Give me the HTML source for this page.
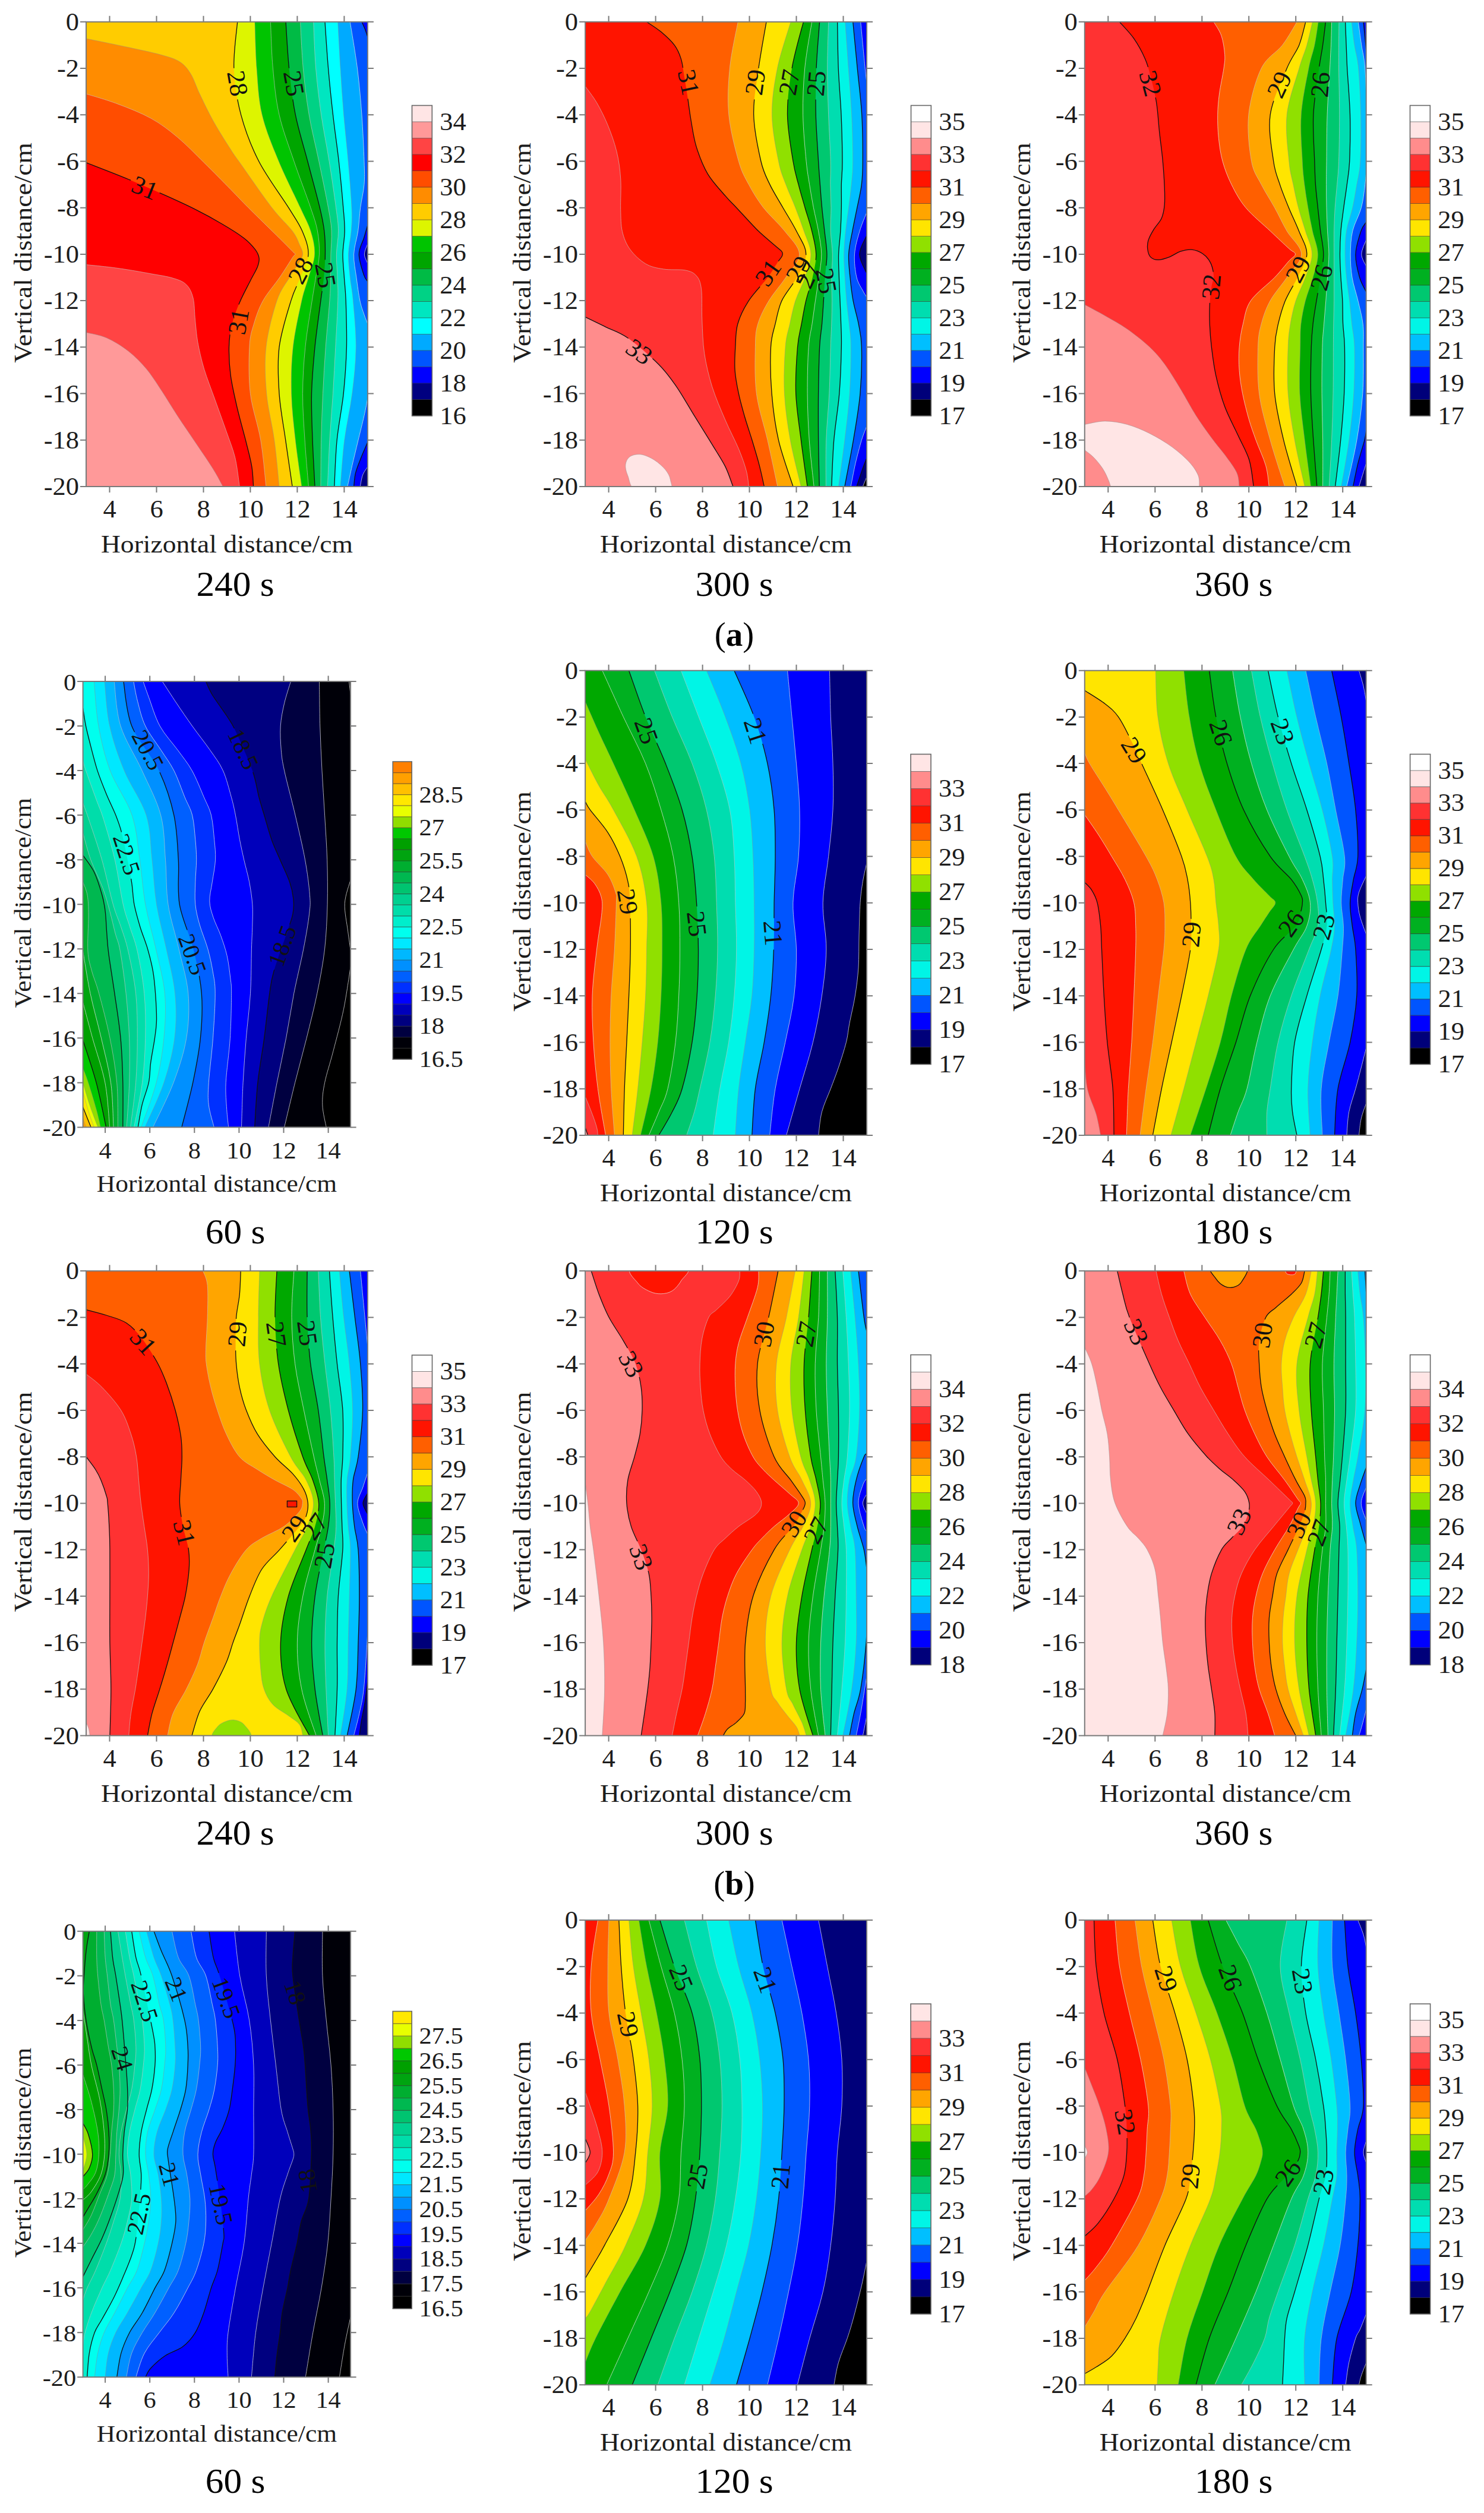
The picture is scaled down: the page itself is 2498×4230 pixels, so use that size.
<!DOCTYPE html>
<html><head><meta charset="utf-8"><title>Figure</title>
<style>html,body{margin:0;padding:0;background:#fff}svg{display:block}text{font-family:"Liberation Serif",serif}</style>
</head><body>
<svg width="2498" height="4230" viewBox="0 0 2498 4230">
<rect width="2498" height="4230" fill="#fff"/>
<clipPath id="c1"><rect x="145.0" y="36.8" width="473.9" height="782.2"/></clipPath>
<g clip-path="url(#c1)">
<rect x="144.0" y="35.8" width="475.9" height="784.2" fill="#00AAFF"/>
<path d="M568.7 36.8C569.5 49.8 571.4 88.9 573.1 115.0C574.7 141.1 576.4 167.2 578.6 193.2C580.8 219.3 583.9 245.4 586.1 271.5C588.4 297.5 591.2 330.1 592.0 349.7C592.9 369.2 592.2 375.8 591.3 388.8C590.3 401.8 586.8 414.9 586.5 427.9C586.2 440.9 588.0 454.0 589.3 467.0C590.6 480.0 592.8 486.6 594.4 506.1C596.1 525.7 599.4 558.3 599.2 584.3C598.9 610.4 596.1 636.5 592.8 662.6C589.6 688.6 583.1 714.7 579.8 740.8C576.5 766.9 574.2 806.0 573.1 819.0L573.1 824.0 L140.0 824.0L140.0 31.8 L568.7 31.8Z" fill="#00FFFF"/>
<path d="M547.0 36.8C547.9 49.8 550.3 88.9 552.6 115.0C554.8 141.1 557.5 167.2 560.5 193.2C563.4 219.3 567.4 245.4 570.3 271.5C573.2 297.5 576.2 330.1 577.8 349.7C579.5 369.2 580.3 375.8 580.2 388.8C580.1 401.8 577.2 414.9 577.0 427.9C576.9 440.9 578.6 454.0 579.4 467.0C580.3 480.0 581.5 486.6 582.2 506.1C582.8 525.7 584.0 558.3 583.4 584.3C582.7 610.4 580.9 636.5 578.2 662.6C575.5 688.6 569.7 714.7 567.2 740.8C564.6 766.9 563.5 806.0 562.8 819.0L562.8 824.0 L140.0 824.0L140.0 31.8 L547.0 31.8Z" fill="#00E6C0"/>
<path d="M527.7 36.8C528.3 49.8 529.5 88.9 531.6 115.0C533.8 141.1 537.0 167.2 540.7 193.2C544.5 219.3 550.0 245.4 554.1 271.5C558.3 297.5 563.0 330.1 565.6 349.7C568.2 369.2 569.4 375.8 569.5 388.8C569.7 401.8 566.6 414.9 566.4 427.9C566.1 440.9 567.6 454.0 568.0 467.0C568.4 480.0 569.3 486.6 568.7 506.1C568.2 525.7 566.2 558.3 564.8 584.3C563.4 610.4 562.1 636.5 560.5 662.6C558.8 688.6 556.4 714.7 554.9 740.8C553.4 766.9 552.0 806.0 551.4 819.0L551.4 824.0 L140.0 824.0L140.0 31.8 L527.7 31.8Z" fill="#00D285"/>
<path d="M505.6 36.8C506.3 49.8 507.9 88.9 510.3 115.0C512.7 141.1 515.8 167.2 520.2 193.2C524.6 219.3 531.4 245.4 536.8 271.5C542.2 297.5 549.0 330.1 552.6 349.7C556.1 369.2 557.4 375.8 558.1 388.8C558.8 401.8 557.2 414.9 556.9 427.9C556.6 440.9 556.8 454.0 556.5 467.0C556.2 480.0 556.3 486.6 554.9 506.1C553.5 525.7 550.1 558.3 548.2 584.3C546.3 610.4 544.7 636.5 543.5 662.6C542.2 688.6 541.3 714.7 540.7 740.8C540.1 766.9 540.0 806.0 539.9 819.0L539.9 824.0 L140.0 824.0L140.0 31.8 L505.6 31.8Z" fill="#00BB45"/>
<path d="M481.1 36.8C482.0 49.8 483.9 88.9 486.6 115.0C489.3 141.1 492.1 167.2 497.3 193.2C502.5 219.3 511.0 245.4 517.8 271.5C524.6 297.5 533.7 330.1 538.3 349.7C543.0 369.2 544.3 375.8 545.8 388.8C547.4 401.8 547.6 414.9 547.4 427.9C547.3 440.9 546.3 454.0 545.1 467.0C543.8 480.0 542.4 486.6 539.9 506.1C537.4 525.7 532.6 558.3 530.0 584.3C527.5 610.4 525.2 636.5 524.5 662.6C523.9 688.6 525.2 714.7 526.1 740.8C527.0 766.9 529.4 806.0 530.0 819.0L530.0 824.0 L140.0 824.0L140.0 31.8 L481.1 31.8Z" fill="#00A500"/>
<path d="M455.4 36.8C456.1 49.8 456.9 88.9 459.4 115.0C461.8 141.1 464.1 167.2 470.0 193.2C475.9 219.3 486.1 245.4 494.9 271.5C503.7 297.5 516.4 330.1 522.9 349.7C529.5 369.2 532.0 375.8 534.4 388.8C536.8 401.8 538.0 414.9 537.5 427.9C537.1 440.9 533.7 454.0 531.6 467.0C529.6 480.0 528.3 486.6 525.3 506.1C522.3 525.7 516.5 558.3 513.9 584.3C511.2 610.4 509.6 636.5 509.5 662.6C509.4 688.6 511.4 714.7 513.1 740.8C514.7 766.9 518.3 806.0 519.4 819.0L519.4 824.0 L140.0 824.0L140.0 31.8 L455.4 31.8Z" fill="#00C400"/>
<path d="M428.9 36.8C429.5 49.8 430.1 88.9 432.1 115.0C434.1 141.1 435.0 167.2 441.2 193.2C447.4 219.3 458.5 245.4 469.2 271.5C480.0 297.5 496.6 330.1 505.6 349.7C514.5 369.2 518.9 375.8 522.9 388.8C527.0 401.8 530.2 414.9 529.6 427.9C529.1 440.9 523.0 454.0 519.4 467.0C515.8 480.0 512.3 486.6 507.9 506.1C503.6 525.7 496.2 558.3 493.3 584.3C490.4 610.4 489.9 636.5 490.6 662.6C491.2 688.6 494.4 714.7 497.3 740.8C500.2 766.9 506.2 806.0 507.9 819.0L507.9 824.0 L140.0 824.0L140.0 31.8 L428.9 31.8Z" fill="#DDF500"/>
<path d="M399.7 36.8C398.7 49.8 392.8 88.9 393.8 115.0C394.8 141.1 398.7 167.2 405.6 193.2C412.6 219.3 422.3 245.4 435.7 271.5C449.0 297.5 473.6 330.1 485.8 349.7C498.0 369.2 503.2 375.8 508.7 388.8C514.2 401.8 519.5 414.9 519.0 427.9C518.5 440.9 510.4 454.0 505.6 467.0C500.7 480.0 495.7 486.6 489.8 506.1C483.8 525.7 473.3 558.3 470.0 584.3C466.7 610.4 468.2 636.5 470.0 662.6C471.8 688.6 477.0 714.7 480.7 740.8C484.4 766.9 490.2 806.0 492.1 819.0L492.1 824.0 L140.0 824.0L140.0 31.8 L399.7 31.8Z" fill="#FFCC00"/>
<path d="M145.0 65.0C156.9 67.4 195.2 75.2 216.5 79.8C237.7 84.4 258.2 88.7 272.6 92.7C286.9 96.8 294.5 98.8 302.6 104.1C310.7 109.3 315.5 115.4 321.1 124.4C326.7 133.4 329.9 144.9 336.1 158.0C342.4 171.1 350.0 187.4 358.6 203.0C367.3 218.6 380.4 239.3 388.3 251.5C396.1 263.8 394.1 260.2 405.6 276.5C417.2 292.9 443.4 331.0 457.8 349.7C472.2 368.4 484.4 378.4 492.1 388.8C499.9 399.2 501.5 405.7 504.4 412.3C507.3 418.8 509.8 422.7 509.5 427.9C509.2 433.1 506.1 437.0 502.4 443.5C498.7 450.1 493.4 456.6 487.4 467.0C481.3 477.4 472.6 486.6 466.1 506.1C459.5 525.7 450.8 558.3 447.9 584.3C445.0 610.4 446.4 636.5 448.7 662.6C451.0 688.6 458.2 714.7 461.7 740.8C465.3 766.9 468.6 806.0 470.0 819.0L470.0 824.0 L140.0 824.0L140.0 65.0Z" fill="#FF8C00"/>
<path d="M145.0 158.0C153.8 160.8 179.8 168.0 197.9 174.9C216.1 181.7 237.2 189.8 254.0 199.1C270.8 208.4 283.7 218.3 298.6 230.8C313.6 243.2 328.7 259.1 343.6 273.8C358.6 288.5 375.8 306.1 388.3 318.8C400.7 331.4 404.6 336.0 418.3 349.7C432.0 363.4 458.0 388.7 470.4 400.9C482.8 413.2 488.1 418.7 492.5 423.2C496.9 427.7 496.9 426.2 496.9 427.9C496.9 429.6 496.9 426.9 492.5 433.4C488.2 439.9 479.1 454.9 470.8 467.0C462.5 479.1 450.0 493.1 442.8 506.1C435.5 519.2 431.2 532.2 427.4 545.2C423.5 558.3 420.8 564.8 419.9 584.3C418.9 603.9 418.3 636.5 421.4 662.6C424.6 688.6 434.4 714.7 438.8 740.8C443.2 766.9 446.4 806.0 447.9 819.0L447.9 824.0 L140.0 824.0L140.0 158.0Z" fill="#FF4D00"/>
<path d="M145.0 273.8C156.9 278.5 194.0 292.6 216.5 302.0C239.0 311.3 261.4 321.3 280.1 329.7C298.8 338.1 313.1 344.6 328.6 352.4C344.2 360.2 359.6 368.6 373.3 376.7C387.0 384.7 401.4 393.7 410.8 400.9C420.1 408.1 425.1 414.1 429.3 419.7C433.6 425.3 435.4 429.6 436.1 434.5C436.7 439.5 435.7 443.2 433.3 449.4C430.9 455.6 426.8 461.7 421.8 471.7C416.8 481.7 408.5 496.8 403.3 509.2C398.0 521.7 393.2 534.0 390.2 546.4C387.3 558.9 385.8 569.6 385.5 583.9C385.2 598.3 385.9 615.0 388.3 632.4C390.6 649.8 395.4 669.7 399.7 688.4C404.1 707.0 410.3 728.1 414.3 744.3C418.3 760.5 421.8 772.9 423.8 785.4C425.9 797.8 426.1 813.4 426.6 819.0L426.6 824.0 L140.0 824.0L140.0 273.8Z" fill="#FF0000"/>
<path d="M145.0 445.5C153.8 446.5 179.8 448.8 197.9 451.4C216.1 453.9 238.5 457.9 254.0 460.8C269.5 463.6 281.2 465.1 291.1 468.2C301.1 471.2 308.0 473.5 313.6 479.1C319.3 484.7 322.6 491.8 325.1 501.8C327.6 511.8 327.3 526.5 328.6 539.0C330.0 551.4 330.5 562.8 333.0 576.5C335.5 590.2 338.8 604.9 343.6 621.1C348.5 637.3 356.0 656.1 362.2 673.5C368.4 690.9 375.2 709.4 380.8 725.5C386.4 741.7 392.0 754.9 395.8 770.5C399.5 786.1 402.0 810.9 403.3 819.0L403.3 824.0 L140.0 824.0L140.0 445.5Z" fill="#FF4444"/>
<path d="M145.0 559.7C150.7 561.2 167.4 563.4 179.4 568.7C191.3 574.0 205.3 582.6 216.5 591.4C227.7 600.1 237.1 609.9 246.5 621.1C255.8 632.3 263.9 645.5 272.6 658.6C281.2 671.8 289.3 685.4 298.6 699.7C308.0 714.0 318.6 729.4 328.6 744.3C338.6 759.2 350.9 776.8 358.6 789.3C366.4 801.7 372.5 814.0 375.2 819.0L375.2 824.0 L140.0 824.0L140.0 559.7Z" fill="#FF9999"/>
<path d="M589.3 36.8C591.3 49.8 598.2 88.9 601.5 115.0C604.8 141.1 607.1 167.2 609.0 193.2C610.9 219.3 612.3 251.9 613.0 271.5C613.6 291.0 614.0 297.5 613.0 310.6C611.9 323.6 608.4 336.6 606.7 349.7C604.9 362.7 604.6 375.8 602.7 388.8C600.9 401.8 596.1 414.9 595.6 427.9C595.1 440.9 598.2 454.0 599.9 467.0C601.7 480.0 603.7 495.7 605.9 506.1C608.0 516.5 610.8 523.1 613.0 529.6C615.1 536.1 617.9 542.6 618.9 545.2L623.9 545.2L623.9 31.8 L589.3 31.8Z" fill="#0055FF"/>
<path d="M618.9 670.4C617.9 675.3 615.7 687.8 613.0 699.7C610.3 711.6 606.1 728.0 602.7 742.0C599.4 755.9 595.8 770.6 592.8 783.4C589.9 796.3 586.3 813.1 584.9 819.0L584.9 824.0 L623.9 824.0L623.9 670.4Z" fill="#0055FF"/>
<path d="M609.0 36.8C610.0 39.1 613.3 46.3 615.0 50.5C616.6 54.7 618.2 60.3 618.9 62.2L623.9 62.2L623.9 31.8 L609.0 31.8Z" fill="#0000FF"/>
<path d="M618.9 379.0C617.8 382.6 615.0 392.4 612.6 400.5C610.1 408.7 604.3 417.5 604.3 427.9C604.3 438.3 610.1 455.5 612.6 463.1C615.0 470.7 617.8 471.9 618.9 473.7L623.9 473.7L623.9 379.0Z" fill="#0000FF"/>
<path d="M618.9 744.3C616.9 748.9 610.5 763.3 607.1 772.1C603.6 780.8 600.3 788.9 598.4 796.7C596.5 804.5 596.1 815.3 595.6 819.0L595.6 824.0 L623.9 824.0L623.9 744.3Z" fill="#0000FF"/>
<path d="M618.9 410.3C618.0 413.2 613.4 422.4 613.4 427.9C613.4 433.4 618.0 440.9 618.9 443.5L623.9 443.5L623.9 410.3Z" fill="#000080"/>
<path d="M618.9 785.8C617.5 788.0 612.7 793.9 610.6 799.4C608.5 805.0 607.0 815.7 606.3 819.0L606.3 824.0 L623.9 824.0L623.9 785.8Z" fill="#000080"/>
<path d="M568.7 36.8C569.5 49.8 571.4 88.9 573.1 115.0C574.7 141.1 576.4 167.2 578.6 193.2C580.8 219.3 583.9 245.4 586.1 271.5C588.4 297.5 591.2 330.1 592.0 349.7C592.9 369.2 592.2 375.8 591.3 388.8C590.3 401.8 586.8 414.9 586.5 427.9C586.2 440.9 588.0 454.0 589.3 467.0C590.6 480.0 592.8 486.6 594.4 506.1C596.1 525.7 599.4 558.3 599.2 584.3C598.9 610.4 596.1 636.5 592.8 662.6C589.6 688.6 583.1 714.7 579.8 740.8C576.5 766.9 574.2 806.0 573.1 819.0" fill="none" stroke="#8c8c8c" stroke-opacity="0.55" stroke-width="0.9"/>
<path d="M547.0 36.8C547.9 49.8 550.3 88.9 552.6 115.0C554.8 141.1 557.5 167.2 560.5 193.2C563.4 219.3 567.4 245.4 570.3 271.5C573.2 297.5 576.2 330.1 577.8 349.7C579.5 369.2 580.3 375.8 580.2 388.8C580.1 401.8 577.2 414.9 577.0 427.9C576.9 440.9 578.6 454.0 579.4 467.0C580.3 480.0 581.5 486.6 582.2 506.1C582.8 525.7 584.0 558.3 583.4 584.3C582.7 610.4 580.9 636.5 578.2 662.6C575.5 688.6 569.7 714.7 567.2 740.8C564.6 766.9 563.5 806.0 562.8 819.0" fill="none" stroke="#111" stroke-width="1.3"/>
<path d="M527.7 36.8C528.3 49.8 529.5 88.9 531.6 115.0C533.8 141.1 537.0 167.2 540.7 193.2C544.5 219.3 550.0 245.4 554.1 271.5C558.3 297.5 563.0 330.1 565.6 349.7C568.2 369.2 569.4 375.8 569.5 388.8C569.7 401.8 566.6 414.9 566.4 427.9C566.1 440.9 567.6 454.0 568.0 467.0C568.4 480.0 569.3 486.6 568.7 506.1C568.2 525.7 566.2 558.3 564.8 584.3C563.4 610.4 562.1 636.5 560.5 662.6C558.8 688.6 556.4 714.7 554.9 740.8C553.4 766.9 552.0 806.0 551.4 819.0" fill="none" stroke="#c8c8c8" stroke-opacity="0.70" stroke-width="0.9"/>
<path d="M505.6 36.8C506.3 49.8 507.9 88.9 510.3 115.0C512.7 141.1 515.8 167.2 520.2 193.2C524.6 219.3 531.4 245.4 536.8 271.5C542.2 297.5 549.0 330.1 552.6 349.7C556.1 369.2 557.4 375.8 558.1 388.8C558.8 401.8 557.2 414.9 556.9 427.9C556.6 440.9 556.8 454.0 556.5 467.0C556.2 480.0 556.3 486.6 554.9 506.1C553.5 525.7 550.1 558.3 548.2 584.3C546.3 610.4 544.7 636.5 543.5 662.6C542.2 688.6 541.3 714.7 540.7 740.8C540.1 766.9 540.0 806.0 539.9 819.0" fill="none" stroke="#c8c8c8" stroke-opacity="0.70" stroke-width="0.9"/>
<path d="M481.1 36.8C482.0 49.8 483.9 88.9 486.6 115.0C489.3 141.1 492.1 167.2 497.3 193.2C502.5 219.3 511.0 245.4 517.8 271.5C524.6 297.5 533.7 330.1 538.3 349.7C543.0 369.2 544.3 375.8 545.8 388.8C547.4 401.8 547.6 414.9 547.4 427.9C547.3 440.9 546.3 454.0 545.1 467.0C543.8 480.0 542.4 486.6 539.9 506.1C537.4 525.7 532.6 558.3 530.0 584.3C527.5 610.4 525.2 636.5 524.5 662.6C523.9 688.6 525.2 714.7 526.1 740.8C527.0 766.9 529.4 806.0 530.0 819.0" fill="none" stroke="#111" stroke-width="1.3" stroke-dasharray="78.1 53.0 276.5 53.0 99999.0"/>
<path d="M455.4 36.8C456.1 49.8 456.9 88.9 459.4 115.0C461.8 141.1 464.1 167.2 470.0 193.2C475.9 219.3 486.1 245.4 494.9 271.5C503.7 297.5 516.4 330.1 522.9 349.7C529.5 369.2 532.0 375.8 534.4 388.8C536.8 401.8 538.0 414.9 537.5 427.9C537.1 440.9 533.7 454.0 531.6 467.0C529.6 480.0 528.3 486.6 525.3 506.1C522.3 525.7 516.5 558.3 513.9 584.3C511.2 610.4 509.6 636.5 509.5 662.6C509.4 688.6 511.4 714.7 513.1 740.8C514.7 766.9 518.3 806.0 519.4 819.0" fill="none" stroke="#c8c8c8" stroke-opacity="0.70" stroke-width="0.9"/>
<path d="M428.9 36.8C429.5 49.8 430.1 88.9 432.1 115.0C434.1 141.1 435.0 167.2 441.2 193.2C447.4 219.3 458.5 245.4 469.2 271.5C480.0 297.5 496.6 330.1 505.6 349.7C514.5 369.2 518.9 375.8 522.9 388.8C527.0 401.8 530.2 414.9 529.6 427.9C529.1 440.9 523.0 454.0 519.4 467.0C515.8 480.0 512.3 486.6 507.9 506.1C503.6 525.7 496.2 558.3 493.3 584.3C490.4 610.4 489.9 636.5 490.6 662.6C491.2 688.6 494.4 714.7 497.3 740.8C500.2 766.9 506.2 806.0 507.9 819.0" fill="none" stroke="#8c8c8c" stroke-opacity="0.55" stroke-width="0.9"/>
<path d="M399.7 36.8C398.7 49.8 392.8 88.9 393.8 115.0C394.8 141.1 398.7 167.2 405.6 193.2C412.6 219.3 422.3 245.4 435.7 271.5C449.0 297.5 473.6 330.1 485.8 349.7C498.0 369.2 503.2 375.8 508.7 388.8C514.2 401.8 519.5 414.9 519.0 427.9C518.5 440.9 510.4 454.0 505.6 467.0C500.7 480.0 495.7 486.6 489.8 506.1C483.8 525.7 473.3 558.3 470.0 584.3C466.7 610.4 468.2 636.5 470.0 662.6C471.8 688.6 477.0 714.7 480.7 740.8C484.4 766.9 490.2 806.0 492.1 819.0" fill="none" stroke="#111" stroke-width="1.3" stroke-dasharray="78.2 53.0 294.2 53.0 99999.0"/>
<path d="M145.0 65.0C156.9 67.4 195.2 75.2 216.5 79.8C237.7 84.4 258.2 88.7 272.6 92.7C286.9 96.8 294.5 98.8 302.6 104.1C310.7 109.3 315.5 115.4 321.1 124.4C326.7 133.4 329.9 144.9 336.1 158.0C342.4 171.1 350.0 187.4 358.6 203.0C367.3 218.6 380.4 239.3 388.3 251.5C396.1 263.8 394.1 260.2 405.6 276.5C417.2 292.9 443.4 331.0 457.8 349.7C472.2 368.4 484.4 378.4 492.1 388.8C499.9 399.2 501.5 405.7 504.4 412.3C507.3 418.8 509.8 422.7 509.5 427.9C509.2 433.1 506.1 437.0 502.4 443.5C498.7 450.1 493.4 456.6 487.4 467.0C481.3 477.4 472.6 486.6 466.1 506.1C459.5 525.7 450.8 558.3 447.9 584.3C445.0 610.4 446.4 636.5 448.7 662.6C451.0 688.6 458.2 714.7 461.7 740.8C465.3 766.9 468.6 806.0 470.0 819.0" fill="none" stroke="#8c8c8c" stroke-opacity="0.55" stroke-width="0.9"/>
<path d="M145.0 158.0C153.8 160.8 179.8 168.0 197.9 174.9C216.1 181.7 237.2 189.8 254.0 199.1C270.8 208.4 283.7 218.3 298.6 230.8C313.6 243.2 328.7 259.1 343.6 273.8C358.6 288.5 375.8 306.1 388.3 318.8C400.7 331.4 404.6 336.0 418.3 349.7C432.0 363.4 458.0 388.7 470.4 400.9C482.8 413.2 488.1 418.7 492.5 423.2C496.9 427.7 496.9 426.2 496.9 427.9C496.9 429.6 496.9 426.9 492.5 433.4C488.2 439.9 479.1 454.9 470.8 467.0C462.5 479.1 450.0 493.1 442.8 506.1C435.5 519.2 431.2 532.2 427.4 545.2C423.5 558.3 420.8 564.8 419.9 584.3C418.9 603.9 418.3 636.5 421.4 662.6C424.6 688.6 434.4 714.7 438.8 740.8C443.2 766.9 446.4 806.0 447.9 819.0" fill="none" stroke="#c8c8c8" stroke-opacity="0.70" stroke-width="0.9"/>
<path d="M145.0 273.8C156.9 278.5 194.0 292.6 216.5 302.0C239.0 311.3 261.4 321.3 280.1 329.7C298.8 338.1 313.1 344.6 328.6 352.4C344.2 360.2 359.6 368.6 373.3 376.7C387.0 384.7 401.4 393.7 410.8 400.9C420.1 408.1 425.1 414.1 429.3 419.7C433.6 425.3 435.4 429.6 436.1 434.5C436.7 439.5 435.7 443.2 433.3 449.4C430.9 455.6 426.8 461.7 421.8 471.7C416.8 481.7 408.5 496.8 403.3 509.2C398.0 521.7 393.2 534.0 390.2 546.4C387.3 558.9 385.8 569.6 385.5 583.9C385.2 598.3 385.9 615.0 388.3 632.4C390.6 649.8 395.4 669.7 399.7 688.4C404.1 707.0 410.3 728.1 414.3 744.3C418.3 760.5 421.8 772.9 423.8 785.4C425.9 797.8 426.1 813.4 426.6 819.0" fill="none" stroke="#111" stroke-width="1.3" stroke-dasharray="80.6 53.0 290.3 53.0 99999.0"/>
<path d="M145.0 445.5C153.8 446.5 179.8 448.8 197.9 451.4C216.1 453.9 238.5 457.9 254.0 460.8C269.5 463.6 281.2 465.1 291.1 468.2C301.1 471.2 308.0 473.5 313.6 479.1C319.3 484.7 322.6 491.8 325.1 501.8C327.6 511.8 327.3 526.5 328.6 539.0C330.0 551.4 330.5 562.8 333.0 576.5C335.5 590.2 338.8 604.9 343.6 621.1C348.5 637.3 356.0 656.1 362.2 673.5C368.4 690.9 375.2 709.4 380.8 725.5C386.4 741.7 392.0 754.9 395.8 770.5C399.5 786.1 402.0 810.9 403.3 819.0" fill="none" stroke="#c8c8c8" stroke-opacity="0.70" stroke-width="0.9"/>
<path d="M145.0 559.7C150.7 561.2 167.4 563.4 179.4 568.7C191.3 574.0 205.3 582.6 216.5 591.4C227.7 600.1 237.1 609.9 246.5 621.1C255.8 632.3 263.9 645.5 272.6 658.6C281.2 671.8 289.3 685.4 298.6 699.7C308.0 714.0 318.6 729.4 328.6 744.3C338.6 759.2 350.9 776.8 358.6 789.3C366.4 801.7 372.5 814.0 375.2 819.0" fill="none" stroke="#8c8c8c" stroke-opacity="0.55" stroke-width="0.9"/>
<path d="M589.3 36.8C591.3 49.8 598.2 88.9 601.5 115.0C604.8 141.1 607.1 167.2 609.0 193.2C610.9 219.3 612.3 251.9 613.0 271.5C613.6 291.0 614.0 297.5 613.0 310.6C611.9 323.6 608.4 336.6 606.7 349.7C604.9 362.7 604.6 375.8 602.7 388.8C600.9 401.8 596.1 414.9 595.6 427.9C595.1 440.9 598.2 454.0 599.9 467.0C601.7 480.0 603.7 495.7 605.9 506.1C608.0 516.5 610.8 523.1 613.0 529.6C615.1 536.1 617.9 542.6 618.9 545.2" fill="none" stroke="#e8e8e8" stroke-opacity="0.80" stroke-width="0.9"/>
<path d="M618.9 670.4C617.9 675.3 615.7 687.8 613.0 699.7C610.3 711.6 606.1 728.0 602.7 742.0C599.4 755.9 595.8 770.6 592.8 783.4C589.9 796.3 586.3 813.1 584.9 819.0" fill="none" stroke="#e8e8e8" stroke-opacity="0.80" stroke-width="0.9"/>
<path d="M609.0 36.8C610.0 39.1 613.3 46.3 615.0 50.5C616.6 54.7 618.2 60.3 618.9 62.2" fill="none" stroke="#111" stroke-width="1.3"/>
<path d="M618.9 379.0C617.8 382.6 615.0 392.4 612.6 400.5C610.1 408.7 604.3 417.5 604.3 427.9C604.3 438.3 610.1 455.5 612.6 463.1C615.0 470.7 617.8 471.9 618.9 473.7" fill="none" stroke="#111" stroke-width="1.3"/>
<path d="M618.9 744.3C616.9 748.9 610.5 763.3 607.1 772.1C603.6 780.8 600.3 788.9 598.4 796.7C596.5 804.5 596.1 815.3 595.6 819.0" fill="none" stroke="#111" stroke-width="1.3"/>
<path d="M618.9 410.3C618.0 413.2 613.4 422.4 613.4 427.9C613.4 433.4 618.0 440.9 618.9 443.5" fill="none" stroke="#e8e8e8" stroke-opacity="0.80" stroke-width="0.9"/>
<path d="M618.9 785.8C617.5 788.0 612.7 793.9 610.6 799.4C608.5 805.0 607.0 815.7 606.3 819.0" fill="none" stroke="#e8e8e8" stroke-opacity="0.80" stroke-width="0.9"/>
<text transform="translate(399.7 140.4) rotate(80.0)" font-size="43" text-anchor="middle" y="14.2" fill="#111">28</text>
<text transform="translate(494.5 140.4) rotate(80.0)" font-size="43" text-anchor="middle" y="14.2" fill="#111">25</text>
<text transform="translate(243.7 316.4) rotate(22.0)" font-size="43" text-anchor="middle" y="14.2" fill="#111">31</text>
<text transform="translate(401.7 541.3) rotate(-80.0)" font-size="43" text-anchor="middle" y="14.2" fill="#111">31</text>
<text transform="translate(506.3 455.3) rotate(-62.0)" font-size="43" text-anchor="middle" y="14.2" fill="#111">28</text>
<text transform="translate(547.8 463.1) rotate(80.0)" font-size="43" text-anchor="middle" y="14.2" fill="#111">25</text>
</g>
<rect x="145.0" y="36.8" width="473.9" height="782.2" fill="none" stroke="#7a7a7a" stroke-width="2"/>
<path d="M184.5 36.8v-10.0M184.5 819.0v10.0M263.5 36.8v-10.0M263.5 819.0v10.0M342.5 36.8v-10.0M342.5 819.0v10.0M421.4 36.8v-10.0M421.4 819.0v10.0M500.4 36.8v-10.0M500.4 819.0v10.0M579.4 36.8v-10.0M579.4 819.0v10.0M145.0 36.8h-10.0M618.9 36.8h10.0M145.0 115.0h-10.0M618.9 115.0h10.0M145.0 193.2h-10.0M618.9 193.2h10.0M145.0 271.5h-10.0M618.9 271.5h10.0M145.0 349.7h-10.0M618.9 349.7h10.0M145.0 427.9h-10.0M618.9 427.9h10.0M145.0 506.1h-10.0M618.9 506.1h10.0M145.0 584.3h-10.0M618.9 584.3h10.0M145.0 662.6h-10.0M618.9 662.6h10.0M145.0 740.8h-10.0M618.9 740.8h10.0M145.0 819.0h-10.0M618.9 819.0h10.0" stroke="#7a7a7a" stroke-width="2" fill="none"/>
<text fill="#1c1c1c" transform="translate(184.5 871.0) scale(1.060 1)" font-size="42" text-anchor="middle">4</text>
<text fill="#1c1c1c" transform="translate(263.5 871.0) scale(1.060 1)" font-size="42" text-anchor="middle">6</text>
<text fill="#1c1c1c" transform="translate(342.5 871.0) scale(1.060 1)" font-size="42" text-anchor="middle">8</text>
<text fill="#1c1c1c" transform="translate(421.4 871.0) scale(1.060 1)" font-size="42" text-anchor="middle">10</text>
<text fill="#1c1c1c" transform="translate(500.4 871.0) scale(1.060 1)" font-size="42" text-anchor="middle">12</text>
<text fill="#1c1c1c" transform="translate(579.4 871.0) scale(1.060 1)" font-size="42" text-anchor="middle">14</text>
<text fill="#1c1c1c" transform="translate(133.0 50.8) scale(1.060 1)" font-size="42" text-anchor="end">0</text>
<text fill="#1c1c1c" transform="translate(133.0 129.0) scale(1.060 1)" font-size="42" text-anchor="end">-2</text>
<text fill="#1c1c1c" transform="translate(133.0 207.2) scale(1.060 1)" font-size="42" text-anchor="end">-4</text>
<text fill="#1c1c1c" transform="translate(133.0 285.5) scale(1.060 1)" font-size="42" text-anchor="end">-6</text>
<text fill="#1c1c1c" transform="translate(133.0 363.7) scale(1.060 1)" font-size="42" text-anchor="end">-8</text>
<text fill="#1c1c1c" transform="translate(133.0 441.9) scale(1.060 1)" font-size="42" text-anchor="end">-10</text>
<text fill="#1c1c1c" transform="translate(133.0 520.1) scale(1.060 1)" font-size="42" text-anchor="end">-12</text>
<text fill="#1c1c1c" transform="translate(133.0 598.3) scale(1.060 1)" font-size="42" text-anchor="end">-14</text>
<text fill="#1c1c1c" transform="translate(133.0 676.6) scale(1.060 1)" font-size="42" text-anchor="end">-16</text>
<text fill="#1c1c1c" transform="translate(133.0 754.8) scale(1.060 1)" font-size="42" text-anchor="end">-18</text>
<text fill="#1c1c1c" transform="translate(133.0 833.0) scale(1.060 1)" font-size="42" text-anchor="end">-20</text>
<text fill="#1c1c1c" transform="translate(381.9 930.0) scale(1.060 1)" font-size="43" text-anchor="middle">Horizontal distance/cm</text>
<text fill="#1c1c1c" transform="translate(53.0 425.4) rotate(-90) scale(1.060 1)" font-size="43" text-anchor="middle">Vertical distance/cm</text>
<text transform="translate(396.0 1002.5) scale(1.04 1)" font-size="59" text-anchor="middle" fill="#000">240 s</text>
<rect x="693.5" y="672.50" width="33.8" height="27.80" fill="#000000"/>
<rect x="693.5" y="645.00" width="33.8" height="27.80" fill="#000080"/>
<rect x="693.5" y="617.50" width="33.8" height="27.80" fill="#0000FF"/>
<rect x="693.5" y="590.00" width="33.8" height="27.80" fill="#0055FF"/>
<rect x="693.5" y="562.50" width="33.8" height="27.80" fill="#00AAFF"/>
<rect x="693.5" y="535.00" width="33.8" height="27.80" fill="#00FFFF"/>
<rect x="693.5" y="507.50" width="33.8" height="27.80" fill="#00E6C0"/>
<rect x="693.5" y="480.00" width="33.8" height="27.80" fill="#00D285"/>
<rect x="693.5" y="452.50" width="33.8" height="27.80" fill="#00BB45"/>
<rect x="693.5" y="425.00" width="33.8" height="27.80" fill="#00A500"/>
<rect x="693.5" y="397.50" width="33.8" height="27.80" fill="#00C400"/>
<rect x="693.5" y="370.00" width="33.8" height="27.80" fill="#DDF500"/>
<rect x="693.5" y="342.50" width="33.8" height="27.80" fill="#FFCC00"/>
<rect x="693.5" y="315.00" width="33.8" height="27.80" fill="#FF8C00"/>
<rect x="693.5" y="287.50" width="33.8" height="27.80" fill="#FF4D00"/>
<rect x="693.5" y="260.00" width="33.8" height="27.80" fill="#FF0000"/>
<rect x="693.5" y="232.50" width="33.8" height="27.80" fill="#FF4444"/>
<rect x="693.5" y="205.00" width="33.8" height="27.80" fill="#FF9999"/>
<rect x="693.5" y="177.50" width="33.8" height="27.80" fill="#FFE5E5"/>
<path d="M693.5 672.5h33.8M693.5 645.0h33.8M693.5 617.5h33.8M693.5 590.0h33.8M693.5 562.5h33.8M693.5 535.0h33.8M693.5 507.5h33.8M693.5 480.0h33.8M693.5 452.5h33.8M693.5 425.0h33.8M693.5 397.5h33.8M693.5 370.0h33.8M693.5 342.5h33.8M693.5 315.0h33.8M693.5 287.5h33.8M693.5 260.0h33.8M693.5 232.5h33.8M693.5 205.0h33.8" stroke="#333" stroke-opacity="0.6" stroke-width="1.2" fill="none"/>
<rect x="693.5" y="177.5" width="33.8" height="522.5" fill="none" stroke="#666" stroke-width="1.6"/>
<text fill="#1c1c1c" transform="translate(740.3 713.5) scale(1.060 1)" font-size="42">16</text>
<text fill="#1c1c1c" transform="translate(740.3 658.5) scale(1.060 1)" font-size="42">18</text>
<text fill="#1c1c1c" transform="translate(740.3 603.5) scale(1.060 1)" font-size="42">20</text>
<text fill="#1c1c1c" transform="translate(740.3 548.5) scale(1.060 1)" font-size="42">22</text>
<text fill="#1c1c1c" transform="translate(740.3 493.5) scale(1.060 1)" font-size="42">24</text>
<text fill="#1c1c1c" transform="translate(740.3 438.5) scale(1.060 1)" font-size="42">26</text>
<text fill="#1c1c1c" transform="translate(740.3 383.5) scale(1.060 1)" font-size="42">28</text>
<text fill="#1c1c1c" transform="translate(740.3 328.5) scale(1.060 1)" font-size="42">30</text>
<text fill="#1c1c1c" transform="translate(740.3 273.5) scale(1.060 1)" font-size="42">32</text>
<text fill="#1c1c1c" transform="translate(740.3 218.5) scale(1.060 1)" font-size="42">34</text>
<clipPath id="c2"><rect x="985.1" y="36.8" width="473.9" height="782.2"/></clipPath>
<g clip-path="url(#c2)">
<rect x="984.1" y="35.8" width="475.9" height="784.2" fill="#0055FF"/>
<path d="M1435.7 36.8C1437.0 49.8 1440.7 88.9 1443.2 115.0C1445.7 141.1 1449.2 167.2 1450.7 193.2C1452.2 219.3 1452.4 251.9 1452.3 271.5C1452.2 291.0 1451.9 297.5 1450.3 310.6C1448.7 323.6 1445.4 336.6 1442.8 349.7C1440.2 362.7 1437.3 375.8 1434.9 388.8C1432.5 401.8 1429.2 414.9 1428.6 427.9C1427.9 440.9 1429.7 454.0 1431.0 467.0C1432.2 480.0 1433.7 493.1 1436.1 506.1C1438.5 519.2 1442.8 532.2 1445.2 545.2C1447.5 558.3 1449.9 564.8 1450.3 584.3C1450.8 603.9 1450.2 636.5 1447.9 662.6C1445.6 688.6 1440.8 714.7 1436.5 740.8C1432.1 766.9 1424.3 806.0 1421.9 819.0L1421.9 824.0 L980.1 824.0L980.1 31.8 L1435.7 31.8Z" fill="#00BFFF"/>
<path d="M1422.7 36.8C1423.6 49.8 1426.4 88.9 1428.2 115.0C1430.0 141.1 1432.5 167.2 1433.7 193.2C1435.0 219.3 1435.8 251.9 1435.7 271.5C1435.6 291.0 1434.5 297.5 1433.3 310.6C1432.1 323.6 1430.2 336.6 1428.6 349.7C1426.9 362.7 1424.8 375.8 1423.5 388.8C1422.1 401.8 1420.9 414.9 1420.7 427.9C1420.5 440.9 1421.5 454.0 1422.3 467.0C1423.0 480.0 1423.9 493.1 1425.0 506.1C1426.2 519.2 1428.1 532.2 1429.4 545.2C1430.6 558.3 1432.4 564.8 1432.5 584.3C1432.7 603.9 1431.9 636.5 1430.2 662.6C1428.4 688.6 1425.0 714.7 1421.9 740.8C1418.8 766.9 1413.3 806.0 1411.6 819.0L1411.6 824.0 L980.1 824.0L980.1 31.8 L1422.7 31.8Z" fill="#00F5E6"/>
<path d="M1409.6 36.8C1409.9 49.8 1410.2 88.9 1411.2 115.0C1412.3 141.1 1414.8 167.2 1416.0 193.2C1417.1 219.3 1417.9 251.9 1417.9 271.5C1418.0 291.0 1416.6 297.5 1416.3 310.6C1416.1 323.6 1416.6 336.6 1416.3 349.7C1416.1 362.7 1415.6 375.8 1414.8 388.8C1414.0 401.8 1412.0 414.9 1411.6 427.9C1411.2 440.9 1412.0 454.0 1412.4 467.0C1412.8 480.0 1413.5 493.1 1414.0 506.1C1414.5 519.2 1415.2 532.2 1415.6 545.2C1416.0 558.3 1416.8 564.8 1416.3 584.3C1415.9 603.9 1414.9 636.5 1412.8 662.6C1410.7 688.6 1405.9 714.7 1403.7 740.8C1401.5 766.9 1400.4 806.0 1399.8 819.0L1399.8 824.0 L980.1 824.0L980.1 31.8 L1409.6 31.8Z" fill="#00DDB0"/>
<path d="M1394.6 36.8C1394.3 49.8 1392.7 88.9 1392.7 115.0C1392.7 141.1 1393.7 167.2 1394.6 193.2C1395.6 219.3 1397.7 251.9 1398.2 271.5C1398.7 291.0 1397.7 297.5 1397.8 310.6C1397.9 323.6 1398.9 336.6 1399.0 349.7C1399.0 362.7 1397.8 375.8 1398.2 388.8C1398.6 401.8 1401.1 414.9 1401.3 427.9C1401.6 440.9 1399.9 454.0 1399.8 467.0C1399.6 480.0 1400.6 493.1 1400.6 506.1C1400.6 519.2 1400.2 532.2 1399.8 545.2C1399.4 558.3 1398.8 564.8 1398.2 584.3C1397.5 603.9 1397.1 636.5 1395.8 662.6C1394.6 688.6 1391.6 714.7 1390.7 740.8C1389.8 766.9 1390.4 806.0 1390.3 819.0L1390.3 824.0 L980.1 824.0L980.1 31.8 L1394.6 31.8Z" fill="#00C870"/>
<path d="M1379.6 36.8C1378.7 49.8 1375.1 88.9 1374.1 115.0C1373.0 141.1 1372.7 167.2 1373.3 193.2C1373.9 219.3 1376.5 251.9 1377.6 271.5C1378.8 291.0 1379.4 297.5 1380.4 310.6C1381.4 323.6 1382.3 336.6 1383.6 349.7C1384.8 362.7 1386.5 375.8 1387.9 388.8C1389.3 401.8 1391.7 414.9 1391.9 427.9C1392.0 440.9 1389.6 454.0 1388.7 467.0C1387.8 480.0 1387.2 493.1 1386.3 506.1C1385.5 519.2 1384.7 532.2 1383.6 545.2C1382.5 558.3 1380.6 564.8 1379.6 584.3C1378.6 603.9 1378.0 636.5 1377.6 662.6C1377.3 688.6 1377.4 714.7 1377.6 740.8C1377.9 766.9 1379.0 806.0 1379.2 819.0L1379.2 824.0 L980.1 824.0L980.1 31.8 L1379.6 31.8Z" fill="#00B020"/>
<path d="M1366.6 36.8C1364.6 49.8 1357.2 88.9 1354.7 115.0C1352.2 141.1 1351.2 167.2 1351.6 193.2C1352.0 219.3 1355.3 251.9 1357.1 271.5C1359.0 291.0 1360.6 297.5 1362.6 310.6C1364.7 323.6 1366.9 336.6 1369.4 349.7C1371.9 362.7 1375.4 375.8 1377.6 388.8C1379.9 401.8 1382.6 414.9 1382.8 427.9C1382.9 440.9 1380.1 454.0 1378.4 467.0C1376.7 480.0 1374.4 493.1 1372.5 506.1C1370.6 519.2 1368.9 532.2 1367.0 545.2C1365.1 558.3 1362.4 564.8 1361.1 584.3C1359.7 603.9 1358.9 636.5 1359.1 662.6C1359.3 688.6 1360.4 714.7 1362.2 740.8C1364.1 766.9 1368.8 806.0 1370.1 819.0L1370.1 824.0 L980.1 824.0L980.1 31.8 L1366.6 31.8Z" fill="#00A800"/>
<path d="M1352.4 36.8C1349.1 49.8 1337.5 88.9 1333.0 115.0C1328.5 141.1 1325.2 167.2 1325.5 193.2C1325.8 219.3 1331.9 251.9 1335.0 271.5C1338.1 291.0 1340.7 297.5 1344.1 310.6C1347.4 323.6 1351.4 336.6 1355.1 349.7C1358.9 362.7 1363.5 375.8 1366.6 388.8C1369.7 401.8 1373.5 414.9 1373.7 427.9C1373.9 440.9 1370.6 454.0 1367.8 467.0C1364.9 480.0 1359.8 493.1 1356.7 506.1C1353.6 519.2 1351.6 532.2 1349.2 545.2C1346.8 558.3 1344.1 564.8 1342.5 584.3C1340.9 603.9 1338.7 636.5 1339.7 662.6C1340.7 688.6 1345.2 714.7 1348.4 740.8C1351.6 766.9 1357.3 806.0 1359.1 819.0L1359.1 824.0 L980.1 824.0L980.1 31.8 L1352.4 31.8Z" fill="#90E000"/>
<path d="M1331.0 36.8C1327.3 49.8 1313.8 88.9 1308.5 115.0C1303.3 141.1 1299.1 167.2 1299.5 193.2C1299.8 219.3 1306.6 251.9 1310.5 271.5C1314.4 291.0 1318.0 297.5 1322.8 310.6C1327.5 323.6 1333.9 336.6 1338.9 349.7C1344.0 362.7 1348.8 375.8 1353.2 388.8C1357.5 401.8 1364.7 414.9 1365.0 427.9C1365.3 440.9 1359.5 454.0 1355.1 467.0C1350.8 480.0 1343.2 493.1 1338.9 506.1C1334.7 519.2 1332.3 532.2 1329.5 545.2C1326.6 558.3 1323.5 564.8 1322.0 584.3C1320.5 603.9 1319.0 636.5 1320.4 662.6C1321.8 688.6 1325.6 714.7 1330.3 740.8C1334.9 766.9 1345.4 806.0 1348.4 819.0L1348.4 824.0 L980.1 824.0L980.1 31.8 L1331.0 31.8Z" fill="#FFE500"/>
<path d="M1290.0 36.8C1287.8 49.8 1280.5 88.9 1276.9 115.0C1273.4 141.1 1268.0 167.2 1268.7 193.2C1269.3 219.3 1276.4 251.9 1280.9 271.5C1285.4 291.0 1289.7 297.5 1295.9 310.6C1302.1 323.6 1310.6 336.6 1318.0 349.7C1325.5 362.7 1334.1 375.8 1340.5 388.8C1347.0 401.8 1356.6 414.9 1356.7 427.9C1356.8 440.9 1348.1 454.0 1341.3 467.0C1334.5 480.0 1322.1 493.1 1316.0 506.1C1310.0 519.2 1308.1 532.2 1305.0 545.2C1301.9 558.3 1298.5 564.8 1297.5 584.3C1296.5 603.9 1296.9 636.5 1299.1 662.6C1301.2 688.6 1304.5 714.7 1310.5 740.8C1316.5 766.9 1330.9 806.0 1335.0 819.0L1335.0 824.0 L980.1 824.0L980.1 31.8 L1290.0 31.8Z" fill="#FFA500"/>
<path d="M1242.2 36.8C1239.9 49.8 1230.9 88.9 1228.4 115.0C1225.8 141.1 1224.3 167.2 1226.8 193.2C1229.3 219.3 1237.8 251.9 1243.4 271.5C1249.0 291.0 1253.4 297.5 1260.4 310.6C1267.3 323.6 1275.2 336.6 1285.2 349.7C1295.3 362.7 1310.7 375.8 1320.8 388.8C1330.8 401.8 1345.3 414.9 1345.7 427.9C1346.0 440.9 1331.3 454.0 1322.8 467.0C1314.2 480.0 1302.2 493.1 1294.3 506.1C1286.5 519.2 1279.6 532.2 1275.8 545.2C1271.9 558.3 1271.8 564.8 1271.4 584.3C1271.0 603.9 1270.0 636.5 1273.4 662.6C1276.8 688.6 1286.0 714.7 1292.0 740.8C1297.9 766.9 1306.1 806.0 1308.9 819.0L1308.9 824.0 L980.1 824.0L980.1 31.8 L1242.2 31.8Z" fill="#FF5F00"/>
<path d="M1088.6 36.8C1092.6 39.6 1104.9 47.1 1112.7 53.6C1120.4 60.1 1129.6 68.4 1135.2 75.9C1140.8 83.4 1143.5 89.9 1146.2 98.6C1149.0 107.3 1149.8 117.2 1151.8 128.3C1153.7 139.5 1155.8 153.0 1157.7 165.5C1159.6 177.9 1160.8 189.3 1163.2 203.0C1165.6 216.7 1167.6 232.7 1172.3 247.6C1177.0 262.5 1183.2 278.9 1191.2 292.6C1199.3 306.3 1212.8 320.2 1220.9 329.7C1229.0 339.3 1230.5 339.8 1239.8 349.7C1249.1 359.5 1265.0 377.6 1276.5 388.8C1288.1 400.0 1302.3 411.1 1308.9 416.9C1315.6 422.8 1315.2 421.6 1316.4 424.0C1317.7 426.3 1317.7 428.1 1316.4 431.0C1315.2 434.0 1312.9 435.6 1308.9 441.6C1304.9 447.6 1300.4 456.3 1292.3 467.0C1284.2 477.8 1268.8 493.1 1260.4 506.1C1251.9 519.2 1245.5 532.2 1241.8 545.2C1238.0 558.3 1238.6 571.3 1237.8 584.3C1237.1 597.4 1236.1 610.4 1237.1 623.5C1238.0 636.5 1240.6 649.5 1243.4 662.6C1246.1 675.6 1249.9 688.6 1253.6 701.7C1257.4 714.7 1261.9 727.7 1265.9 740.8C1269.8 753.8 1273.9 766.9 1277.3 779.9C1280.8 792.9 1284.9 812.5 1286.4 819.0L1286.4 824.0 L980.1 824.0L980.1 31.8 L1088.6 31.8Z" fill="#FF1400"/>
<path d="M985.1 145.1C988.3 149.8 998.1 162.0 1004.5 172.9C1010.8 183.8 1017.4 196.8 1023.0 210.4C1028.6 224.1 1034.4 240.1 1038.0 255.0C1041.6 270.0 1043.6 283.8 1044.7 300.0C1045.9 316.2 1044.3 337.5 1044.7 352.4C1045.2 367.3 1044.9 378.4 1047.5 389.6C1050.1 400.8 1054.0 410.6 1060.5 419.7C1067.0 428.7 1077.2 438.4 1086.6 443.9C1095.9 449.5 1105.4 451.1 1116.6 452.9C1127.8 454.8 1144.4 453.0 1153.7 454.9C1163.0 456.8 1167.8 459.0 1172.3 464.3C1176.8 469.6 1179.0 474.1 1180.6 486.6C1182.2 499.0 1180.9 520.9 1181.8 539.0C1182.6 557.0 1182.9 576.3 1185.7 594.9C1188.5 613.5 1192.9 632.1 1198.7 650.8C1204.6 669.5 1213.4 689.7 1220.9 707.1C1228.3 724.6 1237.5 741.4 1243.4 755.6C1249.3 769.9 1253.6 782.2 1256.4 792.8C1259.2 803.4 1259.7 814.6 1260.4 819.0L1260.4 824.0 L980.1 824.0L980.1 145.1Z" fill="#FF3232"/>
<path d="M985.1 533.5C990.8 536.3 1007.5 544.4 1019.5 550.3C1031.4 556.2 1041.6 558.1 1056.6 568.7C1071.5 579.3 1095.4 600.0 1109.1 613.7C1122.8 627.4 1128.8 636.5 1138.7 650.8C1148.7 665.2 1158.7 683.5 1168.7 699.7C1178.7 715.9 1190.1 733.9 1198.7 748.2C1207.4 762.5 1215.0 773.6 1220.9 785.4C1226.7 797.2 1231.7 813.4 1233.9 819.0L1233.9 824.0 L980.1 824.0L980.1 533.5Z" fill="#FF8C8C"/>
<path d="M1053.0 781.8C1053.7 776.6 1056.2 771.4 1060.5 768.5C1064.9 765.7 1072.2 764.1 1079.1 765.0C1085.9 766.0 1094.8 770.1 1101.6 774.4C1108.4 778.7 1115.7 785.3 1120.2 790.8C1124.6 796.4 1127.5 801.7 1128.5 807.7C1129.4 813.7 1135.2 823.6 1125.7 826.8C1116.2 830.0 1083.1 831.3 1071.6 826.8C1060.1 822.4 1059.7 807.7 1056.6 800.2C1053.5 792.7 1052.4 787.1 1053.0 781.8Z" fill="#FFE5E5"/>
<path d="M1448.7 36.8C1450.0 49.8 1454.5 98.1 1456.2 115.0C1457.9 132.0 1458.5 134.6 1459.0 138.5L1464.0 138.5L1464.0 31.8 L1448.7 31.8Z" fill="#0000FF"/>
<path d="M1459.0 357.5C1457.0 362.7 1450.6 377.1 1447.2 388.8C1443.7 400.5 1439.3 414.9 1438.5 427.9C1437.6 440.9 1439.6 456.6 1442.0 467.0C1444.5 477.4 1450.2 484.9 1453.1 490.5C1455.9 496.0 1458.0 498.6 1459.0 500.3L1464.0 500.3L1464.0 357.5Z" fill="#0000FF"/>
<path d="M1459.0 396.2C1457.0 401.5 1446.8 417.2 1446.8 427.9C1446.8 438.6 1457.0 455.0 1459.0 460.4L1464.0 460.4L1464.0 396.2Z" fill="#00007A"/>
<path d="M1459.0 717.3C1457.6 721.2 1453.5 730.4 1450.3 740.8C1447.2 751.2 1443.1 766.9 1440.0 779.9C1437.0 792.9 1433.5 812.5 1432.1 819.0L1432.1 824.0 L1464.0 824.0L1464.0 717.3Z" fill="#0000FF"/>
<path d="M1459.0 770.9C1457.7 774.3 1453.9 783.6 1451.1 791.6C1448.3 799.6 1443.5 814.4 1442.0 819.0L1442.0 824.0 L1464.0 824.0L1464.0 770.9Z" fill="#00007A"/>
<path d="M1459.0 802.6C1457.9 805.3 1453.4 816.3 1452.3 819.0L1452.3 824.0 L1464.0 824.0L1464.0 802.6Z" fill="#000000"/>
<path d="M1435.7 36.8C1437.0 49.8 1440.7 88.9 1443.2 115.0C1445.7 141.1 1449.2 167.2 1450.7 193.2C1452.2 219.3 1452.4 251.9 1452.3 271.5C1452.2 291.0 1451.9 297.5 1450.3 310.6C1448.7 323.6 1445.4 336.6 1442.8 349.7C1440.2 362.7 1437.3 375.8 1434.9 388.8C1432.5 401.8 1429.2 414.9 1428.6 427.9C1427.9 440.9 1429.7 454.0 1431.0 467.0C1432.2 480.0 1433.7 493.1 1436.1 506.1C1438.5 519.2 1442.8 532.2 1445.2 545.2C1447.5 558.3 1449.9 564.8 1450.3 584.3C1450.8 603.9 1450.2 636.5 1447.9 662.6C1445.6 688.6 1440.8 714.7 1436.5 740.8C1432.1 766.9 1424.3 806.0 1421.9 819.0" fill="none" stroke="#111" stroke-width="1.3"/>
<path d="M1422.7 36.8C1423.6 49.8 1426.4 88.9 1428.2 115.0C1430.0 141.1 1432.5 167.2 1433.7 193.2C1435.0 219.3 1435.8 251.9 1435.7 271.5C1435.6 291.0 1434.5 297.5 1433.3 310.6C1432.1 323.6 1430.2 336.6 1428.6 349.7C1426.9 362.7 1424.8 375.8 1423.5 388.8C1422.1 401.8 1420.9 414.9 1420.7 427.9C1420.5 440.9 1421.5 454.0 1422.3 467.0C1423.0 480.0 1423.9 493.1 1425.0 506.1C1426.2 519.2 1428.1 532.2 1429.4 545.2C1430.6 558.3 1432.4 564.8 1432.5 584.3C1432.7 603.9 1431.9 636.5 1430.2 662.6C1428.4 688.6 1425.0 714.7 1421.9 740.8C1418.8 766.9 1413.3 806.0 1411.6 819.0" fill="none" stroke="#8c8c8c" stroke-opacity="0.55" stroke-width="0.9"/>
<path d="M1409.6 36.8C1409.9 49.8 1410.2 88.9 1411.2 115.0C1412.3 141.1 1414.8 167.2 1416.0 193.2C1417.1 219.3 1417.9 251.9 1417.9 271.5C1418.0 291.0 1416.6 297.5 1416.3 310.6C1416.1 323.6 1416.6 336.6 1416.3 349.7C1416.1 362.7 1415.6 375.8 1414.8 388.8C1414.0 401.8 1412.0 414.9 1411.6 427.9C1411.2 440.9 1412.0 454.0 1412.4 467.0C1412.8 480.0 1413.5 493.1 1414.0 506.1C1414.5 519.2 1415.2 532.2 1415.6 545.2C1416.0 558.3 1416.8 564.8 1416.3 584.3C1415.9 603.9 1414.9 636.5 1412.8 662.6C1410.7 688.6 1405.9 714.7 1403.7 740.8C1401.5 766.9 1400.4 806.0 1399.8 819.0" fill="none" stroke="#111" stroke-width="1.3"/>
<path d="M1394.6 36.8C1394.3 49.8 1392.7 88.9 1392.7 115.0C1392.7 141.1 1393.7 167.2 1394.6 193.2C1395.6 219.3 1397.7 251.9 1398.2 271.5C1398.7 291.0 1397.7 297.5 1397.8 310.6C1397.9 323.6 1398.9 336.6 1399.0 349.7C1399.0 362.7 1397.8 375.8 1398.2 388.8C1398.6 401.8 1401.1 414.9 1401.3 427.9C1401.6 440.9 1399.9 454.0 1399.8 467.0C1399.6 480.0 1400.6 493.1 1400.6 506.1C1400.6 519.2 1400.2 532.2 1399.8 545.2C1399.4 558.3 1398.8 564.8 1398.2 584.3C1397.5 603.9 1397.1 636.5 1395.8 662.6C1394.6 688.6 1391.6 714.7 1390.7 740.8C1389.8 766.9 1390.4 806.0 1390.3 819.0" fill="none" stroke="#c8c8c8" stroke-opacity="0.70" stroke-width="0.9"/>
<path d="M1379.6 36.8C1378.7 49.8 1375.1 88.9 1374.1 115.0C1373.0 141.1 1372.7 167.2 1373.3 193.2C1373.9 219.3 1376.5 251.9 1377.6 271.5C1378.8 291.0 1379.4 297.5 1380.4 310.6C1381.4 323.6 1382.3 336.6 1383.6 349.7C1384.8 362.7 1386.5 375.8 1387.9 388.8C1389.3 401.8 1391.7 414.9 1391.9 427.9C1392.0 440.9 1389.6 454.0 1388.7 467.0C1387.8 480.0 1387.2 493.1 1386.3 506.1C1385.5 519.2 1384.7 532.2 1383.6 545.2C1382.5 558.3 1380.6 564.8 1379.6 584.3C1378.6 603.9 1378.0 636.5 1377.6 662.6C1377.3 688.6 1377.4 714.7 1377.6 740.8C1377.9 766.9 1379.0 806.0 1379.2 819.0" fill="none" stroke="#111" stroke-width="1.3" stroke-dasharray="78.0 53.0 280.4 53.0 99999.0"/>
<path d="M1366.6 36.8C1364.6 49.8 1357.2 88.9 1354.7 115.0C1352.2 141.1 1351.2 167.2 1351.6 193.2C1352.0 219.3 1355.3 251.9 1357.1 271.5C1359.0 291.0 1360.6 297.5 1362.6 310.6C1364.7 323.6 1366.9 336.6 1369.4 349.7C1371.9 362.7 1375.4 375.8 1377.6 388.8C1379.9 401.8 1382.6 414.9 1382.8 427.9C1382.9 440.9 1380.1 454.0 1378.4 467.0C1376.7 480.0 1374.4 493.1 1372.5 506.1C1370.6 519.2 1368.9 532.2 1367.0 545.2C1365.1 558.3 1362.4 564.8 1361.1 584.3C1359.7 603.9 1358.9 636.5 1359.1 662.6C1359.3 688.6 1360.4 714.7 1362.2 740.8C1364.1 766.9 1368.8 806.0 1370.1 819.0" fill="none" stroke="#e8e8e8" stroke-opacity="0.80" stroke-width="0.9"/>
<path d="M1352.4 36.8C1349.1 49.8 1337.5 88.9 1333.0 115.0C1328.5 141.1 1325.2 167.2 1325.5 193.2C1325.8 219.3 1331.9 251.9 1335.0 271.5C1338.1 291.0 1340.7 297.5 1344.1 310.6C1347.4 323.6 1351.4 336.6 1355.1 349.7C1358.9 362.7 1363.5 375.8 1366.6 388.8C1369.7 401.8 1373.5 414.9 1373.7 427.9C1373.9 440.9 1370.6 454.0 1367.8 467.0C1364.9 480.0 1359.8 493.1 1356.7 506.1C1353.6 519.2 1351.6 532.2 1349.2 545.2C1346.8 558.3 1344.1 564.8 1342.5 584.3C1340.9 603.9 1338.7 636.5 1339.7 662.6C1340.7 688.6 1345.2 714.7 1348.4 740.8C1351.6 766.9 1357.3 806.0 1359.1 819.0" fill="none" stroke="#111" stroke-width="1.3" stroke-dasharray="80.5 53.0 275.9 53.0 99999.0"/>
<path d="M1331.0 36.8C1327.3 49.8 1313.8 88.9 1308.5 115.0C1303.3 141.1 1299.1 167.2 1299.5 193.2C1299.8 219.3 1306.6 251.9 1310.5 271.5C1314.4 291.0 1318.0 297.5 1322.8 310.6C1327.5 323.6 1333.9 336.6 1338.9 349.7C1344.0 362.7 1348.8 375.8 1353.2 388.8C1357.5 401.8 1364.7 414.9 1365.0 427.9C1365.3 440.9 1359.5 454.0 1355.1 467.0C1350.8 480.0 1343.2 493.1 1338.9 506.1C1334.7 519.2 1332.3 532.2 1329.5 545.2C1326.6 558.3 1323.5 564.8 1322.0 584.3C1320.5 603.9 1319.0 636.5 1320.4 662.6C1321.8 688.6 1325.6 714.7 1330.3 740.8C1334.9 766.9 1345.4 806.0 1348.4 819.0" fill="none" stroke="#8c8c8c" stroke-opacity="0.55" stroke-width="0.9"/>
<path d="M1290.0 36.8C1287.8 49.8 1280.5 88.9 1276.9 115.0C1273.4 141.1 1268.0 167.2 1268.7 193.2C1269.3 219.3 1276.4 251.9 1280.9 271.5C1285.4 291.0 1289.7 297.5 1295.9 310.6C1302.1 323.6 1310.6 336.6 1318.0 349.7C1325.5 362.7 1334.1 375.8 1340.5 388.8C1347.0 401.8 1356.6 414.9 1356.7 427.9C1356.8 440.9 1348.1 454.0 1341.3 467.0C1334.5 480.0 1322.1 493.1 1316.0 506.1C1310.0 519.2 1308.1 532.2 1305.0 545.2C1301.9 558.3 1298.5 564.8 1297.5 584.3C1296.5 603.9 1296.9 636.5 1299.1 662.6C1301.2 688.6 1304.5 714.7 1310.5 740.8C1316.5 766.9 1330.9 806.0 1335.0 819.0" fill="none" stroke="#111" stroke-width="1.3" stroke-dasharray="79.2 53.0 281.2 53.0 99999.0"/>
<path d="M1242.2 36.8C1239.9 49.8 1230.9 88.9 1228.4 115.0C1225.8 141.1 1224.3 167.2 1226.8 193.2C1229.3 219.3 1237.8 251.9 1243.4 271.5C1249.0 291.0 1253.4 297.5 1260.4 310.6C1267.3 323.6 1275.2 336.6 1285.2 349.7C1295.3 362.7 1310.7 375.8 1320.8 388.8C1330.8 401.8 1345.3 414.9 1345.7 427.9C1346.0 440.9 1331.3 454.0 1322.8 467.0C1314.2 480.0 1302.2 493.1 1294.3 506.1C1286.5 519.2 1279.6 532.2 1275.8 545.2C1271.9 558.3 1271.8 564.8 1271.4 584.3C1271.0 603.9 1270.0 636.5 1273.4 662.6C1276.8 688.6 1286.0 714.7 1292.0 740.8C1297.9 766.9 1306.1 806.0 1308.9 819.0" fill="none" stroke="#c8c8c8" stroke-opacity="0.70" stroke-width="0.9"/>
<path d="M1088.6 36.8C1092.6 39.6 1104.9 47.1 1112.7 53.6C1120.4 60.1 1129.6 68.4 1135.2 75.9C1140.8 83.4 1143.5 89.9 1146.2 98.6C1149.0 107.3 1149.8 117.2 1151.8 128.3C1153.7 139.5 1155.8 153.0 1157.7 165.5C1159.6 177.9 1160.8 189.3 1163.2 203.0C1165.6 216.7 1167.6 232.7 1172.3 247.6C1177.0 262.5 1183.2 278.9 1191.2 292.6C1199.3 306.3 1212.8 320.2 1220.9 329.7C1229.0 339.3 1230.5 339.8 1239.8 349.7C1249.1 359.5 1265.0 377.6 1276.5 388.8C1288.1 400.0 1302.3 411.1 1308.9 416.9C1315.6 422.8 1315.2 421.6 1316.4 424.0C1317.7 426.3 1317.7 428.1 1316.4 431.0C1315.2 434.0 1312.9 435.6 1308.9 441.6C1304.9 447.6 1300.4 456.3 1292.3 467.0C1284.2 477.8 1268.8 493.1 1260.4 506.1C1251.9 519.2 1245.5 532.2 1241.8 545.2C1238.0 558.3 1238.6 571.3 1237.8 584.3C1237.1 597.4 1236.1 610.4 1237.1 623.5C1238.0 636.5 1240.6 649.5 1243.4 662.6C1246.1 675.6 1249.9 688.6 1253.6 701.7C1257.4 714.7 1261.9 727.7 1265.9 740.8C1269.8 753.8 1273.9 766.9 1277.3 779.9C1280.8 792.9 1284.9 812.5 1286.4 819.0" fill="none" stroke="#111" stroke-width="1.3" stroke-dasharray="102.3 53.0 331.4 53.0 99999.0"/>
<path d="M985.1 145.1C988.3 149.8 998.1 162.0 1004.5 172.9C1010.8 183.8 1017.4 196.8 1023.0 210.4C1028.6 224.1 1034.4 240.1 1038.0 255.0C1041.6 270.0 1043.6 283.8 1044.7 300.0C1045.9 316.2 1044.3 337.5 1044.7 352.4C1045.2 367.3 1044.9 378.4 1047.5 389.6C1050.1 400.8 1054.0 410.6 1060.5 419.7C1067.0 428.7 1077.2 438.4 1086.6 443.9C1095.9 449.5 1105.4 451.1 1116.6 452.9C1127.8 454.8 1144.4 453.0 1153.7 454.9C1163.0 456.8 1167.8 459.0 1172.3 464.3C1176.8 469.6 1179.0 474.1 1180.6 486.6C1182.2 499.0 1180.9 520.9 1181.8 539.0C1182.6 557.0 1182.9 576.3 1185.7 594.9C1188.5 613.5 1192.9 632.1 1198.7 650.8C1204.6 669.5 1213.4 689.7 1220.9 707.1C1228.3 724.6 1237.5 741.4 1243.4 755.6C1249.3 769.9 1253.6 782.2 1256.4 792.8C1259.2 803.4 1259.7 814.6 1260.4 819.0" fill="none" stroke="#c8c8c8" stroke-opacity="0.70" stroke-width="0.9"/>
<path d="M985.1 533.5C990.8 536.3 1007.5 544.4 1019.5 550.3C1031.4 556.2 1041.6 558.1 1056.6 568.7C1071.5 579.3 1095.4 600.0 1109.1 613.7C1122.8 627.4 1128.8 636.5 1138.7 650.8C1148.7 665.2 1158.7 683.5 1168.7 699.7C1178.7 715.9 1190.1 733.9 1198.7 748.2C1207.4 762.5 1215.0 773.6 1220.9 785.4C1226.7 797.2 1231.7 813.4 1233.9 819.0" fill="none" stroke="#111" stroke-width="1.3" stroke-dasharray="81.2 53.0 99999.0"/>
<path d="M1053.0 781.8C1053.7 776.6 1056.2 771.4 1060.5 768.5C1064.9 765.7 1072.2 764.1 1079.1 765.0C1085.9 766.0 1094.8 770.1 1101.6 774.4C1108.4 778.7 1115.7 785.3 1120.2 790.8C1124.6 796.4 1127.5 801.7 1128.5 807.7C1129.4 813.7 1135.2 823.6 1125.7 826.8C1116.2 830.0 1083.1 831.3 1071.6 826.8C1060.1 822.4 1059.7 807.7 1056.6 800.2C1053.5 792.7 1052.4 787.1 1053.0 781.8Z" fill="none" stroke="#8c8c8c" stroke-opacity="0.55" stroke-width="0.9"/>
<path d="M1448.7 36.8C1450.0 49.8 1454.5 98.1 1456.2 115.0C1457.9 132.0 1458.5 134.6 1459.0 138.5" fill="none" stroke="#e8e8e8" stroke-opacity="0.80" stroke-width="0.9"/>
<path d="M1459.0 357.5C1457.0 362.7 1450.6 377.1 1447.2 388.8C1443.7 400.5 1439.3 414.9 1438.5 427.9C1437.6 440.9 1439.6 456.6 1442.0 467.0C1444.5 477.4 1450.2 484.9 1453.1 490.5C1455.9 496.0 1458.0 498.6 1459.0 500.3" fill="none" stroke="#e8e8e8" stroke-opacity="0.80" stroke-width="0.9"/>
<path d="M1459.0 396.2C1457.0 401.5 1446.8 417.2 1446.8 427.9C1446.8 438.6 1457.0 455.0 1459.0 460.4" fill="none" stroke="#111" stroke-width="1.3"/>
<path d="M1459.0 717.3C1457.6 721.2 1453.5 730.4 1450.3 740.8C1447.2 751.2 1443.1 766.9 1440.0 779.9C1437.0 792.9 1433.5 812.5 1432.1 819.0" fill="none" stroke="#e8e8e8" stroke-opacity="0.80" stroke-width="0.9"/>
<path d="M1459.0 770.9C1457.7 774.3 1453.9 783.6 1451.1 791.6C1448.3 799.6 1443.5 814.4 1442.0 819.0" fill="none" stroke="#111" stroke-width="1.3"/>
<path d="M1459.0 802.6C1457.9 805.3 1453.4 816.3 1452.3 819.0" fill="none" stroke="#e8e8e8" stroke-opacity="0.80" stroke-width="0.9"/>
<text transform="translate(1158.9 138.5) rotate(78.0)" font-size="43" text-anchor="middle" y="14.2" fill="#111">31</text>
<text transform="translate(1271.4 138.5) rotate(-82.0)" font-size="43" text-anchor="middle" y="14.2" fill="#111">29</text>
<text transform="translate(1328.7 138.5) rotate(-80.0)" font-size="43" text-anchor="middle" y="14.2" fill="#111">27</text>
<text transform="translate(1374.1 140.4) rotate(-85.0)" font-size="43" text-anchor="middle" y="14.2" fill="#111">25</text>
<text transform="translate(1293.1 459.2) rotate(-55.0)" font-size="43" text-anchor="middle" y="14.2" fill="#111">31</text>
<text transform="translate(1344.5 453.3) rotate(-60.0)" font-size="43" text-anchor="middle" y="14.2" fill="#111">29</text>
<text transform="translate(1360.3 463.1) rotate(-65.0)" font-size="43" text-anchor="middle" y="14.2" fill="#111">27</text>
<text transform="translate(1390.7 472.9) rotate(80.0)" font-size="43" text-anchor="middle" y="14.2" fill="#111">25</text>
<text transform="translate(1075.9 592.2) rotate(35.0)" font-size="43" text-anchor="middle" y="14.2" fill="#111">33</text>
</g>
<rect x="985.1" y="36.8" width="473.9" height="782.2" fill="none" stroke="#7a7a7a" stroke-width="2"/>
<path d="M1024.6 36.8v-10.0M1024.6 819.0v10.0M1103.6 36.8v-10.0M1103.6 819.0v10.0M1182.6 36.8v-10.0M1182.6 819.0v10.0M1261.5 36.8v-10.0M1261.5 819.0v10.0M1340.5 36.8v-10.0M1340.5 819.0v10.0M1419.5 36.8v-10.0M1419.5 819.0v10.0M985.1 36.8h-10.0M1459.0 36.8h10.0M985.1 115.0h-10.0M1459.0 115.0h10.0M985.1 193.2h-10.0M1459.0 193.2h10.0M985.1 271.5h-10.0M1459.0 271.5h10.0M985.1 349.7h-10.0M1459.0 349.7h10.0M985.1 427.9h-10.0M1459.0 427.9h10.0M985.1 506.1h-10.0M1459.0 506.1h10.0M985.1 584.3h-10.0M1459.0 584.3h10.0M985.1 662.6h-10.0M1459.0 662.6h10.0M985.1 740.8h-10.0M1459.0 740.8h10.0M985.1 819.0h-10.0M1459.0 819.0h10.0" stroke="#7a7a7a" stroke-width="2" fill="none"/>
<text fill="#1c1c1c" transform="translate(1024.6 871.0) scale(1.060 1)" font-size="42" text-anchor="middle">4</text>
<text fill="#1c1c1c" transform="translate(1103.6 871.0) scale(1.060 1)" font-size="42" text-anchor="middle">6</text>
<text fill="#1c1c1c" transform="translate(1182.6 871.0) scale(1.060 1)" font-size="42" text-anchor="middle">8</text>
<text fill="#1c1c1c" transform="translate(1261.5 871.0) scale(1.060 1)" font-size="42" text-anchor="middle">10</text>
<text fill="#1c1c1c" transform="translate(1340.5 871.0) scale(1.060 1)" font-size="42" text-anchor="middle">12</text>
<text fill="#1c1c1c" transform="translate(1419.5 871.0) scale(1.060 1)" font-size="42" text-anchor="middle">14</text>
<text fill="#1c1c1c" transform="translate(973.1 50.8) scale(1.060 1)" font-size="42" text-anchor="end">0</text>
<text fill="#1c1c1c" transform="translate(973.1 129.0) scale(1.060 1)" font-size="42" text-anchor="end">-2</text>
<text fill="#1c1c1c" transform="translate(973.1 207.2) scale(1.060 1)" font-size="42" text-anchor="end">-4</text>
<text fill="#1c1c1c" transform="translate(973.1 285.5) scale(1.060 1)" font-size="42" text-anchor="end">-6</text>
<text fill="#1c1c1c" transform="translate(973.1 363.7) scale(1.060 1)" font-size="42" text-anchor="end">-8</text>
<text fill="#1c1c1c" transform="translate(973.1 441.9) scale(1.060 1)" font-size="42" text-anchor="end">-10</text>
<text fill="#1c1c1c" transform="translate(973.1 520.1) scale(1.060 1)" font-size="42" text-anchor="end">-12</text>
<text fill="#1c1c1c" transform="translate(973.1 598.3) scale(1.060 1)" font-size="42" text-anchor="end">-14</text>
<text fill="#1c1c1c" transform="translate(973.1 676.6) scale(1.060 1)" font-size="42" text-anchor="end">-16</text>
<text fill="#1c1c1c" transform="translate(973.1 754.8) scale(1.060 1)" font-size="42" text-anchor="end">-18</text>
<text fill="#1c1c1c" transform="translate(973.1 833.0) scale(1.060 1)" font-size="42" text-anchor="end">-20</text>
<text fill="#1c1c1c" transform="translate(1222.0 930.0) scale(1.060 1)" font-size="43" text-anchor="middle">Horizontal distance/cm</text>
<text fill="#1c1c1c" transform="translate(893.1 425.4) rotate(-90) scale(1.060 1)" font-size="43" text-anchor="middle">Vertical distance/cm</text>
<text transform="translate(1236.0 1002.5) scale(1.04 1)" font-size="59" text-anchor="middle" fill="#000">300 s</text>
<rect x="1533.5" y="672.50" width="33.8" height="27.80" fill="#000000"/>
<rect x="1533.5" y="645.00" width="33.8" height="27.80" fill="#00007A"/>
<rect x="1533.5" y="617.50" width="33.8" height="27.80" fill="#0000FF"/>
<rect x="1533.5" y="590.00" width="33.8" height="27.80" fill="#0055FF"/>
<rect x="1533.5" y="562.50" width="33.8" height="27.80" fill="#00BFFF"/>
<rect x="1533.5" y="535.00" width="33.8" height="27.80" fill="#00F5E6"/>
<rect x="1533.5" y="507.50" width="33.8" height="27.80" fill="#00DDB0"/>
<rect x="1533.5" y="480.00" width="33.8" height="27.80" fill="#00C870"/>
<rect x="1533.5" y="452.50" width="33.8" height="27.80" fill="#00B020"/>
<rect x="1533.5" y="425.00" width="33.8" height="27.80" fill="#00A800"/>
<rect x="1533.5" y="397.50" width="33.8" height="27.80" fill="#90E000"/>
<rect x="1533.5" y="370.00" width="33.8" height="27.80" fill="#FFE500"/>
<rect x="1533.5" y="342.50" width="33.8" height="27.80" fill="#FFA500"/>
<rect x="1533.5" y="315.00" width="33.8" height="27.80" fill="#FF5F00"/>
<rect x="1533.5" y="287.50" width="33.8" height="27.80" fill="#FF1400"/>
<rect x="1533.5" y="260.00" width="33.8" height="27.80" fill="#FF3232"/>
<rect x="1533.5" y="232.50" width="33.8" height="27.80" fill="#FF8C8C"/>
<rect x="1533.5" y="205.00" width="33.8" height="27.80" fill="#FFE5E5"/>
<rect x="1533.5" y="177.50" width="33.8" height="27.80" fill="#FFFFFF"/>
<path d="M1533.5 672.5h33.8M1533.5 645.0h33.8M1533.5 617.5h33.8M1533.5 590.0h33.8M1533.5 562.5h33.8M1533.5 535.0h33.8M1533.5 507.5h33.8M1533.5 480.0h33.8M1533.5 452.5h33.8M1533.5 425.0h33.8M1533.5 397.5h33.8M1533.5 370.0h33.8M1533.5 342.5h33.8M1533.5 315.0h33.8M1533.5 287.5h33.8M1533.5 260.0h33.8M1533.5 232.5h33.8M1533.5 205.0h33.8" stroke="#333" stroke-opacity="0.6" stroke-width="1.2" fill="none"/>
<rect x="1533.5" y="177.5" width="33.8" height="522.5" fill="none" stroke="#666" stroke-width="1.6"/>
<text fill="#1c1c1c" transform="translate(1580.3 713.5) scale(1.060 1)" font-size="42">17</text>
<text fill="#1c1c1c" transform="translate(1580.3 658.5) scale(1.060 1)" font-size="42">19</text>
<text fill="#1c1c1c" transform="translate(1580.3 603.5) scale(1.060 1)" font-size="42">21</text>
<text fill="#1c1c1c" transform="translate(1580.3 548.5) scale(1.060 1)" font-size="42">23</text>
<text fill="#1c1c1c" transform="translate(1580.3 493.5) scale(1.060 1)" font-size="42">25</text>
<text fill="#1c1c1c" transform="translate(1580.3 438.5) scale(1.060 1)" font-size="42">27</text>
<text fill="#1c1c1c" transform="translate(1580.3 383.5) scale(1.060 1)" font-size="42">29</text>
<text fill="#1c1c1c" transform="translate(1580.3 328.5) scale(1.060 1)" font-size="42">31</text>
<text fill="#1c1c1c" transform="translate(1580.3 273.5) scale(1.060 1)" font-size="42">33</text>
<text fill="#1c1c1c" transform="translate(1580.3 218.5) scale(1.060 1)" font-size="42">35</text>
<text x="1236" y="1086.5" font-size="57" text-anchor="middle" fill="#000">(<tspan font-weight="bold">a</tspan>)</text>
<clipPath id="c3"><rect x="1825.8" y="36.8" width="473.9" height="782.2"/></clipPath>
<g clip-path="url(#c3)">
<rect x="1824.8" y="35.8" width="475.9" height="784.2" fill="#00BFFF"/>
<path d="M2275.2 36.8C2276.0 43.3 2278.0 62.9 2280.0 75.9C2281.9 88.9 2284.9 95.5 2286.7 115.0C2288.4 134.6 2290.1 167.2 2290.6 193.2C2291.1 219.3 2290.9 251.9 2289.8 271.5C2288.7 291.0 2286.1 297.5 2283.9 310.6C2281.7 323.6 2279.7 336.6 2276.8 349.7C2273.9 362.7 2268.6 375.8 2266.5 388.8C2264.4 401.8 2264.2 414.9 2264.2 427.9C2264.2 440.9 2265.3 454.0 2266.5 467.0C2267.8 480.0 2270.1 493.1 2271.7 506.1C2273.2 519.2 2274.2 532.2 2275.6 545.2C2277.0 558.3 2279.4 564.8 2280.0 584.3C2280.5 603.9 2280.3 636.5 2278.8 662.6C2277.3 688.6 2274.4 714.7 2270.9 740.8C2267.4 766.9 2260.0 806.0 2257.8 819.0L2257.8 824.0 L1820.8 824.0L1820.8 31.8 L2275.2 31.8Z" fill="#00F5E6"/>
<path d="M2264.6 36.8C2264.8 43.3 2265.6 62.9 2266.1 75.9C2266.7 88.9 2266.7 95.5 2267.7 115.0C2268.8 134.6 2271.8 167.2 2272.5 193.2C2273.1 219.3 2272.5 251.9 2271.7 271.5C2270.8 291.0 2269.0 297.5 2267.3 310.6C2265.7 323.6 2263.5 336.6 2261.8 349.7C2260.1 362.7 2258.1 375.8 2257.0 388.8C2256.0 401.8 2255.5 414.9 2255.5 427.9C2255.5 440.9 2256.3 454.0 2257.0 467.0C2257.8 480.0 2259.2 493.1 2259.8 506.1C2260.4 519.2 2260.0 532.2 2260.6 545.2C2261.2 558.3 2263.0 564.8 2263.4 584.3C2263.7 603.9 2263.7 636.5 2262.6 662.6C2261.5 688.6 2259.2 714.7 2256.7 740.8C2254.2 766.9 2249.1 806.0 2247.6 819.0L2247.6 824.0 L1820.8 824.0L1820.8 31.8 L2264.6 31.8Z" fill="#00DDB0"/>
<path d="M2253.9 36.8C2253.8 43.3 2253.6 62.9 2253.5 75.9C2253.4 88.9 2253.3 95.5 2253.5 115.0C2253.7 134.6 2254.7 167.2 2254.7 193.2C2254.7 219.3 2254.2 251.9 2253.5 271.5C2252.8 291.0 2251.8 297.5 2250.7 310.6C2249.7 323.6 2248.0 336.6 2247.2 349.7C2246.3 362.7 2245.9 375.8 2245.6 388.8C2245.3 401.8 2245.6 414.9 2245.6 427.9C2245.6 440.9 2245.6 454.0 2245.6 467.0C2245.6 480.0 2245.7 493.1 2245.6 506.1C2245.5 519.2 2245.0 532.2 2244.8 545.2C2244.6 558.3 2244.5 564.8 2244.4 584.3C2244.3 603.9 2244.5 636.5 2244.0 662.6C2243.6 688.6 2242.8 714.7 2241.6 740.8C2240.5 766.9 2238.0 806.0 2237.3 819.0L2237.3 824.0 L1820.8 824.0L1820.8 31.8 L2253.9 31.8Z" fill="#00C870"/>
<path d="M2241.6 36.8C2241.4 43.3 2241.0 62.9 2240.5 75.9C2239.9 88.9 2239.5 95.5 2238.5 115.0C2237.4 134.6 2235.1 167.2 2234.1 193.2C2233.2 219.3 2233.2 251.9 2233.0 271.5C2232.7 291.0 2232.6 297.5 2232.6 310.6C2232.6 323.6 2232.6 336.6 2233.0 349.7C2233.3 362.7 2233.9 375.8 2234.5 388.8C2235.2 401.8 2236.9 414.9 2236.9 427.9C2236.9 440.9 2235.4 454.0 2234.5 467.0C2233.7 480.0 2232.8 493.1 2231.8 506.1C2230.8 519.2 2229.6 532.2 2228.6 545.2C2227.6 558.3 2226.4 564.8 2225.9 584.3C2225.3 603.9 2224.9 636.5 2225.1 662.6C2225.2 688.6 2226.4 714.7 2226.6 740.8C2226.9 766.9 2226.6 806.0 2226.6 819.0L2226.6 824.0 L1820.8 824.0L1820.8 31.8 L2241.6 31.8Z" fill="#00B020"/>
<path d="M2231.4 36.8C2230.6 43.3 2228.5 62.9 2226.6 75.9C2224.8 88.9 2223.0 95.5 2220.3 115.0C2217.7 134.6 2212.1 167.2 2210.8 193.2C2209.6 219.3 2212.2 251.9 2212.8 271.5C2213.4 291.0 2213.5 297.5 2214.4 310.6C2215.3 323.6 2217.0 336.6 2218.3 349.7C2219.7 362.7 2221.1 375.8 2222.7 388.8C2224.3 401.8 2227.8 414.9 2227.8 427.9C2227.8 440.9 2224.7 454.0 2222.7 467.0C2220.7 480.0 2218.1 493.1 2216.0 506.1C2213.9 519.2 2211.5 532.2 2210.1 545.2C2208.6 558.3 2207.9 564.8 2207.3 584.3C2206.7 603.9 2205.9 636.5 2206.5 662.6C2207.1 688.6 2209.1 714.7 2210.8 740.8C2212.6 766.9 2215.8 806.0 2216.8 819.0L2216.8 824.0 L1820.8 824.0L1820.8 31.8 L2231.4 31.8Z" fill="#00A800"/>
<path d="M2219.1 36.8C2218.1 43.3 2215.5 62.9 2212.8 75.9C2210.1 88.9 2206.7 95.5 2202.9 115.0C2199.2 134.6 2192.1 167.2 2190.3 193.2C2188.5 219.3 2191.4 251.9 2192.3 271.5C2193.2 291.0 2194.3 297.5 2195.8 310.6C2197.4 323.6 2199.5 336.6 2201.8 349.7C2204.0 362.7 2206.5 375.8 2209.3 388.8C2212.0 401.8 2218.2 414.9 2218.3 427.9C2218.5 440.9 2213.5 454.0 2210.1 467.0C2206.6 480.0 2200.8 493.1 2197.4 506.1C2194.1 519.2 2191.4 532.2 2189.9 545.2C2188.5 558.3 2189.1 564.8 2188.7 584.3C2188.4 603.9 2186.7 636.5 2187.9 662.6C2189.2 688.6 2193.1 714.7 2196.2 740.8C2199.3 766.9 2204.8 806.0 2206.5 819.0L2206.5 824.0 L1820.8 824.0L1820.8 31.8 L2219.1 31.8Z" fill="#90E000"/>
<path d="M2209.3 36.8C2207.7 43.3 2203.5 62.9 2199.8 75.9C2196.0 88.9 2192.3 95.5 2186.8 115.0C2181.2 134.6 2169.0 167.2 2166.2 193.2C2163.4 219.3 2168.0 251.9 2169.8 271.5C2171.5 291.0 2174.2 297.5 2176.9 310.6C2179.5 323.6 2182.1 336.6 2185.6 349.7C2189.0 362.7 2193.6 375.8 2197.4 388.8C2201.2 401.8 2208.5 414.9 2208.5 427.9C2208.5 440.9 2202.0 454.0 2197.4 467.0C2192.9 480.0 2185.4 493.1 2181.2 506.1C2177.0 519.2 2174.3 532.2 2172.1 545.2C2170.0 558.3 2168.9 564.8 2168.2 584.3C2167.5 603.9 2166.3 636.5 2168.2 662.6C2170.0 688.6 2174.6 714.7 2179.3 740.8C2183.9 766.9 2193.4 806.0 2196.2 819.0L2196.2 824.0 L1820.8 824.0L1820.8 31.8 L2209.3 31.8Z" fill="#FFE500"/>
<path d="M2197.8 36.8C2196.0 43.3 2192.0 62.9 2186.8 75.9C2181.5 88.9 2174.3 95.5 2166.2 115.0C2158.1 134.6 2141.9 167.2 2138.2 193.2C2134.4 219.3 2141.0 251.9 2143.7 271.5C2146.4 291.0 2150.1 297.5 2154.4 310.6C2158.6 323.6 2164.0 336.6 2169.4 349.7C2174.7 362.7 2181.3 375.8 2186.4 388.8C2191.4 401.8 2200.2 414.9 2199.8 427.9C2199.4 440.9 2190.0 454.0 2184.0 467.0C2177.9 480.0 2168.9 493.1 2163.5 506.1C2158.1 519.2 2154.6 532.2 2151.6 545.2C2148.6 558.3 2146.7 564.8 2145.7 584.3C2144.7 603.9 2143.2 636.5 2145.7 662.6C2148.2 688.6 2154.4 714.7 2160.7 740.8C2166.9 766.9 2179.4 806.0 2183.2 819.0L2183.2 824.0 L1820.8 824.0L1820.8 31.8 L2197.8 31.8Z" fill="#FFA500"/>
<path d="M2183.2 36.8C2179.1 43.3 2168.7 62.9 2158.7 75.9C2148.7 88.9 2132.7 95.5 2123.2 115.0C2113.7 134.6 2104.6 167.2 2101.8 193.2C2099.1 219.3 2103.0 251.9 2106.6 271.5C2110.1 291.0 2116.7 297.5 2123.2 310.6C2129.7 323.6 2138.5 336.6 2145.7 349.7C2152.9 362.7 2158.7 375.8 2166.2 388.8C2173.7 401.8 2190.7 414.9 2190.7 427.9C2190.7 440.9 2175.0 454.0 2166.2 467.0C2157.5 480.0 2145.4 493.1 2138.2 506.1C2131.0 519.2 2126.6 532.2 2123.2 545.2C2119.7 558.3 2118.2 564.8 2117.6 584.3C2117.1 603.9 2116.2 636.5 2119.6 662.6C2123.0 688.6 2131.0 714.7 2138.2 740.8C2145.4 766.9 2158.6 806.0 2162.7 819.0L2162.7 824.0 L1820.8 824.0L1820.8 31.8 L2183.2 31.8Z" fill="#FF5F00"/>
<path d="M2043.0 36.8C2045.2 40.7 2052.9 51.1 2056.0 60.3C2059.1 69.4 2060.9 82.4 2061.6 91.6C2062.2 100.7 2061.5 103.9 2060.0 115.0C2058.5 126.1 2054.2 145.0 2052.5 158.0C2050.8 171.1 2049.9 180.9 2049.7 193.2C2049.5 205.6 2049.9 219.3 2051.3 232.4C2052.7 245.4 2054.4 258.4 2058.0 271.5C2061.6 284.5 2066.5 297.5 2073.0 310.6C2079.5 323.6 2086.2 336.6 2097.1 349.7C2108.0 362.7 2126.1 377.4 2138.2 388.8C2150.2 400.2 2162.3 411.6 2169.4 418.1C2176.4 424.6 2180.4 424.3 2180.4 427.9C2180.4 431.5 2175.2 433.1 2169.4 439.6C2163.6 446.2 2156.3 455.9 2145.7 467.0C2135.0 478.1 2114.3 493.1 2105.4 506.1C2096.5 519.2 2095.6 532.2 2092.4 545.2C2089.1 558.3 2087.1 571.3 2086.1 584.3C2085.0 597.4 2085.1 610.4 2086.1 623.5C2087.0 636.5 2088.9 648.9 2091.6 662.6C2094.3 676.2 2098.5 692.5 2102.2 705.6C2106.0 718.6 2109.4 727.7 2114.1 740.8C2118.8 753.8 2127.0 770.8 2130.7 783.8C2134.4 796.8 2135.3 813.1 2136.2 819.0L2136.2 824.0 L1820.8 824.0L1820.8 31.8 L2043.0 31.8Z" fill="#FF1400"/>
<path d="M1884.4 36.8C1888.4 41.5 1901.5 54.5 1908.7 64.8C1915.8 75.1 1922.7 87.8 1927.3 98.4C1932.0 109.0 1933.4 115.8 1936.7 128.3C1939.9 140.7 1944.3 157.5 1946.7 173.1C1949.2 188.6 1949.8 205.4 1951.6 221.6C1953.3 237.8 1955.8 254.6 1957.2 270.2C1958.6 285.7 1959.7 302.5 1960.2 315.0C1960.7 327.4 1961.0 336.1 1960.2 344.8C1959.4 353.5 1958.3 360.4 1955.3 367.2C1952.3 374.1 1946.0 379.7 1942.3 385.9C1938.5 392.1 1934.7 399.0 1932.9 404.6C1931.2 410.2 1931.2 414.8 1931.8 419.5C1932.4 424.2 1933.7 429.6 1936.7 432.6C1939.6 435.6 1944.4 437.4 1949.7 437.4C1955.0 437.4 1962.2 434.9 1968.4 432.6C1974.6 430.2 1980.8 425.3 1987.1 423.2C1993.3 421.2 1999.5 419.6 2005.7 420.2C2011.9 420.9 2019.1 423.4 2024.4 427.0C2029.7 430.6 2034.3 435.7 2037.4 441.9C2040.6 448.1 2042.7 457.5 2043.0 464.3C2043.4 471.1 2040.4 474.9 2039.3 483.0C2038.2 491.1 2036.8 502.3 2036.3 512.8C2035.8 523.4 2035.8 534.6 2036.3 546.4C2036.8 558.3 2037.6 569.5 2039.3 583.8C2041.1 598.1 2043.0 615.5 2046.8 632.3C2050.5 649.1 2055.5 667.8 2061.7 684.6C2067.9 701.4 2077.3 718.2 2084.1 733.1C2090.9 748.1 2098.4 759.9 2102.8 774.2C2107.1 788.5 2109.0 811.5 2110.2 819.0L2110.2 824.0 L1820.8 824.0L1820.8 31.8 L1884.4 31.8Z" fill="#FF3232"/>
<path d="M1825.8 512.8C1831.5 516.0 1848.2 524.7 1860.1 531.5C1872.1 538.4 1885.0 545.2 1897.5 553.9C1909.9 562.6 1924.2 573.8 1934.8 583.8C1945.4 593.7 1952.2 601.8 1960.9 613.6C1969.6 625.5 1978.3 640.4 1987.1 654.7C1995.8 669.0 2004.5 685.8 2013.2 699.5C2021.9 713.2 2030.6 725.0 2039.3 736.9C2048.0 748.7 2058.3 760.5 2065.4 770.5C2072.6 780.4 2078.8 788.5 2082.2 796.6C2085.7 804.7 2085.3 815.3 2086.0 819.0L2086.0 824.0 L1820.8 824.0L1820.8 512.8Z" fill="#FF8C8C"/>
<path d="M1825.8 714.5C1831.5 713.5 1848.2 708.9 1860.1 708.9C1872.1 708.9 1885.0 711.0 1897.5 714.5C1909.9 717.9 1922.4 723.2 1934.8 729.4C1947.2 735.6 1960.9 743.7 1972.1 751.8C1983.3 759.9 1994.5 769.8 2002.0 777.9C2009.4 786.0 2014.1 793.5 2016.9 800.3C2019.7 807.2 2018.5 815.9 2018.8 819.0L2018.8 824.0 L1820.8 824.0L1820.8 714.5Z" fill="#FFE5E5"/>
<path d="M1825.8 757.4C1828.4 759.6 1836.4 765.2 1841.5 770.5C1846.6 775.8 1852.4 782.9 1856.4 789.1C1860.5 795.4 1863.6 802.8 1865.7 807.8C1867.9 812.8 1868.9 817.1 1869.5 819.0L1869.5 824.0 L1820.8 824.0L1820.8 757.4Z" fill="#FF8C8C"/>
<path d="M2286.3 36.8C2287.2 43.3 2289.9 62.9 2291.8 75.9C2293.7 88.9 2296.3 95.5 2297.7 115.0C2299.2 134.6 2300.0 167.2 2300.5 193.2C2301.0 219.3 2301.0 251.9 2300.5 271.5C2300.0 291.0 2299.2 297.5 2297.7 310.6C2296.2 323.6 2294.9 336.6 2291.4 349.7C2287.9 362.7 2279.8 375.8 2276.8 388.8C2273.8 401.8 2273.4 414.9 2273.2 427.9C2273.1 440.9 2273.9 454.0 2276.0 467.0C2278.1 480.0 2282.9 493.1 2285.9 506.1C2288.9 519.2 2292.7 532.2 2294.2 545.2C2295.7 558.3 2295.0 564.8 2295.0 584.3C2294.9 603.9 2295.6 636.5 2293.8 662.6C2291.9 688.6 2288.4 714.7 2283.9 740.8C2279.4 766.9 2269.8 806.0 2266.9 819.0L2266.9 824.0 L2304.7 824.0L2304.7 31.8 L2286.3 31.8Z" fill="#0055FF"/>
<path d="M2295.0 36.8C2295.8 44.6 2298.9 75.9 2299.7 83.7L2304.7 83.7L2304.7 31.8 L2295.0 31.8Z" fill="#0000FF"/>
<path d="M2299.7 373.9C2298.3 376.4 2294.0 379.8 2291.0 388.8C2288.0 397.8 2282.3 414.9 2281.9 427.9C2281.5 440.9 2285.7 456.5 2288.6 467.0C2291.6 477.6 2297.9 487.2 2299.7 491.3L2304.7 491.3L2304.7 373.9Z" fill="#0000FF"/>
<path d="M2299.7 403.7C2298.4 407.7 2291.8 420.5 2291.8 427.9C2291.8 435.3 2298.4 444.8 2299.7 448.2L2304.7 448.2L2304.7 403.7Z" fill="#00007A"/>
<path d="M2299.7 725.1C2299.2 727.7 2299.2 731.7 2296.9 740.8C2294.6 749.9 2289.1 766.9 2285.9 779.9C2282.7 792.9 2279.0 812.5 2277.6 819.0L2277.6 824.0 L2304.7 824.0L2304.7 725.1Z" fill="#0000FF"/>
<path d="M2299.7 779.9C2297.7 786.4 2289.5 812.5 2287.5 819.0L2287.5 824.0 L2304.7 824.0L2304.7 779.9Z" fill="#00007A"/>
<path d="M2275.2 36.8C2276.0 43.3 2278.0 62.9 2280.0 75.9C2281.9 88.9 2284.9 95.5 2286.7 115.0C2288.4 134.6 2290.1 167.2 2290.6 193.2C2291.1 219.3 2290.9 251.9 2289.8 271.5C2288.7 291.0 2286.1 297.5 2283.9 310.6C2281.7 323.6 2279.7 336.6 2276.8 349.7C2273.9 362.7 2268.6 375.8 2266.5 388.8C2264.4 401.8 2264.2 414.9 2264.2 427.9C2264.2 440.9 2265.3 454.0 2266.5 467.0C2267.8 480.0 2270.1 493.1 2271.7 506.1C2273.2 519.2 2274.2 532.2 2275.6 545.2C2277.0 558.3 2279.4 564.8 2280.0 584.3C2280.5 603.9 2280.3 636.5 2278.8 662.6C2277.3 688.6 2274.4 714.7 2270.9 740.8C2267.4 766.9 2260.0 806.0 2257.8 819.0" fill="none" stroke="#8c8c8c" stroke-opacity="0.55" stroke-width="0.9"/>
<path d="M2264.6 36.8C2264.8 43.3 2265.6 62.9 2266.1 75.9C2266.7 88.9 2266.7 95.5 2267.7 115.0C2268.8 134.6 2271.8 167.2 2272.5 193.2C2273.1 219.3 2272.5 251.9 2271.7 271.5C2270.8 291.0 2269.0 297.5 2267.3 310.6C2265.7 323.6 2263.5 336.6 2261.8 349.7C2260.1 362.7 2258.1 375.8 2257.0 388.8C2256.0 401.8 2255.5 414.9 2255.5 427.9C2255.5 440.9 2256.3 454.0 2257.0 467.0C2257.8 480.0 2259.2 493.1 2259.8 506.1C2260.4 519.2 2260.0 532.2 2260.6 545.2C2261.2 558.3 2263.0 564.8 2263.4 584.3C2263.7 603.9 2263.7 636.5 2262.6 662.6C2261.5 688.6 2259.2 714.7 2256.7 740.8C2254.2 766.9 2249.1 806.0 2247.6 819.0" fill="none" stroke="#111" stroke-width="1.3"/>
<path d="M2253.9 36.8C2253.8 43.3 2253.6 62.9 2253.5 75.9C2253.4 88.9 2253.3 95.5 2253.5 115.0C2253.7 134.6 2254.7 167.2 2254.7 193.2C2254.7 219.3 2254.2 251.9 2253.5 271.5C2252.8 291.0 2251.8 297.5 2250.7 310.6C2249.7 323.6 2248.0 336.6 2247.2 349.7C2246.3 362.7 2245.9 375.8 2245.6 388.8C2245.3 401.8 2245.6 414.9 2245.6 427.9C2245.6 440.9 2245.6 454.0 2245.6 467.0C2245.6 480.0 2245.7 493.1 2245.6 506.1C2245.5 519.2 2245.0 532.2 2244.8 545.2C2244.6 558.3 2244.5 564.8 2244.4 584.3C2244.3 603.9 2244.5 636.5 2244.0 662.6C2243.6 688.6 2242.8 714.7 2241.6 740.8C2240.5 766.9 2238.0 806.0 2237.3 819.0" fill="none" stroke="#c8c8c8" stroke-opacity="0.70" stroke-width="0.9"/>
<path d="M2241.6 36.8C2241.4 43.3 2241.0 62.9 2240.5 75.9C2239.9 88.9 2239.5 95.5 2238.5 115.0C2237.4 134.6 2235.1 167.2 2234.1 193.2C2233.2 219.3 2233.2 251.9 2233.0 271.5C2232.7 291.0 2232.6 297.5 2232.6 310.6C2232.6 323.6 2232.6 336.6 2233.0 349.7C2233.3 362.7 2233.9 375.8 2234.5 388.8C2235.2 401.8 2236.9 414.9 2236.9 427.9C2236.9 440.9 2235.4 454.0 2234.5 467.0C2233.7 480.0 2232.8 493.1 2231.8 506.1C2230.8 519.2 2229.6 532.2 2228.6 545.2C2227.6 558.3 2226.4 564.8 2225.9 584.3C2225.3 603.9 2224.9 636.5 2225.1 662.6C2225.2 688.6 2226.4 714.7 2226.6 740.8C2226.9 766.9 2226.6 806.0 2226.6 819.0" fill="none" stroke="#e8e8e8" stroke-opacity="0.80" stroke-width="0.9"/>
<path d="M2231.4 36.8C2230.6 43.3 2228.5 62.9 2226.6 75.9C2224.8 88.9 2223.0 95.5 2220.3 115.0C2217.7 134.6 2212.1 167.2 2210.8 193.2C2209.6 219.3 2212.2 251.9 2212.8 271.5C2213.4 291.0 2213.5 297.5 2214.4 310.6C2215.3 323.6 2217.0 336.6 2218.3 349.7C2219.7 362.7 2221.1 375.8 2222.7 388.8C2224.3 401.8 2227.8 414.9 2227.8 427.9C2227.8 440.9 2224.7 454.0 2222.7 467.0C2220.7 480.0 2218.1 493.1 2216.0 506.1C2213.9 519.2 2211.5 532.2 2210.1 545.2C2208.6 558.3 2207.9 564.8 2207.3 584.3C2206.7 603.9 2205.9 636.5 2206.5 662.6C2207.1 688.6 2209.1 714.7 2210.8 740.8C2212.6 766.9 2215.8 806.0 2216.8 819.0" fill="none" stroke="#111" stroke-width="1.3" stroke-dasharray="75.9 53.0 277.5 53.0 99999.0"/>
<path d="M2219.1 36.8C2218.1 43.3 2215.5 62.9 2212.8 75.9C2210.1 88.9 2206.7 95.5 2202.9 115.0C2199.2 134.6 2192.1 167.2 2190.3 193.2C2188.5 219.3 2191.4 251.9 2192.3 271.5C2193.2 291.0 2194.3 297.5 2195.8 310.6C2197.4 323.6 2199.5 336.6 2201.8 349.7C2204.0 362.7 2206.5 375.8 2209.3 388.8C2212.0 401.8 2218.2 414.9 2218.3 427.9C2218.5 440.9 2213.5 454.0 2210.1 467.0C2206.6 480.0 2200.8 493.1 2197.4 506.1C2194.1 519.2 2191.4 532.2 2189.9 545.2C2188.5 558.3 2189.1 564.8 2188.7 584.3C2188.4 603.9 2186.7 636.5 2187.9 662.6C2189.2 688.6 2193.1 714.7 2196.2 740.8C2199.3 766.9 2204.8 806.0 2206.5 819.0" fill="none" stroke="#8c8c8c" stroke-opacity="0.55" stroke-width="0.9"/>
<path d="M2209.3 36.8C2207.7 43.3 2203.5 62.9 2199.8 75.9C2196.0 88.9 2192.3 95.5 2186.8 115.0C2181.2 134.6 2169.0 167.2 2166.2 193.2C2163.4 219.3 2168.0 251.9 2169.8 271.5C2171.5 291.0 2174.2 297.5 2176.9 310.6C2179.5 323.6 2182.1 336.6 2185.6 349.7C2189.0 362.7 2193.6 375.8 2197.4 388.8C2201.2 401.8 2208.5 414.9 2208.5 427.9C2208.5 440.9 2202.0 454.0 2197.4 467.0C2192.9 480.0 2185.4 493.1 2181.2 506.1C2177.0 519.2 2174.3 532.2 2172.1 545.2C2170.0 558.3 2168.9 564.8 2168.2 584.3C2167.5 603.9 2166.3 636.5 2168.2 662.6C2170.0 688.6 2174.6 714.7 2179.3 740.8C2183.9 766.9 2193.4 806.0 2196.2 819.0" fill="none" stroke="#8c8c8c" stroke-opacity="0.55" stroke-width="0.9"/>
<path d="M2197.8 36.8C2196.0 43.3 2192.0 62.9 2186.8 75.9C2181.5 88.9 2174.3 95.5 2166.2 115.0C2158.1 134.6 2141.9 167.2 2138.2 193.2C2134.4 219.3 2141.0 251.9 2143.7 271.5C2146.4 291.0 2150.1 297.5 2154.4 310.6C2158.6 323.6 2164.0 336.6 2169.4 349.7C2174.7 362.7 2181.3 375.8 2186.4 388.8C2191.4 401.8 2200.2 414.9 2199.8 427.9C2199.4 440.9 2190.0 454.0 2184.0 467.0C2177.9 480.0 2168.9 493.1 2163.5 506.1C2158.1 519.2 2154.6 532.2 2151.6 545.2C2148.6 558.3 2146.7 564.8 2145.7 584.3C2144.7 603.9 2143.2 636.5 2145.7 662.6C2148.2 688.6 2154.4 714.7 2160.7 740.8C2166.9 766.9 2179.4 806.0 2183.2 819.0" fill="none" stroke="#111" stroke-width="1.3" stroke-dasharray="90.9 53.0 275.0 53.0 99999.0"/>
<path d="M2183.2 36.8C2179.1 43.3 2168.7 62.9 2158.7 75.9C2148.7 88.9 2132.7 95.5 2123.2 115.0C2113.7 134.6 2104.6 167.2 2101.8 193.2C2099.1 219.3 2103.0 251.9 2106.6 271.5C2110.1 291.0 2116.7 297.5 2123.2 310.6C2129.7 323.6 2138.5 336.6 2145.7 349.7C2152.9 362.7 2158.7 375.8 2166.2 388.8C2173.7 401.8 2190.7 414.9 2190.7 427.9C2190.7 440.9 2175.0 454.0 2166.2 467.0C2157.5 480.0 2145.4 493.1 2138.2 506.1C2131.0 519.2 2126.6 532.2 2123.2 545.2C2119.7 558.3 2118.2 564.8 2117.6 584.3C2117.1 603.9 2116.2 636.5 2119.6 662.6C2123.0 688.6 2131.0 714.7 2138.2 740.8C2145.4 766.9 2158.6 806.0 2162.7 819.0" fill="none" stroke="#c8c8c8" stroke-opacity="0.70" stroke-width="0.9"/>
<path d="M2043.0 36.8C2045.2 40.7 2052.9 51.1 2056.0 60.3C2059.1 69.4 2060.9 82.4 2061.6 91.6C2062.2 100.7 2061.5 103.9 2060.0 115.0C2058.5 126.1 2054.2 145.0 2052.5 158.0C2050.8 171.1 2049.9 180.9 2049.7 193.2C2049.5 205.6 2049.9 219.3 2051.3 232.4C2052.7 245.4 2054.4 258.4 2058.0 271.5C2061.6 284.5 2066.5 297.5 2073.0 310.6C2079.5 323.6 2086.2 336.6 2097.1 349.7C2108.0 362.7 2126.1 377.4 2138.2 388.8C2150.2 400.2 2162.3 411.6 2169.4 418.1C2176.4 424.6 2180.4 424.3 2180.4 427.9C2180.4 431.5 2175.2 433.1 2169.4 439.6C2163.6 446.2 2156.3 455.9 2145.7 467.0C2135.0 478.1 2114.3 493.1 2105.4 506.1C2096.5 519.2 2095.6 532.2 2092.4 545.2C2089.1 558.3 2087.1 571.3 2086.1 584.3C2085.0 597.4 2085.1 610.4 2086.1 623.5C2087.0 636.5 2088.9 648.9 2091.6 662.6C2094.3 676.2 2098.5 692.5 2102.2 705.6C2106.0 718.6 2109.4 727.7 2114.1 740.8C2118.8 753.8 2127.0 770.8 2130.7 783.8C2134.4 796.8 2135.3 813.1 2136.2 819.0" fill="none" stroke="#e8e8e8" stroke-opacity="0.80" stroke-width="0.9"/>
<path d="M1884.4 36.8C1888.4 41.5 1901.5 54.5 1908.7 64.8C1915.8 75.1 1922.7 87.8 1927.3 98.4C1932.0 109.0 1933.4 115.8 1936.7 128.3C1939.9 140.7 1944.3 157.5 1946.7 173.1C1949.2 188.6 1949.8 205.4 1951.6 221.6C1953.3 237.8 1955.8 254.6 1957.2 270.2C1958.6 285.7 1959.7 302.5 1960.2 315.0C1960.7 327.4 1961.0 336.1 1960.2 344.8C1959.4 353.5 1958.3 360.4 1955.3 367.2C1952.3 374.1 1946.0 379.7 1942.3 385.9C1938.5 392.1 1934.7 399.0 1932.9 404.6C1931.2 410.2 1931.2 414.8 1931.8 419.5C1932.4 424.2 1933.7 429.6 1936.7 432.6C1939.6 435.6 1944.4 437.4 1949.7 437.4C1955.0 437.4 1962.2 434.9 1968.4 432.6C1974.6 430.2 1980.8 425.3 1987.1 423.2C1993.3 421.2 1999.5 419.6 2005.7 420.2C2011.9 420.9 2019.1 423.4 2024.4 427.0C2029.7 430.6 2034.3 435.7 2037.4 441.9C2040.6 448.1 2042.7 457.5 2043.0 464.3C2043.4 471.1 2040.4 474.9 2039.3 483.0C2038.2 491.1 2036.8 502.3 2036.3 512.8C2035.8 523.4 2035.8 534.6 2036.3 546.4C2036.8 558.3 2037.6 569.5 2039.3 583.8C2041.1 598.1 2043.0 615.5 2046.8 632.3C2050.5 649.1 2055.5 667.8 2061.7 684.6C2067.9 701.4 2077.3 718.2 2084.1 733.1C2090.9 748.1 2098.4 759.9 2102.8 774.2C2107.1 788.5 2109.0 811.5 2110.2 819.0" fill="none" stroke="#111" stroke-width="1.3" stroke-dasharray="90.8 53.0 407.1 53.0 99999.0"/>
<path d="M1825.8 512.8C1831.5 516.0 1848.2 524.7 1860.1 531.5C1872.1 538.4 1885.0 545.2 1897.5 553.9C1909.9 562.6 1924.2 573.8 1934.8 583.8C1945.4 593.7 1952.2 601.8 1960.9 613.6C1969.6 625.5 1978.3 640.4 1987.1 654.7C1995.8 669.0 2004.5 685.8 2013.2 699.5C2021.9 713.2 2030.6 725.0 2039.3 736.9C2048.0 748.7 2058.3 760.5 2065.4 770.5C2072.6 780.4 2078.8 788.5 2082.2 796.6C2085.7 804.7 2085.3 815.3 2086.0 819.0" fill="none" stroke="#8c8c8c" stroke-opacity="0.55" stroke-width="0.9"/>
<path d="M1825.8 714.5C1831.5 713.5 1848.2 708.9 1860.1 708.9C1872.1 708.9 1885.0 711.0 1897.5 714.5C1909.9 717.9 1922.4 723.2 1934.8 729.4C1947.2 735.6 1960.9 743.7 1972.1 751.8C1983.3 759.9 1994.5 769.8 2002.0 777.9C2009.4 786.0 2014.1 793.5 2016.9 800.3C2019.7 807.2 2018.5 815.9 2018.8 819.0" fill="none" stroke="#8c8c8c" stroke-opacity="0.55" stroke-width="0.9"/>
<path d="M1825.8 757.4C1828.4 759.6 1836.4 765.2 1841.5 770.5C1846.6 775.8 1852.4 782.9 1856.4 789.1C1860.5 795.4 1863.6 802.8 1865.7 807.8C1867.9 812.8 1868.9 817.1 1869.5 819.0" fill="none" stroke="#8c8c8c" stroke-opacity="0.55" stroke-width="0.9"/>
<path d="M2286.3 36.8C2287.2 43.3 2289.9 62.9 2291.8 75.9C2293.7 88.9 2296.3 95.5 2297.7 115.0C2299.2 134.6 2300.0 167.2 2300.5 193.2C2301.0 219.3 2301.0 251.9 2300.5 271.5C2300.0 291.0 2299.2 297.5 2297.7 310.6C2296.2 323.6 2294.9 336.6 2291.4 349.7C2287.9 362.7 2279.8 375.8 2276.8 388.8C2273.8 401.8 2273.4 414.9 2273.2 427.9C2273.1 440.9 2273.9 454.0 2276.0 467.0C2278.1 480.0 2282.9 493.1 2285.9 506.1C2288.9 519.2 2292.7 532.2 2294.2 545.2C2295.7 558.3 2295.0 564.8 2295.0 584.3C2294.9 603.9 2295.6 636.5 2293.8 662.6C2291.9 688.6 2288.4 714.7 2283.9 740.8C2279.4 766.9 2269.8 806.0 2266.9 819.0" fill="none" stroke="#e8e8e8" stroke-opacity="0.80" stroke-width="0.9"/>
<path d="M2295.0 36.8C2295.8 44.6 2298.9 75.9 2299.7 83.7" fill="none" stroke="#111" stroke-width="1.3"/>
<path d="M2299.7 373.9C2298.3 376.4 2294.0 379.8 2291.0 388.8C2288.0 397.8 2282.3 414.9 2281.9 427.9C2281.5 440.9 2285.7 456.5 2288.6 467.0C2291.6 477.6 2297.9 487.2 2299.7 491.3" fill="none" stroke="#111" stroke-width="1.3"/>
<path d="M2299.7 403.7C2298.4 407.7 2291.8 420.5 2291.8 427.9C2291.8 435.3 2298.4 444.8 2299.7 448.2" fill="none" stroke="#e8e8e8" stroke-opacity="0.80" stroke-width="0.9"/>
<path d="M2299.7 725.1C2299.2 727.7 2299.2 731.7 2296.9 740.8C2294.6 749.9 2289.1 766.9 2285.9 779.9C2282.7 792.9 2279.0 812.5 2277.6 819.0" fill="none" stroke="#111" stroke-width="1.3"/>
<path d="M2299.7 779.9C2297.7 786.4 2289.5 812.5 2287.5 819.0" fill="none" stroke="#e8e8e8" stroke-opacity="0.80" stroke-width="0.9"/>
<text transform="translate(1936.4 140.4) rotate(75.0)" font-size="43" text-anchor="middle" y="14.2" fill="#111">32</text>
<text transform="translate(2153.6 142.4) rotate(-65.0)" font-size="43" text-anchor="middle" y="14.2" fill="#111">29</text>
<text transform="translate(2222.7 142.4) rotate(-85.0)" font-size="43" text-anchor="middle" y="14.2" fill="#111">26</text>
<text transform="translate(2039.1 482.7) rotate(-85.0)" font-size="43" text-anchor="middle" y="14.2" fill="#111">32</text>
<text transform="translate(2185.2 453.3) rotate(-62.0)" font-size="43" text-anchor="middle" y="14.2" fill="#111">29</text>
<text transform="translate(2224.7 467.0) rotate(-75.0)" font-size="43" text-anchor="middle" y="14.2" fill="#111">26</text>
</g>
<rect x="1825.8" y="36.8" width="473.9" height="782.2" fill="none" stroke="#7a7a7a" stroke-width="2"/>
<path d="M1865.3 36.8v-10.0M1865.3 819.0v10.0M1944.3 36.8v-10.0M1944.3 819.0v10.0M2023.3 36.8v-10.0M2023.3 819.0v10.0M2102.2 36.8v-10.0M2102.2 819.0v10.0M2181.2 36.8v-10.0M2181.2 819.0v10.0M2260.2 36.8v-10.0M2260.2 819.0v10.0M1825.8 36.8h-10.0M2299.7 36.8h10.0M1825.8 115.0h-10.0M2299.7 115.0h10.0M1825.8 193.2h-10.0M2299.7 193.2h10.0M1825.8 271.5h-10.0M2299.7 271.5h10.0M1825.8 349.7h-10.0M2299.7 349.7h10.0M1825.8 427.9h-10.0M2299.7 427.9h10.0M1825.8 506.1h-10.0M2299.7 506.1h10.0M1825.8 584.3h-10.0M2299.7 584.3h10.0M1825.8 662.6h-10.0M2299.7 662.6h10.0M1825.8 740.8h-10.0M2299.7 740.8h10.0M1825.8 819.0h-10.0M2299.7 819.0h10.0" stroke="#7a7a7a" stroke-width="2" fill="none"/>
<text fill="#1c1c1c" transform="translate(1865.3 871.0) scale(1.060 1)" font-size="42" text-anchor="middle">4</text>
<text fill="#1c1c1c" transform="translate(1944.3 871.0) scale(1.060 1)" font-size="42" text-anchor="middle">6</text>
<text fill="#1c1c1c" transform="translate(2023.3 871.0) scale(1.060 1)" font-size="42" text-anchor="middle">8</text>
<text fill="#1c1c1c" transform="translate(2102.2 871.0) scale(1.060 1)" font-size="42" text-anchor="middle">10</text>
<text fill="#1c1c1c" transform="translate(2181.2 871.0) scale(1.060 1)" font-size="42" text-anchor="middle">12</text>
<text fill="#1c1c1c" transform="translate(2260.2 871.0) scale(1.060 1)" font-size="42" text-anchor="middle">14</text>
<text fill="#1c1c1c" transform="translate(1813.8 50.8) scale(1.060 1)" font-size="42" text-anchor="end">0</text>
<text fill="#1c1c1c" transform="translate(1813.8 129.0) scale(1.060 1)" font-size="42" text-anchor="end">-2</text>
<text fill="#1c1c1c" transform="translate(1813.8 207.2) scale(1.060 1)" font-size="42" text-anchor="end">-4</text>
<text fill="#1c1c1c" transform="translate(1813.8 285.5) scale(1.060 1)" font-size="42" text-anchor="end">-6</text>
<text fill="#1c1c1c" transform="translate(1813.8 363.7) scale(1.060 1)" font-size="42" text-anchor="end">-8</text>
<text fill="#1c1c1c" transform="translate(1813.8 441.9) scale(1.060 1)" font-size="42" text-anchor="end">-10</text>
<text fill="#1c1c1c" transform="translate(1813.8 520.1) scale(1.060 1)" font-size="42" text-anchor="end">-12</text>
<text fill="#1c1c1c" transform="translate(1813.8 598.3) scale(1.060 1)" font-size="42" text-anchor="end">-14</text>
<text fill="#1c1c1c" transform="translate(1813.8 676.6) scale(1.060 1)" font-size="42" text-anchor="end">-16</text>
<text fill="#1c1c1c" transform="translate(1813.8 754.8) scale(1.060 1)" font-size="42" text-anchor="end">-18</text>
<text fill="#1c1c1c" transform="translate(1813.8 833.0) scale(1.060 1)" font-size="42" text-anchor="end">-20</text>
<text fill="#1c1c1c" transform="translate(2062.8 930.0) scale(1.060 1)" font-size="43" text-anchor="middle">Horizontal distance/cm</text>
<text fill="#1c1c1c" transform="translate(1733.8 425.4) rotate(-90) scale(1.060 1)" font-size="43" text-anchor="middle">Vertical distance/cm</text>
<text transform="translate(2076.7 1002.5) scale(1.04 1)" font-size="59" text-anchor="middle" fill="#000">360 s</text>
<rect x="2373.5" y="672.50" width="33.8" height="27.80" fill="#000000"/>
<rect x="2373.5" y="645.00" width="33.8" height="27.80" fill="#00007A"/>
<rect x="2373.5" y="617.50" width="33.8" height="27.80" fill="#0000FF"/>
<rect x="2373.5" y="590.00" width="33.8" height="27.80" fill="#0055FF"/>
<rect x="2373.5" y="562.50" width="33.8" height="27.80" fill="#00BFFF"/>
<rect x="2373.5" y="535.00" width="33.8" height="27.80" fill="#00F5E6"/>
<rect x="2373.5" y="507.50" width="33.8" height="27.80" fill="#00DDB0"/>
<rect x="2373.5" y="480.00" width="33.8" height="27.80" fill="#00C870"/>
<rect x="2373.5" y="452.50" width="33.8" height="27.80" fill="#00B020"/>
<rect x="2373.5" y="425.00" width="33.8" height="27.80" fill="#00A800"/>
<rect x="2373.5" y="397.50" width="33.8" height="27.80" fill="#90E000"/>
<rect x="2373.5" y="370.00" width="33.8" height="27.80" fill="#FFE500"/>
<rect x="2373.5" y="342.50" width="33.8" height="27.80" fill="#FFA500"/>
<rect x="2373.5" y="315.00" width="33.8" height="27.80" fill="#FF5F00"/>
<rect x="2373.5" y="287.50" width="33.8" height="27.80" fill="#FF1400"/>
<rect x="2373.5" y="260.00" width="33.8" height="27.80" fill="#FF3232"/>
<rect x="2373.5" y="232.50" width="33.8" height="27.80" fill="#FF8C8C"/>
<rect x="2373.5" y="205.00" width="33.8" height="27.80" fill="#FFE5E5"/>
<rect x="2373.5" y="177.50" width="33.8" height="27.80" fill="#FFFFFF"/>
<path d="M2373.5 672.5h33.8M2373.5 645.0h33.8M2373.5 617.5h33.8M2373.5 590.0h33.8M2373.5 562.5h33.8M2373.5 535.0h33.8M2373.5 507.5h33.8M2373.5 480.0h33.8M2373.5 452.5h33.8M2373.5 425.0h33.8M2373.5 397.5h33.8M2373.5 370.0h33.8M2373.5 342.5h33.8M2373.5 315.0h33.8M2373.5 287.5h33.8M2373.5 260.0h33.8M2373.5 232.5h33.8M2373.5 205.0h33.8" stroke="#333" stroke-opacity="0.6" stroke-width="1.2" fill="none"/>
<rect x="2373.5" y="177.5" width="33.8" height="522.5" fill="none" stroke="#666" stroke-width="1.6"/>
<text fill="#1c1c1c" transform="translate(2420.3 713.5) scale(1.060 1)" font-size="42">17</text>
<text fill="#1c1c1c" transform="translate(2420.3 658.5) scale(1.060 1)" font-size="42">19</text>
<text fill="#1c1c1c" transform="translate(2420.3 603.5) scale(1.060 1)" font-size="42">21</text>
<text fill="#1c1c1c" transform="translate(2420.3 548.5) scale(1.060 1)" font-size="42">23</text>
<text fill="#1c1c1c" transform="translate(2420.3 493.5) scale(1.060 1)" font-size="42">25</text>
<text fill="#1c1c1c" transform="translate(2420.3 438.5) scale(1.060 1)" font-size="42">27</text>
<text fill="#1c1c1c" transform="translate(2420.3 383.5) scale(1.060 1)" font-size="42">29</text>
<text fill="#1c1c1c" transform="translate(2420.3 328.5) scale(1.060 1)" font-size="42">31</text>
<text fill="#1c1c1c" transform="translate(2420.3 273.5) scale(1.060 1)" font-size="42">33</text>
<text fill="#1c1c1c" transform="translate(2420.3 218.5) scale(1.060 1)" font-size="42">35</text>
<clipPath id="c4"><rect x="139.6" y="1147.0" width="450.5" height="750.4"/></clipPath>
<g clip-path="url(#c4)">
<rect x="138.6" y="1146.0" width="452.5" height="752.4" fill="#000008"/>
<path d="M537.5 1147.0C537.7 1159.5 537.9 1197.0 538.7 1222.0C539.4 1247.1 540.7 1272.1 542.0 1297.1C543.4 1322.1 545.1 1347.1 546.6 1372.1C548.0 1397.1 549.9 1422.1 550.7 1447.2C551.4 1472.2 551.7 1497.2 551.1 1522.2C550.4 1547.2 549.4 1572.2 546.6 1597.2C543.7 1622.3 538.9 1647.3 533.8 1672.3C528.7 1697.3 522.3 1722.3 516.1 1747.3C509.9 1772.3 502.9 1797.3 496.6 1822.4C490.4 1847.4 481.6 1884.9 478.6 1897.4L478.6 1902.4 L134.6 1902.4L134.6 1142.0 L537.5 1142.0Z" fill="#000040"/>
<path d="M489.5 1147.0C487.7 1153.1 481.5 1171.3 478.6 1183.8C475.7 1196.3 473.1 1208.9 472.2 1222.0C471.3 1235.2 472.3 1250.1 473.3 1262.6C474.4 1275.1 474.7 1278.8 478.6 1297.1C482.5 1315.3 491.2 1347.1 497.0 1372.1C502.8 1397.1 509.4 1424.8 513.5 1447.2C517.6 1469.5 520.2 1491.2 521.4 1506.4C522.6 1521.6 522.4 1523.2 520.6 1538.3C518.9 1553.5 515.2 1574.9 510.9 1597.2C506.6 1619.6 499.6 1647.3 494.7 1672.3C489.9 1697.3 486.4 1722.3 481.6 1747.3C476.8 1772.3 471.2 1797.3 466.2 1822.4C461.3 1847.4 454.3 1884.9 451.9 1897.4L451.9 1902.4 L134.6 1902.4L134.6 1142.0 L489.5 1142.0Z" fill="#000080"/>
<path d="M346.5 1147.0C348.3 1150.8 351.4 1159.8 357.3 1169.5C363.3 1179.3 375.6 1195.4 382.1 1205.5C388.6 1215.7 389.3 1215.0 396.4 1230.3C403.5 1245.6 418.3 1278.6 424.9 1297.1C431.5 1315.6 432.5 1328.8 435.8 1341.4C439.1 1353.9 441.2 1360.1 444.8 1372.1C448.4 1384.1 452.8 1400.9 457.2 1413.4C461.6 1425.9 466.4 1435.3 471.5 1447.2C476.5 1459.0 483.9 1473.6 487.6 1484.7C491.4 1495.7 493.1 1504.6 494.0 1513.6C494.9 1522.5 494.6 1529.4 492.9 1538.3C491.2 1547.3 489.2 1551.2 483.9 1567.2C478.5 1583.3 466.0 1617.3 461.0 1634.8C456.0 1652.3 456.5 1653.5 453.8 1672.3C451.1 1691.0 448.1 1722.3 444.8 1747.3C441.5 1772.3 436.6 1797.3 433.9 1822.4C431.2 1847.4 429.5 1884.9 428.7 1897.4L428.7 1902.4 L134.6 1902.4L134.6 1142.0 L346.5 1142.0Z" fill="#0000BB"/>
<path d="M273.2 1147.0C277.3 1153.1 288.9 1171.3 297.3 1183.8C305.7 1196.3 314.2 1208.9 323.6 1222.0C332.9 1235.2 345.0 1250.1 353.6 1262.6C362.2 1275.1 369.4 1283.9 375.4 1297.1C381.3 1310.2 385.7 1328.8 389.3 1341.4C392.8 1353.9 394.0 1360.1 396.4 1372.1C398.8 1384.1 401.1 1400.9 403.5 1413.4C405.9 1425.9 408.0 1435.3 410.7 1447.2C413.3 1459.0 417.3 1472.2 419.7 1484.7C422.0 1497.2 424.0 1510.3 424.9 1522.2C425.8 1534.1 425.2 1543.5 424.9 1556.0C424.7 1568.5 424.0 1577.9 423.4 1597.2C422.9 1616.6 423.0 1647.3 421.5 1672.3C420.0 1697.3 416.5 1722.3 414.4 1747.3C412.3 1772.3 410.5 1797.3 409.1 1822.4C407.8 1847.4 407.0 1884.9 406.5 1897.4L406.5 1902.4 L134.6 1902.4L134.6 1142.0 L273.2 1142.0Z" fill="#0000FF"/>
<path d="M241.0 1147.0C242.5 1151.4 245.7 1160.8 250.3 1173.3C255.0 1185.8 261.0 1207.2 269.1 1222.0C277.3 1236.9 290.1 1250.1 299.2 1262.6C308.2 1275.1 315.9 1283.9 323.2 1297.1C330.5 1310.2 337.7 1328.8 343.1 1341.4C348.5 1353.9 352.5 1360.1 355.5 1372.1C358.4 1384.1 359.5 1400.9 360.7 1413.4C361.9 1425.9 363.2 1435.3 362.6 1447.2C362.0 1459.0 359.0 1473.0 357.3 1484.7C355.7 1496.3 352.5 1506.9 352.8 1516.9C353.1 1527.0 356.1 1535.1 359.2 1544.7C362.3 1554.3 367.8 1564.1 371.6 1574.7C375.4 1585.4 379.4 1596.6 382.1 1608.5C384.8 1620.4 386.5 1635.4 387.8 1646.0C389.0 1656.6 389.7 1655.4 389.6 1672.3C389.6 1689.2 388.9 1722.3 387.4 1747.3C385.8 1772.3 381.2 1802.3 380.2 1822.4C379.3 1842.4 381.0 1854.9 381.7 1867.4C382.5 1879.9 384.2 1892.4 384.7 1897.4L384.7 1902.4 L134.6 1902.4L134.6 1142.0 L241.0 1142.0Z" fill="#0030FF"/>
<path d="M224.8 1147.0C225.9 1152.6 228.3 1167.9 231.6 1180.4C234.9 1192.9 238.1 1208.3 244.7 1222.0C251.3 1235.7 263.0 1250.1 271.0 1262.6C279.0 1275.1 286.1 1283.9 292.8 1297.1C299.4 1310.2 305.7 1328.8 310.8 1341.4C315.9 1353.9 320.6 1360.1 323.6 1372.1C326.6 1384.1 327.6 1400.9 328.8 1413.4C330.0 1425.9 330.7 1435.3 330.7 1447.2C330.7 1459.0 329.1 1472.2 328.8 1484.7C328.5 1497.2 327.6 1510.3 328.8 1522.2C330.0 1534.1 332.4 1543.5 335.9 1556.0C339.4 1568.5 346.1 1584.1 349.8 1597.2C353.5 1610.4 356.0 1622.3 358.1 1634.8C360.2 1647.3 362.2 1653.5 362.2 1672.3C362.3 1691.0 360.3 1722.3 358.5 1747.3C356.7 1772.3 352.5 1803.6 351.3 1822.4C350.1 1841.1 349.8 1847.4 351.3 1859.9C352.8 1872.4 358.8 1891.1 360.3 1897.4L360.3 1902.4 L134.6 1902.4L134.6 1142.0 L224.8 1142.0Z" fill="#0060FF"/>
<path d="M207.9 1147.0C210.2 1159.5 211.9 1197.0 221.8 1222.0C231.8 1247.1 255.8 1272.1 267.6 1297.1C279.4 1322.1 287.3 1347.1 292.8 1372.1C298.2 1397.1 298.7 1422.1 300.3 1447.2C301.8 1472.2 298.0 1497.2 302.2 1522.2C306.3 1547.2 319.2 1572.2 325.4 1597.2C331.6 1622.3 337.3 1647.3 339.3 1672.3C341.3 1697.3 339.9 1722.3 337.4 1747.3C335.0 1772.3 329.9 1797.3 324.7 1822.4C319.4 1847.4 309.0 1884.9 305.9 1897.4L305.9 1902.4 L134.6 1902.4L134.6 1142.0 L207.9 1142.0Z" fill="#0090FF"/>
<path d="M192.2 1147.0C194.0 1159.5 195.2 1197.0 203.0 1222.0C210.9 1247.1 227.8 1272.1 239.1 1297.1C250.3 1322.1 264.1 1347.1 270.6 1372.1C277.2 1397.1 276.4 1422.1 278.5 1447.2C280.6 1472.2 279.3 1497.2 283.0 1522.2C286.8 1547.2 295.4 1572.2 301.0 1597.2C306.7 1622.3 314.7 1647.3 316.8 1672.3C318.9 1697.3 317.9 1722.3 313.8 1747.3C309.7 1772.3 301.4 1797.3 292.0 1822.4C282.6 1847.4 263.2 1884.9 257.5 1897.4L257.5 1902.4 L134.6 1902.4L134.6 1142.0 L192.2 1142.0Z" fill="#00B8FF"/>
<path d="M176.0 1147.0C177.5 1159.5 179.1 1197.0 184.7 1222.0C190.2 1247.1 198.8 1272.1 209.1 1297.1C219.3 1322.1 238.4 1347.1 246.2 1372.1C254.0 1397.1 253.1 1422.1 256.0 1447.2C258.9 1472.2 259.5 1497.2 263.5 1522.2C267.5 1547.2 274.8 1572.2 280.0 1597.2C285.2 1622.3 292.3 1647.3 294.6 1672.3C297.0 1697.3 297.0 1722.3 293.9 1747.3C290.8 1772.3 284.2 1797.3 275.9 1822.4C267.6 1847.4 249.3 1884.9 244.0 1897.4L244.0 1902.4 L134.6 1902.4L134.6 1142.0 L176.0 1142.0Z" fill="#00E8FF"/>
<path d="M158.4 1147.0C159.6 1159.5 161.4 1197.0 165.9 1222.0C170.4 1247.1 176.0 1272.1 185.4 1297.1C194.8 1322.1 213.9 1347.1 222.2 1372.1C230.5 1397.1 231.6 1422.1 235.3 1447.2C239.1 1472.2 240.2 1497.2 244.7 1522.2C249.2 1547.2 256.9 1572.2 262.4 1597.2C267.8 1622.3 275.1 1647.3 277.4 1672.3C279.6 1697.3 278.3 1722.3 275.9 1747.3C273.5 1772.3 269.5 1797.3 263.1 1822.4C256.7 1847.4 241.8 1884.9 237.6 1897.4L237.6 1902.4 L134.6 1902.4L134.6 1142.0 L158.4 1142.0Z" fill="#00FFEE"/>
<path d="M139.6 1192.0C140.4 1197.0 142.3 1211.4 144.5 1222.0C146.7 1232.7 149.5 1243.3 152.7 1255.8C156.0 1268.3 159.6 1283.6 164.0 1297.1C168.4 1310.5 173.9 1324.0 179.0 1336.5C184.1 1349.0 190.5 1361.2 194.8 1372.1C199.1 1383.1 201.6 1389.6 204.9 1402.1C208.2 1414.6 211.9 1433.1 214.7 1447.2C217.5 1461.2 219.9 1474.0 221.8 1486.6C223.7 1499.1 223.6 1510.0 225.9 1522.2C228.3 1534.4 232.0 1547.2 235.7 1559.7C239.5 1572.2 244.8 1584.7 248.5 1597.2C252.1 1609.7 255.3 1622.3 257.5 1634.8C259.7 1647.3 260.6 1658.5 261.6 1672.3C262.6 1686.0 263.7 1704.8 263.5 1717.3C263.3 1729.8 262.1 1735.4 260.5 1747.3C258.9 1759.2 255.4 1776.1 253.7 1788.6C252.0 1801.1 252.8 1810.5 250.3 1822.4C247.9 1834.2 242.1 1847.4 239.1 1859.9C236.1 1872.4 233.5 1891.1 232.3 1897.4L232.3 1902.4 L134.6 1902.4L134.6 1192.0Z" fill="#00EECC"/>
<path d="M139.6 1280.2C140.4 1283.0 140.7 1286.1 144.5 1297.1C148.2 1308.0 157.1 1332.1 162.1 1345.9C167.1 1359.6 169.3 1362.7 174.5 1379.6C179.7 1396.5 187.8 1423.4 193.3 1447.2C198.7 1470.9 203.0 1503.4 207.2 1522.2C211.4 1541.0 214.4 1546.6 218.4 1559.7C222.4 1572.9 227.1 1582.2 231.2 1601.0C235.3 1619.8 240.6 1647.9 242.8 1672.3C245.1 1696.7 245.3 1722.3 244.7 1747.3C244.2 1772.3 242.7 1797.3 239.5 1822.4C236.3 1847.4 227.9 1884.9 225.6 1897.4L225.6 1902.4 L134.6 1902.4L134.6 1280.2Z" fill="#00DDAA"/>
<path d="M139.6 1351.5C141.5 1356.8 145.5 1367.4 150.9 1383.4C156.2 1399.3 164.9 1424.0 171.5 1447.2C178.1 1470.3 185.0 1503.4 190.3 1522.2C195.6 1541.0 199.2 1546.6 203.4 1559.7C207.7 1572.9 211.6 1582.2 215.8 1601.0C220.0 1619.8 226.0 1647.9 228.6 1672.3C231.1 1696.7 231.2 1722.3 231.2 1747.3C231.2 1772.3 230.5 1797.3 228.6 1822.4C226.6 1847.4 221.1 1884.9 219.6 1897.4L219.6 1902.4 L134.6 1902.4L134.6 1351.5Z" fill="#00D090"/>
<path d="M139.6 1402.1C141.8 1409.6 147.1 1431.5 152.7 1447.2C158.4 1462.8 168.1 1481.6 173.4 1495.9C178.7 1510.3 181.2 1520.9 184.7 1533.5C188.1 1546.0 191.1 1559.7 194.0 1571.0C197.0 1582.2 199.3 1584.1 202.3 1601.0C205.3 1617.9 209.5 1647.9 212.1 1672.3C214.6 1696.7 216.7 1722.3 217.7 1747.3C218.6 1772.3 218.4 1797.3 217.7 1822.4C216.9 1847.4 213.9 1884.9 213.2 1897.4L213.2 1902.4 L134.6 1902.4L134.6 1402.1Z" fill="#00C470"/>
<path d="M139.6 1439.7C142.7 1444.3 153.1 1456.9 158.4 1467.8C163.7 1478.7 168.4 1494.4 171.5 1505.3C174.6 1516.3 175.8 1522.5 177.1 1533.5C178.5 1544.4 178.8 1559.1 179.8 1571.0C180.7 1582.9 180.6 1587.9 182.8 1604.7C185.0 1621.6 189.5 1648.5 192.9 1672.3C196.3 1696.0 200.7 1722.3 203.0 1747.3C205.4 1772.3 206.2 1797.3 206.8 1822.4C207.4 1847.4 206.8 1884.9 206.8 1897.4L206.8 1902.4 L134.6 1902.4L134.6 1439.7Z" fill="#00B850"/>
<path d="M139.6 1484.7C140.9 1488.4 145.5 1497.8 147.1 1507.2C148.7 1516.6 148.9 1525.3 149.0 1541.0C149.1 1556.6 146.9 1585.4 147.9 1601.0C148.8 1616.6 151.5 1622.9 154.6 1634.8C157.7 1646.6 161.6 1653.5 166.6 1672.3C171.7 1691.0 180.0 1722.3 185.0 1747.3C190.0 1772.3 194.4 1797.3 196.7 1822.4C198.9 1847.4 198.2 1884.9 198.5 1897.4L198.5 1902.4 L134.6 1902.4L134.6 1484.7Z" fill="#00AE30"/>
<path d="M139.6 1601.0C141.7 1612.9 146.9 1647.9 152.0 1672.3C157.1 1696.7 164.6 1722.3 170.4 1747.3C176.1 1772.3 183.1 1797.3 186.5 1822.4C190.0 1847.4 190.3 1884.9 191.0 1897.4L191.0 1902.4 L134.6 1902.4L134.6 1601.0Z" fill="#00A410"/>
<path d="M139.6 1687.3C142.3 1697.3 149.5 1724.8 155.7 1747.3C161.9 1769.8 171.9 1797.3 176.8 1822.4C181.6 1847.4 183.3 1884.9 184.7 1897.4L184.7 1902.4 L134.6 1902.4L134.6 1687.3Z" fill="#00A000"/>
<path d="M139.6 1751.1C143.4 1763.0 155.6 1798.0 162.1 1822.4C168.6 1846.7 175.9 1884.9 178.6 1897.4L178.6 1902.4 L134.6 1902.4L134.6 1751.1Z" fill="#00C800"/>
<path d="M139.6 1798.0C141.1 1802.0 144.9 1810.8 148.6 1822.4C152.4 1833.9 158.7 1854.9 162.1 1867.4C165.6 1879.9 168.1 1892.4 169.3 1897.4L169.3 1902.4 L134.6 1902.4L134.6 1798.0Z" fill="#90DD00"/>
<path d="M139.6 1822.4C141.5 1828.6 146.7 1847.4 150.9 1859.9C155.1 1872.4 162.4 1891.1 164.8 1897.4L164.8 1902.4 L134.6 1902.4L134.6 1822.4Z" fill="#E8FF00"/>
<path d="M139.6 1837.4C141.2 1843.0 145.9 1861.1 149.0 1871.1C152.1 1881.1 156.8 1893.0 158.4 1897.4L158.4 1902.4 L134.6 1902.4L134.6 1837.4Z" fill="#FFE800"/>
<path d="M139.6 1863.6C140.9 1866.8 144.9 1876.8 147.1 1882.4C149.4 1888.0 152.1 1894.9 153.1 1897.4L153.1 1902.4 L134.6 1902.4L134.6 1863.6Z" fill="#FFC000"/>
<path d="M139.6 1882.4C140.5 1884.9 144.3 1894.9 145.2 1897.4L145.2 1902.4 L134.6 1902.4L134.6 1882.4Z" fill="#FFA000"/>
<path d="M587.5 1147.0C587.9 1150.8 589.7 1165.8 590.1 1169.5L595.1 1169.5L595.1 1142.0 L587.5 1142.0Z" fill="#000000"/>
<path d="M590.1 1480.9C588.5 1487.6 581.1 1506.3 580.3 1520.7C579.6 1535.1 584.0 1554.1 585.6 1567.2C587.2 1580.4 589.3 1594.1 590.1 1599.5L595.1 1599.5L595.1 1480.9Z" fill="#000000"/>
<path d="M590.1 1627.3C588.2 1639.1 583.3 1674.8 578.5 1698.5C573.6 1722.3 566.1 1749.2 560.8 1769.8C555.5 1790.5 549.6 1807.4 546.6 1822.4C543.5 1837.4 542.4 1847.4 542.8 1859.9C543.2 1872.4 548.1 1891.1 549.2 1897.4L549.2 1902.4 L595.1 1902.4L595.1 1627.3Z" fill="#000000"/>
<path d="M537.5 1147.0C537.7 1159.5 537.9 1197.0 538.7 1222.0C539.4 1247.1 540.7 1272.1 542.0 1297.1C543.4 1322.1 545.1 1347.1 546.6 1372.1C548.0 1397.1 549.9 1422.1 550.7 1447.2C551.4 1472.2 551.7 1497.2 551.1 1522.2C550.4 1547.2 549.4 1572.2 546.6 1597.2C543.7 1622.3 538.9 1647.3 533.8 1672.3C528.7 1697.3 522.3 1722.3 516.1 1747.3C509.9 1772.3 502.9 1797.3 496.6 1822.4C490.4 1847.4 481.6 1884.9 478.6 1897.4" fill="none" stroke="#e8e8e8" stroke-opacity="0.80" stroke-width="0.9"/>
<path d="M489.5 1147.0C487.7 1153.1 481.5 1171.3 478.6 1183.8C475.7 1196.3 473.1 1208.9 472.2 1222.0C471.3 1235.2 472.3 1250.1 473.3 1262.6C474.4 1275.1 474.7 1278.8 478.6 1297.1C482.5 1315.3 491.2 1347.1 497.0 1372.1C502.8 1397.1 509.4 1424.8 513.5 1447.2C517.6 1469.5 520.2 1491.2 521.4 1506.4C522.6 1521.6 522.4 1523.2 520.6 1538.3C518.9 1553.5 515.2 1574.9 510.9 1597.2C506.6 1619.6 499.6 1647.3 494.7 1672.3C489.9 1697.3 486.4 1722.3 481.6 1747.3C476.8 1772.3 471.2 1797.3 466.2 1822.4C461.3 1847.4 454.3 1884.9 451.9 1897.4" fill="none" stroke="#e8e8e8" stroke-opacity="0.80" stroke-width="0.9"/>
<path d="M346.5 1147.0C348.3 1150.8 351.4 1159.8 357.3 1169.5C363.3 1179.3 375.6 1195.4 382.1 1205.5C388.6 1215.7 389.3 1215.0 396.4 1230.3C403.5 1245.6 418.3 1278.6 424.9 1297.1C431.5 1315.6 432.5 1328.8 435.8 1341.4C439.1 1353.9 441.2 1360.1 444.8 1372.1C448.4 1384.1 452.8 1400.9 457.2 1413.4C461.6 1425.9 466.4 1435.3 471.5 1447.2C476.5 1459.0 483.9 1473.6 487.6 1484.7C491.4 1495.7 493.1 1504.6 494.0 1513.6C494.9 1522.5 494.6 1529.4 492.9 1538.3C491.2 1547.3 489.2 1551.2 483.9 1567.2C478.5 1583.3 466.0 1617.3 461.0 1634.8C456.0 1652.3 456.5 1653.5 453.8 1672.3C451.1 1691.0 448.1 1722.3 444.8 1747.3C441.5 1772.3 436.6 1797.3 433.9 1822.4C431.2 1847.4 429.5 1884.9 428.7 1897.4" fill="none" stroke="#111" stroke-width="1.3" stroke-dasharray="92.7 80.0 269.0 80.0 99999.0"/>
<path d="M273.2 1147.0C277.3 1153.1 288.9 1171.3 297.3 1183.8C305.7 1196.3 314.2 1208.9 323.6 1222.0C332.9 1235.2 345.0 1250.1 353.6 1262.6C362.2 1275.1 369.4 1283.9 375.4 1297.1C381.3 1310.2 385.7 1328.8 389.3 1341.4C392.8 1353.9 394.0 1360.1 396.4 1372.1C398.8 1384.1 401.1 1400.9 403.5 1413.4C405.9 1425.9 408.0 1435.3 410.7 1447.2C413.3 1459.0 417.3 1472.2 419.7 1484.7C422.0 1497.2 424.0 1510.3 424.9 1522.2C425.8 1534.1 425.2 1543.5 424.9 1556.0C424.7 1568.5 424.0 1577.9 423.4 1597.2C422.9 1616.6 423.0 1647.3 421.5 1672.3C420.0 1697.3 416.5 1722.3 414.4 1747.3C412.3 1772.3 410.5 1797.3 409.1 1822.4C407.8 1847.4 407.0 1884.9 406.5 1897.4" fill="none" stroke="#e8e8e8" stroke-opacity="0.80" stroke-width="0.9"/>
<path d="M241.0 1147.0C242.5 1151.4 245.7 1160.8 250.3 1173.3C255.0 1185.8 261.0 1207.2 269.1 1222.0C277.3 1236.9 290.1 1250.1 299.2 1262.6C308.2 1275.1 315.9 1283.9 323.2 1297.1C330.5 1310.2 337.7 1328.8 343.1 1341.4C348.5 1353.9 352.5 1360.1 355.5 1372.1C358.4 1384.1 359.5 1400.9 360.7 1413.4C361.9 1425.9 363.2 1435.3 362.6 1447.2C362.0 1459.0 359.0 1473.0 357.3 1484.7C355.7 1496.3 352.5 1506.9 352.8 1516.9C353.1 1527.0 356.1 1535.1 359.2 1544.7C362.3 1554.3 367.8 1564.1 371.6 1574.7C375.4 1585.4 379.4 1596.6 382.1 1608.5C384.8 1620.4 386.5 1635.4 387.8 1646.0C389.0 1656.6 389.7 1655.4 389.6 1672.3C389.6 1689.2 388.9 1722.3 387.4 1747.3C385.8 1772.3 381.2 1802.3 380.2 1822.4C379.3 1842.4 381.0 1854.9 381.7 1867.4C382.5 1879.9 384.2 1892.4 384.7 1897.4" fill="none" stroke="#e8e8e8" stroke-opacity="0.80" stroke-width="0.9"/>
<path d="M224.8 1147.0C225.9 1152.6 228.3 1167.9 231.6 1180.4C234.9 1192.9 238.1 1208.3 244.7 1222.0C251.3 1235.7 263.0 1250.1 271.0 1262.6C279.0 1275.1 286.1 1283.9 292.8 1297.1C299.4 1310.2 305.7 1328.8 310.8 1341.4C315.9 1353.9 320.6 1360.1 323.6 1372.1C326.6 1384.1 327.6 1400.9 328.8 1413.4C330.0 1425.9 330.7 1435.3 330.7 1447.2C330.7 1459.0 329.1 1472.2 328.8 1484.7C328.5 1497.2 327.6 1510.3 328.8 1522.2C330.0 1534.1 332.4 1543.5 335.9 1556.0C339.4 1568.5 346.1 1584.1 349.8 1597.2C353.5 1610.4 356.0 1622.3 358.1 1634.8C360.2 1647.3 362.2 1653.5 362.2 1672.3C362.3 1691.0 360.3 1722.3 358.5 1747.3C356.7 1772.3 352.5 1803.6 351.3 1822.4C350.1 1841.1 349.8 1847.4 351.3 1859.9C352.8 1872.4 358.8 1891.1 360.3 1897.4" fill="none" stroke="#e8e8e8" stroke-opacity="0.80" stroke-width="0.9"/>
<path d="M207.9 1147.0C210.2 1159.5 211.9 1197.0 221.8 1222.0C231.8 1247.1 255.8 1272.1 267.6 1297.1C279.4 1322.1 287.3 1347.1 292.8 1372.1C298.2 1397.1 298.7 1422.1 300.3 1447.2C301.8 1472.2 298.0 1497.2 302.2 1522.2C306.3 1547.2 319.2 1572.2 325.4 1597.2C331.6 1622.3 337.3 1647.3 339.3 1672.3C341.3 1697.3 339.9 1722.3 337.4 1747.3C335.0 1772.3 329.9 1797.3 324.7 1822.4C319.4 1847.4 309.0 1884.9 305.9 1897.4" fill="none" stroke="#111" stroke-width="1.3" stroke-dasharray="87.8 80.0 271.8 80.0 99999.0"/>
<path d="M192.2 1147.0C194.0 1159.5 195.2 1197.0 203.0 1222.0C210.9 1247.1 227.8 1272.1 239.1 1297.1C250.3 1322.1 264.1 1347.1 270.6 1372.1C277.2 1397.1 276.4 1422.1 278.5 1447.2C280.6 1472.2 279.3 1497.2 283.0 1522.2C286.8 1547.2 295.4 1572.2 301.0 1597.2C306.7 1622.3 314.7 1647.3 316.8 1672.3C318.9 1697.3 317.9 1722.3 313.8 1747.3C309.7 1772.3 301.4 1797.3 292.0 1822.4C282.6 1847.4 263.2 1884.9 257.5 1897.4" fill="none" stroke="#c8c8c8" stroke-opacity="0.70" stroke-width="0.9"/>
<path d="M176.0 1147.0C177.5 1159.5 179.1 1197.0 184.7 1222.0C190.2 1247.1 198.8 1272.1 209.1 1297.1C219.3 1322.1 238.4 1347.1 246.2 1372.1C254.0 1397.1 253.1 1422.1 256.0 1447.2C258.9 1472.2 259.5 1497.2 263.5 1522.2C267.5 1547.2 274.8 1572.2 280.0 1597.2C285.2 1622.3 292.3 1647.3 294.6 1672.3C297.0 1697.3 297.0 1722.3 293.9 1747.3C290.8 1772.3 284.2 1797.3 275.9 1822.4C267.6 1847.4 249.3 1884.9 244.0 1897.4" fill="none" stroke="#8c8c8c" stroke-opacity="0.55" stroke-width="0.9"/>
<path d="M158.4 1147.0C159.6 1159.5 161.4 1197.0 165.9 1222.0C170.4 1247.1 176.0 1272.1 185.4 1297.1C194.8 1322.1 213.9 1347.1 222.2 1372.1C230.5 1397.1 231.6 1422.1 235.3 1447.2C239.1 1472.2 240.2 1497.2 244.7 1522.2C249.2 1547.2 256.9 1572.2 262.4 1597.2C267.8 1622.3 275.1 1647.3 277.4 1672.3C279.6 1697.3 278.3 1722.3 275.9 1747.3C273.5 1772.3 269.5 1797.3 263.1 1822.4C256.7 1847.4 241.8 1884.9 237.6 1897.4" fill="none" stroke="#8c8c8c" stroke-opacity="0.55" stroke-width="0.9"/>
<path d="M139.6 1192.0C140.4 1197.0 142.3 1211.4 144.5 1222.0C146.7 1232.7 149.5 1243.3 152.7 1255.8C156.0 1268.3 159.6 1283.6 164.0 1297.1C168.4 1310.5 173.9 1324.0 179.0 1336.5C184.1 1349.0 190.5 1361.2 194.8 1372.1C199.1 1383.1 201.6 1389.6 204.9 1402.1C208.2 1414.6 211.9 1433.1 214.7 1447.2C217.5 1461.2 219.9 1474.0 221.8 1486.6C223.7 1499.1 223.6 1510.0 225.9 1522.2C228.3 1534.4 232.0 1547.2 235.7 1559.7C239.5 1572.2 244.8 1584.7 248.5 1597.2C252.1 1609.7 255.3 1622.3 257.5 1634.8C259.7 1647.3 260.6 1658.5 261.6 1672.3C262.6 1686.0 263.7 1704.8 263.5 1717.3C263.3 1729.8 262.1 1735.4 260.5 1747.3C258.9 1759.2 255.4 1776.1 253.7 1788.6C252.0 1801.1 252.8 1810.5 250.3 1822.4C247.9 1834.2 242.1 1847.4 239.1 1859.9C236.1 1872.4 233.5 1891.1 232.3 1897.4" fill="none" stroke="#111" stroke-width="1.3" stroke-dasharray="219.4 80.0 99999.0"/>
<path d="M139.6 1280.2C140.4 1283.0 140.7 1286.1 144.5 1297.1C148.2 1308.0 157.1 1332.1 162.1 1345.9C167.1 1359.6 169.3 1362.7 174.5 1379.6C179.7 1396.5 187.8 1423.4 193.3 1447.2C198.7 1470.9 203.0 1503.4 207.2 1522.2C211.4 1541.0 214.4 1546.6 218.4 1559.7C222.4 1572.9 227.1 1582.2 231.2 1601.0C235.3 1619.8 240.6 1647.9 242.8 1672.3C245.1 1696.7 245.3 1722.3 244.7 1747.3C244.2 1772.3 242.7 1797.3 239.5 1822.4C236.3 1847.4 227.9 1884.9 225.6 1897.4" fill="none" stroke="#c8c8c8" stroke-opacity="0.70" stroke-width="0.9"/>
<path d="M139.6 1351.5C141.5 1356.8 145.5 1367.4 150.9 1383.4C156.2 1399.3 164.9 1424.0 171.5 1447.2C178.1 1470.3 185.0 1503.4 190.3 1522.2C195.6 1541.0 199.2 1546.6 203.4 1559.7C207.7 1572.9 211.6 1582.2 215.8 1601.0C220.0 1619.8 226.0 1647.9 228.6 1672.3C231.1 1696.7 231.2 1722.3 231.2 1747.3C231.2 1772.3 230.5 1797.3 228.6 1822.4C226.6 1847.4 221.1 1884.9 219.6 1897.4" fill="none" stroke="#c8c8c8" stroke-opacity="0.70" stroke-width="0.9"/>
<path d="M139.6 1402.1C141.8 1409.6 147.1 1431.5 152.7 1447.2C158.4 1462.8 168.1 1481.6 173.4 1495.9C178.7 1510.3 181.2 1520.9 184.7 1533.5C188.1 1546.0 191.1 1559.7 194.0 1571.0C197.0 1582.2 199.3 1584.1 202.3 1601.0C205.3 1617.9 209.5 1647.9 212.1 1672.3C214.6 1696.7 216.7 1722.3 217.7 1747.3C218.6 1772.3 218.4 1797.3 217.7 1822.4C216.9 1847.4 213.9 1884.9 213.2 1897.4" fill="none" stroke="#c8c8c8" stroke-opacity="0.70" stroke-width="0.9"/>
<path d="M139.6 1439.7C142.7 1444.3 153.1 1456.9 158.4 1467.8C163.7 1478.7 168.4 1494.4 171.5 1505.3C174.6 1516.3 175.8 1522.5 177.1 1533.5C178.5 1544.4 178.8 1559.1 179.8 1571.0C180.7 1582.9 180.6 1587.9 182.8 1604.7C185.0 1621.6 189.5 1648.5 192.9 1672.3C196.3 1696.0 200.7 1722.3 203.0 1747.3C205.4 1772.3 206.2 1797.3 206.8 1822.4C207.4 1847.4 206.8 1884.9 206.8 1897.4" fill="none" stroke="#111" stroke-width="1.3"/>
<path d="M139.6 1484.7C140.9 1488.4 145.5 1497.8 147.1 1507.2C148.7 1516.6 148.9 1525.3 149.0 1541.0C149.1 1556.6 146.9 1585.4 147.9 1601.0C148.8 1616.6 151.5 1622.9 154.6 1634.8C157.7 1646.6 161.6 1653.5 166.6 1672.3C171.7 1691.0 180.0 1722.3 185.0 1747.3C190.0 1772.3 194.4 1797.3 196.7 1822.4C198.9 1847.4 198.2 1884.9 198.5 1897.4" fill="none" stroke="#c8c8c8" stroke-opacity="0.70" stroke-width="0.9"/>
<path d="M139.6 1601.0C141.7 1612.9 146.9 1647.9 152.0 1672.3C157.1 1696.7 164.6 1722.3 170.4 1747.3C176.1 1772.3 183.1 1797.3 186.5 1822.4C190.0 1847.4 190.3 1884.9 191.0 1897.4" fill="none" stroke="#e8e8e8" stroke-opacity="0.80" stroke-width="0.9"/>
<path d="M139.6 1687.3C142.3 1697.3 149.5 1724.8 155.7 1747.3C161.9 1769.8 171.9 1797.3 176.8 1822.4C181.6 1847.4 183.3 1884.9 184.7 1897.4" fill="none" stroke="#e8e8e8" stroke-opacity="0.80" stroke-width="0.9"/>
<path d="M139.6 1751.1C143.4 1763.0 155.6 1798.0 162.1 1822.4C168.6 1846.7 175.9 1884.9 178.6 1897.4" fill="none" stroke="#111" stroke-width="1.3"/>
<path d="M139.6 1798.0C141.1 1802.0 144.9 1810.8 148.6 1822.4C152.4 1833.9 158.7 1854.9 162.1 1867.4C165.6 1879.9 168.1 1892.4 169.3 1897.4" fill="none" stroke="#8c8c8c" stroke-opacity="0.55" stroke-width="0.9"/>
<path d="M139.6 1822.4C141.5 1828.6 146.7 1847.4 150.9 1859.9C155.1 1872.4 162.4 1891.1 164.8 1897.4" fill="none" stroke="#8c8c8c" stroke-opacity="0.55" stroke-width="0.9"/>
<path d="M139.6 1837.4C141.2 1843.0 145.9 1861.1 149.0 1871.1C152.1 1881.1 156.8 1893.0 158.4 1897.4" fill="none" stroke="#8c8c8c" stroke-opacity="0.55" stroke-width="0.9"/>
<path d="M139.6 1863.6C140.9 1866.8 144.9 1876.8 147.1 1882.4C149.4 1888.0 152.1 1894.9 153.1 1897.4" fill="none" stroke="#111" stroke-width="1.3"/>
<path d="M139.6 1882.4C140.5 1884.9 144.3 1894.9 145.2 1897.4" fill="none" stroke="#8c8c8c" stroke-opacity="0.55" stroke-width="0.9"/>
<path d="M587.5 1147.0C587.9 1150.8 589.7 1165.8 590.1 1169.5" fill="none" stroke="#e8e8e8" stroke-opacity="0.80" stroke-width="0.9"/>
<path d="M590.1 1480.9C588.5 1487.6 581.1 1506.3 580.3 1520.7C579.6 1535.1 584.0 1554.1 585.6 1567.2C587.2 1580.4 589.3 1594.1 590.1 1599.5" fill="none" stroke="#e8e8e8" stroke-opacity="0.80" stroke-width="0.9"/>
<path d="M590.1 1627.3C588.2 1639.1 583.3 1674.8 578.5 1698.5C573.6 1722.3 566.1 1749.2 560.8 1769.8C555.5 1790.5 549.6 1807.4 546.6 1822.4C543.5 1837.4 542.4 1847.4 542.8 1859.9C543.2 1872.4 548.1 1891.1 549.2 1897.4" fill="none" stroke="#e8e8e8" stroke-opacity="0.80" stroke-width="0.9"/>
<text transform="translate(248.5 1262.6) rotate(62.0)" font-size="40" text-anchor="middle" y="13.2" fill="#111">20.5</text>
<text transform="translate(409.1 1261.1) rotate(65.0)" font-size="40" text-anchor="middle" y="13.2" fill="#111">18.5</text>
<text transform="translate(212.8 1438.2) rotate(72.0)" font-size="40" text-anchor="middle" y="13.2" fill="#111">22.5</text>
<text transform="translate(323.6 1606.6) rotate(70.0)" font-size="40" text-anchor="middle" y="13.2" fill="#111">20.5</text>
<text transform="translate(475.2 1592.4) rotate(-70.0)" font-size="40" text-anchor="middle" y="13.2" fill="#111">18.5</text>
</g>
<rect x="139.6" y="1147.0" width="450.5" height="750.4" fill="none" stroke="#7a7a7a" stroke-width="2"/>
<path d="M177.1 1147.0v-9.5M177.1 1897.4v9.5M252.2 1147.0v-9.5M252.2 1897.4v9.5M327.3 1147.0v-9.5M327.3 1897.4v9.5M402.4 1147.0v-9.5M402.4 1897.4v9.5M477.5 1147.0v-9.5M477.5 1897.4v9.5M552.6 1147.0v-9.5M552.6 1897.4v9.5M139.6 1147.0h-9.5M590.1 1147.0h9.5M139.6 1222.0h-9.5M590.1 1222.0h9.5M139.6 1297.1h-9.5M590.1 1297.1h9.5M139.6 1372.1h-9.5M590.1 1372.1h9.5M139.6 1447.2h-9.5M590.1 1447.2h9.5M139.6 1522.2h-9.5M590.1 1522.2h9.5M139.6 1597.2h-9.5M590.1 1597.2h9.5M139.6 1672.3h-9.5M590.1 1672.3h9.5M139.6 1747.3h-9.5M590.1 1747.3h9.5M139.6 1822.4h-9.5M590.1 1822.4h9.5M139.6 1897.4h-9.5M590.1 1897.4h9.5" stroke="#7a7a7a" stroke-width="2" fill="none"/>
<text fill="#1c1c1c" transform="translate(177.1 1949.5) scale(1.060 1)" font-size="40" text-anchor="middle">4</text>
<text fill="#1c1c1c" transform="translate(252.2 1949.5) scale(1.060 1)" font-size="40" text-anchor="middle">6</text>
<text fill="#1c1c1c" transform="translate(327.3 1949.5) scale(1.060 1)" font-size="40" text-anchor="middle">8</text>
<text fill="#1c1c1c" transform="translate(402.4 1949.5) scale(1.060 1)" font-size="40" text-anchor="middle">10</text>
<text fill="#1c1c1c" transform="translate(477.5 1949.5) scale(1.060 1)" font-size="40" text-anchor="middle">12</text>
<text fill="#1c1c1c" transform="translate(552.6 1949.5) scale(1.060 1)" font-size="40" text-anchor="middle">14</text>
<text fill="#1c1c1c" transform="translate(128.2 1161.6) scale(1.060 1)" font-size="40" text-anchor="end">0</text>
<text fill="#1c1c1c" transform="translate(128.2 1236.6) scale(1.060 1)" font-size="40" text-anchor="end">-2</text>
<text fill="#1c1c1c" transform="translate(128.2 1311.7) scale(1.060 1)" font-size="40" text-anchor="end">-4</text>
<text fill="#1c1c1c" transform="translate(128.2 1386.7) scale(1.060 1)" font-size="40" text-anchor="end">-6</text>
<text fill="#1c1c1c" transform="translate(128.2 1461.8) scale(1.060 1)" font-size="40" text-anchor="end">-8</text>
<text fill="#1c1c1c" transform="translate(128.2 1536.8) scale(1.060 1)" font-size="40" text-anchor="end">-10</text>
<text fill="#1c1c1c" transform="translate(128.2 1611.8) scale(1.060 1)" font-size="40" text-anchor="end">-12</text>
<text fill="#1c1c1c" transform="translate(128.2 1686.9) scale(1.060 1)" font-size="40" text-anchor="end">-14</text>
<text fill="#1c1c1c" transform="translate(128.2 1761.9) scale(1.060 1)" font-size="40" text-anchor="end">-16</text>
<text fill="#1c1c1c" transform="translate(128.2 1837.0) scale(1.060 1)" font-size="40" text-anchor="end">-18</text>
<text fill="#1c1c1c" transform="translate(128.2 1912.0) scale(1.060 1)" font-size="40" text-anchor="end">-20</text>
<text fill="#1c1c1c" transform="translate(364.9 2005.7) scale(1.060 1)" font-size="41" text-anchor="middle">Horizontal distance/cm</text>
<text fill="#1c1c1c" transform="translate(51.9 1519.7) rotate(-90) scale(1.060 1)" font-size="41" text-anchor="middle">Vertical distance/cm</text>
<text transform="translate(396.0 2092.5) scale(1.04 1)" font-size="59" text-anchor="middle" fill="#000">60 s</text>
<rect x="661.2" y="1764.44" width="32.0" height="18.86" fill="#000000"/>
<rect x="661.2" y="1745.89" width="32.0" height="18.86" fill="#000008"/>
<rect x="661.2" y="1727.33" width="32.0" height="18.86" fill="#000040"/>
<rect x="661.2" y="1708.78" width="32.0" height="18.86" fill="#000080"/>
<rect x="661.2" y="1690.22" width="32.0" height="18.86" fill="#0000BB"/>
<rect x="661.2" y="1671.67" width="32.0" height="18.86" fill="#0000FF"/>
<rect x="661.2" y="1653.11" width="32.0" height="18.86" fill="#0030FF"/>
<rect x="661.2" y="1634.56" width="32.0" height="18.86" fill="#0060FF"/>
<rect x="661.2" y="1616.00" width="32.0" height="18.86" fill="#0090FF"/>
<rect x="661.2" y="1597.44" width="32.0" height="18.86" fill="#00B8FF"/>
<rect x="661.2" y="1578.89" width="32.0" height="18.86" fill="#00E8FF"/>
<rect x="661.2" y="1560.33" width="32.0" height="18.86" fill="#00FFEE"/>
<rect x="661.2" y="1541.78" width="32.0" height="18.86" fill="#00EECC"/>
<rect x="661.2" y="1523.22" width="32.0" height="18.86" fill="#00DDAA"/>
<rect x="661.2" y="1504.67" width="32.0" height="18.86" fill="#00D090"/>
<rect x="661.2" y="1486.11" width="32.0" height="18.86" fill="#00C470"/>
<rect x="661.2" y="1467.56" width="32.0" height="18.86" fill="#00B850"/>
<rect x="661.2" y="1449.00" width="32.0" height="18.86" fill="#00AE30"/>
<rect x="661.2" y="1430.44" width="32.0" height="18.86" fill="#00A410"/>
<rect x="661.2" y="1411.89" width="32.0" height="18.86" fill="#00A000"/>
<rect x="661.2" y="1393.33" width="32.0" height="18.86" fill="#00C800"/>
<rect x="661.2" y="1374.78" width="32.0" height="18.86" fill="#90DD00"/>
<rect x="661.2" y="1356.22" width="32.0" height="18.86" fill="#E8FF00"/>
<rect x="661.2" y="1337.67" width="32.0" height="18.86" fill="#FFE800"/>
<rect x="661.2" y="1319.11" width="32.0" height="18.86" fill="#FFC000"/>
<rect x="661.2" y="1300.56" width="32.0" height="18.86" fill="#FFA000"/>
<rect x="661.2" y="1282.00" width="32.0" height="18.86" fill="#FF8000"/>
<path d="M661.2 1764.4h32.0M661.2 1745.9h32.0M661.2 1727.3h32.0M661.2 1708.8h32.0M661.2 1690.2h32.0M661.2 1671.7h32.0M661.2 1653.1h32.0M661.2 1634.6h32.0M661.2 1616.0h32.0M661.2 1597.4h32.0M661.2 1578.9h32.0M661.2 1560.3h32.0M661.2 1541.8h32.0M661.2 1523.2h32.0M661.2 1504.7h32.0M661.2 1486.1h32.0M661.2 1467.6h32.0M661.2 1449.0h32.0M661.2 1430.4h32.0M661.2 1411.9h32.0M661.2 1393.3h32.0M661.2 1374.8h32.0M661.2 1356.2h32.0M661.2 1337.7h32.0M661.2 1319.1h32.0M661.2 1300.6h32.0" stroke="#333" stroke-opacity="0.6" stroke-width="1.2" fill="none"/>
<rect x="661.2" y="1282.0" width="32.0" height="501.0" fill="none" stroke="#666" stroke-width="1.6"/>
<text fill="#1c1c1c" transform="translate(705.6 1795.9) scale(1.060 1)" font-size="40">16.5</text>
<text fill="#1c1c1c" transform="translate(705.6 1740.2) scale(1.060 1)" font-size="40">18</text>
<text fill="#1c1c1c" transform="translate(705.6 1684.5) scale(1.060 1)" font-size="40">19.5</text>
<text fill="#1c1c1c" transform="translate(705.6 1628.9) scale(1.060 1)" font-size="40">21</text>
<text fill="#1c1c1c" transform="translate(705.6 1573.2) scale(1.060 1)" font-size="40">22.5</text>
<text fill="#1c1c1c" transform="translate(705.6 1517.5) scale(1.060 1)" font-size="40">24</text>
<text fill="#1c1c1c" transform="translate(705.6 1461.9) scale(1.060 1)" font-size="40">25.5</text>
<text fill="#1c1c1c" transform="translate(705.6 1406.2) scale(1.060 1)" font-size="40">27</text>
<text fill="#1c1c1c" transform="translate(705.6 1350.5) scale(1.060 1)" font-size="40">28.5</text>
<clipPath id="c5"><rect x="985.1" y="1128.7" width="473.9" height="782.2"/></clipPath>
<g clip-path="url(#c5)">
<rect x="984.1" y="1127.7" width="475.9" height="784.2" fill="#00007A"/>
<path d="M1396.4 1128.7C1396.8 1141.7 1397.4 1180.8 1398.3 1206.9C1399.2 1233.0 1401.4 1259.1 1402.0 1285.1C1402.7 1311.2 1403.3 1337.3 1402.0 1363.4C1400.8 1389.4 1397.4 1415.5 1394.6 1441.6C1391.8 1467.7 1385.9 1493.7 1385.2 1519.8C1384.6 1545.9 1391.2 1571.9 1390.8 1598.0C1390.5 1624.1 1387.1 1650.2 1383.4 1676.2C1379.6 1702.3 1374.7 1728.4 1368.4 1754.5C1362.2 1780.5 1353.5 1806.6 1346.0 1832.7C1338.6 1858.8 1327.4 1897.9 1323.7 1910.9L1323.7 1915.9 L980.1 1915.9L980.1 1123.7 L1396.4 1123.7Z" fill="#0000FF"/>
<path d="M1325.5 1128.7C1326.8 1141.7 1330.5 1180.8 1333.0 1206.9C1335.5 1233.0 1338.3 1259.1 1340.5 1285.1C1342.6 1311.2 1345.4 1337.3 1346.0 1363.4C1346.7 1389.4 1346.0 1415.5 1344.2 1441.6C1342.3 1467.7 1335.5 1493.7 1334.9 1519.8C1334.2 1545.9 1340.1 1571.9 1340.5 1598.0C1340.8 1624.1 1339.8 1650.2 1336.7 1676.2C1333.6 1702.3 1327.1 1728.4 1321.8 1754.5C1316.5 1780.5 1309.3 1806.6 1305.0 1832.7C1300.6 1858.8 1297.2 1897.9 1295.7 1910.9L1295.7 1915.9 L980.1 1915.9L980.1 1123.7 L1325.5 1123.7Z" fill="#0055FF"/>
<path d="M1235.9 1128.7C1241.5 1141.7 1260.2 1180.8 1269.5 1206.9C1278.9 1233.0 1286.3 1259.1 1291.9 1285.1C1297.5 1311.2 1300.9 1337.3 1303.1 1363.4C1305.3 1389.4 1305.0 1415.5 1305.0 1441.6C1305.0 1467.7 1303.6 1493.7 1303.1 1519.8C1302.7 1545.9 1303.3 1571.9 1302.4 1598.0C1301.4 1624.1 1300.2 1650.2 1297.5 1676.2C1294.8 1702.3 1290.7 1728.4 1286.3 1754.5C1282.0 1780.5 1274.8 1806.6 1271.4 1832.7C1268.0 1858.8 1266.7 1897.9 1265.8 1910.9L1265.8 1915.9 L980.1 1915.9L980.1 1123.7 L1235.9 1123.7Z" fill="#00BFFF"/>
<path d="M1189.3 1128.7C1194.6 1141.7 1211.4 1180.8 1221.0 1206.9C1230.6 1233.0 1240.3 1259.1 1247.1 1285.1C1254.0 1311.2 1258.6 1337.3 1262.1 1363.4C1265.5 1389.4 1266.4 1415.5 1267.7 1441.6C1268.9 1467.7 1269.2 1493.7 1269.5 1519.8C1269.8 1545.9 1270.2 1571.9 1269.5 1598.0C1268.9 1624.1 1268.3 1650.2 1265.8 1676.2C1263.3 1702.3 1258.3 1728.4 1254.6 1754.5C1250.9 1780.5 1246.2 1806.6 1243.4 1832.7C1240.6 1858.8 1238.7 1897.9 1237.8 1910.9L1237.8 1915.9 L980.1 1915.9L980.1 1123.7 L1189.3 1123.7Z" fill="#00F5E6"/>
<path d="M1146.4 1128.7C1151.3 1141.7 1166.3 1180.8 1176.2 1206.9C1186.2 1233.0 1197.4 1259.1 1206.1 1285.1C1214.8 1311.2 1223.5 1337.3 1228.5 1363.4C1233.4 1389.4 1234.4 1415.5 1235.9 1441.6C1237.5 1467.7 1237.2 1493.7 1237.8 1519.8C1238.4 1545.9 1240.0 1571.9 1239.7 1598.0C1239.4 1624.1 1238.1 1650.2 1235.9 1676.2C1233.8 1702.3 1230.6 1728.4 1226.6 1754.5C1222.6 1780.5 1216.0 1806.6 1211.7 1832.7C1207.3 1858.8 1202.3 1897.9 1200.5 1910.9L1200.5 1915.9 L980.1 1915.9L980.1 1123.7 L1146.4 1123.7Z" fill="#00DDB0"/>
<path d="M1101.6 1128.7C1106.5 1141.7 1120.8 1180.7 1131.4 1206.7C1142.0 1232.8 1155.4 1259.1 1165.0 1285.1C1174.7 1311.2 1183.1 1337.1 1189.3 1363.2C1195.5 1389.2 1199.5 1415.5 1202.3 1441.6C1205.1 1467.7 1205.1 1493.5 1206.1 1519.6C1207.0 1545.7 1208.3 1571.9 1207.9 1598.0C1207.6 1624.1 1206.4 1650.0 1204.2 1676.1C1202.0 1702.1 1199.2 1728.4 1194.9 1754.5C1190.5 1780.5 1182.4 1813.0 1178.1 1832.5C1173.7 1852.0 1172.5 1858.6 1168.7 1871.7C1165.0 1884.8 1157.9 1904.4 1155.7 1910.9L1155.7 1915.9 L980.1 1915.9L980.1 1123.7 L1101.6 1123.7Z" fill="#00C870"/>
<path d="M1058.6 1128.7C1063.3 1141.7 1076.4 1180.7 1086.6 1206.7C1096.9 1232.8 1110.0 1259.1 1120.2 1285.1C1130.5 1311.2 1140.8 1337.1 1148.2 1363.2C1155.7 1389.2 1161.0 1415.5 1165.0 1441.6C1169.1 1467.7 1170.7 1493.5 1172.5 1519.6C1174.2 1545.7 1175.3 1571.9 1175.5 1598.0C1175.6 1624.1 1175.0 1650.0 1173.2 1676.1C1171.5 1702.1 1169.2 1728.4 1165.0 1754.5C1160.8 1780.5 1153.8 1813.0 1148.2 1832.5C1142.6 1852.0 1138.0 1858.6 1131.4 1871.7C1124.9 1884.8 1112.8 1904.4 1109.0 1910.9L1109.0 1915.9 L980.1 1915.9L980.1 1123.7 L1058.6 1123.7Z" fill="#00B020"/>
<path d="M1013.8 1128.7C1019.8 1141.7 1037.2 1180.7 1049.3 1206.7C1061.4 1232.8 1076.1 1259.1 1086.6 1285.1C1097.2 1311.2 1105.0 1337.1 1112.8 1363.2C1120.5 1389.2 1128.3 1415.5 1133.3 1441.6C1138.3 1467.7 1140.8 1493.5 1142.6 1519.6C1144.5 1545.7 1144.5 1571.9 1144.5 1598.0C1144.5 1624.1 1143.9 1650.0 1142.6 1676.1C1141.4 1702.1 1140.1 1728.4 1137.0 1754.5C1133.9 1780.5 1128.6 1813.0 1124.0 1832.5C1119.3 1852.0 1114.3 1858.6 1109.0 1871.7C1103.7 1884.8 1095.0 1904.4 1092.2 1910.9L1092.2 1915.9 L980.1 1915.9L980.1 1123.7 L1013.8 1123.7Z" fill="#00A800"/>
<path d="M985.1 1181.0C989.0 1189.7 1000.3 1215.9 1008.2 1233.2C1016.1 1250.6 1022.6 1263.5 1032.5 1285.1C1042.5 1306.8 1056.8 1337.1 1068.0 1363.2C1079.2 1389.2 1092.2 1415.5 1099.7 1441.6C1107.2 1467.7 1110.3 1493.5 1112.8 1519.6C1115.2 1545.7 1114.6 1571.9 1114.6 1598.0C1114.6 1624.1 1114.0 1650.0 1112.8 1676.1C1111.5 1702.1 1110.0 1728.4 1107.2 1754.5C1104.4 1780.5 1100.8 1806.4 1096.0 1832.5C1091.2 1858.6 1081.3 1897.8 1078.4 1910.9L1078.4 1915.9 L980.1 1915.9L980.1 1181.0Z" fill="#90E000"/>
<path d="M985.1 1278.0C989.0 1285.5 1000.3 1308.7 1008.2 1322.8C1016.1 1337.0 1021.9 1343.4 1032.5 1363.2C1043.1 1383.0 1062.4 1415.5 1071.7 1441.6C1081.0 1467.7 1085.7 1493.5 1088.5 1519.6C1091.3 1545.7 1088.8 1571.9 1088.5 1598.0C1088.2 1624.1 1087.9 1650.0 1086.6 1676.1C1085.4 1702.1 1083.2 1728.4 1081.0 1754.5C1078.9 1780.5 1076.4 1806.4 1073.6 1832.5C1070.8 1858.6 1065.8 1897.8 1064.2 1910.9L1064.2 1915.9 L980.1 1915.9L980.1 1278.0Z" fill="#FFE500"/>
<path d="M985.1 1349.0C986.5 1351.4 987.0 1354.5 993.3 1363.2C999.7 1371.9 1014.8 1388.2 1023.2 1401.3C1031.6 1414.3 1038.1 1427.9 1043.7 1441.6C1049.3 1455.3 1054.0 1470.4 1056.8 1483.4C1059.6 1496.4 1059.8 1500.5 1060.5 1519.6C1061.2 1538.7 1061.6 1571.9 1061.2 1598.0C1060.9 1624.1 1059.7 1650.0 1058.6 1676.1C1057.6 1702.1 1056.1 1728.4 1054.9 1754.5C1053.7 1780.5 1052.1 1806.4 1051.2 1832.5C1050.2 1858.6 1049.6 1897.8 1049.3 1910.9L1049.3 1915.9 L980.1 1915.9L980.1 1349.0Z" fill="#FFA500"/>
<path d="M985.1 1416.2C987.1 1420.4 990.7 1432.2 997.0 1441.6C1003.4 1450.9 1016.6 1462.1 1023.2 1472.2C1029.7 1482.3 1033.9 1494.2 1036.2 1502.1C1038.6 1510.0 1037.7 1503.6 1037.4 1519.6C1037.0 1535.6 1035.8 1571.9 1034.4 1598.0C1032.9 1624.1 1030.0 1650.0 1028.8 1676.1C1027.5 1702.1 1026.9 1728.4 1026.9 1754.5C1026.9 1780.5 1027.5 1806.4 1028.8 1832.5C1030.0 1858.6 1033.4 1897.8 1034.4 1910.9L1034.4 1915.9 L980.1 1915.9L980.1 1416.2Z" fill="#FF5F00"/>
<path d="M985.1 1472.2C987.7 1474.7 996.3 1480.9 1000.8 1487.1C1005.3 1493.4 1009.9 1501.4 1012.0 1509.5C1014.0 1517.6 1014.3 1520.9 1013.1 1535.7C1011.9 1550.4 1007.2 1574.6 1004.5 1598.0C1001.8 1621.4 998.0 1650.0 997.0 1676.1C996.1 1702.1 997.4 1728.4 998.9 1754.5C1000.5 1780.5 1003.0 1806.4 1006.4 1832.5C1009.8 1858.6 1017.3 1897.8 1019.4 1910.9L1019.4 1915.9 L980.1 1915.9L980.1 1472.2Z" fill="#FF1400"/>
<path d="M985.1 1845.6C987.1 1850.5 993.8 1866.7 997.0 1875.4C1000.3 1884.1 1003.0 1891.9 1004.5 1897.8C1006.1 1903.7 1006.1 1908.7 1006.4 1910.9L1006.4 1915.9 L980.1 1915.9L980.1 1845.6Z" fill="#FF3232"/>
<path d="M985.1 1897.8C985.8 1900.0 988.8 1908.7 989.6 1910.9L989.6 1915.9 L980.1 1915.9L980.1 1897.8Z" fill="#FF8C8C"/>
<path d="M1459.1 1451.7C1458.0 1457.0 1454.3 1472.1 1452.4 1483.4C1450.6 1494.7 1449.0 1504.7 1448.0 1519.6C1446.9 1534.5 1446.6 1554.8 1446.1 1573.0C1445.6 1591.2 1446.1 1611.8 1445.0 1629.0C1443.8 1646.2 1441.9 1660.5 1439.4 1676.1C1436.9 1691.6 1432.5 1709.3 1430.0 1722.4C1427.5 1735.4 1427.5 1742.0 1424.4 1754.5C1421.3 1766.9 1415.7 1784.0 1411.4 1797.0C1407.0 1810.0 1403.0 1820.0 1398.3 1832.5C1393.6 1844.9 1386.8 1858.6 1383.4 1871.7C1380.0 1884.8 1378.7 1904.4 1377.8 1910.9L1377.8 1915.9 L1464.0 1915.9L1464.0 1451.7Z" fill="#000000"/>
<path d="M1396.4 1128.7C1396.8 1141.7 1397.4 1180.8 1398.3 1206.9C1399.2 1233.0 1401.4 1259.1 1402.0 1285.1C1402.7 1311.2 1403.3 1337.3 1402.0 1363.4C1400.8 1389.4 1397.4 1415.5 1394.6 1441.6C1391.8 1467.7 1385.9 1493.7 1385.2 1519.8C1384.6 1545.9 1391.2 1571.9 1390.8 1598.0C1390.5 1624.1 1387.1 1650.2 1383.4 1676.2C1379.6 1702.3 1374.7 1728.4 1368.4 1754.5C1362.2 1780.5 1353.5 1806.6 1346.0 1832.7C1338.6 1858.8 1327.4 1897.9 1323.7 1910.9" fill="none" stroke="#e8e8e8" stroke-opacity="0.80" stroke-width="0.9"/>
<path d="M1325.5 1128.7C1326.8 1141.7 1330.5 1180.8 1333.0 1206.9C1335.5 1233.0 1338.3 1259.1 1340.5 1285.1C1342.6 1311.2 1345.4 1337.3 1346.0 1363.4C1346.7 1389.4 1346.0 1415.5 1344.2 1441.6C1342.3 1467.7 1335.5 1493.7 1334.9 1519.8C1334.2 1545.9 1340.1 1571.9 1340.5 1598.0C1340.8 1624.1 1339.8 1650.2 1336.7 1676.2C1333.6 1702.3 1327.1 1728.4 1321.8 1754.5C1316.5 1780.5 1309.3 1806.6 1305.0 1832.7C1300.6 1858.8 1297.2 1897.9 1295.7 1910.9" fill="none" stroke="#e8e8e8" stroke-opacity="0.80" stroke-width="0.9"/>
<path d="M1235.9 1128.7C1241.5 1141.7 1260.2 1180.8 1269.5 1206.9C1278.9 1233.0 1286.3 1259.1 1291.9 1285.1C1297.5 1311.2 1300.9 1337.3 1303.1 1363.4C1305.3 1389.4 1305.0 1415.5 1305.0 1441.6C1305.0 1467.7 1303.6 1493.7 1303.1 1519.8C1302.7 1545.9 1303.3 1571.9 1302.4 1598.0C1301.4 1624.1 1300.2 1650.2 1297.5 1676.2C1294.8 1702.3 1290.7 1728.4 1286.3 1754.5C1282.0 1780.5 1274.8 1806.6 1271.4 1832.7C1268.0 1858.8 1266.7 1897.9 1265.8 1910.9" fill="none" stroke="#111" stroke-width="1.3" stroke-dasharray="79.3 53.0 295.5 53.0 99999.0"/>
<path d="M1189.3 1128.7C1194.6 1141.7 1211.4 1180.8 1221.0 1206.9C1230.6 1233.0 1240.3 1259.1 1247.1 1285.1C1254.0 1311.2 1258.6 1337.3 1262.1 1363.4C1265.5 1389.4 1266.4 1415.5 1267.7 1441.6C1268.9 1467.7 1269.2 1493.7 1269.5 1519.8C1269.8 1545.9 1270.2 1571.9 1269.5 1598.0C1268.9 1624.1 1268.3 1650.2 1265.8 1676.2C1263.3 1702.3 1258.3 1728.4 1254.6 1754.5C1250.9 1780.5 1246.2 1806.6 1243.4 1832.7C1240.6 1858.8 1238.7 1897.9 1237.8 1910.9" fill="none" stroke="#8c8c8c" stroke-opacity="0.55" stroke-width="0.9"/>
<path d="M1146.4 1128.7C1151.3 1141.7 1166.3 1180.8 1176.2 1206.9C1186.2 1233.0 1197.4 1259.1 1206.1 1285.1C1214.8 1311.2 1223.5 1337.3 1228.5 1363.4C1233.4 1389.4 1234.4 1415.5 1235.9 1441.6C1237.5 1467.7 1237.2 1493.7 1237.8 1519.8C1238.4 1545.9 1240.0 1571.9 1239.7 1598.0C1239.4 1624.1 1238.1 1650.2 1235.9 1676.2C1233.8 1702.3 1230.6 1728.4 1226.6 1754.5C1222.6 1780.5 1216.0 1806.6 1211.7 1832.7C1207.3 1858.8 1202.3 1897.9 1200.5 1910.9" fill="none" stroke="#c8c8c8" stroke-opacity="0.70" stroke-width="0.9"/>
<path d="M1101.6 1128.7C1106.5 1141.7 1120.8 1180.7 1131.4 1206.7C1142.0 1232.8 1155.4 1259.1 1165.0 1285.1C1174.7 1311.2 1183.1 1337.1 1189.3 1363.2C1195.5 1389.2 1199.5 1415.5 1202.3 1441.6C1205.1 1467.7 1205.1 1493.5 1206.1 1519.6C1207.0 1545.7 1208.3 1571.9 1207.9 1598.0C1207.6 1624.1 1206.4 1650.0 1204.2 1676.1C1202.0 1702.1 1199.2 1728.4 1194.9 1754.5C1190.5 1780.5 1182.4 1813.0 1178.1 1832.5C1173.7 1852.0 1172.5 1858.6 1168.7 1871.7C1165.0 1884.8 1157.9 1904.4 1155.7 1910.9" fill="none" stroke="#c8c8c8" stroke-opacity="0.70" stroke-width="0.9"/>
<path d="M1058.6 1128.7C1063.3 1141.7 1076.4 1180.7 1086.6 1206.7C1096.9 1232.8 1110.0 1259.1 1120.2 1285.1C1130.5 1311.2 1140.8 1337.1 1148.2 1363.2C1155.7 1389.2 1161.0 1415.5 1165.0 1441.6C1169.1 1467.7 1170.7 1493.5 1172.5 1519.6C1174.2 1545.7 1175.3 1571.9 1175.5 1598.0C1175.6 1624.1 1175.0 1650.0 1173.2 1676.1C1171.5 1702.1 1169.2 1728.4 1165.0 1754.5C1160.8 1780.5 1153.8 1813.0 1148.2 1832.5C1142.6 1852.0 1138.0 1858.6 1131.4 1871.7C1124.9 1884.8 1112.8 1904.4 1109.0 1910.9" fill="none" stroke="#111" stroke-width="1.3" stroke-dasharray="77.6 53.0 285.4 53.0 99999.0"/>
<path d="M1013.8 1128.7C1019.8 1141.7 1037.2 1180.7 1049.3 1206.7C1061.4 1232.8 1076.1 1259.1 1086.6 1285.1C1097.2 1311.2 1105.0 1337.1 1112.8 1363.2C1120.5 1389.2 1128.3 1415.5 1133.3 1441.6C1138.3 1467.7 1140.8 1493.5 1142.6 1519.6C1144.5 1545.7 1144.5 1571.9 1144.5 1598.0C1144.5 1624.1 1143.9 1650.0 1142.6 1676.1C1141.4 1702.1 1140.1 1728.4 1137.0 1754.5C1133.9 1780.5 1128.6 1813.0 1124.0 1832.5C1119.3 1852.0 1114.3 1858.6 1109.0 1871.7C1103.7 1884.8 1095.0 1904.4 1092.2 1910.9" fill="none" stroke="#e8e8e8" stroke-opacity="0.80" stroke-width="0.9"/>
<path d="M985.1 1181.0C989.0 1189.7 1000.3 1215.9 1008.2 1233.2C1016.1 1250.6 1022.6 1263.5 1032.5 1285.1C1042.5 1306.8 1056.8 1337.1 1068.0 1363.2C1079.2 1389.2 1092.2 1415.5 1099.7 1441.6C1107.2 1467.7 1110.3 1493.5 1112.8 1519.6C1115.2 1545.7 1114.6 1571.9 1114.6 1598.0C1114.6 1624.1 1114.0 1650.0 1112.8 1676.1C1111.5 1702.1 1110.0 1728.4 1107.2 1754.5C1104.4 1780.5 1100.8 1806.4 1096.0 1832.5C1091.2 1858.6 1081.3 1897.8 1078.4 1910.9" fill="none" stroke="#8c8c8c" stroke-opacity="0.55" stroke-width="0.9"/>
<path d="M985.1 1278.0C989.0 1285.5 1000.3 1308.7 1008.2 1322.8C1016.1 1337.0 1021.9 1343.4 1032.5 1363.2C1043.1 1383.0 1062.4 1415.5 1071.7 1441.6C1081.0 1467.7 1085.7 1493.5 1088.5 1519.6C1091.3 1545.7 1088.8 1571.9 1088.5 1598.0C1088.2 1624.1 1087.9 1650.0 1086.6 1676.1C1085.4 1702.1 1083.2 1728.4 1081.0 1754.5C1078.9 1780.5 1076.4 1806.4 1073.6 1832.5C1070.8 1858.6 1065.8 1897.8 1064.2 1910.9" fill="none" stroke="#8c8c8c" stroke-opacity="0.55" stroke-width="0.9"/>
<path d="M985.1 1349.0C986.5 1351.4 987.0 1354.5 993.3 1363.2C999.7 1371.9 1014.8 1388.2 1023.2 1401.3C1031.6 1414.3 1038.1 1427.9 1043.7 1441.6C1049.3 1455.3 1054.0 1470.4 1056.8 1483.4C1059.6 1496.4 1059.8 1500.5 1060.5 1519.6C1061.2 1538.7 1061.6 1571.9 1061.2 1598.0C1060.9 1624.1 1059.7 1650.0 1058.6 1676.1C1057.6 1702.1 1056.1 1728.4 1054.9 1754.5C1053.7 1780.5 1052.1 1806.4 1051.2 1832.5C1050.2 1858.6 1049.6 1897.8 1049.3 1910.9" fill="none" stroke="#111" stroke-width="1.3" stroke-dasharray="164.0 53.0 99999.0"/>
<path d="M985.1 1416.2C987.1 1420.4 990.7 1432.2 997.0 1441.6C1003.4 1450.9 1016.6 1462.1 1023.2 1472.2C1029.7 1482.3 1033.9 1494.2 1036.2 1502.1C1038.6 1510.0 1037.7 1503.6 1037.4 1519.6C1037.0 1535.6 1035.8 1571.9 1034.4 1598.0C1032.9 1624.1 1030.0 1650.0 1028.8 1676.1C1027.5 1702.1 1026.9 1728.4 1026.9 1754.5C1026.9 1780.5 1027.5 1806.4 1028.8 1832.5C1030.0 1858.6 1033.4 1897.8 1034.4 1910.9" fill="none" stroke="#c8c8c8" stroke-opacity="0.70" stroke-width="0.9"/>
<path d="M985.1 1472.2C987.7 1474.7 996.3 1480.9 1000.8 1487.1C1005.3 1493.4 1009.9 1501.4 1012.0 1509.5C1014.0 1517.6 1014.3 1520.9 1013.1 1535.7C1011.9 1550.4 1007.2 1574.6 1004.5 1598.0C1001.8 1621.4 998.0 1650.0 997.0 1676.1C996.1 1702.1 997.4 1728.4 998.9 1754.5C1000.5 1780.5 1003.0 1806.4 1006.4 1832.5C1009.8 1858.6 1017.3 1897.8 1019.4 1910.9" fill="none" stroke="#e8e8e8" stroke-opacity="0.80" stroke-width="0.9"/>
<path d="M985.1 1845.6C987.1 1850.5 993.8 1866.7 997.0 1875.4C1000.3 1884.1 1003.0 1891.9 1004.5 1897.8C1006.1 1903.7 1006.1 1908.7 1006.4 1910.9" fill="none" stroke="#c8c8c8" stroke-opacity="0.70" stroke-width="0.9"/>
<path d="M985.1 1897.8C985.8 1900.0 988.8 1908.7 989.6 1910.9" fill="none" stroke="#111" stroke-width="1.3"/>
<path d="M1459.1 1451.7C1458.0 1457.0 1454.3 1472.1 1452.4 1483.4C1450.6 1494.7 1449.0 1504.7 1448.0 1519.6C1446.9 1534.5 1446.6 1554.8 1446.1 1573.0C1445.6 1591.2 1446.1 1611.8 1445.0 1629.0C1443.8 1646.2 1441.9 1660.5 1439.4 1676.1C1436.9 1691.6 1432.5 1709.3 1430.0 1722.4C1427.5 1735.4 1427.5 1742.0 1424.4 1754.5C1421.3 1766.9 1415.7 1784.0 1411.4 1797.0C1407.0 1810.0 1403.0 1820.0 1398.3 1832.5C1393.6 1844.9 1386.8 1858.6 1383.4 1871.7C1380.0 1884.8 1378.7 1904.4 1377.8 1910.9" fill="none" stroke="#e8e8e8" stroke-opacity="0.80" stroke-width="0.9"/>
<text transform="translate(1087.8 1230.4) rotate(70.0)" font-size="43" text-anchor="middle" y="14.2" fill="#111">25</text>
<text transform="translate(1271.4 1230.4) rotate(72.0)" font-size="43" text-anchor="middle" y="14.2" fill="#111">21</text>
<text transform="translate(1056.2 1517.8) rotate(80.0)" font-size="43" text-anchor="middle" y="14.2" fill="#111">29</text>
<text transform="translate(1172.7 1555.0) rotate(83.0)" font-size="43" text-anchor="middle" y="14.2" fill="#111">25</text>
<text transform="translate(1301.0 1570.6) rotate(85.0)" font-size="43" text-anchor="middle" y="14.2" fill="#111">21</text>
</g>
<rect x="985.1" y="1128.7" width="473.9" height="782.2" fill="none" stroke="#7a7a7a" stroke-width="2"/>
<path d="M1024.6 1128.7v-10.0M1024.6 1910.9v10.0M1103.6 1128.7v-10.0M1103.6 1910.9v10.0M1182.6 1128.7v-10.0M1182.6 1910.9v10.0M1261.5 1128.7v-10.0M1261.5 1910.9v10.0M1340.5 1128.7v-10.0M1340.5 1910.9v10.0M1419.5 1128.7v-10.0M1419.5 1910.9v10.0M985.1 1128.7h-10.0M1459.0 1128.7h10.0M985.1 1206.9h-10.0M1459.0 1206.9h10.0M985.1 1285.1h-10.0M1459.0 1285.1h10.0M985.1 1363.4h-10.0M1459.0 1363.4h10.0M985.1 1441.6h-10.0M1459.0 1441.6h10.0M985.1 1519.8h-10.0M1459.0 1519.8h10.0M985.1 1598.0h-10.0M1459.0 1598.0h10.0M985.1 1676.2h-10.0M1459.0 1676.2h10.0M985.1 1754.5h-10.0M1459.0 1754.5h10.0M985.1 1832.7h-10.0M1459.0 1832.7h10.0M985.1 1910.9h-10.0M1459.0 1910.9h10.0" stroke="#7a7a7a" stroke-width="2" fill="none"/>
<text fill="#1c1c1c" transform="translate(1024.6 1962.9) scale(1.060 1)" font-size="42" text-anchor="middle">4</text>
<text fill="#1c1c1c" transform="translate(1103.6 1962.9) scale(1.060 1)" font-size="42" text-anchor="middle">6</text>
<text fill="#1c1c1c" transform="translate(1182.6 1962.9) scale(1.060 1)" font-size="42" text-anchor="middle">8</text>
<text fill="#1c1c1c" transform="translate(1261.5 1962.9) scale(1.060 1)" font-size="42" text-anchor="middle">10</text>
<text fill="#1c1c1c" transform="translate(1340.5 1962.9) scale(1.060 1)" font-size="42" text-anchor="middle">12</text>
<text fill="#1c1c1c" transform="translate(1419.5 1962.9) scale(1.060 1)" font-size="42" text-anchor="middle">14</text>
<text fill="#1c1c1c" transform="translate(973.1 1142.7) scale(1.060 1)" font-size="42" text-anchor="end">0</text>
<text fill="#1c1c1c" transform="translate(973.1 1220.9) scale(1.060 1)" font-size="42" text-anchor="end">-2</text>
<text fill="#1c1c1c" transform="translate(973.1 1299.1) scale(1.060 1)" font-size="42" text-anchor="end">-4</text>
<text fill="#1c1c1c" transform="translate(973.1 1377.4) scale(1.060 1)" font-size="42" text-anchor="end">-6</text>
<text fill="#1c1c1c" transform="translate(973.1 1455.6) scale(1.060 1)" font-size="42" text-anchor="end">-8</text>
<text fill="#1c1c1c" transform="translate(973.1 1533.8) scale(1.060 1)" font-size="42" text-anchor="end">-10</text>
<text fill="#1c1c1c" transform="translate(973.1 1612.0) scale(1.060 1)" font-size="42" text-anchor="end">-12</text>
<text fill="#1c1c1c" transform="translate(973.1 1690.2) scale(1.060 1)" font-size="42" text-anchor="end">-14</text>
<text fill="#1c1c1c" transform="translate(973.1 1768.5) scale(1.060 1)" font-size="42" text-anchor="end">-16</text>
<text fill="#1c1c1c" transform="translate(973.1 1846.7) scale(1.060 1)" font-size="42" text-anchor="end">-18</text>
<text fill="#1c1c1c" transform="translate(973.1 1924.9) scale(1.060 1)" font-size="42" text-anchor="end">-20</text>
<text fill="#1c1c1c" transform="translate(1222.0 2021.9) scale(1.060 1)" font-size="43" text-anchor="middle">Horizontal distance/cm</text>
<text fill="#1c1c1c" transform="translate(893.1 1517.3) rotate(-90) scale(1.060 1)" font-size="43" text-anchor="middle">Vertical distance/cm</text>
<text transform="translate(1236.0 2093.0) scale(1.04 1)" font-size="59" text-anchor="middle" fill="#000">120 s</text>
<rect x="1533.0" y="1762.50" width="34.0" height="29.30" fill="#000000"/>
<rect x="1533.0" y="1733.50" width="34.0" height="29.30" fill="#00007A"/>
<rect x="1533.0" y="1704.50" width="34.0" height="29.30" fill="#0000FF"/>
<rect x="1533.0" y="1675.50" width="34.0" height="29.30" fill="#0055FF"/>
<rect x="1533.0" y="1646.50" width="34.0" height="29.30" fill="#00BFFF"/>
<rect x="1533.0" y="1617.50" width="34.0" height="29.30" fill="#00F5E6"/>
<rect x="1533.0" y="1588.50" width="34.0" height="29.30" fill="#00DDB0"/>
<rect x="1533.0" y="1559.50" width="34.0" height="29.30" fill="#00C870"/>
<rect x="1533.0" y="1530.50" width="34.0" height="29.30" fill="#00B020"/>
<rect x="1533.0" y="1501.50" width="34.0" height="29.30" fill="#00A800"/>
<rect x="1533.0" y="1472.50" width="34.0" height="29.30" fill="#90E000"/>
<rect x="1533.0" y="1443.50" width="34.0" height="29.30" fill="#FFE500"/>
<rect x="1533.0" y="1414.50" width="34.0" height="29.30" fill="#FFA500"/>
<rect x="1533.0" y="1385.50" width="34.0" height="29.30" fill="#FF5F00"/>
<rect x="1533.0" y="1356.50" width="34.0" height="29.30" fill="#FF1400"/>
<rect x="1533.0" y="1327.50" width="34.0" height="29.30" fill="#FF3232"/>
<rect x="1533.0" y="1298.50" width="34.0" height="29.30" fill="#FF8C8C"/>
<rect x="1533.0" y="1269.50" width="34.0" height="29.30" fill="#FFE5E5"/>
<path d="M1533.0 1762.5h34.0M1533.0 1733.5h34.0M1533.0 1704.5h34.0M1533.0 1675.5h34.0M1533.0 1646.5h34.0M1533.0 1617.5h34.0M1533.0 1588.5h34.0M1533.0 1559.5h34.0M1533.0 1530.5h34.0M1533.0 1501.5h34.0M1533.0 1472.5h34.0M1533.0 1443.5h34.0M1533.0 1414.5h34.0M1533.0 1385.5h34.0M1533.0 1356.5h34.0M1533.0 1327.5h34.0M1533.0 1298.5h34.0" stroke="#333" stroke-opacity="0.6" stroke-width="1.2" fill="none"/>
<rect x="1533.0" y="1269.5" width="34.0" height="522.0" fill="none" stroke="#666" stroke-width="1.6"/>
<text fill="#1c1c1c" transform="translate(1580.0 1805.0) scale(1.060 1)" font-size="42">17</text>
<text fill="#1c1c1c" transform="translate(1580.0 1747.0) scale(1.060 1)" font-size="42">19</text>
<text fill="#1c1c1c" transform="translate(1580.0 1689.0) scale(1.060 1)" font-size="42">21</text>
<text fill="#1c1c1c" transform="translate(1580.0 1631.0) scale(1.060 1)" font-size="42">23</text>
<text fill="#1c1c1c" transform="translate(1580.0 1573.0) scale(1.060 1)" font-size="42">25</text>
<text fill="#1c1c1c" transform="translate(1580.0 1515.0) scale(1.060 1)" font-size="42">27</text>
<text fill="#1c1c1c" transform="translate(1580.0 1457.0) scale(1.060 1)" font-size="42">29</text>
<text fill="#1c1c1c" transform="translate(1580.0 1399.0) scale(1.060 1)" font-size="42">31</text>
<text fill="#1c1c1c" transform="translate(1580.0 1341.0) scale(1.060 1)" font-size="42">33</text>
<clipPath id="c6"><rect x="1825.8" y="1128.7" width="473.9" height="782.2"/></clipPath>
<g clip-path="url(#c6)">
<rect x="1824.8" y="1127.7" width="475.9" height="784.2" fill="#0000FF"/>
<path d="M2241.6 1128.7C2244.3 1141.7 2252.8 1180.8 2257.7 1206.9C2262.5 1233.0 2266.7 1259.1 2270.7 1285.1C2274.8 1311.2 2279.4 1337.3 2281.9 1363.4C2284.4 1389.4 2286.3 1422.0 2285.7 1441.6C2285.0 1461.1 2280.4 1467.7 2278.2 1480.7C2276.0 1493.7 2272.9 1506.8 2272.6 1519.8C2272.3 1532.8 2274.8 1545.9 2276.3 1558.9C2277.9 1571.9 2280.7 1578.5 2281.9 1598.0C2283.2 1617.6 2285.4 1650.2 2283.8 1676.2C2282.2 1702.3 2277.9 1728.4 2272.6 1754.5C2267.3 1780.5 2256.4 1806.6 2252.1 1832.7C2247.7 1858.8 2247.4 1897.9 2246.5 1910.9L2246.5 1915.9 L1820.8 1915.9L1820.8 1123.7 L2241.6 1123.7Z" fill="#0055FF"/>
<path d="M2197.9 1128.7C2200.7 1141.7 2208.8 1180.8 2214.7 1206.9C2220.7 1233.0 2227.8 1259.1 2233.4 1285.1C2239.0 1311.2 2243.4 1337.3 2248.3 1363.4C2253.3 1389.4 2261.3 1422.0 2263.3 1441.6C2265.3 1461.1 2261.2 1467.7 2260.3 1480.7C2259.3 1493.7 2257.5 1506.8 2257.7 1519.8C2257.9 1532.8 2261.1 1545.9 2261.4 1558.9C2261.7 1571.9 2261.1 1578.5 2259.5 1598.0C2258.0 1617.6 2255.8 1650.2 2252.1 1676.2C2248.3 1702.3 2241.8 1728.4 2237.1 1754.5C2232.5 1780.5 2225.9 1806.6 2224.1 1832.7C2222.2 1858.8 2225.6 1897.9 2225.9 1910.9L2225.9 1915.9 L1820.8 1915.9L1820.8 1123.7 L2197.9 1123.7Z" fill="#00BFFF"/>
<path d="M2166.2 1128.7C2169.0 1141.7 2176.8 1180.8 2183.0 1206.9C2189.2 1233.0 2196.4 1259.1 2203.5 1285.1C2210.7 1311.2 2219.4 1337.3 2225.9 1363.4C2232.5 1389.4 2239.9 1422.0 2242.7 1441.6C2245.5 1461.1 2242.6 1467.7 2242.7 1480.7C2242.9 1493.7 2243.2 1506.8 2243.9 1519.8C2244.5 1532.8 2247.0 1545.9 2246.5 1558.9C2246.0 1571.9 2244.9 1578.5 2240.9 1598.0C2236.8 1617.6 2227.5 1650.2 2222.2 1676.2C2216.9 1702.3 2212.6 1728.4 2209.1 1754.5C2205.7 1780.5 2202.3 1806.6 2201.7 1832.7C2201.1 1858.8 2204.8 1897.9 2205.4 1910.9L2205.4 1915.9 L1820.8 1915.9L1820.8 1123.7 L2166.2 1123.7Z" fill="#00F5E6"/>
<path d="M2134.5 1128.7C2137.3 1141.7 2144.8 1180.7 2151.3 1206.7C2157.8 1232.8 2165.6 1259.1 2173.7 1285.1C2181.8 1311.2 2191.7 1337.1 2199.8 1363.2C2207.9 1389.2 2217.5 1422.0 2222.2 1441.6C2226.9 1461.1 2226.3 1467.4 2227.8 1480.4C2229.4 1493.4 2230.6 1506.5 2231.5 1519.6C2232.5 1532.7 2234.7 1545.7 2233.4 1558.8C2232.2 1571.9 2229.7 1578.5 2224.1 1598.0C2218.5 1617.6 2207.3 1650.0 2199.8 1676.1C2192.3 1702.1 2183.6 1728.4 2179.3 1754.5C2174.9 1780.5 2174.3 1813.0 2173.7 1832.5C2173.1 1852.0 2174.0 1858.6 2175.6 1871.7C2177.1 1884.8 2181.8 1904.4 2183.0 1910.9L2183.0 1915.9 L1820.8 1915.9L1820.8 1123.7 L2134.5 1123.7Z" fill="#00DDB0"/>
<path d="M2106.5 1128.7C2109.0 1141.7 2115.5 1180.7 2121.4 1206.7C2127.3 1232.8 2134.5 1259.1 2142.0 1285.1C2149.4 1311.2 2157.2 1337.1 2166.2 1363.2C2175.2 1389.2 2188.9 1422.0 2196.1 1441.6C2203.2 1461.1 2205.5 1467.4 2209.1 1480.4C2212.8 1493.4 2216.2 1506.5 2217.7 1519.6C2219.3 1532.7 2220.8 1545.7 2218.5 1558.8C2216.1 1571.9 2211.0 1578.5 2203.5 1598.0C2196.1 1617.6 2182.4 1650.0 2173.7 1676.1C2165.0 1702.1 2157.2 1728.4 2151.3 1754.5C2145.4 1780.5 2141.3 1813.0 2138.2 1832.5C2135.1 1852.0 2133.6 1858.6 2132.6 1871.7C2131.7 1884.8 2132.6 1904.4 2132.6 1910.9L2132.6 1915.9 L1820.8 1915.9L1820.8 1123.7 L2106.5 1123.7Z" fill="#00C870"/>
<path d="M2074.8 1128.7C2076.9 1141.7 2082.5 1180.7 2087.8 1206.7C2093.1 1232.8 2099.0 1259.1 2106.5 1285.1C2114.0 1311.2 2122.0 1337.1 2132.6 1363.2C2143.2 1389.2 2160.0 1422.0 2170.0 1441.6C2179.9 1461.1 2186.4 1467.4 2192.3 1480.4C2198.3 1493.4 2204.2 1506.5 2205.4 1519.6C2206.7 1532.7 2204.5 1545.7 2199.8 1558.8C2195.1 1571.9 2187.7 1578.5 2177.4 1598.0C2167.2 1617.6 2148.5 1650.0 2138.2 1676.1C2128.0 1702.1 2122.4 1728.4 2115.8 1754.5C2109.3 1780.5 2104.3 1813.0 2099.0 1832.5C2093.7 1852.0 2088.8 1858.6 2084.1 1871.7C2079.4 1884.8 2073.2 1904.4 2071.0 1910.9L2071.0 1915.9 L1820.8 1915.9L1820.8 1123.7 L2074.8 1123.7Z" fill="#00B020"/>
<path d="M2035.6 1128.7C2037.4 1141.7 2041.8 1180.7 2046.8 1206.7C2051.8 1232.8 2057.7 1259.1 2065.4 1285.1C2073.2 1311.2 2081.3 1337.1 2093.4 1363.2C2105.6 1389.2 2124.8 1422.0 2138.2 1441.6C2151.6 1461.1 2165.0 1469.4 2173.7 1480.4C2182.4 1491.4 2187.4 1501.1 2190.5 1507.7C2193.6 1514.2 2192.5 1514.9 2192.3 1519.6C2192.2 1524.3 2191.2 1529.1 2189.4 1535.7C2187.5 1542.2 2188.7 1548.4 2181.2 1558.8C2173.6 1569.2 2156.6 1578.5 2143.8 1598.0C2131.1 1617.6 2115.2 1650.0 2104.6 1676.1C2094.1 1702.1 2088.8 1728.4 2080.4 1754.5C2072.0 1780.5 2062.0 1806.4 2054.2 1832.5C2046.5 1858.6 2037.1 1897.8 2033.7 1910.9L2033.7 1915.9 L1820.8 1915.9L1820.8 1123.7 L2035.6 1123.7Z" fill="#00A800"/>
<path d="M1992.7 1128.7C1994.2 1141.7 1997.6 1180.7 2002.0 1206.7C2006.3 1232.8 2011.3 1259.1 2018.8 1285.1C2026.2 1311.2 2036.5 1337.1 2046.8 1363.2C2057.0 1389.2 2069.8 1422.0 2080.4 1441.6C2090.9 1461.1 2100.9 1469.4 2110.2 1480.4C2119.6 1491.4 2130.3 1501.1 2136.4 1507.7C2142.5 1514.2 2146.8 1514.9 2146.8 1519.6C2146.8 1524.3 2140.6 1529.1 2136.4 1535.7C2132.1 1542.2 2128.0 1548.4 2121.4 1558.8C2114.9 1569.2 2105.3 1578.5 2097.2 1598.0C2089.1 1617.6 2080.1 1650.0 2072.9 1676.1C2065.7 1702.1 2061.4 1728.4 2054.2 1754.5C2047.1 1780.5 2038.4 1806.4 2030.0 1832.5C2021.6 1858.6 2008.2 1897.8 2003.8 1910.9L2003.8 1915.9 L1820.8 1915.9L1820.8 1123.7 L1992.7 1123.7Z" fill="#90E000"/>
<path d="M1945.2 1128.7C1945.9 1141.7 1945.4 1180.7 1949.0 1206.7C1952.5 1232.8 1958.3 1259.1 1966.5 1285.1C1974.7 1311.2 1987.4 1337.1 1998.2 1363.2C2009.1 1389.2 2024.4 1422.0 2031.8 1441.6C2039.3 1461.1 2040.6 1467.4 2043.0 1480.4C2045.5 1493.4 2045.4 1506.5 2046.8 1519.6C2048.1 1532.7 2050.5 1545.7 2051.3 1558.8C2052.0 1571.9 2054.2 1578.5 2051.3 1598.0C2048.3 1617.6 2040.1 1650.0 2033.7 1676.1C2027.4 1702.1 2020.0 1728.4 2013.2 1754.5C2006.3 1780.5 1999.7 1806.4 1992.7 1832.5C1985.6 1858.6 1974.6 1897.8 1971.0 1910.9L1971.0 1915.9 L1820.8 1915.9L1820.8 1123.7 L1945.2 1123.7Z" fill="#FFE500"/>
<path d="M1825.8 1162.3C1831.5 1166.0 1850.7 1177.3 1860.1 1184.7C1869.6 1192.1 1875.1 1196.2 1882.5 1206.7C1890.0 1217.3 1898.4 1235.1 1904.9 1248.2C1911.5 1261.2 1913.0 1266.0 1921.7 1285.1C1930.4 1304.3 1946.0 1337.1 1957.2 1363.2C1968.4 1389.2 1982.0 1422.0 1988.9 1441.6C1995.9 1461.1 1996.5 1467.4 1999.0 1480.4C2001.5 1493.4 2002.9 1506.5 2003.8 1519.6C2004.8 1532.7 2005.0 1545.7 2005.0 1558.8C2005.0 1571.9 2006.5 1578.5 2003.8 1598.0C2001.2 1617.6 1994.2 1650.0 1988.9 1676.1C1983.6 1702.1 1977.7 1728.4 1972.1 1754.5C1966.5 1780.5 1960.6 1806.4 1955.3 1832.5C1950.0 1858.6 1942.9 1897.8 1940.4 1910.9L1940.4 1915.9 L1820.8 1915.9L1820.8 1162.3Z" fill="#FFA500"/>
<path d="M1825.8 1266.8C1827.2 1269.9 1828.3 1275.2 1834.0 1285.1C1839.7 1295.1 1852.1 1313.6 1860.1 1326.6C1868.2 1339.6 1871.0 1344.0 1882.5 1363.2C1894.0 1382.3 1918.3 1422.0 1929.2 1441.6C1940.1 1461.1 1942.9 1467.4 1947.9 1480.4C1952.8 1493.4 1956.9 1506.5 1959.1 1519.6C1961.2 1532.7 1960.9 1545.7 1960.9 1558.8C1960.9 1571.9 1960.9 1578.5 1959.1 1598.0C1957.2 1617.6 1952.8 1650.0 1949.7 1676.1C1946.6 1702.1 1943.8 1728.4 1940.4 1754.5C1937.0 1780.5 1932.7 1806.4 1929.2 1832.5C1925.6 1858.6 1920.8 1897.8 1919.1 1910.9L1919.1 1915.9 L1820.8 1915.9L1820.8 1266.8Z" fill="#FF5F00"/>
<path d="M1825.8 1371.4C1829.7 1377.0 1841.4 1393.3 1848.9 1405.0C1856.5 1416.7 1863.9 1429.0 1871.3 1441.6C1878.8 1454.1 1887.5 1467.4 1893.7 1480.4C1900.0 1493.4 1905.7 1506.5 1908.7 1519.6C1911.7 1532.7 1911.2 1545.7 1911.7 1558.8C1912.1 1571.9 1912.1 1578.5 1911.7 1598.0C1911.2 1617.6 1909.8 1650.0 1908.7 1676.1C1907.5 1702.1 1906.5 1728.4 1904.9 1754.5C1903.4 1780.5 1900.8 1806.4 1899.3 1832.5C1897.9 1858.6 1896.8 1897.8 1896.3 1910.9L1896.3 1915.9 L1820.8 1915.9L1820.8 1371.4Z" fill="#FF1400"/>
<path d="M1825.8 1485.3C1827.8 1487.4 1834.2 1492.6 1837.7 1498.3C1841.3 1504.1 1844.6 1509.5 1847.1 1519.6C1849.6 1529.7 1851.4 1545.7 1852.7 1558.8C1853.9 1571.9 1853.6 1578.5 1854.5 1598.0C1855.5 1617.6 1856.7 1650.0 1858.3 1676.1C1859.8 1702.1 1861.4 1728.4 1863.9 1754.5C1866.4 1780.5 1871.3 1806.4 1873.2 1832.5C1875.1 1858.6 1874.8 1897.8 1875.1 1910.9L1875.1 1915.9 L1820.8 1915.9L1820.8 1485.3Z" fill="#FF3232"/>
<path d="M1825.8 1782.1C1826.5 1790.5 1827.0 1816.9 1830.3 1832.5C1833.5 1848.1 1841.5 1862.4 1845.2 1875.4C1848.9 1888.5 1851.4 1905.0 1852.7 1910.9L1852.7 1915.9 L1820.8 1915.9L1820.8 1782.1Z" fill="#FF8C8C"/>
<path d="M2287.5 1128.7C2288.8 1133.1 2292.9 1146.1 2295.0 1154.8C2297.0 1163.5 2299.0 1176.6 2299.8 1181.0L2304.7 1181.0L2304.7 1123.7 L2287.5 1123.7Z" fill="#00007A"/>
<path d="M2299.8 1474.1C2297.8 1478.7 2289.9 1494.5 2287.5 1502.1C2285.2 1509.7 2285.4 1512.8 2285.7 1519.6C2286.0 1526.5 2287.0 1534.2 2289.4 1543.1C2291.8 1552.0 2298.1 1568.0 2299.8 1573.0L2304.7 1573.0L2304.7 1474.1Z" fill="#00007A"/>
<path d="M2299.8 1763.4C2298.4 1769.0 2294.3 1785.5 2291.3 1797.0C2288.3 1808.5 2285.4 1820.0 2281.9 1832.5C2278.5 1844.9 2273.2 1858.6 2270.7 1871.7C2268.2 1884.8 2267.6 1904.4 2267.0 1910.9L2267.0 1915.9 L2304.7 1915.9L2304.7 1763.4Z" fill="#00007A"/>
<path d="M2299.8 1856.8C2298.4 1861.1 2293.3 1873.9 2291.3 1882.9C2289.2 1891.9 2288.2 1906.2 2287.5 1910.9L2287.5 1915.9 L2304.7 1915.9L2304.7 1856.8Z" fill="#000000"/>
<path d="M2241.6 1128.7C2244.3 1141.7 2252.8 1180.8 2257.7 1206.9C2262.5 1233.0 2266.7 1259.1 2270.7 1285.1C2274.8 1311.2 2279.4 1337.3 2281.9 1363.4C2284.4 1389.4 2286.3 1422.0 2285.7 1441.6C2285.0 1461.1 2280.4 1467.7 2278.2 1480.7C2276.0 1493.7 2272.9 1506.8 2272.6 1519.8C2272.3 1532.8 2274.8 1545.9 2276.3 1558.9C2277.9 1571.9 2280.7 1578.5 2281.9 1598.0C2283.2 1617.6 2285.4 1650.2 2283.8 1676.2C2282.2 1702.3 2277.9 1728.4 2272.6 1754.5C2267.3 1780.5 2256.4 1806.6 2252.1 1832.7C2247.7 1858.8 2247.4 1897.9 2246.5 1910.9" fill="none" stroke="#111" stroke-width="1.3"/>
<path d="M2197.9 1128.7C2200.7 1141.7 2208.8 1180.8 2214.7 1206.9C2220.7 1233.0 2227.8 1259.1 2233.4 1285.1C2239.0 1311.2 2243.4 1337.3 2248.3 1363.4C2253.3 1389.4 2261.3 1422.0 2263.3 1441.6C2265.3 1461.1 2261.2 1467.7 2260.3 1480.7C2259.3 1493.7 2257.5 1506.8 2257.7 1519.8C2257.9 1532.8 2261.1 1545.9 2261.4 1558.9C2261.7 1571.9 2261.1 1578.5 2259.5 1598.0C2258.0 1617.6 2255.8 1650.2 2252.1 1676.2C2248.3 1702.3 2241.8 1728.4 2237.1 1754.5C2232.5 1780.5 2225.9 1806.6 2224.1 1832.7C2222.2 1858.8 2225.6 1897.9 2225.9 1910.9" fill="none" stroke="#c8c8c8" stroke-opacity="0.70" stroke-width="0.9"/>
<path d="M2166.2 1128.7C2169.0 1141.7 2176.8 1180.8 2183.0 1206.9C2189.2 1233.0 2196.4 1259.1 2203.5 1285.1C2210.7 1311.2 2219.4 1337.3 2225.9 1363.4C2232.5 1389.4 2239.9 1422.0 2242.7 1441.6C2245.5 1461.1 2242.6 1467.7 2242.7 1480.7C2242.9 1493.7 2243.2 1506.8 2243.9 1519.8C2244.5 1532.8 2247.0 1545.9 2246.5 1558.9C2246.0 1571.9 2244.9 1578.5 2240.9 1598.0C2236.8 1617.6 2227.5 1650.2 2222.2 1676.2C2216.9 1702.3 2212.6 1728.4 2209.1 1754.5C2205.7 1780.5 2202.3 1806.6 2201.7 1832.7C2201.1 1858.8 2204.8 1897.9 2205.4 1910.9" fill="none" stroke="#8c8c8c" stroke-opacity="0.55" stroke-width="0.9"/>
<path d="M2134.5 1128.7C2137.3 1141.7 2144.8 1180.7 2151.3 1206.7C2157.8 1232.8 2165.6 1259.1 2173.7 1285.1C2181.8 1311.2 2191.7 1337.1 2199.8 1363.2C2207.9 1389.2 2217.5 1422.0 2222.2 1441.6C2226.9 1461.1 2226.3 1467.4 2227.8 1480.4C2229.4 1493.4 2230.6 1506.5 2231.5 1519.6C2232.5 1532.7 2234.7 1545.7 2233.4 1558.8C2232.2 1571.9 2229.7 1578.5 2224.1 1598.0C2218.5 1617.6 2207.3 1650.0 2199.8 1676.1C2192.3 1702.1 2183.6 1728.4 2179.3 1754.5C2174.9 1780.5 2174.3 1813.0 2173.7 1832.5C2173.1 1852.0 2174.0 1858.6 2175.6 1871.7C2177.1 1884.8 2181.8 1904.4 2183.0 1910.9" fill="none" stroke="#111" stroke-width="1.3" stroke-dasharray="80.3 53.0 286.5 53.0 99999.0"/>
<path d="M2106.5 1128.7C2109.0 1141.7 2115.5 1180.7 2121.4 1206.7C2127.3 1232.8 2134.5 1259.1 2142.0 1285.1C2149.4 1311.2 2157.2 1337.1 2166.2 1363.2C2175.2 1389.2 2188.9 1422.0 2196.1 1441.6C2203.2 1461.1 2205.5 1467.4 2209.1 1480.4C2212.8 1493.4 2216.2 1506.5 2217.7 1519.6C2219.3 1532.7 2220.8 1545.7 2218.5 1558.8C2216.1 1571.9 2211.0 1578.5 2203.5 1598.0C2196.1 1617.6 2182.4 1650.0 2173.7 1676.1C2165.0 1702.1 2157.2 1728.4 2151.3 1754.5C2145.4 1780.5 2141.3 1813.0 2138.2 1832.5C2135.1 1852.0 2133.6 1858.6 2132.6 1871.7C2131.7 1884.8 2132.6 1904.4 2132.6 1910.9" fill="none" stroke="#c8c8c8" stroke-opacity="0.70" stroke-width="0.9"/>
<path d="M2074.8 1128.7C2076.9 1141.7 2082.5 1180.7 2087.8 1206.7C2093.1 1232.8 2099.0 1259.1 2106.5 1285.1C2114.0 1311.2 2122.0 1337.1 2132.6 1363.2C2143.2 1389.2 2160.0 1422.0 2170.0 1441.6C2179.9 1461.1 2186.4 1467.4 2192.3 1480.4C2198.3 1493.4 2204.2 1506.5 2205.4 1519.6C2206.7 1532.7 2204.5 1545.7 2199.8 1558.8C2195.1 1571.9 2187.7 1578.5 2177.4 1598.0C2167.2 1617.6 2148.5 1650.0 2138.2 1676.1C2128.0 1702.1 2122.4 1728.4 2115.8 1754.5C2109.3 1780.5 2104.3 1813.0 2099.0 1832.5C2093.7 1852.0 2088.8 1858.6 2084.1 1871.7C2079.4 1884.8 2073.2 1904.4 2071.0 1910.9" fill="none" stroke="#e8e8e8" stroke-opacity="0.80" stroke-width="0.9"/>
<path d="M2035.6 1128.7C2037.4 1141.7 2041.8 1180.7 2046.8 1206.7C2051.8 1232.8 2057.7 1259.1 2065.4 1285.1C2073.2 1311.2 2081.3 1337.1 2093.4 1363.2C2105.6 1389.2 2124.8 1422.0 2138.2 1441.6C2151.6 1461.1 2165.0 1469.4 2173.7 1480.4C2182.4 1491.4 2187.4 1501.1 2190.5 1507.7C2193.6 1514.2 2192.5 1514.9 2192.3 1519.6C2192.2 1524.3 2191.2 1529.1 2189.4 1535.7C2187.5 1542.2 2188.7 1548.4 2181.2 1558.8C2173.6 1569.2 2156.6 1578.5 2143.8 1598.0C2131.1 1617.6 2115.2 1650.0 2104.6 1676.1C2094.1 1702.1 2088.8 1728.4 2080.4 1754.5C2072.0 1780.5 2062.0 1806.4 2054.2 1832.5C2046.5 1858.6 2037.1 1897.8 2033.7 1910.9" fill="none" stroke="#111" stroke-width="1.3" stroke-dasharray="79.0 53.0 312.7 53.0 99999.0"/>
<path d="M1992.7 1128.7C1994.2 1141.7 1997.6 1180.7 2002.0 1206.7C2006.3 1232.8 2011.3 1259.1 2018.8 1285.1C2026.2 1311.2 2036.5 1337.1 2046.8 1363.2C2057.0 1389.2 2069.8 1422.0 2080.4 1441.6C2090.9 1461.1 2100.9 1469.4 2110.2 1480.4C2119.6 1491.4 2130.3 1501.1 2136.4 1507.7C2142.5 1514.2 2146.8 1514.9 2146.8 1519.6C2146.8 1524.3 2140.6 1529.1 2136.4 1535.7C2132.1 1542.2 2128.0 1548.4 2121.4 1558.8C2114.9 1569.2 2105.3 1578.5 2097.2 1598.0C2089.1 1617.6 2080.1 1650.0 2072.9 1676.1C2065.7 1702.1 2061.4 1728.4 2054.2 1754.5C2047.1 1780.5 2038.4 1806.4 2030.0 1832.5C2021.6 1858.6 2008.2 1897.8 2003.8 1910.9" fill="none" stroke="#8c8c8c" stroke-opacity="0.55" stroke-width="0.9"/>
<path d="M1945.2 1128.7C1945.9 1141.7 1945.4 1180.7 1949.0 1206.7C1952.5 1232.8 1958.3 1259.1 1966.5 1285.1C1974.7 1311.2 1987.4 1337.1 1998.2 1363.2C2009.1 1389.2 2024.4 1422.0 2031.8 1441.6C2039.3 1461.1 2040.6 1467.4 2043.0 1480.4C2045.5 1493.4 2045.4 1506.5 2046.8 1519.6C2048.1 1532.7 2050.5 1545.7 2051.3 1558.8C2052.0 1571.9 2054.2 1578.5 2051.3 1598.0C2048.3 1617.6 2040.1 1650.0 2033.7 1676.1C2027.4 1702.1 2020.0 1728.4 2013.2 1754.5C2006.3 1780.5 1999.7 1806.4 1992.7 1832.5C1985.6 1858.6 1974.6 1897.8 1971.0 1910.9" fill="none" stroke="#8c8c8c" stroke-opacity="0.55" stroke-width="0.9"/>
<path d="M1825.8 1162.3C1831.5 1166.0 1850.7 1177.3 1860.1 1184.7C1869.6 1192.1 1875.1 1196.2 1882.5 1206.7C1890.0 1217.3 1898.4 1235.1 1904.9 1248.2C1911.5 1261.2 1913.0 1266.0 1921.7 1285.1C1930.4 1304.3 1946.0 1337.1 1957.2 1363.2C1968.4 1389.2 1982.0 1422.0 1988.9 1441.6C1995.9 1461.1 1996.5 1467.4 1999.0 1480.4C2001.5 1493.4 2002.9 1506.5 2003.8 1519.6C2004.8 1532.7 2005.0 1545.7 2005.0 1558.8C2005.0 1571.9 2006.5 1578.5 2003.8 1598.0C2001.2 1617.6 1994.2 1650.0 1988.9 1676.1C1983.6 1702.1 1977.7 1728.4 1972.1 1754.5C1966.5 1780.5 1960.6 1806.4 1955.3 1832.5C1950.0 1858.6 1942.9 1897.8 1940.4 1910.9" fill="none" stroke="#111" stroke-width="1.3" stroke-dasharray="108.3 53.0 276.1 53.0 99999.0"/>
<path d="M1825.8 1266.8C1827.2 1269.9 1828.3 1275.2 1834.0 1285.1C1839.7 1295.1 1852.1 1313.6 1860.1 1326.6C1868.2 1339.6 1871.0 1344.0 1882.5 1363.2C1894.0 1382.3 1918.3 1422.0 1929.2 1441.6C1940.1 1461.1 1942.9 1467.4 1947.9 1480.4C1952.8 1493.4 1956.9 1506.5 1959.1 1519.6C1961.2 1532.7 1960.9 1545.7 1960.9 1558.8C1960.9 1571.9 1960.9 1578.5 1959.1 1598.0C1957.2 1617.6 1952.8 1650.0 1949.7 1676.1C1946.6 1702.1 1943.8 1728.4 1940.4 1754.5C1937.0 1780.5 1932.7 1806.4 1929.2 1832.5C1925.6 1858.6 1920.8 1897.8 1919.1 1910.9" fill="none" stroke="#c8c8c8" stroke-opacity="0.70" stroke-width="0.9"/>
<path d="M1825.8 1371.4C1829.7 1377.0 1841.4 1393.3 1848.9 1405.0C1856.5 1416.7 1863.9 1429.0 1871.3 1441.6C1878.8 1454.1 1887.5 1467.4 1893.7 1480.4C1900.0 1493.4 1905.7 1506.5 1908.7 1519.6C1911.7 1532.7 1911.2 1545.7 1911.7 1558.8C1912.1 1571.9 1912.1 1578.5 1911.7 1598.0C1911.2 1617.6 1909.8 1650.0 1908.7 1676.1C1907.5 1702.1 1906.5 1728.4 1904.9 1754.5C1903.4 1780.5 1900.8 1806.4 1899.3 1832.5C1897.9 1858.6 1896.8 1897.8 1896.3 1910.9" fill="none" stroke="#e8e8e8" stroke-opacity="0.80" stroke-width="0.9"/>
<path d="M1825.8 1485.3C1827.8 1487.4 1834.2 1492.6 1837.7 1498.3C1841.3 1504.1 1844.6 1509.5 1847.1 1519.6C1849.6 1529.7 1851.4 1545.7 1852.7 1558.8C1853.9 1571.9 1853.6 1578.5 1854.5 1598.0C1855.5 1617.6 1856.7 1650.0 1858.3 1676.1C1859.8 1702.1 1861.4 1728.4 1863.9 1754.5C1866.4 1780.5 1871.3 1806.4 1873.2 1832.5C1875.1 1858.6 1874.8 1897.8 1875.1 1910.9" fill="none" stroke="#111" stroke-width="1.3"/>
<path d="M1825.8 1782.1C1826.5 1790.5 1827.0 1816.9 1830.3 1832.5C1833.5 1848.1 1841.5 1862.4 1845.2 1875.4C1848.9 1888.5 1851.4 1905.0 1852.7 1910.9" fill="none" stroke="#8c8c8c" stroke-opacity="0.55" stroke-width="0.9"/>
<path d="M2287.5 1128.7C2288.8 1133.1 2292.9 1146.1 2295.0 1154.8C2297.0 1163.5 2299.0 1176.6 2299.8 1181.0" fill="none" stroke="#e8e8e8" stroke-opacity="0.80" stroke-width="0.9"/>
<path d="M2299.8 1474.1C2297.8 1478.7 2289.9 1494.5 2287.5 1502.1C2285.2 1509.7 2285.4 1512.8 2285.7 1519.6C2286.0 1526.5 2287.0 1534.2 2289.4 1543.1C2291.8 1552.0 2298.1 1568.0 2299.8 1573.0" fill="none" stroke="#e8e8e8" stroke-opacity="0.80" stroke-width="0.9"/>
<path d="M2299.8 1763.4C2298.4 1769.0 2294.3 1785.5 2291.3 1797.0C2288.3 1808.5 2285.4 1820.0 2281.9 1832.5C2278.5 1844.9 2273.2 1858.6 2270.7 1871.7C2268.2 1884.8 2267.6 1904.4 2267.0 1910.9" fill="none" stroke="#e8e8e8" stroke-opacity="0.80" stroke-width="0.9"/>
<path d="M2299.8 1856.8C2298.4 1861.1 2293.3 1873.9 2291.3 1882.9C2289.2 1891.9 2288.2 1906.2 2287.5 1910.9" fill="none" stroke="#e8e8e8" stroke-opacity="0.80" stroke-width="0.9"/>
<text transform="translate(1908.7 1263.1) rotate(58.0)" font-size="43" text-anchor="middle" y="14.2" fill="#111">29</text>
<text transform="translate(2055.0 1233.2) rotate(72.0)" font-size="43" text-anchor="middle" y="14.2" fill="#111">26</text>
<text transform="translate(2158.8 1231.4) rotate(70.0)" font-size="43" text-anchor="middle" y="14.2" fill="#111">23</text>
<text transform="translate(2005.7 1573.0) rotate(-85.0)" font-size="43" text-anchor="middle" y="14.2" fill="#111">29</text>
<text transform="translate(2173.7 1554.3) rotate(-55.0)" font-size="43" text-anchor="middle" y="14.2" fill="#111">26</text>
<text transform="translate(2228.6 1559.9) rotate(-75.0)" font-size="43" text-anchor="middle" y="14.2" fill="#111">23</text>
</g>
<rect x="1825.8" y="1128.7" width="473.9" height="782.2" fill="none" stroke="#7a7a7a" stroke-width="2"/>
<path d="M1865.3 1128.7v-10.0M1865.3 1910.9v10.0M1944.3 1128.7v-10.0M1944.3 1910.9v10.0M2023.3 1128.7v-10.0M2023.3 1910.9v10.0M2102.2 1128.7v-10.0M2102.2 1910.9v10.0M2181.2 1128.7v-10.0M2181.2 1910.9v10.0M2260.2 1128.7v-10.0M2260.2 1910.9v10.0M1825.8 1128.7h-10.0M2299.7 1128.7h10.0M1825.8 1206.9h-10.0M2299.7 1206.9h10.0M1825.8 1285.1h-10.0M2299.7 1285.1h10.0M1825.8 1363.4h-10.0M2299.7 1363.4h10.0M1825.8 1441.6h-10.0M2299.7 1441.6h10.0M1825.8 1519.8h-10.0M2299.7 1519.8h10.0M1825.8 1598.0h-10.0M2299.7 1598.0h10.0M1825.8 1676.2h-10.0M2299.7 1676.2h10.0M1825.8 1754.5h-10.0M2299.7 1754.5h10.0M1825.8 1832.7h-10.0M2299.7 1832.7h10.0M1825.8 1910.9h-10.0M2299.7 1910.9h10.0" stroke="#7a7a7a" stroke-width="2" fill="none"/>
<text fill="#1c1c1c" transform="translate(1865.3 1962.9) scale(1.060 1)" font-size="42" text-anchor="middle">4</text>
<text fill="#1c1c1c" transform="translate(1944.3 1962.9) scale(1.060 1)" font-size="42" text-anchor="middle">6</text>
<text fill="#1c1c1c" transform="translate(2023.3 1962.9) scale(1.060 1)" font-size="42" text-anchor="middle">8</text>
<text fill="#1c1c1c" transform="translate(2102.2 1962.9) scale(1.060 1)" font-size="42" text-anchor="middle">10</text>
<text fill="#1c1c1c" transform="translate(2181.2 1962.9) scale(1.060 1)" font-size="42" text-anchor="middle">12</text>
<text fill="#1c1c1c" transform="translate(2260.2 1962.9) scale(1.060 1)" font-size="42" text-anchor="middle">14</text>
<text fill="#1c1c1c" transform="translate(1813.8 1142.7) scale(1.060 1)" font-size="42" text-anchor="end">0</text>
<text fill="#1c1c1c" transform="translate(1813.8 1220.9) scale(1.060 1)" font-size="42" text-anchor="end">-2</text>
<text fill="#1c1c1c" transform="translate(1813.8 1299.1) scale(1.060 1)" font-size="42" text-anchor="end">-4</text>
<text fill="#1c1c1c" transform="translate(1813.8 1377.4) scale(1.060 1)" font-size="42" text-anchor="end">-6</text>
<text fill="#1c1c1c" transform="translate(1813.8 1455.6) scale(1.060 1)" font-size="42" text-anchor="end">-8</text>
<text fill="#1c1c1c" transform="translate(1813.8 1533.8) scale(1.060 1)" font-size="42" text-anchor="end">-10</text>
<text fill="#1c1c1c" transform="translate(1813.8 1612.0) scale(1.060 1)" font-size="42" text-anchor="end">-12</text>
<text fill="#1c1c1c" transform="translate(1813.8 1690.2) scale(1.060 1)" font-size="42" text-anchor="end">-14</text>
<text fill="#1c1c1c" transform="translate(1813.8 1768.5) scale(1.060 1)" font-size="42" text-anchor="end">-16</text>
<text fill="#1c1c1c" transform="translate(1813.8 1846.7) scale(1.060 1)" font-size="42" text-anchor="end">-18</text>
<text fill="#1c1c1c" transform="translate(1813.8 1924.9) scale(1.060 1)" font-size="42" text-anchor="end">-20</text>
<text fill="#1c1c1c" transform="translate(2062.8 2021.9) scale(1.060 1)" font-size="43" text-anchor="middle">Horizontal distance/cm</text>
<text fill="#1c1c1c" transform="translate(1733.8 1517.3) rotate(-90) scale(1.060 1)" font-size="43" text-anchor="middle">Vertical distance/cm</text>
<text transform="translate(2076.7 2093.0) scale(1.04 1)" font-size="59" text-anchor="middle" fill="#000">180 s</text>
<rect x="2373.6" y="1764.03" width="34.0" height="27.77" fill="#000000"/>
<rect x="2373.6" y="1736.55" width="34.0" height="27.77" fill="#00007A"/>
<rect x="2373.6" y="1709.08" width="34.0" height="27.77" fill="#0000FF"/>
<rect x="2373.6" y="1681.61" width="34.0" height="27.77" fill="#0055FF"/>
<rect x="2373.6" y="1654.13" width="34.0" height="27.77" fill="#00BFFF"/>
<rect x="2373.6" y="1626.66" width="34.0" height="27.77" fill="#00F5E6"/>
<rect x="2373.6" y="1599.18" width="34.0" height="27.77" fill="#00DDB0"/>
<rect x="2373.6" y="1571.71" width="34.0" height="27.77" fill="#00C870"/>
<rect x="2373.6" y="1544.24" width="34.0" height="27.77" fill="#00B020"/>
<rect x="2373.6" y="1516.76" width="34.0" height="27.77" fill="#00A800"/>
<rect x="2373.6" y="1489.29" width="34.0" height="27.77" fill="#90E000"/>
<rect x="2373.6" y="1461.82" width="34.0" height="27.77" fill="#FFE500"/>
<rect x="2373.6" y="1434.34" width="34.0" height="27.77" fill="#FFA500"/>
<rect x="2373.6" y="1406.87" width="34.0" height="27.77" fill="#FF5F00"/>
<rect x="2373.6" y="1379.39" width="34.0" height="27.77" fill="#FF1400"/>
<rect x="2373.6" y="1351.92" width="34.0" height="27.77" fill="#FF3232"/>
<rect x="2373.6" y="1324.45" width="34.0" height="27.77" fill="#FF8C8C"/>
<rect x="2373.6" y="1296.97" width="34.0" height="27.77" fill="#FFE5E5"/>
<rect x="2373.6" y="1269.50" width="34.0" height="27.77" fill="#FFFFFF"/>
<path d="M2373.6 1764.0h34.0M2373.6 1736.6h34.0M2373.6 1709.1h34.0M2373.6 1681.6h34.0M2373.6 1654.1h34.0M2373.6 1626.7h34.0M2373.6 1599.2h34.0M2373.6 1571.7h34.0M2373.6 1544.2h34.0M2373.6 1516.8h34.0M2373.6 1489.3h34.0M2373.6 1461.8h34.0M2373.6 1434.3h34.0M2373.6 1406.9h34.0M2373.6 1379.4h34.0M2373.6 1351.9h34.0M2373.6 1324.4h34.0M2373.6 1297.0h34.0" stroke="#333" stroke-opacity="0.6" stroke-width="1.2" fill="none"/>
<rect x="2373.6" y="1269.5" width="34.0" height="522.0" fill="none" stroke="#666" stroke-width="1.6"/>
<text fill="#1c1c1c" transform="translate(2420.6 1805.0) scale(1.060 1)" font-size="42">17</text>
<text fill="#1c1c1c" transform="translate(2420.6 1750.1) scale(1.060 1)" font-size="42">19</text>
<text fill="#1c1c1c" transform="translate(2420.6 1695.1) scale(1.060 1)" font-size="42">21</text>
<text fill="#1c1c1c" transform="translate(2420.6 1640.2) scale(1.060 1)" font-size="42">23</text>
<text fill="#1c1c1c" transform="translate(2420.6 1585.2) scale(1.060 1)" font-size="42">25</text>
<text fill="#1c1c1c" transform="translate(2420.6 1530.3) scale(1.060 1)" font-size="42">27</text>
<text fill="#1c1c1c" transform="translate(2420.6 1475.3) scale(1.060 1)" font-size="42">29</text>
<text fill="#1c1c1c" transform="translate(2420.6 1420.4) scale(1.060 1)" font-size="42">31</text>
<text fill="#1c1c1c" transform="translate(2420.6 1365.4) scale(1.060 1)" font-size="42">33</text>
<text fill="#1c1c1c" transform="translate(2420.6 1310.5) scale(1.060 1)" font-size="42">35</text>
<clipPath id="c7"><rect x="145.0" y="2139.3" width="473.9" height="782.2"/></clipPath>
<g clip-path="url(#c7)">
<rect x="144.0" y="2138.3" width="475.9" height="784.2" fill="#0055FF"/>
<path d="M588.1 2139.3C589.6 2152.3 594.3 2191.4 597.4 2217.5C600.5 2243.6 604.6 2269.7 606.7 2295.7C608.9 2321.8 611.1 2347.9 610.5 2374.0C609.8 2400.0 605.7 2432.6 603.0 2452.2C600.3 2471.7 596.0 2478.3 594.4 2491.3C592.8 2504.3 592.9 2517.4 593.3 2530.4C593.7 2543.4 595.0 2556.5 596.7 2569.5C598.3 2582.5 601.6 2589.1 603.0 2608.6C604.4 2628.2 604.9 2660.8 604.9 2686.8C604.9 2712.9 603.9 2739.0 603.0 2765.1C602.1 2791.1 602.4 2817.2 599.3 2843.3C596.2 2869.4 586.8 2908.5 584.3 2921.5L584.3 2926.5 L140.0 2926.5L140.0 2134.3 L588.1 2134.3Z" fill="#00BFFF"/>
<path d="M571.3 2139.3C572.5 2152.3 575.9 2191.4 578.7 2217.5C581.5 2243.6 585.6 2269.7 588.1 2295.7C590.6 2321.8 593.4 2347.9 593.7 2374.0C594.0 2400.0 591.5 2432.6 589.9 2452.2C588.4 2471.7 585.3 2478.3 584.3 2491.3C583.3 2504.3 583.7 2517.4 584.0 2530.4C584.3 2543.4 585.2 2556.5 586.2 2569.5C587.2 2582.5 589.6 2589.1 589.9 2608.6C590.2 2628.2 588.7 2660.8 588.1 2686.8C587.4 2712.9 586.8 2739.0 586.2 2765.1C585.6 2791.1 586.5 2817.2 584.3 2843.3C582.2 2869.4 575.0 2908.5 573.1 2921.5L573.1 2926.5 L140.0 2926.5L140.0 2134.3 L571.3 2134.3Z" fill="#00F5E6"/>
<path d="M554.5 2139.3C555.4 2152.3 557.9 2191.4 560.1 2217.5C562.3 2243.6 564.7 2269.7 567.5 2295.7C570.3 2321.8 575.3 2347.9 576.9 2374.0C578.4 2400.0 577.3 2432.6 576.9 2452.2C576.4 2471.7 574.6 2478.3 574.3 2491.3C573.9 2504.3 574.4 2517.4 574.6 2530.4C574.9 2543.4 575.4 2556.5 575.8 2569.5C576.1 2582.5 577.9 2589.1 576.9 2608.6C575.8 2628.2 571.0 2660.8 569.4 2686.8C567.8 2712.9 567.8 2739.0 567.5 2765.1C567.2 2791.1 568.2 2817.2 567.5 2843.3C566.9 2869.4 564.4 2908.5 563.8 2921.5L563.8 2926.5 L140.0 2926.5L140.0 2134.3 L554.5 2134.3Z" fill="#00DDB0"/>
<path d="M535.8 2139.3C536.4 2152.3 537.7 2191.4 539.5 2217.5C541.4 2243.6 544.2 2269.7 547.0 2295.7C549.8 2321.8 553.9 2347.9 556.3 2374.0C558.8 2400.0 560.8 2432.6 561.9 2452.2C563.1 2471.7 562.6 2478.3 563.1 2491.3C563.5 2504.3 564.1 2517.4 564.6 2530.4C565.0 2543.4 566.1 2556.5 565.7 2569.5C565.2 2582.5 564.4 2589.1 561.9 2608.6C559.5 2628.2 553.2 2660.8 550.7 2686.8C548.3 2712.9 547.3 2739.0 547.0 2765.1C546.7 2791.1 547.9 2817.2 548.9 2843.3C549.8 2869.4 552.0 2908.5 552.6 2921.5L552.6 2926.5 L140.0 2926.5L140.0 2134.3 L535.8 2134.3Z" fill="#00C870"/>
<path d="M517.1 2139.3C517.1 2152.3 516.2 2191.4 517.1 2217.5C518.1 2243.6 519.6 2269.7 522.7 2295.7C525.9 2321.8 532.1 2347.9 535.8 2374.0C539.5 2400.0 542.7 2432.6 545.1 2452.2C547.6 2471.7 549.1 2478.3 550.7 2491.3C552.4 2504.3 554.9 2517.4 555.2 2530.4C555.5 2543.4 554.3 2556.5 552.6 2569.5C550.9 2582.5 548.9 2589.1 545.1 2608.6C541.4 2628.2 533.6 2660.8 530.2 2686.8C526.8 2712.9 524.6 2739.0 524.6 2765.1C524.6 2791.1 527.1 2817.2 530.2 2843.3C533.3 2869.4 541.1 2908.5 543.3 2921.5L543.3 2926.5 L140.0 2926.5L140.0 2134.3 L517.1 2134.3Z" fill="#00B020"/>
<path d="M494.8 2139.3C494.1 2152.3 490.7 2191.4 491.0 2217.5C491.3 2243.6 493.2 2269.7 496.6 2295.7C500.0 2321.8 506.3 2347.9 511.5 2374.0C516.8 2400.0 524.0 2432.6 528.3 2452.2C532.7 2471.7 534.7 2478.3 537.7 2491.3C540.7 2504.3 545.6 2517.4 546.3 2530.4C546.9 2543.4 544.1 2556.5 541.4 2569.5C538.7 2582.5 535.5 2589.1 530.2 2608.6C524.9 2628.2 514.7 2660.8 509.7 2686.8C504.7 2712.9 500.7 2739.0 500.4 2765.1C500.0 2791.1 502.5 2817.2 507.8 2843.3C513.1 2869.4 528.0 2908.5 532.1 2921.5L532.1 2926.5 L140.0 2926.5L140.0 2134.3 L494.8 2134.3Z" fill="#00A800"/>
<path d="M466.0 2139.3C465.5 2152.3 462.6 2191.4 463.0 2217.5C463.5 2243.6 464.9 2269.7 468.6 2295.7C472.4 2321.8 478.6 2347.9 485.4 2374.0C492.3 2400.0 502.8 2432.6 509.7 2452.2C516.5 2471.7 522.0 2478.3 526.5 2491.3C531.0 2504.3 535.9 2517.4 536.6 2530.4C537.2 2543.4 533.8 2556.5 530.2 2569.5C526.7 2582.5 522.7 2589.1 515.3 2608.6C507.8 2628.2 492.6 2660.8 485.4 2686.8C478.3 2712.9 473.0 2739.0 472.4 2765.1C471.7 2791.1 473.6 2817.2 481.7 2843.3C489.8 2869.4 514.3 2908.5 520.9 2921.5L520.9 2926.5 L140.0 2926.5L140.0 2134.3 L466.0 2134.3Z" fill="#90E000"/>
<path d="M436.9 2139.3C436.6 2152.3 435.0 2191.3 435.0 2217.3C435.0 2243.4 433.8 2269.7 436.9 2295.7C440.0 2321.8 445.0 2347.7 453.7 2373.8C462.4 2399.8 478.9 2432.6 489.2 2452.2C499.4 2471.8 508.9 2478.4 515.3 2491.4C521.7 2504.4 527.3 2517.2 527.6 2530.2C527.9 2543.2 522.3 2556.3 517.1 2569.4C512.0 2582.5 506.6 2589.1 496.6 2608.6C486.7 2628.2 466.8 2665.6 457.4 2686.7C448.1 2707.7 444.0 2721.7 440.6 2734.8C437.2 2747.9 437.2 2752.6 436.9 2765.1C436.6 2777.5 437.5 2796.5 438.8 2809.5C440.0 2822.5 440.9 2833.1 444.4 2843.1C447.8 2853.0 452.4 2861.8 459.3 2869.2C466.1 2876.7 478.0 2882.3 485.4 2887.9C492.9 2893.5 500.0 2897.2 504.1 2902.8C508.1 2908.4 508.7 2918.4 509.7 2921.5L509.7 2926.5 L140.0 2926.5L140.0 2134.3 L436.9 2134.3Z" fill="#FFE500"/>
<path d="M405.2 2139.3C404.9 2145.8 404.5 2165.5 403.3 2178.5C402.1 2191.5 398.8 2203.6 397.7 2217.3C396.6 2231.0 396.6 2247.6 396.6 2260.6C396.6 2273.7 396.6 2283.3 397.7 2295.7C398.8 2308.2 400.5 2322.3 403.3 2335.3C406.1 2348.3 409.5 2360.7 414.5 2373.8C419.5 2386.8 425.1 2400.7 433.2 2413.7C441.2 2426.8 453.1 2441.0 463.0 2452.2C473.0 2463.4 484.8 2471.8 492.9 2480.9C501.0 2490.1 507.3 2498.9 511.5 2507.1C515.8 2515.3 517.6 2522.7 518.3 2530.2C518.9 2537.7 517.6 2545.3 515.3 2551.9C512.9 2558.4 511.5 2560.0 504.1 2569.4C496.6 2578.9 481.1 2596.6 470.5 2608.6C459.9 2620.6 449.0 2628.5 440.6 2641.5C432.2 2654.5 426.3 2671.1 420.1 2686.7C413.9 2702.2 408.0 2721.7 403.3 2734.8C398.6 2747.9 395.8 2754.5 392.1 2765.1C388.4 2775.6 386.5 2785.3 380.9 2798.3C375.3 2811.3 366.0 2829.4 358.5 2843.1C351.0 2856.8 342.0 2867.4 336.1 2880.4C330.2 2893.5 325.2 2914.7 323.0 2921.5L323.0 2926.5 L140.0 2926.5L140.0 2134.3 L405.2 2134.3Z" fill="#FFA500"/>
<path d="M341.7 2139.3C343.0 2143.3 347.9 2150.6 349.2 2163.6C350.4 2176.6 349.6 2199.9 349.2 2217.3C348.7 2234.8 346.9 2255.0 346.6 2268.1C346.3 2281.2 345.9 2284.5 347.3 2295.7C348.7 2306.9 351.7 2322.3 354.8 2335.3C357.9 2348.3 361.6 2360.7 366.0 2373.8C370.3 2386.8 374.7 2400.7 380.9 2413.7C387.1 2426.8 394.6 2442.2 403.3 2452.2C412.0 2462.1 423.2 2466.9 433.2 2473.5C443.1 2480.0 453.1 2485.8 463.0 2491.4C473.0 2497.0 485.5 2502.0 492.9 2507.1C500.2 2512.2 504.3 2518.1 507.1 2522.0C509.8 2525.9 509.8 2526.5 509.3 2530.2C508.8 2533.9 509.3 2537.9 504.1 2544.4C498.9 2550.9 488.5 2561.9 478.0 2569.4C467.4 2576.9 451.2 2582.7 440.6 2589.2C430.1 2595.7 423.2 2598.7 414.5 2608.6C405.8 2618.6 395.5 2635.9 388.4 2648.9C381.2 2661.9 376.6 2674.2 371.6 2686.7C366.6 2699.1 363.2 2710.5 358.5 2723.6C353.8 2736.7 347.9 2752.0 343.6 2765.1C339.2 2778.1 337.4 2789.0 332.4 2802.0C327.4 2815.0 320.6 2829.4 313.7 2843.1C306.9 2856.8 296.6 2871.1 291.3 2884.2C286.0 2897.2 283.5 2915.3 282.0 2921.5L282.0 2926.5 L140.0 2926.5L140.0 2134.3 L341.7 2134.3Z" fill="#FF5F00"/>
<path d="M145.0 2204.6C150.7 2206.2 168.0 2210.2 179.3 2214.0C190.7 2217.7 203.0 2220.5 212.9 2227.0C222.9 2233.6 230.4 2242.0 239.1 2253.2C247.8 2264.4 258.3 2281.8 265.2 2294.2C272.0 2306.7 275.1 2314.6 280.1 2327.8C285.1 2341.1 291.0 2358.8 295.1 2373.8C299.1 2388.7 302.5 2404.4 304.4 2417.5C306.3 2430.5 306.3 2439.9 306.3 2452.2C306.3 2464.5 305.0 2478.4 304.4 2491.4C303.8 2504.4 301.9 2517.2 302.5 2530.2C303.1 2543.2 305.6 2556.3 308.1 2569.4C310.6 2582.5 315.8 2596.6 317.4 2608.6C319.1 2620.6 319.1 2628.5 318.2 2641.5C317.3 2654.5 314.5 2673.0 311.9 2686.7C309.2 2700.3 305.9 2710.5 302.5 2723.6C299.1 2736.7 295.1 2751.4 291.3 2765.1C287.6 2778.8 283.9 2792.8 280.1 2805.8C276.4 2818.8 273.0 2830.0 268.9 2843.1C264.9 2856.2 259.3 2871.1 255.9 2884.2C252.4 2897.2 249.6 2915.3 248.4 2921.5L248.4 2926.5 L140.0 2926.5L140.0 2204.6Z" fill="#FF1400"/>
<path d="M145.0 2312.9C149.5 2316.6 162.1 2325.2 171.9 2335.3C181.6 2345.5 195.5 2360.7 203.6 2373.8C211.7 2386.8 216.0 2400.7 220.4 2413.7C224.8 2426.8 227.6 2439.2 229.7 2452.2C231.9 2465.1 232.2 2478.4 233.5 2491.4C234.7 2504.4 235.6 2517.2 237.2 2530.2C238.8 2543.2 240.9 2556.3 242.8 2569.4C244.7 2582.5 247.2 2595.4 248.4 2608.6C249.6 2621.9 250.3 2635.9 250.3 2648.9C250.3 2661.9 249.3 2674.2 248.4 2686.7C247.5 2699.1 246.2 2710.5 244.7 2723.6C243.1 2736.7 240.9 2751.4 239.1 2765.1C237.2 2778.8 235.3 2792.8 233.5 2805.8C231.6 2818.8 230.0 2830.0 227.9 2843.1C225.7 2856.2 222.3 2871.1 220.4 2884.2C218.5 2897.2 217.3 2915.3 216.7 2921.5L216.7 2926.5 L140.0 2926.5L140.0 2312.9Z" fill="#FF3232"/>
<path d="M145.0 2452.2C147.6 2455.7 156.5 2466.9 160.7 2473.5C164.8 2480.0 166.9 2483.9 170.0 2491.4C173.1 2498.9 177.5 2511.8 179.3 2518.3C181.2 2524.7 180.5 2521.7 181.2 2530.2C182.0 2538.7 183.2 2556.3 183.8 2569.4C184.4 2582.5 184.8 2589.1 184.9 2608.6C185.1 2628.2 184.9 2660.6 184.9 2686.7C184.9 2712.7 184.6 2739.0 184.9 2765.1C185.3 2791.1 186.8 2817.0 186.8 2843.1C186.8 2869.2 185.3 2908.4 184.9 2921.5L184.9 2926.5 L140.0 2926.5L140.0 2452.2Z" fill="#FF8C8C"/>
<path d="M145.0 2899.1C145.7 2901.0 148.4 2906.6 149.5 2910.3C150.5 2914.0 151.0 2919.6 151.3 2921.5L151.3 2926.5 L140.0 2926.5L140.0 2899.1Z" fill="#FFE5E5"/>
<path d="M360.4 2925.2C351.4 2922.1 362.6 2911.2 366.0 2906.6C369.4 2901.9 375.9 2899.1 380.9 2897.2C385.9 2895.4 390.9 2894.4 395.8 2895.4C400.8 2896.3 406.7 2897.9 410.8 2902.8C414.8 2907.8 428.5 2921.5 420.1 2925.2C411.7 2929.0 369.4 2928.3 360.4 2925.2Z" fill="#90E000"/>
<path d="M483.4 2526.5L499.6 2526.5L499.6 2536.7L483.4 2536.7Z" fill="#FF1400"/>
<path d="M606.7 2139.3C608.0 2152.3 612.1 2195.9 614.2 2217.3C616.2 2238.8 618.2 2259.6 619.0 2268.1L623.9 2268.1L623.9 2134.3 L606.7 2134.3Z" fill="#0000FF"/>
<path d="M618.9 2478.8C617.6 2482.8 613.8 2494.4 611.0 2503.0C608.2 2511.6 602.1 2520.6 601.9 2530.4C601.8 2540.2 607.4 2553.0 610.2 2561.7C613.0 2570.4 617.5 2579.3 618.9 2582.8L623.9 2582.8L623.9 2478.8Z" fill="#0000FF"/>
<path d="M618.9 2513.2C617.6 2516.1 611.0 2524.5 611.0 2530.4C611.0 2536.3 617.6 2545.7 618.9 2548.8L623.9 2548.8L623.9 2513.2Z" fill="#00007A"/>
<path d="M619.0 2734.8C618.9 2739.9 619.0 2747.0 617.9 2765.1C616.8 2783.1 614.5 2823.2 612.3 2843.1C610.2 2862.9 607.7 2871.1 604.9 2884.2C602.1 2897.2 597.1 2915.3 595.5 2921.5L595.5 2926.5 L623.9 2926.5L623.9 2734.8Z" fill="#0000FF"/>
<path d="M619.0 2828.2C618.2 2834.4 615.9 2854.3 614.2 2865.5C612.5 2876.7 610.2 2886.0 608.6 2895.4C607.0 2904.7 605.5 2917.1 604.9 2921.5L604.9 2926.5 L623.9 2926.5L623.9 2828.2Z" fill="#00007A"/>
<path d="M588.1 2139.3C589.6 2152.3 594.3 2191.4 597.4 2217.5C600.5 2243.6 604.6 2269.7 606.7 2295.7C608.9 2321.8 611.1 2347.9 610.5 2374.0C609.8 2400.0 605.7 2432.6 603.0 2452.2C600.3 2471.7 596.0 2478.3 594.4 2491.3C592.8 2504.3 592.9 2517.4 593.3 2530.4C593.7 2543.4 595.0 2556.5 596.7 2569.5C598.3 2582.5 601.6 2589.1 603.0 2608.6C604.4 2628.2 604.9 2660.8 604.9 2686.8C604.9 2712.9 603.9 2739.0 603.0 2765.1C602.1 2791.1 602.4 2817.2 599.3 2843.3C596.2 2869.4 586.8 2908.5 584.3 2921.5" fill="none" stroke="#111" stroke-width="1.3"/>
<path d="M571.3 2139.3C572.5 2152.3 575.9 2191.4 578.7 2217.5C581.5 2243.6 585.6 2269.7 588.1 2295.7C590.6 2321.8 593.4 2347.9 593.7 2374.0C594.0 2400.0 591.5 2432.6 589.9 2452.2C588.4 2471.7 585.3 2478.3 584.3 2491.3C583.3 2504.3 583.7 2517.4 584.0 2530.4C584.3 2543.4 585.2 2556.5 586.2 2569.5C587.2 2582.5 589.6 2589.1 589.9 2608.6C590.2 2628.2 588.7 2660.8 588.1 2686.8C587.4 2712.9 586.8 2739.0 586.2 2765.1C585.6 2791.1 586.5 2817.2 584.3 2843.3C582.2 2869.4 575.0 2908.5 573.1 2921.5" fill="none" stroke="#8c8c8c" stroke-opacity="0.55" stroke-width="0.9"/>
<path d="M554.5 2139.3C555.4 2152.3 557.9 2191.4 560.1 2217.5C562.3 2243.6 564.7 2269.7 567.5 2295.7C570.3 2321.8 575.3 2347.9 576.9 2374.0C578.4 2400.0 577.3 2432.6 576.9 2452.2C576.4 2471.7 574.6 2478.3 574.3 2491.3C573.9 2504.3 574.4 2517.4 574.6 2530.4C574.9 2543.4 575.4 2556.5 575.8 2569.5C576.1 2582.5 577.9 2589.1 576.9 2608.6C575.8 2628.2 571.0 2660.8 569.4 2686.8C567.8 2712.9 567.8 2739.0 567.5 2765.1C567.2 2791.1 568.2 2817.2 567.5 2843.3C566.9 2869.4 564.4 2908.5 563.8 2921.5" fill="none" stroke="#111" stroke-width="1.3"/>
<path d="M535.8 2139.3C536.4 2152.3 537.7 2191.4 539.5 2217.5C541.4 2243.6 544.2 2269.7 547.0 2295.7C549.8 2321.8 553.9 2347.9 556.3 2374.0C558.8 2400.0 560.8 2432.6 561.9 2452.2C563.1 2471.7 562.6 2478.3 563.1 2491.3C563.5 2504.3 564.1 2517.4 564.6 2530.4C565.0 2543.4 566.1 2556.5 565.7 2569.5C565.2 2582.5 564.4 2589.1 561.9 2608.6C559.5 2628.2 553.2 2660.8 550.7 2686.8C548.3 2712.9 547.3 2739.0 547.0 2765.1C546.7 2791.1 547.9 2817.2 548.9 2843.3C549.8 2869.4 552.0 2908.5 552.6 2921.5" fill="none" stroke="#c8c8c8" stroke-opacity="0.70" stroke-width="0.9"/>
<path d="M517.1 2139.3C517.1 2152.3 516.2 2191.4 517.1 2217.5C518.1 2243.6 519.6 2269.7 522.7 2295.7C525.9 2321.8 532.1 2347.9 535.8 2374.0C539.5 2400.0 542.7 2432.6 545.1 2452.2C547.6 2471.7 549.1 2478.3 550.7 2491.3C552.4 2504.3 554.9 2517.4 555.2 2530.4C555.5 2543.4 554.3 2556.5 552.6 2569.5C550.9 2582.5 548.9 2589.1 545.1 2608.6C541.4 2628.2 533.6 2660.8 530.2 2686.8C526.8 2712.9 524.6 2739.0 524.6 2765.1C524.6 2791.1 527.1 2817.2 530.2 2843.3C533.3 2869.4 541.1 2908.5 543.3 2921.5" fill="none" stroke="#111" stroke-width="1.3" stroke-dasharray="77.8 53.0 326.4 53.0 99999.0"/>
<path d="M494.8 2139.3C494.1 2152.3 490.7 2191.4 491.0 2217.5C491.3 2243.6 493.2 2269.7 496.6 2295.7C500.0 2321.8 506.3 2347.9 511.5 2374.0C516.8 2400.0 524.0 2432.6 528.3 2452.2C532.7 2471.7 534.7 2478.3 537.7 2491.3C540.7 2504.3 545.6 2517.4 546.3 2530.4C546.9 2543.4 544.1 2556.5 541.4 2569.5C538.7 2582.5 535.5 2589.1 530.2 2608.6C524.9 2628.2 514.7 2660.8 509.7 2686.8C504.7 2712.9 500.7 2739.0 500.4 2765.1C500.0 2791.1 502.5 2817.2 507.8 2843.3C513.1 2869.4 528.0 2908.5 532.1 2921.5" fill="none" stroke="#e8e8e8" stroke-opacity="0.80" stroke-width="0.9"/>
<path d="M466.0 2139.3C465.5 2152.3 462.6 2191.4 463.0 2217.5C463.5 2243.6 464.9 2269.7 468.6 2295.7C472.4 2321.8 478.6 2347.9 485.4 2374.0C492.3 2400.0 502.8 2432.6 509.7 2452.2C516.5 2471.7 522.0 2478.3 526.5 2491.3C531.0 2504.3 535.9 2517.4 536.6 2530.4C537.2 2543.4 533.8 2556.5 530.2 2569.5C526.7 2582.5 522.7 2589.1 515.3 2608.6C507.8 2628.2 492.6 2660.8 485.4 2686.8C478.3 2712.9 473.0 2739.0 472.4 2765.1C471.7 2791.1 473.6 2817.2 481.7 2843.3C489.8 2869.4 514.3 2908.5 520.9 2921.5" fill="none" stroke="#111" stroke-width="1.3" stroke-dasharray="77.9 53.0 284.3 53.0 99999.0"/>
<path d="M436.9 2139.3C436.6 2152.3 435.0 2191.3 435.0 2217.3C435.0 2243.4 433.8 2269.7 436.9 2295.7C440.0 2321.8 445.0 2347.7 453.7 2373.8C462.4 2399.8 478.9 2432.6 489.2 2452.2C499.4 2471.8 508.9 2478.4 515.3 2491.4C521.7 2504.4 527.3 2517.2 527.6 2530.2C527.9 2543.2 522.3 2556.3 517.1 2569.4C512.0 2582.5 506.6 2589.1 496.6 2608.6C486.7 2628.2 466.8 2665.6 457.4 2686.7C448.1 2707.7 444.0 2721.7 440.6 2734.8C437.2 2747.9 437.2 2752.6 436.9 2765.1C436.6 2777.5 437.5 2796.5 438.8 2809.5C440.0 2822.5 440.9 2833.1 444.4 2843.1C447.8 2853.0 452.4 2861.8 459.3 2869.2C466.1 2876.7 478.0 2882.3 485.4 2887.9C492.9 2893.5 500.0 2897.2 504.1 2902.8C508.1 2908.4 508.7 2918.4 509.7 2921.5" fill="none" stroke="#8c8c8c" stroke-opacity="0.55" stroke-width="0.9"/>
<path d="M405.2 2139.3C404.9 2145.8 404.5 2165.5 403.3 2178.5C402.1 2191.5 398.8 2203.6 397.7 2217.3C396.6 2231.0 396.6 2247.6 396.6 2260.6C396.6 2273.7 396.6 2283.3 397.7 2295.7C398.8 2308.2 400.5 2322.3 403.3 2335.3C406.1 2348.3 409.5 2360.7 414.5 2373.8C419.5 2386.8 425.1 2400.7 433.2 2413.7C441.2 2426.8 453.1 2441.0 463.0 2452.2C473.0 2463.4 484.8 2471.8 492.9 2480.9C501.0 2490.1 507.3 2498.9 511.5 2507.1C515.8 2515.3 517.6 2522.7 518.3 2530.2C518.9 2537.7 517.6 2545.3 515.3 2551.9C512.9 2558.4 511.5 2560.0 504.1 2569.4C496.6 2578.9 481.1 2596.6 470.5 2608.6C459.9 2620.6 449.0 2628.5 440.6 2641.5C432.2 2654.5 426.3 2671.1 420.1 2686.7C413.9 2702.2 408.0 2721.7 403.3 2734.8C398.6 2747.9 395.8 2754.5 392.1 2765.1C388.4 2775.6 386.5 2785.3 380.9 2798.3C375.3 2811.3 366.0 2829.4 358.5 2843.1C351.0 2856.8 342.0 2867.4 336.1 2880.4C330.2 2893.5 325.2 2914.7 323.0 2921.5" fill="none" stroke="#111" stroke-width="1.3" stroke-dasharray="81.3 53.0 316.9 53.0 99999.0"/>
<path d="M341.7 2139.3C343.0 2143.3 347.9 2150.6 349.2 2163.6C350.4 2176.6 349.6 2199.9 349.2 2217.3C348.7 2234.8 346.9 2255.0 346.6 2268.1C346.3 2281.2 345.9 2284.5 347.3 2295.7C348.7 2306.9 351.7 2322.3 354.8 2335.3C357.9 2348.3 361.6 2360.7 366.0 2373.8C370.3 2386.8 374.7 2400.7 380.9 2413.7C387.1 2426.8 394.6 2442.2 403.3 2452.2C412.0 2462.1 423.2 2466.9 433.2 2473.5C443.1 2480.0 453.1 2485.8 463.0 2491.4C473.0 2497.0 485.5 2502.0 492.9 2507.1C500.2 2512.2 504.3 2518.1 507.1 2522.0C509.8 2525.9 509.8 2526.5 509.3 2530.2C508.8 2533.9 509.3 2537.9 504.1 2544.4C498.9 2550.9 488.5 2561.9 478.0 2569.4C467.4 2576.9 451.2 2582.7 440.6 2589.2C430.1 2595.7 423.2 2598.7 414.5 2608.6C405.8 2618.6 395.5 2635.9 388.4 2648.9C381.2 2661.9 376.6 2674.2 371.6 2686.7C366.6 2699.1 363.2 2710.5 358.5 2723.6C353.8 2736.7 347.9 2752.0 343.6 2765.1C339.2 2778.1 337.4 2789.0 332.4 2802.0C327.4 2815.0 320.6 2829.4 313.7 2843.1C306.9 2856.8 296.6 2871.1 291.3 2884.2C286.0 2897.2 283.5 2915.3 282.0 2921.5" fill="none" stroke="#c8c8c8" stroke-opacity="0.70" stroke-width="0.9"/>
<path d="M145.0 2204.6C150.7 2206.2 168.0 2210.2 179.3 2214.0C190.7 2217.7 203.0 2220.5 212.9 2227.0C222.9 2233.6 230.4 2242.0 239.1 2253.2C247.8 2264.4 258.3 2281.8 265.2 2294.2C272.0 2306.7 275.1 2314.6 280.1 2327.8C285.1 2341.1 291.0 2358.8 295.1 2373.8C299.1 2388.7 302.5 2404.4 304.4 2417.5C306.3 2430.5 306.3 2439.9 306.3 2452.2C306.3 2464.5 305.0 2478.4 304.4 2491.4C303.8 2504.4 301.9 2517.2 302.5 2530.2C303.1 2543.2 305.6 2556.3 308.1 2569.4C310.6 2582.5 315.8 2596.6 317.4 2608.6C319.1 2620.6 319.1 2628.5 318.2 2641.5C317.3 2654.5 314.5 2673.0 311.9 2686.7C309.2 2700.3 305.9 2710.5 302.5 2723.6C299.1 2736.7 295.1 2751.4 291.3 2765.1C287.6 2778.8 283.9 2792.8 280.1 2805.8C276.4 2818.8 273.0 2830.0 268.9 2843.1C264.9 2856.2 259.3 2871.1 255.9 2884.2C252.4 2897.2 249.6 2915.3 248.4 2921.5" fill="none" stroke="#111" stroke-width="1.3" stroke-dasharray="89.9 53.0 280.8 53.0 99999.0"/>
<path d="M145.0 2312.9C149.5 2316.6 162.1 2325.2 171.9 2335.3C181.6 2345.5 195.5 2360.7 203.6 2373.8C211.7 2386.8 216.0 2400.7 220.4 2413.7C224.8 2426.8 227.6 2439.2 229.7 2452.2C231.9 2465.1 232.2 2478.4 233.5 2491.4C234.7 2504.4 235.6 2517.2 237.2 2530.2C238.8 2543.2 240.9 2556.3 242.8 2569.4C244.7 2582.5 247.2 2595.4 248.4 2608.6C249.6 2621.9 250.3 2635.9 250.3 2648.9C250.3 2661.9 249.3 2674.2 248.4 2686.7C247.5 2699.1 246.2 2710.5 244.7 2723.6C243.1 2736.7 240.9 2751.4 239.1 2765.1C237.2 2778.8 235.3 2792.8 233.5 2805.8C231.6 2818.8 230.0 2830.0 227.9 2843.1C225.7 2856.2 222.3 2871.1 220.4 2884.2C218.5 2897.2 217.3 2915.3 216.7 2921.5" fill="none" stroke="#c8c8c8" stroke-opacity="0.70" stroke-width="0.9"/>
<path d="M145.0 2452.2C147.6 2455.7 156.5 2466.9 160.7 2473.5C164.8 2480.0 166.9 2483.9 170.0 2491.4C173.1 2498.9 177.5 2511.8 179.3 2518.3C181.2 2524.7 180.5 2521.7 181.2 2530.2C182.0 2538.7 183.2 2556.3 183.8 2569.4C184.4 2582.5 184.8 2589.1 184.9 2608.6C185.1 2628.2 184.9 2660.6 184.9 2686.7C184.9 2712.7 184.6 2739.0 184.9 2765.1C185.3 2791.1 186.8 2817.0 186.8 2843.1C186.8 2869.2 185.3 2908.4 184.9 2921.5" fill="none" stroke="#111" stroke-width="1.3"/>
<path d="M145.0 2899.1C145.7 2901.0 148.4 2906.6 149.5 2910.3C150.5 2914.0 151.0 2919.6 151.3 2921.5" fill="none" stroke="#8c8c8c" stroke-opacity="0.55" stroke-width="0.9"/>
<path d="M360.4 2925.2C351.4 2922.1 362.6 2911.2 366.0 2906.6C369.4 2901.9 375.9 2899.1 380.9 2897.2C385.9 2895.4 390.9 2894.4 395.8 2895.4C400.8 2896.3 406.7 2897.9 410.8 2902.8C414.8 2907.8 428.5 2921.5 420.1 2925.2C411.7 2929.0 369.4 2928.3 360.4 2925.2Z" fill="none" stroke="#8c8c8c" stroke-opacity="0.55" stroke-width="0.9"/>
<path d="M483.4 2526.5L499.6 2526.5L499.6 2536.7L483.4 2536.7Z" fill="none" stroke="#111" stroke-width="1.3"/>
<path d="M606.7 2139.3C608.0 2152.3 612.1 2195.9 614.2 2217.3C616.2 2238.8 618.2 2259.6 619.0 2268.1" fill="none" stroke="#e8e8e8" stroke-opacity="0.80" stroke-width="0.9"/>
<path d="M618.9 2478.8C617.6 2482.8 613.8 2494.4 611.0 2503.0C608.2 2511.6 602.1 2520.6 601.9 2530.4C601.8 2540.2 607.4 2553.0 610.2 2561.7C613.0 2570.4 617.5 2579.3 618.9 2582.8" fill="none" stroke="#e8e8e8" stroke-opacity="0.80" stroke-width="0.9"/>
<path d="M618.9 2513.2C617.6 2516.1 611.0 2524.5 611.0 2530.4C611.0 2536.3 617.6 2545.7 618.9 2548.8" fill="none" stroke="#111" stroke-width="1.3"/>
<path d="M619.0 2734.8C618.9 2739.9 619.0 2747.0 617.9 2765.1C616.8 2783.1 614.5 2823.2 612.3 2843.1C610.2 2862.9 607.7 2871.1 604.9 2884.2C602.1 2897.2 597.1 2915.3 595.5 2921.5" fill="none" stroke="#e8e8e8" stroke-opacity="0.80" stroke-width="0.9"/>
<path d="M619.0 2828.2C618.2 2834.4 615.9 2854.3 614.2 2865.5C612.5 2876.7 610.2 2886.0 608.6 2895.4C607.0 2904.7 605.5 2917.1 604.9 2921.5" fill="none" stroke="#111" stroke-width="1.3"/>
<text transform="translate(240.9 2258.8) rotate(48.0)" font-size="43" text-anchor="middle" y="14.2" fill="#111">31</text>
<text transform="translate(399.6 2245.7) rotate(-85.0)" font-size="43" text-anchor="middle" y="14.2" fill="#111">29</text>
<text transform="translate(464.9 2245.7) rotate(82.0)" font-size="43" text-anchor="middle" y="14.2" fill="#111">27</text>
<text transform="translate(517.1 2243.8) rotate(82.0)" font-size="43" text-anchor="middle" y="14.2" fill="#111">25</text>
<text transform="translate(310.0 2579.9) rotate(76.0)" font-size="43" text-anchor="middle" y="14.2" fill="#111">31</text>
<text transform="translate(496.1 2572.6) rotate(-55.0)" font-size="43" text-anchor="middle" y="14.2" fill="#111">29</text>
<text transform="translate(530.0 2569.5) rotate(-55.0)" font-size="43" text-anchor="middle" y="14.2" fill="#111">27</text>
<text transform="translate(546.2 2618.4) rotate(-80.0)" font-size="43" text-anchor="middle" y="14.2" fill="#111">25</text>
</g>
<rect x="145.0" y="2139.3" width="473.9" height="782.2" fill="none" stroke="#7a7a7a" stroke-width="2"/>
<path d="M184.5 2139.3v-10.0M184.5 2921.5v10.0M263.5 2139.3v-10.0M263.5 2921.5v10.0M342.5 2139.3v-10.0M342.5 2921.5v10.0M421.4 2139.3v-10.0M421.4 2921.5v10.0M500.4 2139.3v-10.0M500.4 2921.5v10.0M579.4 2139.3v-10.0M579.4 2921.5v10.0M145.0 2139.3h-10.0M618.9 2139.3h10.0M145.0 2217.5h-10.0M618.9 2217.5h10.0M145.0 2295.7h-10.0M618.9 2295.7h10.0M145.0 2374.0h-10.0M618.9 2374.0h10.0M145.0 2452.2h-10.0M618.9 2452.2h10.0M145.0 2530.4h-10.0M618.9 2530.4h10.0M145.0 2608.6h-10.0M618.9 2608.6h10.0M145.0 2686.8h-10.0M618.9 2686.8h10.0M145.0 2765.1h-10.0M618.9 2765.1h10.0M145.0 2843.3h-10.0M618.9 2843.3h10.0M145.0 2921.5h-10.0M618.9 2921.5h10.0" stroke="#7a7a7a" stroke-width="2" fill="none"/>
<text fill="#1c1c1c" transform="translate(184.5 2973.5) scale(1.060 1)" font-size="42" text-anchor="middle">4</text>
<text fill="#1c1c1c" transform="translate(263.5 2973.5) scale(1.060 1)" font-size="42" text-anchor="middle">6</text>
<text fill="#1c1c1c" transform="translate(342.5 2973.5) scale(1.060 1)" font-size="42" text-anchor="middle">8</text>
<text fill="#1c1c1c" transform="translate(421.4 2973.5) scale(1.060 1)" font-size="42" text-anchor="middle">10</text>
<text fill="#1c1c1c" transform="translate(500.4 2973.5) scale(1.060 1)" font-size="42" text-anchor="middle">12</text>
<text fill="#1c1c1c" transform="translate(579.4 2973.5) scale(1.060 1)" font-size="42" text-anchor="middle">14</text>
<text fill="#1c1c1c" transform="translate(133.0 2153.3) scale(1.060 1)" font-size="42" text-anchor="end">0</text>
<text fill="#1c1c1c" transform="translate(133.0 2231.5) scale(1.060 1)" font-size="42" text-anchor="end">-2</text>
<text fill="#1c1c1c" transform="translate(133.0 2309.7) scale(1.060 1)" font-size="42" text-anchor="end">-4</text>
<text fill="#1c1c1c" transform="translate(133.0 2388.0) scale(1.060 1)" font-size="42" text-anchor="end">-6</text>
<text fill="#1c1c1c" transform="translate(133.0 2466.2) scale(1.060 1)" font-size="42" text-anchor="end">-8</text>
<text fill="#1c1c1c" transform="translate(133.0 2544.4) scale(1.060 1)" font-size="42" text-anchor="end">-10</text>
<text fill="#1c1c1c" transform="translate(133.0 2622.6) scale(1.060 1)" font-size="42" text-anchor="end">-12</text>
<text fill="#1c1c1c" transform="translate(133.0 2700.8) scale(1.060 1)" font-size="42" text-anchor="end">-14</text>
<text fill="#1c1c1c" transform="translate(133.0 2779.1) scale(1.060 1)" font-size="42" text-anchor="end">-16</text>
<text fill="#1c1c1c" transform="translate(133.0 2857.3) scale(1.060 1)" font-size="42" text-anchor="end">-18</text>
<text fill="#1c1c1c" transform="translate(133.0 2935.5) scale(1.060 1)" font-size="42" text-anchor="end">-20</text>
<text fill="#1c1c1c" transform="translate(381.9 3032.5) scale(1.060 1)" font-size="43" text-anchor="middle">Horizontal distance/cm</text>
<text fill="#1c1c1c" transform="translate(53.0 2527.9) rotate(-90) scale(1.060 1)" font-size="43" text-anchor="middle">Vertical distance/cm</text>
<text transform="translate(396.0 3104.8) scale(1.04 1)" font-size="59" text-anchor="middle" fill="#000">240 s</text>
<rect x="693.5" y="2775.53" width="34.0" height="27.77" fill="#000000"/>
<rect x="693.5" y="2748.05" width="34.0" height="27.77" fill="#00007A"/>
<rect x="693.5" y="2720.58" width="34.0" height="27.77" fill="#0000FF"/>
<rect x="693.5" y="2693.11" width="34.0" height="27.77" fill="#0055FF"/>
<rect x="693.5" y="2665.63" width="34.0" height="27.77" fill="#00BFFF"/>
<rect x="693.5" y="2638.16" width="34.0" height="27.77" fill="#00F5E6"/>
<rect x="693.5" y="2610.68" width="34.0" height="27.77" fill="#00DDB0"/>
<rect x="693.5" y="2583.21" width="34.0" height="27.77" fill="#00C870"/>
<rect x="693.5" y="2555.74" width="34.0" height="27.77" fill="#00B020"/>
<rect x="693.5" y="2528.26" width="34.0" height="27.77" fill="#00A800"/>
<rect x="693.5" y="2500.79" width="34.0" height="27.77" fill="#90E000"/>
<rect x="693.5" y="2473.32" width="34.0" height="27.77" fill="#FFE500"/>
<rect x="693.5" y="2445.84" width="34.0" height="27.77" fill="#FFA500"/>
<rect x="693.5" y="2418.37" width="34.0" height="27.77" fill="#FF5F00"/>
<rect x="693.5" y="2390.89" width="34.0" height="27.77" fill="#FF1400"/>
<rect x="693.5" y="2363.42" width="34.0" height="27.77" fill="#FF3232"/>
<rect x="693.5" y="2335.95" width="34.0" height="27.77" fill="#FF8C8C"/>
<rect x="693.5" y="2308.47" width="34.0" height="27.77" fill="#FFE5E5"/>
<rect x="693.5" y="2281.00" width="34.0" height="27.77" fill="#FFFFFF"/>
<path d="M693.5 2775.5h34.0M693.5 2748.1h34.0M693.5 2720.6h34.0M693.5 2693.1h34.0M693.5 2665.6h34.0M693.5 2638.2h34.0M693.5 2610.7h34.0M693.5 2583.2h34.0M693.5 2555.7h34.0M693.5 2528.3h34.0M693.5 2500.8h34.0M693.5 2473.3h34.0M693.5 2445.8h34.0M693.5 2418.4h34.0M693.5 2390.9h34.0M693.5 2363.4h34.0M693.5 2335.9h34.0M693.5 2308.5h34.0" stroke="#333" stroke-opacity="0.6" stroke-width="1.2" fill="none"/>
<rect x="693.5" y="2281.0" width="34.0" height="522.0" fill="none" stroke="#666" stroke-width="1.6"/>
<text fill="#1c1c1c" transform="translate(740.5 2816.5) scale(1.060 1)" font-size="42">17</text>
<text fill="#1c1c1c" transform="translate(740.5 2761.6) scale(1.060 1)" font-size="42">19</text>
<text fill="#1c1c1c" transform="translate(740.5 2706.6) scale(1.060 1)" font-size="42">21</text>
<text fill="#1c1c1c" transform="translate(740.5 2651.7) scale(1.060 1)" font-size="42">23</text>
<text fill="#1c1c1c" transform="translate(740.5 2596.7) scale(1.060 1)" font-size="42">25</text>
<text fill="#1c1c1c" transform="translate(740.5 2541.8) scale(1.060 1)" font-size="42">27</text>
<text fill="#1c1c1c" transform="translate(740.5 2486.8) scale(1.060 1)" font-size="42">29</text>
<text fill="#1c1c1c" transform="translate(740.5 2431.9) scale(1.060 1)" font-size="42">31</text>
<text fill="#1c1c1c" transform="translate(740.5 2376.9) scale(1.060 1)" font-size="42">33</text>
<text fill="#1c1c1c" transform="translate(740.5 2322.0) scale(1.060 1)" font-size="42">35</text>
<clipPath id="c8"><rect x="985.1" y="2139.3" width="473.9" height="782.2"/></clipPath>
<g clip-path="url(#c8)">
<rect x="984.1" y="2138.3" width="475.9" height="784.2" fill="#00BFFF"/>
<path d="M1431.9 2139.3C1433.1 2152.3 1437.2 2191.4 1439.4 2217.5C1441.5 2243.6 1443.7 2269.7 1445.0 2295.7C1446.2 2321.8 1447.5 2347.9 1446.8 2374.0C1446.2 2400.0 1444.0 2432.6 1441.2 2452.2C1438.4 2471.7 1432.5 2478.3 1430.0 2491.3C1427.5 2504.3 1426.0 2517.4 1426.3 2530.4C1426.6 2543.4 1429.7 2556.5 1431.9 2569.5C1434.1 2582.5 1437.8 2589.1 1439.4 2608.6C1440.9 2628.2 1440.9 2660.8 1441.2 2686.8C1441.5 2712.9 1442.5 2739.0 1441.2 2765.1C1440.0 2791.1 1437.5 2817.2 1433.8 2843.3C1430.0 2869.4 1421.3 2908.5 1418.8 2921.5L1418.8 2926.5 L980.1 2926.5L980.1 2134.3 L1431.9 2134.3Z" fill="#00F5E6"/>
<path d="M1418.8 2139.3C1419.8 2152.3 1422.9 2191.4 1424.4 2217.5C1426.0 2243.6 1427.2 2269.7 1428.2 2295.7C1429.1 2321.8 1430.3 2347.9 1430.0 2374.0C1429.7 2400.0 1427.9 2432.6 1426.3 2452.2C1424.7 2471.7 1422.3 2478.3 1420.7 2491.3C1419.1 2504.3 1417.0 2517.4 1417.0 2530.4C1417.0 2543.4 1419.5 2556.5 1420.7 2569.5C1421.9 2582.5 1423.8 2589.1 1424.4 2608.6C1425.1 2628.2 1424.7 2660.8 1424.4 2686.8C1424.1 2712.9 1423.8 2739.0 1422.6 2765.1C1421.3 2791.1 1419.1 2817.2 1417.0 2843.3C1414.8 2869.4 1410.7 2908.5 1409.5 2921.5L1409.5 2926.5 L980.1 2926.5L980.1 2134.3 L1418.8 2134.3Z" fill="#00DDB0"/>
<path d="M1405.8 2139.3C1406.4 2152.3 1408.9 2191.4 1409.5 2217.5C1410.1 2243.6 1409.2 2269.7 1409.5 2295.7C1409.8 2321.8 1411.1 2347.9 1411.4 2374.0C1411.7 2400.0 1411.7 2432.6 1411.4 2452.2C1411.1 2471.7 1410.1 2478.3 1409.5 2491.3C1408.9 2504.3 1407.6 2517.4 1407.6 2530.4C1407.6 2543.4 1409.0 2556.5 1409.5 2569.5C1410.0 2582.5 1411.2 2589.1 1410.6 2608.6C1410.0 2628.2 1407.2 2660.8 1405.8 2686.8C1404.3 2712.9 1403.0 2739.0 1402.0 2765.1C1401.1 2791.1 1400.8 2817.2 1400.2 2843.3C1399.6 2869.4 1398.6 2908.5 1398.3 2921.5L1398.3 2926.5 L980.1 2926.5L980.1 2134.3 L1405.8 2134.3Z" fill="#00C870"/>
<path d="M1392.7 2139.3C1392.7 2152.3 1393.0 2191.4 1392.7 2217.5C1392.4 2243.6 1390.8 2269.7 1390.8 2295.7C1390.8 2321.8 1391.8 2347.9 1392.7 2374.0C1393.6 2400.0 1395.5 2432.6 1396.4 2452.2C1397.4 2471.7 1398.0 2478.3 1398.3 2491.3C1398.6 2504.3 1398.3 2517.4 1398.3 2530.4C1398.3 2543.4 1398.6 2556.5 1398.3 2569.5C1398.0 2582.5 1398.3 2589.1 1396.4 2608.6C1394.6 2628.2 1389.6 2660.8 1387.1 2686.8C1384.6 2712.9 1382.4 2739.0 1381.5 2765.1C1380.6 2791.1 1380.3 2817.2 1381.5 2843.3C1382.8 2869.4 1387.7 2908.5 1389.0 2921.5L1389.0 2926.5 L980.1 2926.5L980.1 2134.3 L1392.7 2134.3Z" fill="#00B020"/>
<path d="M1379.6 2139.3C1379.3 2152.3 1379.0 2191.4 1377.8 2217.5C1376.5 2243.6 1372.8 2269.7 1372.2 2295.7C1371.6 2321.8 1372.5 2347.9 1374.0 2374.0C1375.6 2400.0 1379.6 2432.6 1381.5 2452.2C1383.4 2471.7 1384.0 2478.3 1385.2 2491.3C1386.5 2504.3 1388.7 2517.4 1389.0 2530.4C1389.3 2543.4 1388.4 2556.5 1387.1 2569.5C1385.9 2582.5 1384.6 2589.1 1381.5 2608.6C1378.4 2628.2 1371.9 2660.8 1368.4 2686.8C1365.0 2712.9 1361.6 2739.0 1361.0 2765.1C1360.4 2791.1 1361.9 2817.2 1364.7 2843.3C1367.5 2869.4 1375.6 2908.5 1377.8 2921.5L1377.8 2926.5 L980.1 2926.5L980.1 2134.3 L1379.6 2134.3Z" fill="#00A800"/>
<path d="M1366.6 2139.3C1365.6 2152.3 1363.2 2191.4 1361.0 2217.5C1358.8 2243.6 1354.4 2269.7 1353.5 2295.7C1352.6 2321.8 1353.5 2347.9 1355.4 2374.0C1357.2 2400.0 1361.6 2432.6 1364.7 2452.2C1367.8 2471.7 1371.4 2478.3 1374.0 2491.3C1376.7 2504.3 1380.5 2517.4 1380.8 2530.4C1381.1 2543.4 1378.3 2556.5 1375.9 2569.5C1373.5 2582.5 1370.9 2589.1 1366.6 2608.6C1362.2 2628.2 1354.1 2660.8 1349.8 2686.8C1345.4 2712.9 1341.1 2739.0 1340.5 2765.1C1339.8 2791.1 1341.4 2817.2 1346.0 2843.3C1350.7 2869.4 1364.7 2908.5 1368.4 2921.5L1368.4 2926.5 L980.1 2926.5L980.1 2134.3 L1366.6 2134.3Z" fill="#90E000"/>
<path d="M1353.5 2139.3C1352.0 2152.3 1347.9 2191.3 1344.2 2217.3C1340.5 2243.4 1333.0 2269.7 1331.1 2295.7C1329.3 2321.8 1330.2 2347.7 1333.0 2373.8C1335.8 2399.8 1342.9 2432.6 1347.9 2452.2C1352.9 2471.8 1358.8 2478.4 1362.8 2491.4C1366.9 2504.4 1371.9 2517.2 1372.2 2530.2C1372.5 2543.2 1368.4 2556.3 1364.7 2569.4C1361.0 2582.5 1356.3 2589.1 1349.8 2608.6C1343.2 2628.2 1331.1 2660.6 1325.5 2686.7C1319.9 2712.7 1316.5 2739.0 1316.2 2765.1C1315.9 2791.1 1320.5 2825.7 1323.7 2843.1C1326.8 2860.5 1330.5 2859.9 1334.9 2869.2C1339.2 2878.6 1346.0 2890.4 1349.8 2899.1C1353.5 2907.8 1356.0 2917.8 1357.2 2921.5L1357.2 2926.5 L980.1 2926.5L980.1 2134.3 L1353.5 2134.3Z" fill="#FFE500"/>
<path d="M1338.6 2139.3C1336.1 2152.3 1328.9 2191.3 1323.7 2217.3C1318.4 2243.4 1309.3 2269.7 1306.9 2295.7C1304.4 2321.8 1305.0 2347.7 1308.7 2373.8C1312.5 2399.8 1322.4 2432.6 1329.3 2452.2C1336.1 2471.8 1343.9 2478.4 1349.8 2491.4C1355.7 2504.4 1364.4 2517.2 1364.7 2530.2C1365.0 2543.2 1357.6 2556.3 1351.6 2569.4C1345.7 2582.5 1338.3 2589.1 1329.3 2608.6C1320.2 2628.2 1304.4 2660.6 1297.5 2686.7C1290.7 2712.7 1288.2 2739.0 1288.2 2765.1C1288.2 2791.1 1294.1 2826.4 1297.5 2843.1C1300.9 2859.8 1304.1 2858.0 1308.7 2865.5C1313.4 2873.0 1320.2 2881.1 1325.5 2887.9C1330.8 2894.7 1337.0 2901.0 1340.5 2906.6C1343.9 2912.2 1345.1 2919.0 1346.0 2921.5L1346.0 2926.5 L980.1 2926.5L980.1 2134.3 L1338.6 2134.3Z" fill="#FFA500"/>
<path d="M1309.8 2139.3C1307.2 2152.3 1299.6 2191.3 1293.8 2217.3C1288.0 2243.4 1277.6 2269.7 1275.1 2295.7C1272.6 2321.8 1274.2 2347.7 1278.9 2373.8C1283.5 2399.8 1294.4 2432.6 1303.1 2452.2C1311.8 2471.8 1323.3 2480.4 1331.1 2491.4C1338.9 2502.4 1345.7 2511.8 1349.8 2518.3C1353.8 2524.7 1355.4 2525.9 1355.4 2530.2C1355.4 2534.6 1353.2 2537.9 1349.8 2544.4C1346.4 2550.9 1342.6 2558.7 1334.9 2569.4C1327.1 2580.1 1314.3 2589.1 1303.1 2608.6C1291.9 2628.2 1275.8 2660.6 1267.7 2686.7C1259.6 2712.7 1256.8 2739.0 1254.6 2765.1C1252.4 2791.1 1254.6 2826.4 1254.6 2843.1C1254.6 2859.8 1254.9 2858.7 1254.6 2865.5C1254.3 2872.3 1255.2 2878.6 1252.7 2884.2C1250.2 2889.8 1244.3 2894.7 1239.7 2899.1C1235.0 2903.5 1228.5 2906.6 1224.7 2910.3C1221.0 2914.0 1218.5 2919.6 1217.3 2921.5L1217.3 2926.5 L980.1 2926.5L980.1 2134.3 L1309.8 2134.3Z" fill="#FF5F00"/>
<path d="M1277.0 2139.3C1276.7 2144.0 1278.2 2154.3 1275.1 2167.3C1272.0 2180.3 1263.6 2201.8 1258.3 2217.3C1253.0 2232.9 1246.8 2247.6 1243.4 2260.6C1240.0 2273.7 1238.7 2283.3 1237.8 2295.7C1236.9 2308.2 1237.2 2322.3 1237.8 2335.3C1238.4 2348.3 1239.4 2360.7 1241.5 2373.8C1243.7 2386.8 1246.5 2400.7 1250.9 2413.7C1255.2 2426.8 1262.1 2442.2 1267.7 2452.2C1273.3 2462.1 1278.6 2466.9 1284.5 2473.5C1290.4 2480.0 1295.7 2484.5 1303.1 2491.4C1310.6 2498.2 1322.4 2508.1 1329.3 2514.5C1336.1 2521.0 1344.2 2524.6 1344.2 2530.2C1344.2 2535.8 1336.1 2541.6 1329.3 2548.1C1322.4 2554.7 1310.9 2562.6 1303.1 2569.4C1295.3 2576.3 1288.8 2582.7 1282.6 2589.2C1276.4 2595.7 1273.0 2598.7 1265.8 2608.6C1258.6 2618.6 1246.5 2635.9 1239.7 2648.9C1232.8 2661.9 1228.8 2674.2 1224.7 2686.7C1220.7 2699.1 1217.9 2710.5 1215.4 2723.6C1212.9 2736.7 1211.7 2751.4 1209.8 2765.1C1207.9 2778.8 1206.1 2792.8 1204.2 2805.8C1202.3 2818.8 1201.4 2830.0 1198.6 2843.1C1195.8 2856.2 1191.5 2871.1 1187.4 2884.2C1183.4 2897.2 1176.5 2915.3 1174.3 2921.5L1174.3 2926.5 L980.1 2926.5L980.1 2134.3 L1277.0 2134.3Z" fill="#FF1400"/>
<path d="M1245.3 2139.3C1245.0 2142.1 1246.2 2148.9 1243.4 2156.1C1240.6 2163.3 1234.7 2174.1 1228.5 2182.2C1222.2 2190.3 1212.0 2198.8 1206.1 2204.6C1200.2 2210.5 1197.1 2209.2 1193.0 2217.3C1189.0 2225.4 1184.3 2240.1 1181.8 2253.2C1179.3 2266.2 1178.5 2282.0 1178.1 2295.7C1177.6 2309.4 1178.3 2322.3 1179.2 2335.3C1180.1 2348.3 1181.1 2360.7 1183.7 2373.8C1186.3 2386.8 1189.9 2400.7 1194.9 2413.7C1199.9 2426.8 1207.3 2442.2 1213.5 2452.2C1219.8 2462.1 1225.4 2466.9 1232.2 2473.5C1239.0 2480.0 1247.8 2485.2 1254.6 2491.4C1261.4 2497.6 1268.7 2504.3 1273.3 2510.8C1277.8 2517.3 1281.8 2524.0 1281.8 2530.2C1281.8 2536.4 1279.7 2541.6 1273.3 2548.1C1266.9 2554.7 1252.1 2562.6 1243.4 2569.4C1234.7 2576.3 1227.8 2582.7 1221.0 2589.2C1214.2 2595.7 1208.6 2598.7 1202.3 2608.6C1196.1 2618.6 1188.7 2635.9 1183.7 2648.9C1178.7 2661.9 1175.6 2674.2 1172.5 2686.7C1169.4 2699.1 1167.2 2710.5 1165.0 2723.6C1162.8 2736.7 1161.3 2751.4 1159.4 2765.1C1157.5 2778.8 1155.7 2792.8 1153.8 2805.8C1152.0 2818.8 1150.7 2830.0 1148.2 2843.1C1145.7 2856.2 1141.7 2871.1 1138.9 2884.2C1136.1 2897.2 1132.7 2915.3 1131.4 2921.5L1131.4 2926.5 L980.1 2926.5L980.1 2134.3 L1245.3 2134.3Z" fill="#FF3232"/>
<path d="M1064.2 2133.7C1050.9 2138.1 1068.6 2153.1 1073.6 2159.8C1078.5 2166.6 1087.6 2171.0 1094.1 2174.0C1100.6 2177.0 1106.5 2177.9 1112.8 2177.8C1119.0 2177.6 1125.8 2176.5 1131.4 2172.9C1137.0 2169.3 1142.6 2162.6 1146.4 2156.1C1150.1 2149.6 1167.5 2137.4 1153.8 2133.7C1140.1 2130.0 1077.6 2129.3 1064.2 2133.7Z" fill="#FF1400"/>
<path d="M995.2 2139.3C997.4 2145.8 1003.3 2165.5 1008.2 2178.5C1013.2 2191.5 1018.2 2204.3 1025.0 2217.3C1031.9 2230.4 1041.8 2243.8 1049.3 2256.9C1056.8 2270.0 1064.9 2282.7 1069.8 2295.7C1074.8 2308.8 1077.3 2322.3 1079.2 2335.3C1081.0 2348.3 1081.3 2360.7 1081.0 2373.8C1080.7 2386.8 1079.5 2400.7 1077.3 2413.7C1075.1 2426.8 1071.4 2439.2 1068.0 2452.2C1064.5 2465.1 1058.9 2478.4 1056.8 2491.4C1054.6 2504.4 1054.0 2517.2 1054.9 2530.2C1055.8 2543.2 1058.3 2556.3 1062.4 2569.4C1066.4 2582.5 1074.2 2595.4 1079.2 2608.6C1084.1 2621.9 1089.4 2635.9 1092.2 2648.9C1095.0 2661.9 1095.2 2674.2 1096.0 2686.7C1096.8 2699.1 1097.1 2710.5 1097.1 2723.6C1097.1 2736.7 1096.5 2751.4 1096.0 2765.1C1095.5 2778.8 1095.0 2792.8 1094.1 2805.8C1093.2 2818.8 1091.9 2830.0 1090.4 2843.1C1088.8 2856.2 1086.6 2871.1 1084.8 2884.2C1082.9 2897.2 1080.1 2915.3 1079.2 2921.5L1079.2 2926.5 L980.1 2926.5L980.1 2134.3 L995.2 2134.3Z" fill="#FF8C8C"/>
<path d="M985.1 2495.9C985.8 2501.6 988.2 2518.0 989.6 2530.2C990.9 2542.5 991.8 2556.3 993.3 2569.4C994.9 2582.5 996.4 2589.1 998.9 2608.6C1001.4 2628.2 1005.4 2660.6 1008.2 2686.7C1011.0 2712.7 1014.2 2739.0 1015.7 2765.1C1017.3 2791.1 1017.9 2817.0 1017.6 2843.1C1017.3 2869.2 1014.5 2908.4 1013.8 2921.5L1013.8 2926.5 L980.1 2926.5L980.1 2495.9Z" fill="#FFE5E5"/>
<path d="M1445.0 2139.3C1446.5 2152.3 1451.9 2200.2 1454.3 2217.3C1456.7 2234.4 1458.3 2237.9 1459.1 2242.0L1464.0 2242.0L1464.0 2134.3 L1445.0 2134.3Z" fill="#0055FF"/>
<path d="M1459.1 2447.3C1458.3 2448.1 1457.3 2444.8 1454.3 2452.2C1451.3 2459.5 1444.3 2478.4 1441.2 2491.4C1438.1 2504.4 1435.3 2517.2 1435.6 2530.2C1435.9 2543.2 1440.0 2556.3 1443.1 2569.4C1446.2 2582.5 1451.6 2596.6 1454.3 2608.6C1457.0 2620.6 1458.3 2636.0 1459.1 2641.5L1464.0 2641.5L1464.0 2447.3Z" fill="#0055FF"/>
<path d="M1459.1 2488.4C1458.0 2490.3 1454.8 2492.6 1452.4 2499.6C1450.1 2506.6 1444.7 2518.6 1445.0 2530.2C1445.3 2541.8 1451.9 2561.5 1454.3 2569.4C1456.7 2577.4 1458.3 2576.6 1459.1 2578.0L1464.0 2578.0L1464.0 2488.4Z" fill="#0000FF"/>
<path d="M1459.1 2514.5C1458.0 2517.1 1452.4 2524.6 1452.4 2530.2C1452.4 2535.8 1458.0 2545.1 1459.1 2548.1L1464.0 2548.1L1464.0 2514.5Z" fill="#00007A"/>
<path d="M1459.1 2716.1C1459.0 2724.3 1459.8 2743.9 1458.0 2765.1C1456.3 2786.2 1452.1 2823.2 1448.7 2843.1C1445.3 2862.9 1440.6 2871.1 1437.5 2884.2C1434.4 2897.2 1431.3 2915.3 1430.0 2921.5L1430.0 2926.5 L1464.0 2926.5L1464.0 2716.1Z" fill="#0055FF"/>
<path d="M1459.1 2820.7C1457.4 2831.3 1451.7 2867.4 1448.7 2884.2C1445.7 2901.0 1442.5 2915.3 1441.2 2921.5L1441.2 2926.5 L1464.0 2926.5L1464.0 2820.7Z" fill="#0000FF"/>
<path d="M1459.1 2887.9C1458.0 2893.5 1453.6 2915.9 1452.4 2921.5L1452.4 2926.5 L1464.0 2926.5L1464.0 2887.9Z" fill="#00007A"/>
<path d="M1431.9 2139.3C1433.1 2152.3 1437.2 2191.4 1439.4 2217.5C1441.5 2243.6 1443.7 2269.7 1445.0 2295.7C1446.2 2321.8 1447.5 2347.9 1446.8 2374.0C1446.2 2400.0 1444.0 2432.6 1441.2 2452.2C1438.4 2471.7 1432.5 2478.3 1430.0 2491.3C1427.5 2504.3 1426.0 2517.4 1426.3 2530.4C1426.6 2543.4 1429.7 2556.5 1431.9 2569.5C1434.1 2582.5 1437.8 2589.1 1439.4 2608.6C1440.9 2628.2 1440.9 2660.8 1441.2 2686.8C1441.5 2712.9 1442.5 2739.0 1441.2 2765.1C1440.0 2791.1 1437.5 2817.2 1433.8 2843.3C1430.0 2869.4 1421.3 2908.5 1418.8 2921.5" fill="none" stroke="#8c8c8c" stroke-opacity="0.55" stroke-width="0.9"/>
<path d="M1418.8 2139.3C1419.8 2152.3 1422.9 2191.4 1424.4 2217.5C1426.0 2243.6 1427.2 2269.7 1428.2 2295.7C1429.1 2321.8 1430.3 2347.9 1430.0 2374.0C1429.7 2400.0 1427.9 2432.6 1426.3 2452.2C1424.7 2471.7 1422.3 2478.3 1420.7 2491.3C1419.1 2504.3 1417.0 2517.4 1417.0 2530.4C1417.0 2543.4 1419.5 2556.5 1420.7 2569.5C1421.9 2582.5 1423.8 2589.1 1424.4 2608.6C1425.1 2628.2 1424.7 2660.8 1424.4 2686.8C1424.1 2712.9 1423.8 2739.0 1422.6 2765.1C1421.3 2791.1 1419.1 2817.2 1417.0 2843.3C1414.8 2869.4 1410.7 2908.5 1409.5 2921.5" fill="none" stroke="#c8c8c8" stroke-opacity="0.70" stroke-width="0.9"/>
<path d="M1405.8 2139.3C1406.4 2152.3 1408.9 2191.4 1409.5 2217.5C1410.1 2243.6 1409.2 2269.7 1409.5 2295.7C1409.8 2321.8 1411.1 2347.9 1411.4 2374.0C1411.7 2400.0 1411.7 2432.6 1411.4 2452.2C1411.1 2471.7 1410.1 2478.3 1409.5 2491.3C1408.9 2504.3 1407.6 2517.4 1407.6 2530.4C1407.6 2543.4 1409.0 2556.5 1409.5 2569.5C1410.0 2582.5 1411.2 2589.1 1410.6 2608.6C1410.0 2628.2 1407.2 2660.8 1405.8 2686.8C1404.3 2712.9 1403.0 2739.0 1402.0 2765.1C1401.1 2791.1 1400.8 2817.2 1400.2 2843.3C1399.6 2869.4 1398.6 2908.5 1398.3 2921.5" fill="none" stroke="#111" stroke-width="1.3"/>
<path d="M1392.7 2139.3C1392.7 2152.3 1393.0 2191.4 1392.7 2217.5C1392.4 2243.6 1390.8 2269.7 1390.8 2295.7C1390.8 2321.8 1391.8 2347.9 1392.7 2374.0C1393.6 2400.0 1395.5 2432.6 1396.4 2452.2C1397.4 2471.7 1398.0 2478.3 1398.3 2491.3C1398.6 2504.3 1398.3 2517.4 1398.3 2530.4C1398.3 2543.4 1398.6 2556.5 1398.3 2569.5C1398.0 2582.5 1398.3 2589.1 1396.4 2608.6C1394.6 2628.2 1389.6 2660.8 1387.1 2686.8C1384.6 2712.9 1382.4 2739.0 1381.5 2765.1C1380.6 2791.1 1380.3 2817.2 1381.5 2843.3C1382.8 2869.4 1387.7 2908.5 1389.0 2921.5" fill="none" stroke="#e8e8e8" stroke-opacity="0.80" stroke-width="0.9"/>
<path d="M1379.6 2139.3C1379.3 2152.3 1379.0 2191.4 1377.8 2217.5C1376.5 2243.6 1372.8 2269.7 1372.2 2295.7C1371.6 2321.8 1372.5 2347.9 1374.0 2374.0C1375.6 2400.0 1379.6 2432.6 1381.5 2452.2C1383.4 2471.7 1384.0 2478.3 1385.2 2491.3C1386.5 2504.3 1388.7 2517.4 1389.0 2530.4C1389.3 2543.4 1388.4 2556.5 1387.1 2569.5C1385.9 2582.5 1384.6 2589.1 1381.5 2608.6C1378.4 2628.2 1371.9 2660.8 1368.4 2686.8C1365.0 2712.9 1361.6 2739.0 1361.0 2765.1C1360.4 2791.1 1361.9 2817.2 1364.7 2843.3C1367.5 2869.4 1375.6 2908.5 1377.8 2921.5" fill="none" stroke="#e8e8e8" stroke-opacity="0.80" stroke-width="0.9"/>
<path d="M1366.6 2139.3C1365.6 2152.3 1363.2 2191.4 1361.0 2217.5C1358.8 2243.6 1354.4 2269.7 1353.5 2295.7C1352.6 2321.8 1353.5 2347.9 1355.4 2374.0C1357.2 2400.0 1361.6 2432.6 1364.7 2452.2C1367.8 2471.7 1371.4 2478.3 1374.0 2491.3C1376.7 2504.3 1380.5 2517.4 1380.8 2530.4C1381.1 2543.4 1378.3 2556.5 1375.9 2569.5C1373.5 2582.5 1370.9 2589.1 1366.6 2608.6C1362.2 2628.2 1354.1 2660.8 1349.8 2686.8C1345.4 2712.9 1341.1 2739.0 1340.5 2765.1C1339.8 2791.1 1341.4 2817.2 1346.0 2843.3C1350.7 2869.4 1364.7 2908.5 1368.4 2921.5" fill="none" stroke="#111" stroke-width="1.3" stroke-dasharray="78.1 53.0 282.1 53.0 99999.0"/>
<path d="M1353.5 2139.3C1352.0 2152.3 1347.9 2191.3 1344.2 2217.3C1340.5 2243.4 1333.0 2269.7 1331.1 2295.7C1329.3 2321.8 1330.2 2347.7 1333.0 2373.8C1335.8 2399.8 1342.9 2432.6 1347.9 2452.2C1352.9 2471.8 1358.8 2478.4 1362.8 2491.4C1366.9 2504.4 1371.9 2517.2 1372.2 2530.2C1372.5 2543.2 1368.4 2556.3 1364.7 2569.4C1361.0 2582.5 1356.3 2589.1 1349.8 2608.6C1343.2 2628.2 1331.1 2660.6 1325.5 2686.7C1319.9 2712.7 1316.5 2739.0 1316.2 2765.1C1315.9 2791.1 1320.5 2825.7 1323.7 2843.1C1326.8 2860.5 1330.5 2859.9 1334.9 2869.2C1339.2 2878.6 1346.0 2890.4 1349.8 2899.1C1353.5 2907.8 1356.0 2917.8 1357.2 2921.5" fill="none" stroke="#8c8c8c" stroke-opacity="0.55" stroke-width="0.9"/>
<path d="M1338.6 2139.3C1336.1 2152.3 1328.9 2191.3 1323.7 2217.3C1318.4 2243.4 1309.3 2269.7 1306.9 2295.7C1304.4 2321.8 1305.0 2347.7 1308.7 2373.8C1312.5 2399.8 1322.4 2432.6 1329.3 2452.2C1336.1 2471.8 1343.9 2478.4 1349.8 2491.4C1355.7 2504.4 1364.4 2517.2 1364.7 2530.2C1365.0 2543.2 1357.6 2556.3 1351.6 2569.4C1345.7 2582.5 1338.3 2589.1 1329.3 2608.6C1320.2 2628.2 1304.4 2660.6 1297.5 2686.7C1290.7 2712.7 1288.2 2739.0 1288.2 2765.1C1288.2 2791.1 1294.1 2826.4 1297.5 2843.1C1300.9 2859.8 1304.1 2858.0 1308.7 2865.5C1313.4 2873.0 1320.2 2881.1 1325.5 2887.9C1330.8 2894.7 1337.0 2901.0 1340.5 2906.6C1343.9 2912.2 1345.1 2919.0 1346.0 2921.5" fill="none" stroke="#8c8c8c" stroke-opacity="0.55" stroke-width="0.9"/>
<path d="M1309.8 2139.3C1307.2 2152.3 1299.6 2191.3 1293.8 2217.3C1288.0 2243.4 1277.6 2269.7 1275.1 2295.7C1272.6 2321.8 1274.2 2347.7 1278.9 2373.8C1283.5 2399.8 1294.4 2432.6 1303.1 2452.2C1311.8 2471.8 1323.3 2480.4 1331.1 2491.4C1338.9 2502.4 1345.7 2511.8 1349.8 2518.3C1353.8 2524.7 1355.4 2525.9 1355.4 2530.2C1355.4 2534.6 1353.2 2537.9 1349.8 2544.4C1346.4 2550.9 1342.6 2558.7 1334.9 2569.4C1327.1 2580.1 1314.3 2589.1 1303.1 2608.6C1291.9 2628.2 1275.8 2660.6 1267.7 2686.7C1259.6 2712.7 1256.8 2739.0 1254.6 2765.1C1252.4 2791.1 1254.6 2826.4 1254.6 2843.1C1254.6 2859.8 1254.9 2858.7 1254.6 2865.5C1254.3 2872.3 1255.2 2878.6 1252.7 2884.2C1250.2 2889.8 1244.3 2894.7 1239.7 2899.1C1235.0 2903.5 1228.5 2906.6 1224.7 2910.3C1221.0 2914.0 1218.5 2919.6 1217.3 2921.5" fill="none" stroke="#111" stroke-width="1.3" stroke-dasharray="80.2 53.0 294.2 53.0 99999.0"/>
<path d="M1277.0 2139.3C1276.7 2144.0 1278.2 2154.3 1275.1 2167.3C1272.0 2180.3 1263.6 2201.8 1258.3 2217.3C1253.0 2232.9 1246.8 2247.6 1243.4 2260.6C1240.0 2273.7 1238.7 2283.3 1237.8 2295.7C1236.9 2308.2 1237.2 2322.3 1237.8 2335.3C1238.4 2348.3 1239.4 2360.7 1241.5 2373.8C1243.7 2386.8 1246.5 2400.7 1250.9 2413.7C1255.2 2426.8 1262.1 2442.2 1267.7 2452.2C1273.3 2462.1 1278.6 2466.9 1284.5 2473.5C1290.4 2480.0 1295.7 2484.5 1303.1 2491.4C1310.6 2498.2 1322.4 2508.1 1329.3 2514.5C1336.1 2521.0 1344.2 2524.6 1344.2 2530.2C1344.2 2535.8 1336.1 2541.6 1329.3 2548.1C1322.4 2554.7 1310.9 2562.6 1303.1 2569.4C1295.3 2576.3 1288.8 2582.7 1282.6 2589.2C1276.4 2595.7 1273.0 2598.7 1265.8 2608.6C1258.6 2618.6 1246.5 2635.9 1239.7 2648.9C1232.8 2661.9 1228.8 2674.2 1224.7 2686.7C1220.7 2699.1 1217.9 2710.5 1215.4 2723.6C1212.9 2736.7 1211.7 2751.4 1209.8 2765.1C1207.9 2778.8 1206.1 2792.8 1204.2 2805.8C1202.3 2818.8 1201.4 2830.0 1198.6 2843.1C1195.8 2856.2 1191.5 2871.1 1187.4 2884.2C1183.4 2897.2 1176.5 2915.3 1174.3 2921.5" fill="none" stroke="#e8e8e8" stroke-opacity="0.80" stroke-width="0.9"/>
<path d="M1245.3 2139.3C1245.0 2142.1 1246.2 2148.9 1243.4 2156.1C1240.6 2163.3 1234.7 2174.1 1228.5 2182.2C1222.2 2190.3 1212.0 2198.8 1206.1 2204.6C1200.2 2210.5 1197.1 2209.2 1193.0 2217.3C1189.0 2225.4 1184.3 2240.1 1181.8 2253.2C1179.3 2266.2 1178.5 2282.0 1178.1 2295.7C1177.6 2309.4 1178.3 2322.3 1179.2 2335.3C1180.1 2348.3 1181.1 2360.7 1183.7 2373.8C1186.3 2386.8 1189.9 2400.7 1194.9 2413.7C1199.9 2426.8 1207.3 2442.2 1213.5 2452.2C1219.8 2462.1 1225.4 2466.9 1232.2 2473.5C1239.0 2480.0 1247.8 2485.2 1254.6 2491.4C1261.4 2497.6 1268.7 2504.3 1273.3 2510.8C1277.8 2517.3 1281.8 2524.0 1281.8 2530.2C1281.8 2536.4 1279.7 2541.6 1273.3 2548.1C1266.9 2554.7 1252.1 2562.6 1243.4 2569.4C1234.7 2576.3 1227.8 2582.7 1221.0 2589.2C1214.2 2595.7 1208.6 2598.7 1202.3 2608.6C1196.1 2618.6 1188.7 2635.9 1183.7 2648.9C1178.7 2661.9 1175.6 2674.2 1172.5 2686.7C1169.4 2699.1 1167.2 2710.5 1165.0 2723.6C1162.8 2736.7 1161.3 2751.4 1159.4 2765.1C1157.5 2778.8 1155.7 2792.8 1153.8 2805.8C1152.0 2818.8 1150.7 2830.0 1148.2 2843.1C1145.7 2856.2 1141.7 2871.1 1138.9 2884.2C1136.1 2897.2 1132.7 2915.3 1131.4 2921.5" fill="none" stroke="#c8c8c8" stroke-opacity="0.70" stroke-width="0.9"/>
<path d="M1064.2 2133.7C1050.9 2138.1 1068.6 2153.1 1073.6 2159.8C1078.5 2166.6 1087.6 2171.0 1094.1 2174.0C1100.6 2177.0 1106.5 2177.9 1112.8 2177.8C1119.0 2177.6 1125.8 2176.5 1131.4 2172.9C1137.0 2169.3 1142.6 2162.6 1146.4 2156.1C1150.1 2149.6 1167.5 2137.4 1153.8 2133.7C1140.1 2130.0 1077.6 2129.3 1064.2 2133.7Z" fill="none" stroke="#e8e8e8" stroke-opacity="0.80" stroke-width="0.9"/>
<path d="M995.2 2139.3C997.4 2145.8 1003.3 2165.5 1008.2 2178.5C1013.2 2191.5 1018.2 2204.3 1025.0 2217.3C1031.9 2230.4 1041.8 2243.8 1049.3 2256.9C1056.8 2270.0 1064.9 2282.7 1069.8 2295.7C1074.8 2308.8 1077.3 2322.3 1079.2 2335.3C1081.0 2348.3 1081.3 2360.7 1081.0 2373.8C1080.7 2386.8 1079.5 2400.7 1077.3 2413.7C1075.1 2426.8 1071.4 2439.2 1068.0 2452.2C1064.5 2465.1 1058.9 2478.4 1056.8 2491.4C1054.6 2504.4 1054.0 2517.2 1054.9 2530.2C1055.8 2543.2 1058.3 2556.3 1062.4 2569.4C1066.4 2582.5 1074.2 2595.4 1079.2 2608.6C1084.1 2621.9 1089.4 2635.9 1092.2 2648.9C1095.0 2661.9 1095.2 2674.2 1096.0 2686.7C1096.8 2699.1 1097.1 2710.5 1097.1 2723.6C1097.1 2736.7 1096.5 2751.4 1096.0 2765.1C1095.5 2778.8 1095.0 2792.8 1094.1 2805.8C1093.2 2818.8 1091.9 2830.0 1090.4 2843.1C1088.8 2856.2 1086.6 2871.1 1084.8 2884.2C1082.9 2897.2 1080.1 2915.3 1079.2 2921.5" fill="none" stroke="#111" stroke-width="1.3" stroke-dasharray="144.1 53.0 282.7 53.0 99999.0"/>
<path d="M985.1 2495.9C985.8 2501.6 988.2 2518.0 989.6 2530.2C990.9 2542.5 991.8 2556.3 993.3 2569.4C994.9 2582.5 996.4 2589.1 998.9 2608.6C1001.4 2628.2 1005.4 2660.6 1008.2 2686.7C1011.0 2712.7 1014.2 2739.0 1015.7 2765.1C1017.3 2791.1 1017.9 2817.0 1017.6 2843.1C1017.3 2869.2 1014.5 2908.4 1013.8 2921.5" fill="none" stroke="#8c8c8c" stroke-opacity="0.55" stroke-width="0.9"/>
<path d="M1445.0 2139.3C1446.5 2152.3 1451.9 2200.2 1454.3 2217.3C1456.7 2234.4 1458.3 2237.9 1459.1 2242.0" fill="none" stroke="#111" stroke-width="1.3"/>
<path d="M1459.1 2447.3C1458.3 2448.1 1457.3 2444.8 1454.3 2452.2C1451.3 2459.5 1444.3 2478.4 1441.2 2491.4C1438.1 2504.4 1435.3 2517.2 1435.6 2530.2C1435.9 2543.2 1440.0 2556.3 1443.1 2569.4C1446.2 2582.5 1451.6 2596.6 1454.3 2608.6C1457.0 2620.6 1458.3 2636.0 1459.1 2641.5" fill="none" stroke="#111" stroke-width="1.3"/>
<path d="M1459.1 2488.4C1458.0 2490.3 1454.8 2492.6 1452.4 2499.6C1450.1 2506.6 1444.7 2518.6 1445.0 2530.2C1445.3 2541.8 1451.9 2561.5 1454.3 2569.4C1456.7 2577.4 1458.3 2576.6 1459.1 2578.0" fill="none" stroke="#e8e8e8" stroke-opacity="0.80" stroke-width="0.9"/>
<path d="M1459.1 2514.5C1458.0 2517.1 1452.4 2524.6 1452.4 2530.2C1452.4 2535.8 1458.0 2545.1 1459.1 2548.1" fill="none" stroke="#e8e8e8" stroke-opacity="0.80" stroke-width="0.9"/>
<path d="M1459.1 2716.1C1459.0 2724.3 1459.8 2743.9 1458.0 2765.1C1456.3 2786.2 1452.1 2823.2 1448.7 2843.1C1445.3 2862.9 1440.6 2871.1 1437.5 2884.2C1434.4 2897.2 1431.3 2915.3 1430.0 2921.5" fill="none" stroke="#111" stroke-width="1.3"/>
<path d="M1459.1 2820.7C1457.4 2831.3 1451.7 2867.4 1448.7 2884.2C1445.7 2901.0 1442.5 2915.3 1441.2 2921.5" fill="none" stroke="#e8e8e8" stroke-opacity="0.80" stroke-width="0.9"/>
<path d="M1459.1 2887.9C1458.0 2893.5 1453.6 2915.9 1452.4 2921.5" fill="none" stroke="#e8e8e8" stroke-opacity="0.80" stroke-width="0.9"/>
<text transform="translate(1062.4 2296.1) rotate(62.0)" font-size="43" text-anchor="middle" y="14.2" fill="#111">33</text>
<text transform="translate(1286.3 2245.7) rotate(-80.0)" font-size="43" text-anchor="middle" y="14.2" fill="#111">30</text>
<text transform="translate(1357.2 2245.7) rotate(-80.0)" font-size="43" text-anchor="middle" y="14.2" fill="#111">27</text>
<text transform="translate(1079.2 2620.9) rotate(70.0)" font-size="43" text-anchor="middle" y="14.2" fill="#111">33</text>
<text transform="translate(1336.7 2564.9) rotate(-58.0)" font-size="43" text-anchor="middle" y="14.2" fill="#111">30</text>
<text transform="translate(1374.0 2576.1) rotate(-62.0)" font-size="43" text-anchor="middle" y="14.2" fill="#111">27</text>
</g>
<rect x="985.1" y="2139.3" width="473.9" height="782.2" fill="none" stroke="#7a7a7a" stroke-width="2"/>
<path d="M1024.6 2139.3v-10.0M1024.6 2921.5v10.0M1103.6 2139.3v-10.0M1103.6 2921.5v10.0M1182.6 2139.3v-10.0M1182.6 2921.5v10.0M1261.5 2139.3v-10.0M1261.5 2921.5v10.0M1340.5 2139.3v-10.0M1340.5 2921.5v10.0M1419.5 2139.3v-10.0M1419.5 2921.5v10.0M985.1 2139.3h-10.0M1459.0 2139.3h10.0M985.1 2217.5h-10.0M1459.0 2217.5h10.0M985.1 2295.7h-10.0M1459.0 2295.7h10.0M985.1 2374.0h-10.0M1459.0 2374.0h10.0M985.1 2452.2h-10.0M1459.0 2452.2h10.0M985.1 2530.4h-10.0M1459.0 2530.4h10.0M985.1 2608.6h-10.0M1459.0 2608.6h10.0M985.1 2686.8h-10.0M1459.0 2686.8h10.0M985.1 2765.1h-10.0M1459.0 2765.1h10.0M985.1 2843.3h-10.0M1459.0 2843.3h10.0M985.1 2921.5h-10.0M1459.0 2921.5h10.0" stroke="#7a7a7a" stroke-width="2" fill="none"/>
<text fill="#1c1c1c" transform="translate(1024.6 2973.5) scale(1.060 1)" font-size="42" text-anchor="middle">4</text>
<text fill="#1c1c1c" transform="translate(1103.6 2973.5) scale(1.060 1)" font-size="42" text-anchor="middle">6</text>
<text fill="#1c1c1c" transform="translate(1182.6 2973.5) scale(1.060 1)" font-size="42" text-anchor="middle">8</text>
<text fill="#1c1c1c" transform="translate(1261.5 2973.5) scale(1.060 1)" font-size="42" text-anchor="middle">10</text>
<text fill="#1c1c1c" transform="translate(1340.5 2973.5) scale(1.060 1)" font-size="42" text-anchor="middle">12</text>
<text fill="#1c1c1c" transform="translate(1419.5 2973.5) scale(1.060 1)" font-size="42" text-anchor="middle">14</text>
<text fill="#1c1c1c" transform="translate(973.1 2153.3) scale(1.060 1)" font-size="42" text-anchor="end">0</text>
<text fill="#1c1c1c" transform="translate(973.1 2231.5) scale(1.060 1)" font-size="42" text-anchor="end">-2</text>
<text fill="#1c1c1c" transform="translate(973.1 2309.7) scale(1.060 1)" font-size="42" text-anchor="end">-4</text>
<text fill="#1c1c1c" transform="translate(973.1 2388.0) scale(1.060 1)" font-size="42" text-anchor="end">-6</text>
<text fill="#1c1c1c" transform="translate(973.1 2466.2) scale(1.060 1)" font-size="42" text-anchor="end">-8</text>
<text fill="#1c1c1c" transform="translate(973.1 2544.4) scale(1.060 1)" font-size="42" text-anchor="end">-10</text>
<text fill="#1c1c1c" transform="translate(973.1 2622.6) scale(1.060 1)" font-size="42" text-anchor="end">-12</text>
<text fill="#1c1c1c" transform="translate(973.1 2700.8) scale(1.060 1)" font-size="42" text-anchor="end">-14</text>
<text fill="#1c1c1c" transform="translate(973.1 2779.1) scale(1.060 1)" font-size="42" text-anchor="end">-16</text>
<text fill="#1c1c1c" transform="translate(973.1 2857.3) scale(1.060 1)" font-size="42" text-anchor="end">-18</text>
<text fill="#1c1c1c" transform="translate(973.1 2935.5) scale(1.060 1)" font-size="42" text-anchor="end">-20</text>
<text fill="#1c1c1c" transform="translate(1222.0 3032.5) scale(1.060 1)" font-size="43" text-anchor="middle">Horizontal distance/cm</text>
<text fill="#1c1c1c" transform="translate(893.1 2527.9) rotate(-90) scale(1.060 1)" font-size="43" text-anchor="middle">Vertical distance/cm</text>
<text transform="translate(1236.0 3104.8) scale(1.04 1)" font-size="59" text-anchor="middle" fill="#000">300 s</text>
<rect x="1533.0" y="2773.50" width="34.0" height="29.30" fill="#00007A"/>
<rect x="1533.0" y="2744.50" width="34.0" height="29.30" fill="#0000FF"/>
<rect x="1533.0" y="2715.50" width="34.0" height="29.30" fill="#0055FF"/>
<rect x="1533.0" y="2686.50" width="34.0" height="29.30" fill="#00BFFF"/>
<rect x="1533.0" y="2657.50" width="34.0" height="29.30" fill="#00F5E6"/>
<rect x="1533.0" y="2628.50" width="34.0" height="29.30" fill="#00DDB0"/>
<rect x="1533.0" y="2599.50" width="34.0" height="29.30" fill="#00C870"/>
<rect x="1533.0" y="2570.50" width="34.0" height="29.30" fill="#00B020"/>
<rect x="1533.0" y="2541.50" width="34.0" height="29.30" fill="#00A800"/>
<rect x="1533.0" y="2512.50" width="34.0" height="29.30" fill="#90E000"/>
<rect x="1533.0" y="2483.50" width="34.0" height="29.30" fill="#FFE500"/>
<rect x="1533.0" y="2454.50" width="34.0" height="29.30" fill="#FFA500"/>
<rect x="1533.0" y="2425.50" width="34.0" height="29.30" fill="#FF5F00"/>
<rect x="1533.0" y="2396.50" width="34.0" height="29.30" fill="#FF1400"/>
<rect x="1533.0" y="2367.50" width="34.0" height="29.30" fill="#FF3232"/>
<rect x="1533.0" y="2338.50" width="34.0" height="29.30" fill="#FF8C8C"/>
<rect x="1533.0" y="2309.50" width="34.0" height="29.30" fill="#FFE5E5"/>
<rect x="1533.0" y="2280.50" width="34.0" height="29.30" fill="#FFFFFF"/>
<path d="M1533.0 2773.5h34.0M1533.0 2744.5h34.0M1533.0 2715.5h34.0M1533.0 2686.5h34.0M1533.0 2657.5h34.0M1533.0 2628.5h34.0M1533.0 2599.5h34.0M1533.0 2570.5h34.0M1533.0 2541.5h34.0M1533.0 2512.5h34.0M1533.0 2483.5h34.0M1533.0 2454.5h34.0M1533.0 2425.5h34.0M1533.0 2396.5h34.0M1533.0 2367.5h34.0M1533.0 2338.5h34.0M1533.0 2309.5h34.0" stroke="#333" stroke-opacity="0.6" stroke-width="1.2" fill="none"/>
<rect x="1533.0" y="2280.5" width="34.0" height="522.0" fill="none" stroke="#666" stroke-width="1.6"/>
<text fill="#1c1c1c" transform="translate(1580.0 2816.0) scale(1.060 1)" font-size="42">18</text>
<text fill="#1c1c1c" transform="translate(1580.0 2758.0) scale(1.060 1)" font-size="42">20</text>
<text fill="#1c1c1c" transform="translate(1580.0 2700.0) scale(1.060 1)" font-size="42">22</text>
<text fill="#1c1c1c" transform="translate(1580.0 2642.0) scale(1.060 1)" font-size="42">24</text>
<text fill="#1c1c1c" transform="translate(1580.0 2584.0) scale(1.060 1)" font-size="42">26</text>
<text fill="#1c1c1c" transform="translate(1580.0 2526.0) scale(1.060 1)" font-size="42">28</text>
<text fill="#1c1c1c" transform="translate(1580.0 2468.0) scale(1.060 1)" font-size="42">30</text>
<text fill="#1c1c1c" transform="translate(1580.0 2410.0) scale(1.060 1)" font-size="42">32</text>
<text fill="#1c1c1c" transform="translate(1580.0 2352.0) scale(1.060 1)" font-size="42">34</text>
<text x="1236" y="3188.8" font-size="57" text-anchor="middle" fill="#000">(<tspan font-weight="bold">b</tspan>)</text>
<clipPath id="c9"><rect x="1825.8" y="2139.3" width="473.9" height="782.2"/></clipPath>
<g clip-path="url(#c9)">
<rect x="1824.8" y="2138.3" width="475.9" height="784.2" fill="#00BFFF"/>
<path d="M2285.7 2139.3C2286.3 2145.8 2287.8 2165.4 2289.4 2178.4C2291.0 2191.4 2293.4 2198.0 2295.0 2217.5C2296.6 2237.1 2298.3 2269.7 2298.7 2295.7C2299.2 2321.8 2299.8 2347.9 2297.6 2374.0C2295.4 2400.0 2288.9 2432.6 2285.7 2452.2C2282.4 2471.7 2280.4 2478.3 2278.2 2491.3C2276.0 2504.3 2272.7 2517.4 2272.6 2530.4C2272.5 2543.4 2275.6 2556.5 2277.5 2569.5C2279.3 2582.5 2282.4 2589.1 2283.8 2608.6C2285.2 2628.2 2285.7 2660.8 2285.7 2686.8C2285.7 2712.9 2285.0 2739.0 2283.8 2765.1C2282.6 2791.1 2281.3 2817.2 2278.2 2843.3C2275.1 2869.4 2267.3 2908.5 2265.1 2921.5L2265.1 2926.5 L1820.8 2926.5L1820.8 2134.3 L2285.7 2134.3Z" fill="#00F5E6"/>
<path d="M2275.2 2139.3C2275.6 2145.8 2276.6 2165.4 2277.5 2178.4C2278.3 2191.4 2279.3 2198.0 2280.1 2217.5C2280.8 2237.1 2281.6 2269.7 2281.9 2295.7C2282.2 2321.8 2283.5 2347.9 2281.9 2374.0C2280.4 2400.0 2275.1 2432.6 2272.6 2452.2C2270.1 2471.7 2268.7 2478.3 2267.0 2491.3C2265.3 2504.3 2262.6 2517.4 2262.5 2530.4C2262.4 2543.4 2265.2 2556.5 2266.3 2569.5C2267.3 2582.5 2268.4 2589.1 2268.9 2608.6C2269.3 2628.2 2269.2 2660.8 2268.9 2686.8C2268.6 2712.9 2267.9 2739.0 2267.0 2765.1C2266.1 2791.1 2265.3 2817.2 2263.3 2843.3C2261.3 2869.4 2256.4 2908.5 2255.1 2921.5L2255.1 2926.5 L1820.8 2926.5L1820.8 2134.3 L2275.2 2134.3Z" fill="#00DDB0"/>
<path d="M2264.4 2139.3C2264.4 2145.8 2264.3 2165.4 2264.4 2178.4C2264.5 2191.4 2265.0 2198.0 2265.1 2217.5C2265.3 2237.1 2265.1 2269.7 2265.1 2295.7C2265.1 2321.8 2266.1 2347.9 2265.1 2374.0C2264.2 2400.0 2261.1 2432.6 2259.5 2452.2C2258.0 2471.7 2257.0 2478.3 2255.8 2491.3C2254.6 2504.3 2252.2 2517.4 2252.1 2530.4C2251.9 2543.4 2254.7 2556.5 2255.1 2569.5C2255.4 2582.5 2254.4 2589.1 2253.9 2608.6C2253.4 2628.2 2252.7 2660.8 2252.1 2686.8C2251.4 2712.9 2250.8 2739.0 2250.2 2765.1C2249.6 2791.1 2249.3 2817.2 2248.3 2843.3C2247.4 2869.4 2245.2 2908.5 2244.6 2921.5L2244.6 2926.5 L1820.8 2926.5L1820.8 2134.3 L2264.4 2134.3Z" fill="#00C870"/>
<path d="M2252.1 2139.3C2251.8 2145.8 2250.8 2165.4 2250.2 2178.4C2249.6 2191.4 2249.1 2198.0 2248.3 2217.5C2247.5 2237.1 2245.7 2269.7 2245.4 2295.7C2245.0 2321.8 2246.6 2347.9 2246.5 2374.0C2246.3 2400.0 2245.2 2432.6 2244.6 2452.2C2244.0 2471.7 2243.2 2478.3 2242.7 2491.3C2242.2 2504.3 2241.6 2517.4 2241.6 2530.4C2241.6 2543.4 2243.2 2556.5 2242.7 2569.5C2242.3 2582.5 2240.3 2589.1 2239.0 2608.6C2237.8 2628.2 2236.2 2660.8 2235.3 2686.8C2234.3 2712.9 2233.7 2739.0 2233.4 2765.1C2233.1 2791.1 2233.1 2817.2 2233.4 2843.3C2233.7 2869.4 2235.0 2908.5 2235.3 2921.5L2235.3 2926.5 L1820.8 2926.5L1820.8 2134.3 L2252.1 2134.3Z" fill="#00B020"/>
<path d="M2239.0 2139.3C2238.7 2145.8 2238.1 2165.4 2237.1 2178.4C2236.2 2191.4 2235.3 2198.0 2233.4 2217.5C2231.5 2237.1 2226.9 2269.7 2225.9 2295.7C2225.0 2321.8 2227.2 2347.9 2227.8 2374.0C2228.4 2400.0 2229.1 2432.6 2229.7 2452.2C2230.3 2471.7 2231.2 2478.3 2231.5 2491.3C2231.9 2504.3 2231.5 2517.4 2231.5 2530.4C2231.5 2543.4 2232.5 2556.5 2231.5 2569.5C2230.6 2582.5 2228.1 2589.1 2225.9 2608.6C2223.8 2628.2 2220.0 2660.8 2218.5 2686.8C2216.9 2712.9 2216.6 2739.0 2216.6 2765.1C2216.6 2791.1 2217.2 2817.2 2218.5 2843.3C2219.7 2869.4 2223.1 2908.5 2224.1 2921.5L2224.1 2926.5 L1820.8 2926.5L1820.8 2134.3 L2239.0 2134.3Z" fill="#00A800"/>
<path d="M2227.8 2139.3C2227.2 2145.8 2225.6 2165.4 2224.1 2178.4C2222.5 2191.4 2221.6 2198.0 2218.5 2217.5C2215.4 2237.1 2207.3 2269.7 2205.4 2295.7C2203.5 2321.8 2205.7 2347.9 2207.3 2374.0C2208.8 2400.0 2212.9 2432.6 2214.7 2452.2C2216.6 2471.7 2217.1 2478.3 2218.5 2491.3C2219.8 2504.3 2222.6 2517.4 2223.0 2530.4C2223.3 2543.4 2222.0 2556.5 2220.3 2569.5C2218.7 2582.5 2216.0 2589.1 2212.9 2608.6C2209.8 2628.2 2203.9 2660.8 2201.7 2686.8C2199.5 2712.9 2199.5 2739.0 2199.8 2765.1C2200.1 2791.1 2201.1 2817.2 2203.5 2843.3C2206.0 2869.4 2212.9 2908.5 2214.7 2921.5L2214.7 2926.5 L1820.8 2926.5L1820.8 2134.3 L2227.8 2134.3Z" fill="#90E000"/>
<path d="M2217.7 2139.3C2216.9 2145.8 2215.6 2165.4 2212.9 2178.4C2210.2 2191.4 2206.7 2198.0 2201.7 2217.5C2196.7 2237.1 2185.5 2269.7 2183.0 2295.7C2180.5 2321.8 2183.9 2347.9 2186.7 2374.0C2189.5 2400.0 2196.4 2432.6 2199.8 2452.2C2203.2 2471.7 2204.8 2478.3 2207.3 2491.3C2209.8 2504.3 2214.2 2517.4 2214.7 2530.4C2215.2 2543.4 2212.8 2556.5 2210.3 2569.5C2207.8 2582.5 2204.4 2589.1 2199.8 2608.6C2195.3 2628.2 2186.4 2660.8 2183.0 2686.8C2179.6 2712.9 2178.7 2739.0 2179.3 2765.1C2179.9 2791.1 2182.7 2817.2 2186.7 2843.3C2190.8 2869.4 2200.7 2908.5 2203.5 2921.5L2203.5 2926.5 L1820.8 2926.5L1820.8 2134.3 L2217.7 2134.3Z" fill="#FFE500"/>
<path d="M2207.3 2139.3C2205.7 2145.8 2202.9 2165.5 2197.9 2178.5C2193.0 2191.5 2183.3 2204.3 2177.4 2217.3C2171.5 2230.4 2165.9 2243.8 2162.5 2256.9C2159.1 2270.0 2157.5 2282.7 2156.9 2295.7C2156.3 2308.8 2157.8 2322.3 2158.8 2335.3C2159.7 2348.3 2160.3 2360.7 2162.5 2373.8C2164.7 2386.8 2168.4 2400.7 2171.8 2413.7C2175.2 2426.8 2179.0 2439.2 2183.0 2452.2C2187.1 2465.1 2192.0 2478.4 2196.1 2491.4C2200.1 2504.4 2206.7 2517.2 2207.3 2530.2C2207.9 2543.2 2203.5 2556.3 2199.8 2569.4C2196.1 2582.5 2189.9 2595.4 2184.9 2608.6C2179.9 2621.9 2173.4 2635.9 2170.0 2648.9C2166.5 2661.9 2166.0 2674.2 2164.4 2686.7C2162.7 2699.1 2160.8 2710.5 2159.9 2723.6C2158.9 2736.7 2158.3 2751.4 2158.8 2765.1C2159.2 2778.8 2160.9 2792.8 2162.5 2805.8C2164.0 2818.8 2165.0 2830.0 2168.1 2843.1C2171.2 2856.2 2176.8 2871.1 2181.2 2884.2C2185.5 2897.2 2192.0 2915.3 2194.2 2921.5L2194.2 2926.5 L1820.8 2926.5L1820.8 2134.3 L2207.3 2134.3Z" fill="#FFA500"/>
<path d="M2196.1 2139.3C2195.1 2142.7 2194.2 2153.3 2190.5 2159.8C2186.7 2166.4 2180.8 2171.7 2173.7 2178.5C2166.5 2185.3 2154.7 2194.4 2147.6 2200.9C2140.4 2207.4 2135.4 2208.0 2130.8 2217.3C2126.1 2226.7 2121.4 2243.8 2119.6 2256.9C2117.7 2270.0 2118.9 2282.7 2119.6 2295.7C2120.2 2308.8 2121.1 2322.3 2123.3 2335.3C2125.5 2348.3 2128.9 2360.7 2132.6 2373.8C2136.4 2386.8 2140.7 2400.7 2145.7 2413.7C2150.7 2426.8 2156.6 2439.2 2162.5 2452.2C2168.4 2465.1 2175.6 2480.4 2181.2 2491.4C2186.7 2502.4 2193.3 2511.8 2196.1 2518.3C2198.9 2524.7 2197.9 2525.9 2197.9 2530.2C2197.9 2534.6 2197.9 2537.9 2196.1 2544.4C2194.2 2550.9 2191.4 2558.7 2186.7 2569.4C2182.1 2580.1 2174.3 2595.4 2168.1 2608.6C2161.9 2621.9 2153.8 2635.9 2149.4 2648.9C2145.1 2661.9 2144.1 2674.2 2142.0 2686.7C2139.8 2699.1 2137.3 2710.5 2136.4 2723.6C2135.4 2736.7 2135.7 2751.4 2136.4 2765.1C2137.0 2778.8 2138.2 2792.8 2140.1 2805.8C2142.0 2818.8 2143.8 2830.0 2147.6 2843.1C2151.3 2856.2 2156.9 2871.1 2162.5 2884.2C2168.1 2897.2 2178.0 2915.3 2181.2 2921.5L2181.2 2926.5 L1820.8 2926.5L1820.8 2134.3 L2196.1 2134.3Z" fill="#FF5F00"/>
<path d="M1992.7 2139.3C1994.5 2145.8 1997.9 2165.5 2003.8 2178.5C2009.8 2191.5 2019.7 2204.3 2028.1 2217.3C2036.5 2230.4 2046.8 2243.8 2054.2 2256.9C2061.7 2270.0 2067.9 2282.7 2072.9 2295.7C2077.9 2308.8 2080.4 2322.3 2084.1 2335.3C2087.8 2348.3 2090.6 2360.7 2095.3 2373.8C2100.0 2386.8 2105.9 2400.7 2112.1 2413.7C2118.3 2426.8 2124.2 2439.2 2132.6 2452.2C2141.0 2465.1 2153.8 2479.4 2162.5 2491.4C2171.2 2503.3 2180.4 2517.4 2184.9 2523.9C2189.4 2530.3 2189.4 2527.7 2189.4 2530.2C2189.4 2532.7 2188.1 2532.3 2184.9 2538.8C2181.6 2545.3 2176.5 2557.8 2170.0 2569.4C2163.4 2581.1 2153.2 2595.4 2145.7 2608.6C2138.2 2621.9 2130.4 2635.9 2125.2 2648.9C2119.9 2661.9 2116.8 2674.2 2114.0 2686.7C2111.2 2699.1 2109.3 2710.5 2108.4 2723.6C2107.4 2736.7 2107.7 2751.4 2108.4 2765.1C2109.0 2778.8 2110.2 2792.8 2112.1 2805.8C2114.0 2818.8 2115.8 2830.0 2119.6 2843.1C2123.3 2856.2 2130.1 2871.1 2134.5 2884.2C2138.8 2897.2 2143.8 2915.3 2145.7 2921.5L2145.7 2926.5 L1820.8 2926.5L1820.8 2134.3 L1992.7 2134.3Z" fill="#FF1400"/>
<path d="M1946.0 2139.3C1947.5 2145.8 1951.6 2165.5 1955.3 2178.5C1959.1 2191.5 1963.7 2204.3 1968.4 2217.3C1973.1 2230.4 1977.7 2243.8 1983.3 2256.9C1988.9 2270.0 1995.8 2282.7 2002.0 2295.7C2008.2 2308.8 2013.8 2322.3 2020.6 2335.3C2027.5 2348.3 2035.3 2360.7 2043.0 2373.8C2050.8 2386.8 2058.6 2400.7 2067.3 2413.7C2076.0 2426.8 2083.8 2439.2 2095.3 2452.2C2106.8 2465.1 2123.9 2479.4 2136.4 2491.4C2148.8 2503.3 2163.4 2517.4 2170.0 2523.9C2176.5 2530.3 2175.6 2527.9 2175.6 2530.2C2175.6 2532.5 2175.2 2531.1 2170.0 2537.7C2164.7 2544.2 2153.5 2557.6 2143.8 2569.4C2134.2 2581.2 2121.1 2595.4 2112.1 2608.6C2103.1 2621.9 2095.3 2635.9 2089.7 2648.9C2084.1 2661.9 2081.2 2674.2 2078.5 2686.7C2075.8 2699.1 2074.3 2710.5 2073.6 2723.6C2073.0 2736.7 2073.6 2751.4 2074.8 2765.1C2075.9 2778.8 2078.2 2792.8 2080.4 2805.8C2082.5 2818.8 2085.0 2830.0 2087.8 2843.1C2090.6 2856.2 2095.0 2871.1 2097.2 2884.2C2099.3 2897.2 2100.3 2915.3 2100.9 2921.5L2100.9 2926.5 L1820.8 2926.5L1820.8 2134.3 L1946.0 2134.3Z" fill="#FF3232"/>
<path d="M1880.7 2139.3C1882.2 2145.8 1886.6 2165.5 1890.0 2178.5C1893.4 2191.5 1893.7 2197.8 1901.2 2217.3C1908.7 2236.9 1926.1 2276.1 1934.8 2295.7C1943.5 2315.4 1946.6 2322.3 1953.5 2335.3C1960.3 2348.3 1968.1 2360.7 1975.9 2373.8C1983.6 2386.8 1990.8 2400.7 2000.1 2413.7C2009.4 2426.8 2022.8 2442.2 2031.8 2452.2C2040.9 2462.1 2046.8 2466.9 2054.2 2473.5C2061.7 2480.0 2069.8 2485.2 2076.6 2491.4C2083.5 2497.6 2090.9 2504.3 2095.3 2510.8C2099.7 2517.3 2101.8 2524.0 2102.8 2530.2C2103.7 2536.4 2102.8 2541.6 2100.9 2548.1C2099.0 2554.7 2096.2 2562.6 2091.6 2569.4C2086.9 2576.3 2078.8 2582.7 2072.9 2589.2C2067.0 2595.7 2061.7 2598.7 2056.1 2608.6C2050.5 2618.6 2043.4 2635.9 2039.3 2648.9C2035.3 2661.9 2033.6 2674.2 2031.8 2686.7C2030.1 2699.1 2029.2 2710.5 2028.9 2723.6C2028.5 2736.7 2029.2 2751.4 2030.0 2765.1C2030.8 2778.8 2032.2 2792.8 2033.7 2805.8C2035.3 2818.8 2037.4 2830.0 2039.3 2843.1C2041.2 2856.2 2044.0 2871.1 2044.9 2884.2C2045.8 2897.2 2044.9 2915.3 2044.9 2921.5L2044.9 2926.5 L1820.8 2926.5L1820.8 2134.3 L1880.7 2134.3Z" fill="#FF8C8C"/>
<path d="M1825.8 2268.1C1827.8 2272.7 1834.2 2284.5 1837.7 2295.7C1841.3 2306.9 1844.3 2322.3 1847.1 2335.3C1849.9 2348.3 1851.7 2360.7 1854.5 2373.8C1857.3 2386.8 1861.7 2400.7 1863.9 2413.7C1866.1 2426.8 1866.7 2439.2 1867.6 2452.2C1868.5 2465.1 1867.9 2478.4 1869.5 2491.4C1871.0 2504.4 1872.3 2517.2 1876.9 2530.2C1881.6 2543.2 1890.9 2559.6 1897.5 2569.4C1904.0 2579.2 1910.5 2582.7 1916.1 2589.2C1921.7 2595.7 1926.4 2599.9 1931.1 2608.6C1935.7 2617.3 1941.0 2628.5 1944.1 2641.5C1947.2 2654.5 1948.2 2673.0 1949.7 2686.7C1951.3 2700.3 1952.2 2710.5 1953.5 2723.6C1954.7 2736.7 1955.6 2751.4 1957.2 2765.1C1958.7 2778.8 1961.2 2792.8 1962.8 2805.8C1964.3 2818.8 1966.2 2830.0 1966.5 2843.1C1966.8 2856.2 1966.2 2871.1 1964.7 2884.2C1963.1 2897.2 1958.4 2915.3 1957.2 2921.5L1957.2 2926.5 L1820.8 2926.5L1820.8 2268.1Z" fill="#FFE5E5"/>
<path d="M2039.3 2131.8C2030.9 2135.3 2043.0 2146.8 2046.8 2152.4C2050.5 2158.0 2056.7 2163.1 2061.7 2165.4C2066.7 2167.8 2072.0 2167.8 2076.6 2166.6C2081.3 2165.3 2086.3 2163.8 2089.7 2158.0C2093.1 2152.2 2105.6 2136.2 2097.2 2131.8C2088.8 2127.5 2047.7 2128.4 2039.3 2131.8Z" fill="#FFA500"/>
<path d="M2164.4 2133.7C2161.9 2135.4 2163.7 2142.3 2166.2 2144.2C2168.7 2146.0 2176.8 2146.6 2179.3 2144.9C2181.8 2143.2 2183.6 2135.6 2181.2 2133.7C2178.7 2131.8 2166.8 2132.0 2164.4 2133.7Z" fill="#FF1400"/>
<path d="M2297.6 2139.3C2298.0 2145.8 2299.5 2172.0 2299.8 2178.5L2304.7 2178.5L2304.7 2134.3 L2297.6 2134.3Z" fill="#0055FF"/>
<path d="M2299.8 2469.7C2298.1 2474.7 2292.4 2489.5 2289.4 2499.6C2286.4 2509.7 2281.9 2519.6 2281.9 2530.2C2281.9 2540.8 2286.4 2551.4 2289.4 2563.1C2292.4 2574.8 2298.1 2594.2 2299.8 2600.4L2304.7 2600.4L2304.7 2469.7Z" fill="#0055FF"/>
<path d="M2299.8 2503.3C2298.4 2507.8 2291.3 2520.9 2291.3 2530.2C2291.3 2539.5 2298.4 2554.5 2299.8 2559.3L2304.7 2559.3L2304.7 2503.3Z" fill="#0000FF"/>
<path d="M2299.8 2809.5C2298.7 2815.1 2296.1 2830.6 2293.1 2843.1C2290.1 2855.5 2284.7 2871.1 2281.9 2884.2C2279.1 2897.2 2277.3 2915.3 2276.3 2921.5L2276.3 2926.5 L2304.7 2926.5L2304.7 2809.5Z" fill="#0055FF"/>
<path d="M2299.8 2876.7C2298.7 2881.1 2295.2 2895.4 2293.1 2902.8C2291.1 2910.3 2288.5 2918.4 2287.5 2921.5L2287.5 2926.5 L2304.7 2926.5L2304.7 2876.7Z" fill="#0000FF"/>
<path d="M2285.7 2139.3C2286.3 2145.8 2287.8 2165.4 2289.4 2178.4C2291.0 2191.4 2293.4 2198.0 2295.0 2217.5C2296.6 2237.1 2298.3 2269.7 2298.7 2295.7C2299.2 2321.8 2299.8 2347.9 2297.6 2374.0C2295.4 2400.0 2288.9 2432.6 2285.7 2452.2C2282.4 2471.7 2280.4 2478.3 2278.2 2491.3C2276.0 2504.3 2272.7 2517.4 2272.6 2530.4C2272.5 2543.4 2275.6 2556.5 2277.5 2569.5C2279.3 2582.5 2282.4 2589.1 2283.8 2608.6C2285.2 2628.2 2285.7 2660.8 2285.7 2686.8C2285.7 2712.9 2285.0 2739.0 2283.8 2765.1C2282.6 2791.1 2281.3 2817.2 2278.2 2843.3C2275.1 2869.4 2267.3 2908.5 2265.1 2921.5" fill="none" stroke="#8c8c8c" stroke-opacity="0.55" stroke-width="0.9"/>
<path d="M2275.2 2139.3C2275.6 2145.8 2276.6 2165.4 2277.5 2178.4C2278.3 2191.4 2279.3 2198.0 2280.1 2217.5C2280.8 2237.1 2281.6 2269.7 2281.9 2295.7C2282.2 2321.8 2283.5 2347.9 2281.9 2374.0C2280.4 2400.0 2275.1 2432.6 2272.6 2452.2C2270.1 2471.7 2268.7 2478.3 2267.0 2491.3C2265.3 2504.3 2262.6 2517.4 2262.5 2530.4C2262.4 2543.4 2265.2 2556.5 2266.3 2569.5C2267.3 2582.5 2268.4 2589.1 2268.9 2608.6C2269.3 2628.2 2269.2 2660.8 2268.9 2686.8C2268.6 2712.9 2267.9 2739.0 2267.0 2765.1C2266.1 2791.1 2265.3 2817.2 2263.3 2843.3C2261.3 2869.4 2256.4 2908.5 2255.1 2921.5" fill="none" stroke="#c8c8c8" stroke-opacity="0.70" stroke-width="0.9"/>
<path d="M2264.4 2139.3C2264.4 2145.8 2264.3 2165.4 2264.4 2178.4C2264.5 2191.4 2265.0 2198.0 2265.1 2217.5C2265.3 2237.1 2265.1 2269.7 2265.1 2295.7C2265.1 2321.8 2266.1 2347.9 2265.1 2374.0C2264.2 2400.0 2261.1 2432.6 2259.5 2452.2C2258.0 2471.7 2257.0 2478.3 2255.8 2491.3C2254.6 2504.3 2252.2 2517.4 2252.1 2530.4C2251.9 2543.4 2254.7 2556.5 2255.1 2569.5C2255.4 2582.5 2254.4 2589.1 2253.9 2608.6C2253.4 2628.2 2252.7 2660.8 2252.1 2686.8C2251.4 2712.9 2250.8 2739.0 2250.2 2765.1C2249.6 2791.1 2249.3 2817.2 2248.3 2843.3C2247.4 2869.4 2245.2 2908.5 2244.6 2921.5" fill="none" stroke="#111" stroke-width="1.3"/>
<path d="M2252.1 2139.3C2251.8 2145.8 2250.8 2165.4 2250.2 2178.4C2249.6 2191.4 2249.1 2198.0 2248.3 2217.5C2247.5 2237.1 2245.7 2269.7 2245.4 2295.7C2245.0 2321.8 2246.6 2347.9 2246.5 2374.0C2246.3 2400.0 2245.2 2432.6 2244.6 2452.2C2244.0 2471.7 2243.2 2478.3 2242.7 2491.3C2242.2 2504.3 2241.6 2517.4 2241.6 2530.4C2241.6 2543.4 2243.2 2556.5 2242.7 2569.5C2242.3 2582.5 2240.3 2589.1 2239.0 2608.6C2237.8 2628.2 2236.2 2660.8 2235.3 2686.8C2234.3 2712.9 2233.7 2739.0 2233.4 2765.1C2233.1 2791.1 2233.1 2817.2 2233.4 2843.3C2233.7 2869.4 2235.0 2908.5 2235.3 2921.5" fill="none" stroke="#e8e8e8" stroke-opacity="0.80" stroke-width="0.9"/>
<path d="M2239.0 2139.3C2238.7 2145.8 2238.1 2165.4 2237.1 2178.4C2236.2 2191.4 2235.3 2198.0 2233.4 2217.5C2231.5 2237.1 2226.9 2269.7 2225.9 2295.7C2225.0 2321.8 2227.2 2347.9 2227.8 2374.0C2228.4 2400.0 2229.1 2432.6 2229.7 2452.2C2230.3 2471.7 2231.2 2478.3 2231.5 2491.3C2231.9 2504.3 2231.5 2517.4 2231.5 2530.4C2231.5 2543.4 2232.5 2556.5 2231.5 2569.5C2230.6 2582.5 2228.1 2589.1 2225.9 2608.6C2223.8 2628.2 2220.0 2660.8 2218.5 2686.8C2216.9 2712.9 2216.6 2739.0 2216.6 2765.1C2216.6 2791.1 2217.2 2817.2 2218.5 2843.3C2219.7 2869.4 2223.1 2908.5 2224.1 2921.5" fill="none" stroke="#e8e8e8" stroke-opacity="0.80" stroke-width="0.9"/>
<path d="M2227.8 2139.3C2227.2 2145.8 2225.6 2165.4 2224.1 2178.4C2222.5 2191.4 2221.6 2198.0 2218.5 2217.5C2215.4 2237.1 2207.3 2269.7 2205.4 2295.7C2203.5 2321.8 2205.7 2347.9 2207.3 2374.0C2208.8 2400.0 2212.9 2432.6 2214.7 2452.2C2216.6 2471.7 2217.1 2478.3 2218.5 2491.3C2219.8 2504.3 2222.6 2517.4 2223.0 2530.4C2223.3 2543.4 2222.0 2556.5 2220.3 2569.5C2218.7 2582.5 2216.0 2589.1 2212.9 2608.6C2209.8 2628.2 2203.9 2660.8 2201.7 2686.8C2199.5 2712.9 2199.5 2739.0 2199.8 2765.1C2200.1 2791.1 2201.1 2817.2 2203.5 2843.3C2206.0 2869.4 2212.9 2908.5 2214.7 2921.5" fill="none" stroke="#111" stroke-width="1.3" stroke-dasharray="82.7 53.0 279.8 53.0 99999.0"/>
<path d="M2217.7 2139.3C2216.9 2145.8 2215.6 2165.4 2212.9 2178.4C2210.2 2191.4 2206.7 2198.0 2201.7 2217.5C2196.7 2237.1 2185.5 2269.7 2183.0 2295.7C2180.5 2321.8 2183.9 2347.9 2186.7 2374.0C2189.5 2400.0 2196.4 2432.6 2199.8 2452.2C2203.2 2471.7 2204.8 2478.3 2207.3 2491.3C2209.8 2504.3 2214.2 2517.4 2214.7 2530.4C2215.2 2543.4 2212.8 2556.5 2210.3 2569.5C2207.8 2582.5 2204.4 2589.1 2199.8 2608.6C2195.3 2628.2 2186.4 2660.8 2183.0 2686.8C2179.6 2712.9 2178.7 2739.0 2179.3 2765.1C2179.9 2791.1 2182.7 2817.2 2186.7 2843.3C2190.8 2869.4 2200.7 2908.5 2203.5 2921.5" fill="none" stroke="#8c8c8c" stroke-opacity="0.55" stroke-width="0.9"/>
<path d="M2207.3 2139.3C2205.7 2145.8 2202.9 2165.5 2197.9 2178.5C2193.0 2191.5 2183.3 2204.3 2177.4 2217.3C2171.5 2230.4 2165.9 2243.8 2162.5 2256.9C2159.1 2270.0 2157.5 2282.7 2156.9 2295.7C2156.3 2308.8 2157.8 2322.3 2158.8 2335.3C2159.7 2348.3 2160.3 2360.7 2162.5 2373.8C2164.7 2386.8 2168.4 2400.7 2171.8 2413.7C2175.2 2426.8 2179.0 2439.2 2183.0 2452.2C2187.1 2465.1 2192.0 2478.4 2196.1 2491.4C2200.1 2504.4 2206.7 2517.2 2207.3 2530.2C2207.9 2543.2 2203.5 2556.3 2199.8 2569.4C2196.1 2582.5 2189.9 2595.4 2184.9 2608.6C2179.9 2621.9 2173.4 2635.9 2170.0 2648.9C2166.5 2661.9 2166.0 2674.2 2164.4 2686.7C2162.7 2699.1 2160.8 2710.5 2159.9 2723.6C2158.9 2736.7 2158.3 2751.4 2158.8 2765.1C2159.2 2778.8 2160.9 2792.8 2162.5 2805.8C2164.0 2818.8 2165.0 2830.0 2168.1 2843.1C2171.2 2856.2 2176.8 2871.1 2181.2 2884.2C2185.5 2897.2 2192.0 2915.3 2194.2 2921.5" fill="none" stroke="#8c8c8c" stroke-opacity="0.55" stroke-width="0.9"/>
<path d="M2196.1 2139.3C2195.1 2142.7 2194.2 2153.3 2190.5 2159.8C2186.7 2166.4 2180.8 2171.7 2173.7 2178.5C2166.5 2185.3 2154.7 2194.4 2147.6 2200.9C2140.4 2207.4 2135.4 2208.0 2130.8 2217.3C2126.1 2226.7 2121.4 2243.8 2119.6 2256.9C2117.7 2270.0 2118.9 2282.7 2119.6 2295.7C2120.2 2308.8 2121.1 2322.3 2123.3 2335.3C2125.5 2348.3 2128.9 2360.7 2132.6 2373.8C2136.4 2386.8 2140.7 2400.7 2145.7 2413.7C2150.7 2426.8 2156.6 2439.2 2162.5 2452.2C2168.4 2465.1 2175.6 2480.4 2181.2 2491.4C2186.7 2502.4 2193.3 2511.8 2196.1 2518.3C2198.9 2524.7 2197.9 2525.9 2197.9 2530.2C2197.9 2534.6 2197.9 2537.9 2196.1 2544.4C2194.2 2550.9 2191.4 2558.7 2186.7 2569.4C2182.1 2580.1 2174.3 2595.4 2168.1 2608.6C2161.9 2621.9 2153.8 2635.9 2149.4 2648.9C2145.1 2661.9 2144.1 2674.2 2142.0 2686.7C2139.8 2699.1 2137.3 2710.5 2136.4 2723.6C2135.4 2736.7 2135.7 2751.4 2136.4 2765.1C2137.0 2778.8 2138.2 2792.8 2140.1 2805.8C2142.0 2818.8 2143.8 2830.0 2147.6 2843.1C2151.3 2856.2 2156.9 2871.1 2162.5 2884.2C2168.1 2897.2 2178.0 2915.3 2181.2 2921.5" fill="none" stroke="#111" stroke-width="1.3" stroke-dasharray="109.0 53.0 284.5 53.0 99999.0"/>
<path d="M1992.7 2139.3C1994.5 2145.8 1997.9 2165.5 2003.8 2178.5C2009.8 2191.5 2019.7 2204.3 2028.1 2217.3C2036.5 2230.4 2046.8 2243.8 2054.2 2256.9C2061.7 2270.0 2067.9 2282.7 2072.9 2295.7C2077.9 2308.8 2080.4 2322.3 2084.1 2335.3C2087.8 2348.3 2090.6 2360.7 2095.3 2373.8C2100.0 2386.8 2105.9 2400.7 2112.1 2413.7C2118.3 2426.8 2124.2 2439.2 2132.6 2452.2C2141.0 2465.1 2153.8 2479.4 2162.5 2491.4C2171.2 2503.3 2180.4 2517.4 2184.9 2523.9C2189.4 2530.3 2189.4 2527.7 2189.4 2530.2C2189.4 2532.7 2188.1 2532.3 2184.9 2538.8C2181.6 2545.3 2176.5 2557.8 2170.0 2569.4C2163.4 2581.1 2153.2 2595.4 2145.7 2608.6C2138.2 2621.9 2130.4 2635.9 2125.2 2648.9C2119.9 2661.9 2116.8 2674.2 2114.0 2686.7C2111.2 2699.1 2109.3 2710.5 2108.4 2723.6C2107.4 2736.7 2107.7 2751.4 2108.4 2765.1C2109.0 2778.8 2110.2 2792.8 2112.1 2805.8C2114.0 2818.8 2115.8 2830.0 2119.6 2843.1C2123.3 2856.2 2130.1 2871.1 2134.5 2884.2C2138.8 2897.2 2143.8 2915.3 2145.7 2921.5" fill="none" stroke="#e8e8e8" stroke-opacity="0.80" stroke-width="0.9"/>
<path d="M1946.0 2139.3C1947.5 2145.8 1951.6 2165.5 1955.3 2178.5C1959.1 2191.5 1963.7 2204.3 1968.4 2217.3C1973.1 2230.4 1977.7 2243.8 1983.3 2256.9C1988.9 2270.0 1995.8 2282.7 2002.0 2295.7C2008.2 2308.8 2013.8 2322.3 2020.6 2335.3C2027.5 2348.3 2035.3 2360.7 2043.0 2373.8C2050.8 2386.8 2058.6 2400.7 2067.3 2413.7C2076.0 2426.8 2083.8 2439.2 2095.3 2452.2C2106.8 2465.1 2123.9 2479.4 2136.4 2491.4C2148.8 2503.3 2163.4 2517.4 2170.0 2523.9C2176.5 2530.3 2175.6 2527.9 2175.6 2530.2C2175.6 2532.5 2175.2 2531.1 2170.0 2537.7C2164.7 2544.2 2153.5 2557.6 2143.8 2569.4C2134.2 2581.2 2121.1 2595.4 2112.1 2608.6C2103.1 2621.9 2095.3 2635.9 2089.7 2648.9C2084.1 2661.9 2081.2 2674.2 2078.5 2686.7C2075.8 2699.1 2074.3 2710.5 2073.6 2723.6C2073.0 2736.7 2073.6 2751.4 2074.8 2765.1C2075.9 2778.8 2078.2 2792.8 2080.4 2805.8C2082.5 2818.8 2085.0 2830.0 2087.8 2843.1C2090.6 2856.2 2095.0 2871.1 2097.2 2884.2C2099.3 2897.2 2100.3 2915.3 2100.9 2921.5" fill="none" stroke="#c8c8c8" stroke-opacity="0.70" stroke-width="0.9"/>
<path d="M1880.7 2139.3C1882.2 2145.8 1886.6 2165.5 1890.0 2178.5C1893.4 2191.5 1893.7 2197.8 1901.2 2217.3C1908.7 2236.9 1926.1 2276.1 1934.8 2295.7C1943.5 2315.4 1946.6 2322.3 1953.5 2335.3C1960.3 2348.3 1968.1 2360.7 1975.9 2373.8C1983.6 2386.8 1990.8 2400.7 2000.1 2413.7C2009.4 2426.8 2022.8 2442.2 2031.8 2452.2C2040.9 2462.1 2046.8 2466.9 2054.2 2473.5C2061.7 2480.0 2069.8 2485.2 2076.6 2491.4C2083.5 2497.6 2090.9 2504.3 2095.3 2510.8C2099.7 2517.3 2101.8 2524.0 2102.8 2530.2C2103.7 2536.4 2102.8 2541.6 2100.9 2548.1C2099.0 2554.7 2096.2 2562.6 2091.6 2569.4C2086.9 2576.3 2078.8 2582.7 2072.9 2589.2C2067.0 2595.7 2061.7 2598.7 2056.1 2608.6C2050.5 2618.6 2043.4 2635.9 2039.3 2648.9C2035.3 2661.9 2033.6 2674.2 2031.8 2686.7C2030.1 2699.1 2029.2 2710.5 2028.9 2723.6C2028.5 2736.7 2029.2 2751.4 2030.0 2765.1C2030.8 2778.8 2032.2 2792.8 2033.7 2805.8C2035.3 2818.8 2037.4 2830.0 2039.3 2843.1C2041.2 2856.2 2044.0 2871.1 2044.9 2884.2C2045.8 2897.2 2044.9 2915.3 2044.9 2921.5" fill="none" stroke="#111" stroke-width="1.3" stroke-dasharray="80.9 53.0 335.6 53.0 99999.0"/>
<path d="M1825.8 2268.1C1827.8 2272.7 1834.2 2284.5 1837.7 2295.7C1841.3 2306.9 1844.3 2322.3 1847.1 2335.3C1849.9 2348.3 1851.7 2360.7 1854.5 2373.8C1857.3 2386.8 1861.7 2400.7 1863.9 2413.7C1866.1 2426.8 1866.7 2439.2 1867.6 2452.2C1868.5 2465.1 1867.9 2478.4 1869.5 2491.4C1871.0 2504.4 1872.3 2517.2 1876.9 2530.2C1881.6 2543.2 1890.9 2559.6 1897.5 2569.4C1904.0 2579.2 1910.5 2582.7 1916.1 2589.2C1921.7 2595.7 1926.4 2599.9 1931.1 2608.6C1935.7 2617.3 1941.0 2628.5 1944.1 2641.5C1947.2 2654.5 1948.2 2673.0 1949.7 2686.7C1951.3 2700.3 1952.2 2710.5 1953.5 2723.6C1954.7 2736.7 1955.6 2751.4 1957.2 2765.1C1958.7 2778.8 1961.2 2792.8 1962.8 2805.8C1964.3 2818.8 1966.2 2830.0 1966.5 2843.1C1966.8 2856.2 1966.2 2871.1 1964.7 2884.2C1963.1 2897.2 1958.4 2915.3 1957.2 2921.5" fill="none" stroke="#8c8c8c" stroke-opacity="0.55" stroke-width="0.9"/>
<path d="M2039.3 2131.8C2030.9 2135.3 2043.0 2146.8 2046.8 2152.4C2050.5 2158.0 2056.7 2163.1 2061.7 2165.4C2066.7 2167.8 2072.0 2167.8 2076.6 2166.6C2081.3 2165.3 2086.3 2163.8 2089.7 2158.0C2093.1 2152.2 2105.6 2136.2 2097.2 2131.8C2088.8 2127.5 2047.7 2128.4 2039.3 2131.8Z" fill="none" stroke="#111" stroke-width="1.3"/>
<path d="M2164.4 2133.7C2161.9 2135.4 2163.7 2142.3 2166.2 2144.2C2168.7 2146.0 2176.8 2146.6 2179.3 2144.9C2181.8 2143.2 2183.6 2135.6 2181.2 2133.7C2178.7 2131.8 2166.8 2132.0 2164.4 2133.7Z" fill="none" stroke="#e8e8e8" stroke-opacity="0.80" stroke-width="0.9"/>
<path d="M2297.6 2139.3C2298.0 2145.8 2299.5 2172.0 2299.8 2178.5" fill="none" stroke="#111" stroke-width="1.3"/>
<path d="M2299.8 2469.7C2298.1 2474.7 2292.4 2489.5 2289.4 2499.6C2286.4 2509.7 2281.9 2519.6 2281.9 2530.2C2281.9 2540.8 2286.4 2551.4 2289.4 2563.1C2292.4 2574.8 2298.1 2594.2 2299.8 2600.4" fill="none" stroke="#111" stroke-width="1.3"/>
<path d="M2299.8 2503.3C2298.4 2507.8 2291.3 2520.9 2291.3 2530.2C2291.3 2539.5 2298.4 2554.5 2299.8 2559.3" fill="none" stroke="#e8e8e8" stroke-opacity="0.80" stroke-width="0.9"/>
<path d="M2299.8 2809.5C2298.7 2815.1 2296.1 2830.6 2293.1 2843.1C2290.1 2855.5 2284.7 2871.1 2281.9 2884.2C2279.1 2897.2 2277.3 2915.3 2276.3 2921.5" fill="none" stroke="#111" stroke-width="1.3"/>
<path d="M2299.8 2876.7C2298.7 2881.1 2295.2 2895.4 2293.1 2902.8C2291.1 2910.3 2288.5 2918.4 2287.5 2921.5" fill="none" stroke="#e8e8e8" stroke-opacity="0.80" stroke-width="0.9"/>
<text transform="translate(1912.4 2242.0) rotate(65.0)" font-size="43" text-anchor="middle" y="14.2" fill="#111">33</text>
<text transform="translate(2125.2 2247.6) rotate(-82.0)" font-size="43" text-anchor="middle" y="14.2" fill="#111">30</text>
<text transform="translate(2214.7 2247.6) rotate(-75.0)" font-size="43" text-anchor="middle" y="14.2" fill="#111">27</text>
<text transform="translate(2086.0 2561.2) rotate(-65.0)" font-size="43" text-anchor="middle" y="14.2" fill="#111">33</text>
<text transform="translate(2186.7 2566.8) rotate(-65.0)" font-size="43" text-anchor="middle" y="14.2" fill="#111">30</text>
<text transform="translate(2220.3 2579.9) rotate(-70.0)" font-size="43" text-anchor="middle" y="14.2" fill="#111">27</text>
</g>
<rect x="1825.8" y="2139.3" width="473.9" height="782.2" fill="none" stroke="#7a7a7a" stroke-width="2"/>
<path d="M1865.3 2139.3v-10.0M1865.3 2921.5v10.0M1944.3 2139.3v-10.0M1944.3 2921.5v10.0M2023.3 2139.3v-10.0M2023.3 2921.5v10.0M2102.2 2139.3v-10.0M2102.2 2921.5v10.0M2181.2 2139.3v-10.0M2181.2 2921.5v10.0M2260.2 2139.3v-10.0M2260.2 2921.5v10.0M1825.8 2139.3h-10.0M2299.7 2139.3h10.0M1825.8 2217.5h-10.0M2299.7 2217.5h10.0M1825.8 2295.7h-10.0M2299.7 2295.7h10.0M1825.8 2374.0h-10.0M2299.7 2374.0h10.0M1825.8 2452.2h-10.0M2299.7 2452.2h10.0M1825.8 2530.4h-10.0M2299.7 2530.4h10.0M1825.8 2608.6h-10.0M2299.7 2608.6h10.0M1825.8 2686.8h-10.0M2299.7 2686.8h10.0M1825.8 2765.1h-10.0M2299.7 2765.1h10.0M1825.8 2843.3h-10.0M2299.7 2843.3h10.0M1825.8 2921.5h-10.0M2299.7 2921.5h10.0" stroke="#7a7a7a" stroke-width="2" fill="none"/>
<text fill="#1c1c1c" transform="translate(1865.3 2973.5) scale(1.060 1)" font-size="42" text-anchor="middle">4</text>
<text fill="#1c1c1c" transform="translate(1944.3 2973.5) scale(1.060 1)" font-size="42" text-anchor="middle">6</text>
<text fill="#1c1c1c" transform="translate(2023.3 2973.5) scale(1.060 1)" font-size="42" text-anchor="middle">8</text>
<text fill="#1c1c1c" transform="translate(2102.2 2973.5) scale(1.060 1)" font-size="42" text-anchor="middle">10</text>
<text fill="#1c1c1c" transform="translate(2181.2 2973.5) scale(1.060 1)" font-size="42" text-anchor="middle">12</text>
<text fill="#1c1c1c" transform="translate(2260.2 2973.5) scale(1.060 1)" font-size="42" text-anchor="middle">14</text>
<text fill="#1c1c1c" transform="translate(1813.8 2153.3) scale(1.060 1)" font-size="42" text-anchor="end">0</text>
<text fill="#1c1c1c" transform="translate(1813.8 2231.5) scale(1.060 1)" font-size="42" text-anchor="end">-2</text>
<text fill="#1c1c1c" transform="translate(1813.8 2309.7) scale(1.060 1)" font-size="42" text-anchor="end">-4</text>
<text fill="#1c1c1c" transform="translate(1813.8 2388.0) scale(1.060 1)" font-size="42" text-anchor="end">-6</text>
<text fill="#1c1c1c" transform="translate(1813.8 2466.2) scale(1.060 1)" font-size="42" text-anchor="end">-8</text>
<text fill="#1c1c1c" transform="translate(1813.8 2544.4) scale(1.060 1)" font-size="42" text-anchor="end">-10</text>
<text fill="#1c1c1c" transform="translate(1813.8 2622.6) scale(1.060 1)" font-size="42" text-anchor="end">-12</text>
<text fill="#1c1c1c" transform="translate(1813.8 2700.8) scale(1.060 1)" font-size="42" text-anchor="end">-14</text>
<text fill="#1c1c1c" transform="translate(1813.8 2779.1) scale(1.060 1)" font-size="42" text-anchor="end">-16</text>
<text fill="#1c1c1c" transform="translate(1813.8 2857.3) scale(1.060 1)" font-size="42" text-anchor="end">-18</text>
<text fill="#1c1c1c" transform="translate(1813.8 2935.5) scale(1.060 1)" font-size="42" text-anchor="end">-20</text>
<text fill="#1c1c1c" transform="translate(2062.8 3032.5) scale(1.060 1)" font-size="43" text-anchor="middle">Horizontal distance/cm</text>
<text fill="#1c1c1c" transform="translate(1733.8 2527.9) rotate(-90) scale(1.060 1)" font-size="43" text-anchor="middle">Vertical distance/cm</text>
<text transform="translate(2076.7 3104.8) scale(1.04 1)" font-size="59" text-anchor="middle" fill="#000">360 s</text>
<rect x="2373.6" y="2773.50" width="34.0" height="29.30" fill="#00007A"/>
<rect x="2373.6" y="2744.50" width="34.0" height="29.30" fill="#0000FF"/>
<rect x="2373.6" y="2715.50" width="34.0" height="29.30" fill="#0055FF"/>
<rect x="2373.6" y="2686.50" width="34.0" height="29.30" fill="#00BFFF"/>
<rect x="2373.6" y="2657.50" width="34.0" height="29.30" fill="#00F5E6"/>
<rect x="2373.6" y="2628.50" width="34.0" height="29.30" fill="#00DDB0"/>
<rect x="2373.6" y="2599.50" width="34.0" height="29.30" fill="#00C870"/>
<rect x="2373.6" y="2570.50" width="34.0" height="29.30" fill="#00B020"/>
<rect x="2373.6" y="2541.50" width="34.0" height="29.30" fill="#00A800"/>
<rect x="2373.6" y="2512.50" width="34.0" height="29.30" fill="#90E000"/>
<rect x="2373.6" y="2483.50" width="34.0" height="29.30" fill="#FFE500"/>
<rect x="2373.6" y="2454.50" width="34.0" height="29.30" fill="#FFA500"/>
<rect x="2373.6" y="2425.50" width="34.0" height="29.30" fill="#FF5F00"/>
<rect x="2373.6" y="2396.50" width="34.0" height="29.30" fill="#FF1400"/>
<rect x="2373.6" y="2367.50" width="34.0" height="29.30" fill="#FF3232"/>
<rect x="2373.6" y="2338.50" width="34.0" height="29.30" fill="#FF8C8C"/>
<rect x="2373.6" y="2309.50" width="34.0" height="29.30" fill="#FFE5E5"/>
<rect x="2373.6" y="2280.50" width="34.0" height="29.30" fill="#FFFFFF"/>
<path d="M2373.6 2773.5h34.0M2373.6 2744.5h34.0M2373.6 2715.5h34.0M2373.6 2686.5h34.0M2373.6 2657.5h34.0M2373.6 2628.5h34.0M2373.6 2599.5h34.0M2373.6 2570.5h34.0M2373.6 2541.5h34.0M2373.6 2512.5h34.0M2373.6 2483.5h34.0M2373.6 2454.5h34.0M2373.6 2425.5h34.0M2373.6 2396.5h34.0M2373.6 2367.5h34.0M2373.6 2338.5h34.0M2373.6 2309.5h34.0" stroke="#333" stroke-opacity="0.6" stroke-width="1.2" fill="none"/>
<rect x="2373.6" y="2280.5" width="34.0" height="522.0" fill="none" stroke="#666" stroke-width="1.6"/>
<text fill="#1c1c1c" transform="translate(2420.6 2816.0) scale(1.060 1)" font-size="42">18</text>
<text fill="#1c1c1c" transform="translate(2420.6 2758.0) scale(1.060 1)" font-size="42">20</text>
<text fill="#1c1c1c" transform="translate(2420.6 2700.0) scale(1.060 1)" font-size="42">22</text>
<text fill="#1c1c1c" transform="translate(2420.6 2642.0) scale(1.060 1)" font-size="42">24</text>
<text fill="#1c1c1c" transform="translate(2420.6 2584.0) scale(1.060 1)" font-size="42">26</text>
<text fill="#1c1c1c" transform="translate(2420.6 2526.0) scale(1.060 1)" font-size="42">28</text>
<text fill="#1c1c1c" transform="translate(2420.6 2468.0) scale(1.060 1)" font-size="42">30</text>
<text fill="#1c1c1c" transform="translate(2420.6 2410.0) scale(1.060 1)" font-size="42">32</text>
<text fill="#1c1c1c" transform="translate(2420.6 2352.0) scale(1.060 1)" font-size="42">34</text>
<clipPath id="c10"><rect x="139.6" y="3250.8" width="450.5" height="750.4"/></clipPath>
<g clip-path="url(#c10)">
<rect x="138.6" y="3249.8" width="452.5" height="752.4" fill="#000008"/>
<path d="M542.9 3250.8C542.9 3263.3 541.8 3300.8 542.9 3325.8C543.9 3350.9 546.9 3375.9 549.3 3400.9C551.7 3425.9 555.2 3450.9 557.1 3475.9C559.0 3500.9 560.1 3525.9 560.7 3551.0C561.3 3576.0 561.3 3601.0 560.7 3626.0C560.1 3651.0 558.6 3676.0 557.1 3701.0C555.6 3726.1 554.4 3751.1 551.8 3776.1C549.1 3801.1 545.2 3826.1 541.1 3851.1C536.9 3876.1 531.3 3901.1 526.8 3926.2C522.3 3951.2 516.4 3988.7 514.3 4001.2L514.3 4006.2 L134.6 4006.2L134.6 3245.8 L542.9 3245.8Z" fill="#000040"/>
<path d="M496.5 3250.8C495.9 3258.1 493.5 3282.3 492.9 3294.9C492.3 3307.4 491.1 3308.3 492.9 3326.0C494.7 3343.7 500.6 3381.0 503.6 3400.9C506.6 3420.8 509.1 3432.8 510.7 3445.3C512.4 3457.8 512.7 3464.2 513.6 3476.1C514.5 3488.0 515.3 3504.5 516.1 3516.9C516.9 3529.4 517.4 3539.0 518.6 3551.0C519.8 3562.9 522.3 3576.0 523.2 3588.6C524.2 3601.1 524.9 3607.4 524.3 3626.2C523.7 3644.9 522.5 3682.2 519.7 3701.0C516.8 3719.8 510.4 3726.5 507.2 3739.0C503.9 3751.5 503.0 3762.5 500.0 3776.3C497.1 3790.0 492.0 3808.9 489.3 3821.4C486.6 3833.9 486.3 3839.2 484.0 3851.1C481.6 3863.1 477.1 3880.5 475.0 3893.0C473.0 3905.6 473.0 3914.4 471.5 3926.3C470.0 3938.3 467.6 3952.2 466.1 3964.7C464.6 3977.1 463.2 3995.1 462.6 4001.2L462.6 4006.2 L134.6 4006.2L134.6 3245.8 L496.5 3245.8Z" fill="#000080"/>
<path d="M448.3 3250.8C448.3 3263.3 447.1 3301.0 448.3 3326.0C449.5 3351.0 452.7 3375.9 455.4 3400.9C458.1 3425.9 461.4 3451.1 464.3 3476.1C467.3 3501.1 470.0 3532.2 473.3 3551.0C476.5 3569.7 480.7 3577.5 484.0 3588.6C487.2 3599.6 491.1 3611.0 492.9 3617.2C494.7 3623.5 494.7 3623.2 494.7 3626.2C494.7 3629.2 494.7 3629.5 492.9 3635.1C491.1 3640.8 487.5 3649.2 484.0 3660.2C480.4 3671.2 475.9 3681.7 471.5 3701.0C467.0 3720.4 462.0 3751.2 457.2 3776.3C452.4 3801.3 447.4 3826.1 442.9 3851.1C438.5 3876.1 433.7 3901.3 430.4 3926.3C427.2 3951.4 424.5 3988.7 423.3 4001.2L423.3 4006.2 L134.6 4006.2L134.6 3245.8 L448.3 3245.8Z" fill="#0000BB"/>
<path d="M394.8 3250.8C396.2 3263.3 399.5 3301.0 403.7 3326.0C407.8 3351.0 415.9 3375.9 419.7 3400.9C423.6 3425.9 425.7 3451.1 426.9 3476.1C428.1 3501.1 426.9 3525.9 426.9 3551.0C426.9 3576.0 427.5 3608.0 426.9 3626.2C426.3 3644.4 424.8 3647.7 423.3 3660.2C421.8 3672.7 420.0 3681.7 418.0 3701.0C415.9 3720.4 414.4 3751.2 410.8 3776.3C407.2 3801.3 401.0 3826.1 396.5 3851.1C392.1 3876.1 386.4 3907.4 384.0 3926.3C381.7 3945.3 382.3 3952.2 382.3 3964.7C382.3 3977.1 383.8 3995.1 384.0 4001.2L384.0 4006.2 L134.6 4006.2L134.6 3245.8 L394.8 3245.8Z" fill="#0000FF"/>
<path d="M351.9 3250.8C353.1 3258.1 356.1 3282.3 359.1 3294.9C362.0 3307.4 364.1 3306.9 369.8 3326.0C375.4 3345.1 388.5 3389.6 393.0 3409.5C397.4 3429.4 396.1 3434.2 396.5 3445.3C397.0 3456.4 396.7 3464.2 395.8 3476.1C394.9 3488.0 392.9 3504.5 391.2 3516.9C389.5 3529.4 388.5 3540.2 385.8 3551.0C383.2 3561.7 379.0 3572.2 375.1 3581.4C371.3 3590.7 365.4 3599.0 362.6 3606.5C359.8 3613.9 358.4 3619.0 358.4 3626.2C358.4 3633.3 360.4 3635.4 362.6 3649.5C364.8 3663.5 369.2 3691.8 371.6 3710.4C373.9 3728.9 376.3 3749.5 376.9 3760.5C377.5 3771.5 376.9 3766.1 375.1 3776.3C373.3 3786.4 369.5 3808.9 366.2 3821.4C362.9 3833.9 359.4 3839.2 355.5 3851.1C351.6 3863.1 347.5 3880.5 343.0 3893.0C338.5 3905.6 334.7 3916.8 328.7 3926.3C322.8 3935.9 315.7 3943.9 307.3 3950.3C299.0 3956.7 287.7 3958.7 278.8 3964.7C269.9 3970.6 259.4 3980.1 253.8 3986.2C248.1 3992.2 246.4 3998.7 244.9 4001.2L244.9 4006.2 L134.6 4006.2L134.6 3245.8 L351.9 3245.8Z" fill="#0030FF"/>
<path d="M321.6 3250.8C323.1 3258.1 326.4 3282.3 330.5 3294.9C334.7 3307.4 342.1 3312.9 346.6 3326.0C351.0 3339.2 354.6 3361.2 357.3 3373.7C360.0 3386.1 361.2 3388.9 362.6 3400.9C364.1 3412.8 365.6 3432.8 366.2 3445.3C366.8 3457.8 367.1 3464.2 366.2 3476.1C365.3 3488.0 363.2 3504.5 360.9 3516.9C358.5 3529.4 355.5 3539.0 351.9 3551.0C348.4 3562.9 342.6 3576.0 339.4 3588.6C336.3 3601.1 333.3 3614.2 333.0 3626.2C332.7 3638.1 335.7 3647.7 337.7 3660.2C339.6 3672.7 343.3 3687.9 344.8 3701.0C346.3 3714.2 346.9 3726.5 346.6 3739.0C346.3 3751.5 345.7 3762.5 343.0 3776.3C340.3 3790.0 335.0 3808.9 330.5 3821.4C326.1 3833.9 322.5 3839.2 316.2 3851.1C310.0 3863.1 301.1 3880.5 293.0 3893.0C285.0 3905.6 276.4 3915.0 268.1 3926.3C259.7 3937.7 249.6 3948.6 243.1 3961.1C236.5 3973.6 231.2 3994.5 228.8 4001.2L228.8 4006.2 L134.6 4006.2L134.6 3245.8 L321.6 3245.8Z" fill="#0060FF"/>
<path d="M289.5 3250.8C291.3 3258.1 295.4 3282.3 300.2 3294.9C304.9 3307.4 313.3 3312.9 318.0 3326.0C322.8 3339.2 326.1 3361.2 328.7 3373.7C331.4 3386.1 332.6 3388.9 334.1 3400.9C335.6 3412.8 337.4 3432.8 337.7 3445.3C338.0 3457.8 337.1 3464.2 335.9 3476.1C334.7 3488.0 332.9 3504.5 330.5 3516.9C328.1 3529.4 324.9 3539.0 321.6 3551.0C318.3 3562.9 313.2 3576.0 310.9 3588.6C308.6 3601.1 307.4 3614.2 308.0 3626.2C308.6 3638.1 312.5 3647.7 314.5 3660.2C316.4 3672.7 319.2 3687.9 319.8 3701.0C320.4 3714.2 319.2 3726.5 318.0 3739.0C316.8 3751.5 315.7 3762.5 312.7 3776.3C309.7 3790.0 304.9 3808.9 300.2 3821.4C295.4 3833.9 290.7 3839.2 284.1 3851.1C277.6 3863.1 268.4 3880.5 260.9 3893.0C253.5 3905.6 246.1 3915.0 239.5 3926.3C233.0 3937.7 226.1 3948.6 221.7 3961.1C217.2 3973.6 214.2 3994.5 212.8 4001.2L212.8 4006.2 L134.6 4006.2L134.6 3245.8 L289.5 3245.8Z" fill="#0090FF"/>
<path d="M259.1 3250.8C261.2 3256.4 266.6 3271.6 271.6 3284.1C276.7 3296.6 282.9 3306.6 289.5 3326.0C296.0 3345.5 306.4 3381.0 310.9 3400.9C315.4 3420.8 315.4 3432.8 316.2 3445.3C317.1 3457.8 316.8 3464.2 316.2 3476.1C315.7 3488.0 314.8 3504.5 312.7 3516.9C310.6 3529.4 307.3 3539.0 303.8 3551.0C300.2 3562.9 294.8 3577.5 291.3 3588.6C287.7 3599.6 283.7 3609.5 282.3 3617.2C281.0 3625.0 281.3 3621.2 283.1 3635.1C284.8 3649.1 290.9 3683.7 293.0 3701.0C295.2 3718.4 296.5 3726.5 295.9 3739.0C295.3 3751.5 292.6 3762.5 289.5 3776.3C286.3 3790.0 281.7 3808.9 277.0 3821.4C272.2 3833.9 267.2 3839.2 260.9 3851.1C254.7 3863.1 246.7 3880.5 239.5 3893.0C232.4 3905.6 224.1 3915.0 218.1 3926.3C212.2 3937.7 207.4 3948.6 203.8 3961.1C200.3 3973.6 197.9 3994.5 196.7 4001.2L196.7 4006.2 L134.6 4006.2L134.6 3245.8 L259.1 3245.8Z" fill="#00B8FF"/>
<path d="M246.7 3250.8C248.7 3258.1 255.0 3282.3 259.1 3294.9C263.3 3307.4 267.2 3312.9 271.6 3326.0C276.1 3339.2 282.6 3361.2 285.9 3373.7C289.2 3386.1 289.8 3388.9 291.3 3400.9C292.8 3412.8 294.2 3432.8 294.8 3445.3C295.4 3457.8 295.7 3464.2 294.8 3476.1C293.9 3488.0 292.2 3504.5 289.5 3516.9C286.8 3529.4 282.9 3539.0 278.8 3551.0C274.6 3562.9 267.8 3576.0 264.5 3588.6C261.2 3601.1 258.9 3614.2 259.1 3626.2C259.4 3638.1 264.2 3647.7 266.3 3660.2C268.4 3672.7 270.7 3687.9 271.6 3701.0C272.5 3714.2 272.5 3726.5 271.6 3739.0C270.7 3751.5 269.3 3762.5 266.3 3776.3C263.3 3790.0 258.6 3808.9 253.8 3821.4C249.0 3833.9 244.3 3839.2 237.7 3851.1C231.2 3863.1 221.7 3880.5 214.5 3893.0C207.4 3905.6 200.3 3915.0 194.9 3926.3C189.6 3937.7 185.4 3948.6 182.4 3961.1C179.4 3973.6 178.0 3994.5 177.1 4001.2L177.1 4006.2 L134.6 4006.2L134.6 3245.8 L246.7 3245.8Z" fill="#00E8FF"/>
<path d="M234.2 3250.8C236.0 3258.1 241.0 3282.3 244.9 3294.9C248.7 3307.4 253.5 3312.9 257.4 3326.0C261.2 3339.2 265.1 3361.2 268.1 3373.7C271.0 3386.1 273.4 3388.9 275.2 3400.9C277.0 3412.8 278.5 3432.8 278.8 3445.3C279.1 3457.8 278.2 3464.2 277.0 3476.1C275.8 3488.0 274.3 3504.5 271.6 3516.9C269.0 3529.4 264.8 3539.0 260.9 3551.0C257.1 3562.9 251.1 3576.0 248.4 3588.6C245.8 3601.1 244.6 3614.2 244.9 3626.2C245.2 3638.1 248.7 3647.7 250.2 3660.2C251.7 3672.7 253.8 3687.9 253.8 3701.0C253.8 3714.2 252.0 3726.5 250.2 3739.0C248.4 3751.5 246.4 3762.5 243.1 3776.3C239.8 3790.0 235.4 3808.9 230.6 3821.4C225.8 3833.9 220.8 3839.2 214.5 3851.1C208.3 3863.1 199.7 3880.5 193.1 3893.0C186.6 3905.6 180.0 3915.0 175.3 3926.3C170.5 3937.7 167.3 3948.6 164.6 3961.1C161.9 3973.6 160.1 3994.5 159.2 4001.2L159.2 4006.2 L134.6 4006.2L134.6 3245.8 L234.2 3245.8Z" fill="#00FFEE"/>
<path d="M221.7 3250.8C222.9 3258.1 226.1 3282.3 228.8 3294.9C231.5 3307.4 233.0 3305.1 237.7 3326.0C242.5 3346.9 253.5 3400.3 257.4 3420.2C261.2 3440.1 260.3 3436.0 260.9 3445.3C261.5 3454.6 261.8 3464.2 260.9 3476.1C260.0 3488.0 258.0 3504.5 255.6 3516.9C253.2 3529.4 249.6 3539.0 246.7 3551.0C243.7 3562.9 239.8 3576.0 237.7 3588.6C235.7 3601.1 234.2 3614.2 234.2 3626.2C234.2 3638.1 237.4 3648.6 237.7 3660.2C238.0 3671.8 237.4 3678.1 236.0 3696.0C234.5 3713.9 231.2 3750.9 228.8 3767.7C226.4 3784.4 225.2 3785.6 221.7 3796.3C218.1 3807.1 212.5 3820.2 207.4 3832.1C202.3 3844.1 197.3 3856.0 191.3 3868.0C185.4 3879.9 177.1 3894.0 171.7 3903.8C166.4 3913.5 162.8 3916.8 159.2 3926.3C155.7 3935.9 152.4 3948.6 150.3 3961.1C148.2 3973.6 147.3 3994.5 146.7 4001.2L146.7 4006.2 L134.6 4006.2L134.6 3245.8 L221.7 3245.8Z" fill="#00EECC"/>
<path d="M211.0 3250.8C212.2 3258.1 215.7 3282.3 218.1 3294.9C220.5 3307.4 222.6 3312.9 225.2 3326.0C227.9 3339.2 231.8 3361.2 234.2 3373.7C236.5 3386.1 238.0 3388.9 239.5 3400.9C241.0 3412.8 242.8 3432.8 243.1 3445.3C243.4 3457.8 242.5 3464.2 241.3 3476.1C240.1 3488.0 238.3 3504.5 236.0 3516.9C233.6 3529.4 230.0 3539.0 227.0 3551.0C224.1 3562.9 220.2 3576.0 218.1 3588.6C216.0 3601.1 214.2 3614.2 214.5 3626.2C214.8 3638.1 218.7 3647.7 219.9 3660.2C221.1 3672.7 222.6 3687.9 221.7 3701.0C220.8 3714.2 217.5 3726.5 214.5 3739.0C211.6 3751.5 208.6 3762.5 203.8 3776.3C199.1 3790.0 191.3 3808.9 186.0 3821.4C180.6 3833.9 177.1 3839.2 171.7 3851.1C166.4 3863.1 158.6 3880.5 153.9 3893.0C149.1 3905.6 145.5 3917.4 143.2 3926.3C140.8 3935.3 140.2 3943.4 139.6 3946.8L134.6 3946.8L134.6 3245.8 L211.0 3245.8Z" fill="#00DDAA"/>
<path d="M198.5 3250.8C199.7 3258.1 203.5 3282.3 205.6 3294.9C207.7 3307.4 208.6 3312.9 211.0 3326.0C213.4 3339.2 217.5 3361.2 219.9 3373.7C222.3 3386.1 223.8 3388.9 225.2 3400.9C226.7 3412.8 228.5 3432.8 228.8 3445.3C229.1 3457.8 228.2 3464.2 227.0 3476.1C225.8 3488.0 224.1 3504.5 221.7 3516.9C219.3 3529.4 215.7 3539.0 212.8 3551.0C209.8 3562.9 205.9 3576.0 203.8 3588.6C201.8 3601.1 200.3 3614.2 200.3 3626.2C200.3 3638.1 203.5 3647.7 203.8 3660.2C204.1 3672.7 204.1 3687.9 202.1 3701.0C200.0 3714.2 195.2 3726.5 191.3 3739.0C187.5 3751.5 183.9 3762.5 178.9 3776.3C173.8 3790.0 166.4 3808.9 161.0 3821.4C155.7 3833.9 150.3 3842.8 146.7 3851.1C143.2 3859.5 140.8 3868.1 139.6 3871.5L134.6 3871.5L134.6 3245.8 L198.5 3245.8Z" fill="#00D090"/>
<path d="M186.0 3250.8C186.6 3258.1 188.1 3282.3 189.6 3294.9C191.0 3307.4 192.8 3312.9 194.9 3326.0C197.0 3339.2 200.3 3361.2 202.1 3373.7C203.8 3386.1 204.1 3386.0 205.6 3400.9C207.1 3415.8 209.5 3444.5 211.0 3463.2C212.5 3481.9 213.9 3498.7 214.5 3513.4C215.1 3528.0 215.4 3538.4 214.5 3551.0C213.6 3563.5 210.5 3576.0 209.2 3588.6C207.9 3601.1 207.0 3614.2 206.7 3626.2C206.4 3638.1 208.5 3649.8 207.4 3660.2C206.3 3670.7 203.8 3676.9 200.3 3688.9C196.7 3700.8 190.7 3718.7 186.0 3731.8C181.2 3745.0 177.1 3755.7 171.7 3767.7C166.4 3779.6 159.2 3792.7 153.9 3803.5C148.5 3814.2 142.0 3827.4 139.6 3832.1L134.6 3832.1L134.6 3245.8 L186.0 3245.8Z" fill="#00C470"/>
<path d="M175.3 3250.8C175.6 3258.1 176.2 3282.3 177.1 3294.9C178.0 3307.4 179.2 3312.9 180.6 3326.0C182.1 3339.2 184.2 3361.2 186.0 3373.7C187.8 3386.1 189.6 3388.9 191.3 3400.9C193.1 3412.8 195.2 3432.8 196.7 3445.3C198.2 3457.8 199.4 3464.2 200.3 3476.1C201.2 3488.0 202.1 3504.5 202.1 3516.9C202.1 3529.4 201.2 3539.0 200.3 3551.0C199.4 3562.9 197.6 3576.0 196.7 3588.6C195.8 3601.1 195.5 3614.2 194.9 3626.2C194.3 3638.1 194.9 3649.8 193.1 3660.2C191.3 3670.7 188.4 3676.9 184.2 3688.9C180.0 3700.8 173.2 3719.9 168.1 3731.8C163.1 3743.8 158.6 3752.1 153.9 3760.5C149.1 3768.9 142.0 3778.4 139.6 3782.0L134.6 3782.0L134.6 3245.8 L175.3 3245.8Z" fill="#00B850"/>
<path d="M162.8 3250.8C162.8 3258.1 162.5 3282.3 162.8 3294.9C163.1 3307.4 163.4 3312.9 164.6 3326.0C165.8 3339.2 168.1 3361.2 169.9 3373.7C171.7 3386.1 173.2 3388.9 175.3 3400.9C177.4 3412.8 180.3 3432.8 182.4 3445.3C184.5 3457.8 186.3 3464.2 187.8 3476.1C189.3 3488.0 190.7 3504.5 191.3 3516.9C191.9 3529.4 191.9 3539.0 191.3 3551.0C190.7 3562.9 188.8 3576.0 187.8 3588.6C186.8 3601.1 186.5 3614.2 185.3 3626.2C184.1 3638.1 183.5 3649.2 180.6 3660.2C177.8 3671.3 172.6 3681.1 168.1 3692.4C163.7 3703.8 158.6 3718.1 153.9 3728.3C149.1 3738.4 142.0 3749.2 139.6 3753.3L134.6 3753.3L134.6 3245.8 L162.8 3245.8Z" fill="#00AE30"/>
<path d="M150.3 3250.8C149.4 3256.4 146.4 3271.6 145.0 3284.1C143.5 3296.6 142.2 3314.1 141.4 3326.0C140.6 3338.0 139.7 3343.3 140.3 3355.7C140.9 3368.2 142.7 3386.0 145.0 3400.9C147.2 3415.8 150.9 3432.8 153.9 3445.3C156.8 3457.8 159.8 3464.2 162.8 3476.1C165.8 3488.0 169.0 3504.5 171.7 3516.9C174.4 3529.4 177.0 3539.0 178.9 3551.0C180.8 3562.9 182.4 3576.0 183.1 3588.6C183.9 3601.1 184.1 3614.2 183.1 3626.2C182.1 3638.1 180.5 3649.2 177.1 3660.2C173.7 3671.3 167.3 3683.5 162.8 3692.4C158.3 3701.4 154.2 3707.4 150.3 3713.9C146.4 3720.5 141.4 3728.9 139.6 3731.8L134.6 3731.8L134.6 3245.8 L150.3 3245.8Z" fill="#00A410"/>
<path d="M139.6 3384.4C140.8 3392.2 144.4 3415.7 146.7 3431.0C149.1 3446.3 150.3 3458.8 153.9 3476.1C157.4 3493.4 164.6 3516.1 168.1 3534.8C171.7 3553.6 174.0 3573.3 175.3 3588.6C176.6 3603.8 176.9 3614.2 176.0 3626.2C175.1 3638.1 173.6 3649.8 169.9 3660.2C166.2 3670.7 158.9 3681.7 153.9 3688.9C148.8 3696.0 142.0 3700.8 139.6 3703.2L134.6 3703.2L134.6 3384.4Z" fill="#00A000"/>
<path d="M139.6 3491.9C142.0 3499.6 149.7 3522.3 153.9 3538.4C158.0 3554.5 162.5 3573.9 164.6 3588.6C166.7 3603.2 167.0 3614.8 166.4 3626.2C165.8 3637.5 164.3 3648.0 161.0 3656.6C157.7 3665.3 150.3 3673.3 146.7 3678.1C143.2 3682.9 140.8 3684.1 139.6 3685.3L134.6 3685.3L134.6 3491.9Z" fill="#00C800"/>
<path d="M139.6 3574.2C141.1 3577.2 145.8 3583.5 148.5 3592.2C151.2 3600.8 155.4 3616.6 155.7 3626.2C156.0 3635.7 153.0 3643.2 150.3 3649.5C147.6 3655.7 141.4 3661.4 139.6 3663.8L134.6 3663.8L134.6 3574.2Z" fill="#90DD00"/>
<path d="M139.6 3595.7C140.7 3600.8 146.0 3616.6 146.0 3626.2C146.0 3635.7 140.7 3648.6 139.6 3653.0L134.6 3653.0L134.6 3595.7Z" fill="#E8FF00"/>
<path d="M590.0 3900.2C588.4 3908.0 583.4 3929.9 580.3 3946.8C577.2 3963.6 572.9 3992.1 571.4 4001.2L571.4 4006.2 L595.1 4006.2L595.1 3900.2Z" fill="#000000"/>
<path d="M542.9 3250.8C542.9 3263.3 541.8 3300.8 542.9 3325.8C543.9 3350.9 546.9 3375.9 549.3 3400.9C551.7 3425.9 555.2 3450.9 557.1 3475.9C559.0 3500.9 560.1 3525.9 560.7 3551.0C561.3 3576.0 561.3 3601.0 560.7 3626.0C560.1 3651.0 558.6 3676.0 557.1 3701.0C555.6 3726.1 554.4 3751.1 551.8 3776.1C549.1 3801.1 545.2 3826.1 541.1 3851.1C536.9 3876.1 531.3 3901.1 526.8 3926.2C522.3 3951.2 516.4 3988.7 514.3 4001.2" fill="none" stroke="#e8e8e8" stroke-opacity="0.80" stroke-width="0.9"/>
<path d="M496.5 3250.8C495.9 3258.1 493.5 3282.3 492.9 3294.9C492.3 3307.4 491.1 3308.3 492.9 3326.0C494.7 3343.7 500.6 3381.0 503.6 3400.9C506.6 3420.8 509.1 3432.8 510.7 3445.3C512.4 3457.8 512.7 3464.2 513.6 3476.1C514.5 3488.0 515.3 3504.5 516.1 3516.9C516.9 3529.4 517.4 3539.0 518.6 3551.0C519.8 3562.9 522.3 3576.0 523.2 3588.6C524.2 3601.1 524.9 3607.4 524.3 3626.2C523.7 3644.9 522.5 3682.2 519.7 3701.0C516.8 3719.8 510.4 3726.5 507.2 3739.0C503.9 3751.5 503.0 3762.5 500.0 3776.3C497.1 3790.0 492.0 3808.9 489.3 3821.4C486.6 3833.9 486.3 3839.2 484.0 3851.1C481.6 3863.1 477.1 3880.5 475.0 3893.0C473.0 3905.6 473.0 3914.4 471.5 3926.3C470.0 3938.3 467.6 3952.2 466.1 3964.7C464.6 3977.1 463.2 3995.1 462.6 4001.2" fill="none" stroke="#111" stroke-width="1.3"/>
<path d="M448.3 3250.8C448.3 3263.3 447.1 3301.0 448.3 3326.0C449.5 3351.0 452.7 3375.9 455.4 3400.9C458.1 3425.9 461.4 3451.1 464.3 3476.1C467.3 3501.1 470.0 3532.2 473.3 3551.0C476.5 3569.7 480.7 3577.5 484.0 3588.6C487.2 3599.6 491.1 3611.0 492.9 3617.2C494.7 3623.5 494.7 3623.2 494.7 3626.2C494.7 3629.2 494.7 3629.5 492.9 3635.1C491.1 3640.8 487.5 3649.2 484.0 3660.2C480.4 3671.2 475.9 3681.7 471.5 3701.0C467.0 3720.4 462.0 3751.2 457.2 3776.3C452.4 3801.3 447.4 3826.1 442.9 3851.1C438.5 3876.1 433.7 3901.3 430.4 3926.3C427.2 3951.4 424.5 3988.7 423.3 4001.2" fill="none" stroke="#e8e8e8" stroke-opacity="0.80" stroke-width="0.9"/>
<path d="M394.8 3250.8C396.2 3263.3 399.5 3301.0 403.7 3326.0C407.8 3351.0 415.9 3375.9 419.7 3400.9C423.6 3425.9 425.7 3451.1 426.9 3476.1C428.1 3501.1 426.9 3525.9 426.9 3551.0C426.9 3576.0 427.5 3608.0 426.9 3626.2C426.3 3644.4 424.8 3647.7 423.3 3660.2C421.8 3672.7 420.0 3681.7 418.0 3701.0C415.9 3720.4 414.4 3751.2 410.8 3776.3C407.2 3801.3 401.0 3826.1 396.5 3851.1C392.1 3876.1 386.4 3907.4 384.0 3926.3C381.7 3945.3 382.3 3952.2 382.3 3964.7C382.3 3977.1 383.8 3995.1 384.0 4001.2" fill="none" stroke="#e8e8e8" stroke-opacity="0.80" stroke-width="0.9"/>
<path d="M351.9 3250.8C353.1 3258.1 356.1 3282.3 359.1 3294.9C362.0 3307.4 364.1 3306.9 369.8 3326.0C375.4 3345.1 388.5 3389.6 393.0 3409.5C397.4 3429.4 396.1 3434.2 396.5 3445.3C397.0 3456.4 396.7 3464.2 395.8 3476.1C394.9 3488.0 392.9 3504.5 391.2 3516.9C389.5 3529.4 388.5 3540.2 385.8 3551.0C383.2 3561.7 379.0 3572.2 375.1 3581.4C371.3 3590.7 365.4 3599.0 362.6 3606.5C359.8 3613.9 358.4 3619.0 358.4 3626.2C358.4 3633.3 360.4 3635.4 362.6 3649.5C364.8 3663.5 369.2 3691.8 371.6 3710.4C373.9 3728.9 376.3 3749.5 376.9 3760.5C377.5 3771.5 376.9 3766.1 375.1 3776.3C373.3 3786.4 369.5 3808.9 366.2 3821.4C362.9 3833.9 359.4 3839.2 355.5 3851.1C351.6 3863.1 347.5 3880.5 343.0 3893.0C338.5 3905.6 334.7 3916.8 328.7 3926.3C322.8 3935.9 315.7 3943.9 307.3 3950.3C299.0 3956.7 287.7 3958.7 278.8 3964.7C269.9 3970.6 259.4 3980.1 253.8 3986.2C248.1 3992.2 246.4 3998.7 244.9 4001.2" fill="none" stroke="#111" stroke-width="1.3" stroke-dasharray="72.5 80.0 280.1 80.0 99999.0"/>
<path d="M321.6 3250.8C323.1 3258.1 326.4 3282.3 330.5 3294.9C334.7 3307.4 342.1 3312.9 346.6 3326.0C351.0 3339.2 354.6 3361.2 357.3 3373.7C360.0 3386.1 361.2 3388.9 362.6 3400.9C364.1 3412.8 365.6 3432.8 366.2 3445.3C366.8 3457.8 367.1 3464.2 366.2 3476.1C365.3 3488.0 363.2 3504.5 360.9 3516.9C358.5 3529.4 355.5 3539.0 351.9 3551.0C348.4 3562.9 342.6 3576.0 339.4 3588.6C336.3 3601.1 333.3 3614.2 333.0 3626.2C332.7 3638.1 335.7 3647.7 337.7 3660.2C339.6 3672.7 343.3 3687.9 344.8 3701.0C346.3 3714.2 346.9 3726.5 346.6 3739.0C346.3 3751.5 345.7 3762.5 343.0 3776.3C340.3 3790.0 335.0 3808.9 330.5 3821.4C326.1 3833.9 322.5 3839.2 316.2 3851.1C310.0 3863.1 301.1 3880.5 293.0 3893.0C285.0 3905.6 276.4 3915.0 268.1 3926.3C259.7 3937.7 249.6 3948.6 243.1 3961.1C236.5 3973.6 231.2 3994.5 228.8 4001.2" fill="none" stroke="#e8e8e8" stroke-opacity="0.80" stroke-width="0.9"/>
<path d="M289.5 3250.8C291.3 3258.1 295.4 3282.3 300.2 3294.9C304.9 3307.4 313.3 3312.9 318.0 3326.0C322.8 3339.2 326.1 3361.2 328.7 3373.7C331.4 3386.1 332.6 3388.9 334.1 3400.9C335.6 3412.8 337.4 3432.8 337.7 3445.3C338.0 3457.8 337.1 3464.2 335.9 3476.1C334.7 3488.0 332.9 3504.5 330.5 3516.9C328.1 3529.4 324.9 3539.0 321.6 3551.0C318.3 3562.9 313.2 3576.0 310.9 3588.6C308.6 3601.1 307.4 3614.2 308.0 3626.2C308.6 3638.1 312.5 3647.7 314.5 3660.2C316.4 3672.7 319.2 3687.9 319.8 3701.0C320.4 3714.2 319.2 3726.5 318.0 3739.0C316.8 3751.5 315.7 3762.5 312.7 3776.3C309.7 3790.0 304.9 3808.9 300.2 3821.4C295.4 3833.9 290.7 3839.2 284.1 3851.1C277.6 3863.1 268.4 3880.5 260.9 3893.0C253.5 3905.6 246.1 3915.0 239.5 3926.3C233.0 3937.7 226.1 3948.6 221.7 3961.1C217.2 3973.6 214.2 3994.5 212.8 4001.2" fill="none" stroke="#c8c8c8" stroke-opacity="0.70" stroke-width="0.9"/>
<path d="M259.1 3250.8C261.2 3256.4 266.6 3271.6 271.6 3284.1C276.7 3296.6 282.9 3306.6 289.5 3326.0C296.0 3345.5 306.4 3381.0 310.9 3400.9C315.4 3420.8 315.4 3432.8 316.2 3445.3C317.1 3457.8 316.8 3464.2 316.2 3476.1C315.7 3488.0 314.8 3504.5 312.7 3516.9C310.6 3529.4 307.3 3539.0 303.8 3551.0C300.2 3562.9 294.8 3577.5 291.3 3588.6C287.7 3599.6 283.7 3609.5 282.3 3617.2C281.0 3625.0 281.3 3621.2 283.1 3635.1C284.8 3649.1 290.9 3683.7 293.0 3701.0C295.2 3718.4 296.5 3726.5 295.9 3739.0C295.3 3751.5 292.6 3762.5 289.5 3776.3C286.3 3790.0 281.7 3808.9 277.0 3821.4C272.2 3833.9 267.2 3839.2 260.9 3851.1C254.7 3863.1 246.7 3880.5 239.5 3893.0C232.4 3905.6 224.1 3915.0 218.1 3926.3C212.2 3937.7 207.4 3948.6 203.8 3961.1C200.3 3973.6 197.9 3994.5 196.7 4001.2" fill="none" stroke="#111" stroke-width="1.3"/>
<path d="M246.7 3250.8C248.7 3258.1 255.0 3282.3 259.1 3294.9C263.3 3307.4 267.2 3312.9 271.6 3326.0C276.1 3339.2 282.6 3361.2 285.9 3373.7C289.2 3386.1 289.8 3388.9 291.3 3400.9C292.8 3412.8 294.2 3432.8 294.8 3445.3C295.4 3457.8 295.7 3464.2 294.8 3476.1C293.9 3488.0 292.2 3504.5 289.5 3516.9C286.8 3529.4 282.9 3539.0 278.8 3551.0C274.6 3562.9 267.8 3576.0 264.5 3588.6C261.2 3601.1 258.9 3614.2 259.1 3626.2C259.4 3638.1 264.2 3647.7 266.3 3660.2C268.4 3672.7 270.7 3687.9 271.6 3701.0C272.5 3714.2 272.5 3726.5 271.6 3739.0C270.7 3751.5 269.3 3762.5 266.3 3776.3C263.3 3790.0 258.6 3808.9 253.8 3821.4C249.0 3833.9 244.3 3839.2 237.7 3851.1C231.2 3863.1 221.7 3880.5 214.5 3893.0C207.4 3905.6 200.3 3915.0 194.9 3926.3C189.6 3937.7 185.4 3948.6 182.4 3961.1C179.4 3973.6 178.0 3994.5 177.1 4001.2" fill="none" stroke="#8c8c8c" stroke-opacity="0.55" stroke-width="0.9"/>
<path d="M234.2 3250.8C236.0 3258.1 241.0 3282.3 244.9 3294.9C248.7 3307.4 253.5 3312.9 257.4 3326.0C261.2 3339.2 265.1 3361.2 268.1 3373.7C271.0 3386.1 273.4 3388.9 275.2 3400.9C277.0 3412.8 278.5 3432.8 278.8 3445.3C279.1 3457.8 278.2 3464.2 277.0 3476.1C275.8 3488.0 274.3 3504.5 271.6 3516.9C269.0 3529.4 264.8 3539.0 260.9 3551.0C257.1 3562.9 251.1 3576.0 248.4 3588.6C245.8 3601.1 244.6 3614.2 244.9 3626.2C245.2 3638.1 248.7 3647.7 250.2 3660.2C251.7 3672.7 253.8 3687.9 253.8 3701.0C253.8 3714.2 252.0 3726.5 250.2 3739.0C248.4 3751.5 246.4 3762.5 243.1 3776.3C239.8 3790.0 235.4 3808.9 230.6 3821.4C225.8 3833.9 220.8 3839.2 214.5 3851.1C208.3 3863.1 199.7 3880.5 193.1 3893.0C186.6 3905.6 180.0 3915.0 175.3 3926.3C170.5 3937.7 167.3 3948.6 164.6 3961.1C161.9 3973.6 160.1 3994.5 159.2 4001.2" fill="none" stroke="#8c8c8c" stroke-opacity="0.55" stroke-width="0.9"/>
<path d="M221.7 3250.8C222.9 3258.1 226.1 3282.3 228.8 3294.9C231.5 3307.4 233.0 3305.1 237.7 3326.0C242.5 3346.9 253.5 3400.3 257.4 3420.2C261.2 3440.1 260.3 3436.0 260.9 3445.3C261.5 3454.6 261.8 3464.2 260.9 3476.1C260.0 3488.0 258.0 3504.5 255.6 3516.9C253.2 3529.4 249.6 3539.0 246.7 3551.0C243.7 3562.9 239.8 3576.0 237.7 3588.6C235.7 3601.1 234.2 3614.2 234.2 3626.2C234.2 3638.1 237.4 3648.6 237.7 3660.2C238.0 3671.8 237.4 3678.1 236.0 3696.0C234.5 3713.9 231.2 3750.9 228.8 3767.7C226.4 3784.4 225.2 3785.6 221.7 3796.3C218.1 3807.1 212.5 3820.2 207.4 3832.1C202.3 3844.1 197.3 3856.0 191.3 3868.0C185.4 3879.9 177.1 3894.0 171.7 3903.8C166.4 3913.5 162.8 3916.8 159.2 3926.3C155.7 3935.9 152.4 3948.6 150.3 3961.1C148.2 3973.6 147.3 3994.5 146.7 4001.2" fill="none" stroke="#111" stroke-width="1.3" stroke-dasharray="76.2 80.0 285.9 80.0 99999.0"/>
<path d="M211.0 3250.8C212.2 3258.1 215.7 3282.3 218.1 3294.9C220.5 3307.4 222.6 3312.9 225.2 3326.0C227.9 3339.2 231.8 3361.2 234.2 3373.7C236.5 3386.1 238.0 3388.9 239.5 3400.9C241.0 3412.8 242.8 3432.8 243.1 3445.3C243.4 3457.8 242.5 3464.2 241.3 3476.1C240.1 3488.0 238.3 3504.5 236.0 3516.9C233.6 3529.4 230.0 3539.0 227.0 3551.0C224.1 3562.9 220.2 3576.0 218.1 3588.6C216.0 3601.1 214.2 3614.2 214.5 3626.2C214.8 3638.1 218.7 3647.7 219.9 3660.2C221.1 3672.7 222.6 3687.9 221.7 3701.0C220.8 3714.2 217.5 3726.5 214.5 3739.0C211.6 3751.5 208.6 3762.5 203.8 3776.3C199.1 3790.0 191.3 3808.9 186.0 3821.4C180.6 3833.9 177.1 3839.2 171.7 3851.1C166.4 3863.1 158.6 3880.5 153.9 3893.0C149.1 3905.6 145.5 3917.4 143.2 3926.3C140.8 3935.3 140.2 3943.4 139.6 3946.8" fill="none" stroke="#c8c8c8" stroke-opacity="0.70" stroke-width="0.9"/>
<path d="M198.5 3250.8C199.7 3258.1 203.5 3282.3 205.6 3294.9C207.7 3307.4 208.6 3312.9 211.0 3326.0C213.4 3339.2 217.5 3361.2 219.9 3373.7C222.3 3386.1 223.8 3388.9 225.2 3400.9C226.7 3412.8 228.5 3432.8 228.8 3445.3C229.1 3457.8 228.2 3464.2 227.0 3476.1C225.8 3488.0 224.1 3504.5 221.7 3516.9C219.3 3529.4 215.7 3539.0 212.8 3551.0C209.8 3562.9 205.9 3576.0 203.8 3588.6C201.8 3601.1 200.3 3614.2 200.3 3626.2C200.3 3638.1 203.5 3647.7 203.8 3660.2C204.1 3672.7 204.1 3687.9 202.1 3701.0C200.0 3714.2 195.2 3726.5 191.3 3739.0C187.5 3751.5 183.9 3762.5 178.9 3776.3C173.8 3790.0 166.4 3808.9 161.0 3821.4C155.7 3833.9 150.3 3842.8 146.7 3851.1C143.2 3859.5 140.8 3868.1 139.6 3871.5" fill="none" stroke="#c8c8c8" stroke-opacity="0.70" stroke-width="0.9"/>
<path d="M186.0 3250.8C186.6 3258.1 188.1 3282.3 189.6 3294.9C191.0 3307.4 192.8 3312.9 194.9 3326.0C197.0 3339.2 200.3 3361.2 202.1 3373.7C203.8 3386.1 204.1 3386.0 205.6 3400.9C207.1 3415.8 209.5 3444.5 211.0 3463.2C212.5 3481.9 213.9 3498.7 214.5 3513.4C215.1 3528.0 215.4 3538.4 214.5 3551.0C213.6 3563.5 210.5 3576.0 209.2 3588.6C207.9 3601.1 207.0 3614.2 206.7 3626.2C206.4 3638.1 208.5 3649.8 207.4 3660.2C206.3 3670.7 203.8 3676.9 200.3 3688.9C196.7 3700.8 190.7 3718.7 186.0 3731.8C181.2 3745.0 177.1 3755.7 171.7 3767.7C166.4 3779.6 159.2 3792.7 153.9 3803.5C148.5 3814.2 142.0 3827.4 139.6 3832.1" fill="none" stroke="#111" stroke-width="1.3"/>
<path d="M175.3 3250.8C175.6 3258.1 176.2 3282.3 177.1 3294.9C178.0 3307.4 179.2 3312.9 180.6 3326.0C182.1 3339.2 184.2 3361.2 186.0 3373.7C187.8 3386.1 189.6 3388.9 191.3 3400.9C193.1 3412.8 195.2 3432.8 196.7 3445.3C198.2 3457.8 199.4 3464.2 200.3 3476.1C201.2 3488.0 202.1 3504.5 202.1 3516.9C202.1 3529.4 201.2 3539.0 200.3 3551.0C199.4 3562.9 197.6 3576.0 196.7 3588.6C195.8 3601.1 195.5 3614.2 194.9 3626.2C194.3 3638.1 194.9 3649.8 193.1 3660.2C191.3 3670.7 188.4 3676.9 184.2 3688.9C180.0 3700.8 173.2 3719.9 168.1 3731.8C163.1 3743.8 158.6 3752.1 153.9 3760.5C149.1 3768.9 142.0 3778.4 139.6 3782.0" fill="none" stroke="#c8c8c8" stroke-opacity="0.70" stroke-width="0.9"/>
<path d="M162.8 3250.8C162.8 3258.1 162.5 3282.3 162.8 3294.9C163.1 3307.4 163.4 3312.9 164.6 3326.0C165.8 3339.2 168.1 3361.2 169.9 3373.7C171.7 3386.1 173.2 3388.9 175.3 3400.9C177.4 3412.8 180.3 3432.8 182.4 3445.3C184.5 3457.8 186.3 3464.2 187.8 3476.1C189.3 3488.0 190.7 3504.5 191.3 3516.9C191.9 3529.4 191.9 3539.0 191.3 3551.0C190.7 3562.9 188.8 3576.0 187.8 3588.6C186.8 3601.1 186.5 3614.2 185.3 3626.2C184.1 3638.1 183.5 3649.2 180.6 3660.2C177.8 3671.3 172.6 3681.1 168.1 3692.4C163.7 3703.8 158.6 3718.1 153.9 3728.3C149.1 3738.4 142.0 3749.2 139.6 3753.3" fill="none" stroke="#c8c8c8" stroke-opacity="0.70" stroke-width="0.9"/>
<path d="M150.3 3250.8C149.4 3256.4 146.4 3271.6 145.0 3284.1C143.5 3296.6 142.2 3314.1 141.4 3326.0C140.6 3338.0 139.7 3343.3 140.3 3355.7C140.9 3368.2 142.7 3386.0 145.0 3400.9C147.2 3415.8 150.9 3432.8 153.9 3445.3C156.8 3457.8 159.8 3464.2 162.8 3476.1C165.8 3488.0 169.0 3504.5 171.7 3516.9C174.4 3529.4 177.0 3539.0 178.9 3551.0C180.8 3562.9 182.4 3576.0 183.1 3588.6C183.9 3601.1 184.1 3614.2 183.1 3626.2C182.1 3638.1 180.5 3649.2 177.1 3660.2C173.7 3671.3 167.3 3683.5 162.8 3692.4C158.3 3701.4 154.2 3707.4 150.3 3713.9C146.4 3720.5 141.4 3728.9 139.6 3731.8" fill="none" stroke="#111" stroke-width="1.3"/>
<path d="M139.6 3384.4C140.8 3392.2 144.4 3415.7 146.7 3431.0C149.1 3446.3 150.3 3458.8 153.9 3476.1C157.4 3493.4 164.6 3516.1 168.1 3534.8C171.7 3553.6 174.0 3573.3 175.3 3588.6C176.6 3603.8 176.9 3614.2 176.0 3626.2C175.1 3638.1 173.6 3649.8 169.9 3660.2C166.2 3670.7 158.9 3681.7 153.9 3688.9C148.8 3696.0 142.0 3700.8 139.6 3703.2" fill="none" stroke="#e8e8e8" stroke-opacity="0.80" stroke-width="0.9"/>
<path d="M139.6 3491.9C142.0 3499.6 149.7 3522.3 153.9 3538.4C158.0 3554.5 162.5 3573.9 164.6 3588.6C166.7 3603.2 167.0 3614.8 166.4 3626.2C165.8 3637.5 164.3 3648.0 161.0 3656.6C157.7 3665.3 150.3 3673.3 146.7 3678.1C143.2 3682.9 140.8 3684.1 139.6 3685.3" fill="none" stroke="#c8c8c8" stroke-opacity="0.70" stroke-width="0.9"/>
<path d="M139.6 3574.2C141.1 3577.2 145.8 3583.5 148.5 3592.2C151.2 3600.8 155.4 3616.6 155.7 3626.2C156.0 3635.7 153.0 3643.2 150.3 3649.5C147.6 3655.7 141.4 3661.4 139.6 3663.8" fill="none" stroke="#111" stroke-width="1.3"/>
<path d="M139.6 3595.7C140.7 3600.8 146.0 3616.6 146.0 3626.2C146.0 3635.7 140.7 3648.6 139.6 3653.0" fill="none" stroke="#8c8c8c" stroke-opacity="0.55" stroke-width="0.9"/>
<path d="M590.0 3900.2C588.4 3908.0 583.4 3929.9 580.3 3946.8C577.2 3963.6 572.9 3992.1 571.4 4001.2" fill="none" stroke="#e8e8e8" stroke-opacity="0.80" stroke-width="0.9"/>
<text transform="translate(243.1 3368.3) rotate(72.0)" font-size="40" text-anchor="middle" y="13.2" fill="#111">22.5</text>
<text transform="translate(296.6 3348.6) rotate(68.0)" font-size="40" text-anchor="middle" y="13.2" fill="#111">21</text>
<text transform="translate(380.5 3362.9) rotate(70.0)" font-size="40" text-anchor="middle" y="13.2" fill="#111">19.5</text>
<text transform="translate(496.5 3354.0) rotate(72.0)" font-size="40" text-anchor="middle" y="13.2" fill="#111">18</text>
<text transform="translate(205.6 3465.0) rotate(72.0)" font-size="40" text-anchor="middle" y="13.2" fill="#111">24</text>
<text transform="translate(284.8 3660.2) rotate(75.0)" font-size="40" text-anchor="middle" y="13.2" fill="#111">21</text>
<text transform="translate(371.6 3710.4) rotate(78.0)" font-size="40" text-anchor="middle" y="13.2" fill="#111">19.5</text>
<text transform="translate(517.9 3671.0) rotate(-98.0)" font-size="40" text-anchor="middle" y="13.2" fill="#111">18</text>
<text transform="translate(234.2 3726.5) rotate(-78.0)" font-size="40" text-anchor="middle" y="13.2" fill="#111">22.5</text>
</g>
<rect x="139.6" y="3250.8" width="450.5" height="750.4" fill="none" stroke="#7a7a7a" stroke-width="2"/>
<path d="M177.1 3250.8v-9.5M177.1 4001.2v9.5M252.2 3250.8v-9.5M252.2 4001.2v9.5M327.3 3250.8v-9.5M327.3 4001.2v9.5M402.4 3250.8v-9.5M402.4 4001.2v9.5M477.5 3250.8v-9.5M477.5 4001.2v9.5M552.6 3250.8v-9.5M552.6 4001.2v9.5M139.6 3250.8h-9.5M590.1 3250.8h9.5M139.6 3325.8h-9.5M590.1 3325.8h9.5M139.6 3400.9h-9.5M590.1 3400.9h9.5M139.6 3475.9h-9.5M590.1 3475.9h9.5M139.6 3551.0h-9.5M590.1 3551.0h9.5M139.6 3626.0h-9.5M590.1 3626.0h9.5M139.6 3701.0h-9.5M590.1 3701.0h9.5M139.6 3776.1h-9.5M590.1 3776.1h9.5M139.6 3851.1h-9.5M590.1 3851.1h9.5M139.6 3926.2h-9.5M590.1 3926.2h9.5M139.6 4001.2h-9.5M590.1 4001.2h9.5" stroke="#7a7a7a" stroke-width="2" fill="none"/>
<text fill="#1c1c1c" transform="translate(177.1 4053.3) scale(1.060 1)" font-size="40" text-anchor="middle">4</text>
<text fill="#1c1c1c" transform="translate(252.2 4053.3) scale(1.060 1)" font-size="40" text-anchor="middle">6</text>
<text fill="#1c1c1c" transform="translate(327.3 4053.3) scale(1.060 1)" font-size="40" text-anchor="middle">8</text>
<text fill="#1c1c1c" transform="translate(402.4 4053.3) scale(1.060 1)" font-size="40" text-anchor="middle">10</text>
<text fill="#1c1c1c" transform="translate(477.5 4053.3) scale(1.060 1)" font-size="40" text-anchor="middle">12</text>
<text fill="#1c1c1c" transform="translate(552.6 4053.3) scale(1.060 1)" font-size="40" text-anchor="middle">14</text>
<text fill="#1c1c1c" transform="translate(128.2 3265.4) scale(1.060 1)" font-size="40" text-anchor="end">0</text>
<text fill="#1c1c1c" transform="translate(128.2 3340.4) scale(1.060 1)" font-size="40" text-anchor="end">-2</text>
<text fill="#1c1c1c" transform="translate(128.2 3415.5) scale(1.060 1)" font-size="40" text-anchor="end">-4</text>
<text fill="#1c1c1c" transform="translate(128.2 3490.5) scale(1.060 1)" font-size="40" text-anchor="end">-6</text>
<text fill="#1c1c1c" transform="translate(128.2 3565.6) scale(1.060 1)" font-size="40" text-anchor="end">-8</text>
<text fill="#1c1c1c" transform="translate(128.2 3640.6) scale(1.060 1)" font-size="40" text-anchor="end">-10</text>
<text fill="#1c1c1c" transform="translate(128.2 3715.6) scale(1.060 1)" font-size="40" text-anchor="end">-12</text>
<text fill="#1c1c1c" transform="translate(128.2 3790.7) scale(1.060 1)" font-size="40" text-anchor="end">-14</text>
<text fill="#1c1c1c" transform="translate(128.2 3865.7) scale(1.060 1)" font-size="40" text-anchor="end">-16</text>
<text fill="#1c1c1c" transform="translate(128.2 3940.8) scale(1.060 1)" font-size="40" text-anchor="end">-18</text>
<text fill="#1c1c1c" transform="translate(128.2 4015.8) scale(1.060 1)" font-size="40" text-anchor="end">-20</text>
<text fill="#1c1c1c" transform="translate(364.9 4109.5) scale(1.060 1)" font-size="41" text-anchor="middle">Horizontal distance/cm</text>
<text fill="#1c1c1c" transform="translate(51.9 3623.5) rotate(-90) scale(1.060 1)" font-size="41" text-anchor="middle">Vertical distance/cm</text>
<text transform="translate(396.0 4195.8) scale(1.04 1)" font-size="59" text-anchor="middle" fill="#000">60 s</text>
<rect x="661.2" y="3865.15" width="32.0" height="21.15" fill="#000000"/>
<rect x="661.2" y="3844.29" width="32.0" height="21.15" fill="#000008"/>
<rect x="661.2" y="3823.44" width="32.0" height="21.15" fill="#000040"/>
<rect x="661.2" y="3802.58" width="32.0" height="21.15" fill="#000080"/>
<rect x="661.2" y="3781.73" width="32.0" height="21.15" fill="#0000BB"/>
<rect x="661.2" y="3760.88" width="32.0" height="21.15" fill="#0000FF"/>
<rect x="661.2" y="3740.02" width="32.0" height="21.15" fill="#0030FF"/>
<rect x="661.2" y="3719.17" width="32.0" height="21.15" fill="#0060FF"/>
<rect x="661.2" y="3698.31" width="32.0" height="21.15" fill="#0090FF"/>
<rect x="661.2" y="3677.46" width="32.0" height="21.15" fill="#00B8FF"/>
<rect x="661.2" y="3656.60" width="32.0" height="21.15" fill="#00E8FF"/>
<rect x="661.2" y="3635.75" width="32.0" height="21.15" fill="#00FFEE"/>
<rect x="661.2" y="3614.90" width="32.0" height="21.15" fill="#00EECC"/>
<rect x="661.2" y="3594.04" width="32.0" height="21.15" fill="#00DDAA"/>
<rect x="661.2" y="3573.19" width="32.0" height="21.15" fill="#00D090"/>
<rect x="661.2" y="3552.33" width="32.0" height="21.15" fill="#00C470"/>
<rect x="661.2" y="3531.48" width="32.0" height="21.15" fill="#00B850"/>
<rect x="661.2" y="3510.62" width="32.0" height="21.15" fill="#00AE30"/>
<rect x="661.2" y="3489.77" width="32.0" height="21.15" fill="#00A410"/>
<rect x="661.2" y="3468.92" width="32.0" height="21.15" fill="#00A000"/>
<rect x="661.2" y="3448.06" width="32.0" height="21.15" fill="#00C800"/>
<rect x="661.2" y="3427.21" width="32.0" height="21.15" fill="#90DD00"/>
<rect x="661.2" y="3406.35" width="32.0" height="21.15" fill="#E8FF00"/>
<rect x="661.2" y="3385.50" width="32.0" height="21.15" fill="#FFE800"/>
<path d="M661.2 3865.1h32.0M661.2 3844.3h32.0M661.2 3823.4h32.0M661.2 3802.6h32.0M661.2 3781.7h32.0M661.2 3760.9h32.0M661.2 3740.0h32.0M661.2 3719.2h32.0M661.2 3698.3h32.0M661.2 3677.5h32.0M661.2 3656.6h32.0M661.2 3635.8h32.0M661.2 3614.9h32.0M661.2 3594.0h32.0M661.2 3573.2h32.0M661.2 3552.3h32.0M661.2 3531.5h32.0M661.2 3510.6h32.0M661.2 3489.8h32.0M661.2 3468.9h32.0M661.2 3448.1h32.0M661.2 3427.2h32.0M661.2 3406.4h32.0" stroke="#333" stroke-opacity="0.6" stroke-width="1.2" fill="none"/>
<rect x="661.2" y="3385.5" width="32.0" height="500.5" fill="none" stroke="#666" stroke-width="1.6"/>
<text fill="#1c1c1c" transform="translate(705.6 3898.9) scale(1.060 1)" font-size="40">16.5</text>
<text fill="#1c1c1c" transform="translate(705.6 3857.2) scale(1.060 1)" font-size="40">17.5</text>
<text fill="#1c1c1c" transform="translate(705.6 3815.4) scale(1.060 1)" font-size="40">18.5</text>
<text fill="#1c1c1c" transform="translate(705.6 3773.7) scale(1.060 1)" font-size="40">19.5</text>
<text fill="#1c1c1c" transform="translate(705.6 3732.0) scale(1.060 1)" font-size="40">20.5</text>
<text fill="#1c1c1c" transform="translate(705.6 3690.3) scale(1.060 1)" font-size="40">21.5</text>
<text fill="#1c1c1c" transform="translate(705.6 3648.6) scale(1.060 1)" font-size="40">22.5</text>
<text fill="#1c1c1c" transform="translate(705.6 3606.9) scale(1.060 1)" font-size="40">23.5</text>
<text fill="#1c1c1c" transform="translate(705.6 3565.2) scale(1.060 1)" font-size="40">24.5</text>
<text fill="#1c1c1c" transform="translate(705.6 3523.5) scale(1.060 1)" font-size="40">25.5</text>
<text fill="#1c1c1c" transform="translate(705.6 3481.8) scale(1.060 1)" font-size="40">26.5</text>
<text fill="#1c1c1c" transform="translate(705.6 3440.1) scale(1.060 1)" font-size="40">27.5</text>
<clipPath id="c11"><rect x="985.1" y="3232.0" width="473.9" height="782.2"/></clipPath>
<g clip-path="url(#c11)">
<rect x="984.1" y="3231.0" width="475.9" height="784.2" fill="#00007A"/>
<path d="M1377.8 3232.0C1380.3 3245.0 1387.7 3284.1 1392.7 3310.2C1397.7 3336.3 1403.6 3362.4 1407.6 3388.4C1411.7 3414.5 1415.4 3440.6 1417.0 3466.7C1418.5 3492.7 1418.2 3518.8 1417.0 3544.9C1415.7 3571.0 1411.4 3597.0 1409.5 3623.1C1407.6 3649.2 1407.6 3675.2 1405.8 3701.3C1403.9 3727.4 1401.7 3753.5 1398.3 3779.5C1394.9 3805.6 1391.2 3831.7 1385.2 3857.8C1379.3 3883.8 1370.0 3909.9 1362.8 3936.0C1355.7 3962.1 1345.7 4001.2 1342.3 4014.2L1342.3 4019.2 L980.1 4019.2L980.1 3227.0 L1377.8 3227.0Z" fill="#0000FF"/>
<path d="M1316.2 3232.0C1319.0 3245.0 1327.4 3284.1 1333.0 3310.2C1338.6 3336.3 1345.1 3362.4 1349.8 3388.4C1354.4 3414.5 1358.8 3440.6 1361.0 3466.7C1363.2 3492.7 1363.5 3518.8 1362.8 3544.9C1362.2 3571.0 1359.1 3597.0 1357.2 3623.1C1355.4 3649.2 1354.1 3675.2 1351.6 3701.3C1349.2 3727.4 1346.4 3753.5 1342.3 3779.5C1338.3 3805.6 1332.7 3831.7 1327.4 3857.8C1322.1 3883.8 1316.5 3909.9 1310.6 3936.0C1304.7 3962.1 1295.0 4001.2 1291.9 4014.2L1291.9 4019.2 L980.1 4019.2L980.1 3227.0 L1316.2 3227.0Z" fill="#0055FF"/>
<path d="M1271.4 3232.0C1273.6 3245.0 1278.9 3284.1 1284.5 3310.2C1290.1 3336.3 1299.4 3362.4 1305.0 3388.4C1310.6 3414.5 1315.6 3440.6 1318.1 3466.7C1320.5 3492.7 1320.2 3518.8 1319.9 3544.9C1319.6 3571.0 1317.7 3597.0 1316.2 3623.1C1314.6 3649.2 1313.4 3675.2 1310.6 3701.3C1307.8 3727.4 1304.1 3753.5 1299.4 3779.5C1294.7 3805.6 1288.8 3831.7 1282.6 3857.8C1276.4 3883.8 1269.2 3909.9 1262.1 3936.0C1254.9 3962.1 1243.4 4001.2 1239.7 4014.2L1239.7 4019.2 L980.1 4019.2L980.1 3227.0 L1271.4 3227.0Z" fill="#00BFFF"/>
<path d="M1226.6 3232.0C1229.4 3245.0 1236.9 3284.1 1243.4 3310.2C1249.9 3336.3 1259.9 3362.4 1265.8 3388.4C1271.7 3414.5 1275.9 3440.6 1278.9 3466.7C1281.8 3492.7 1283.4 3518.8 1283.7 3544.9C1284.0 3571.0 1282.5 3597.0 1280.7 3623.1C1279.0 3649.2 1276.7 3675.2 1273.3 3701.3C1269.8 3727.4 1265.8 3753.5 1260.2 3779.5C1254.6 3805.6 1246.5 3831.7 1239.7 3857.8C1232.8 3883.8 1226.6 3909.9 1219.1 3936.0C1211.7 3962.1 1198.9 4001.2 1194.9 4014.2L1194.9 4019.2 L980.1 4019.2L980.1 3227.0 L1226.6 3227.0Z" fill="#00F5E6"/>
<path d="M1189.3 3232.0C1192.1 3245.0 1198.9 3284.1 1206.1 3310.2C1213.2 3336.3 1225.7 3362.4 1232.2 3388.4C1238.7 3414.5 1242.5 3440.6 1245.3 3466.7C1248.1 3492.7 1248.7 3518.8 1249.0 3544.9C1249.3 3571.0 1249.0 3597.0 1247.1 3623.1C1245.3 3649.2 1241.8 3675.2 1237.8 3701.3C1233.8 3727.4 1229.1 3753.5 1222.9 3779.5C1216.7 3805.6 1208.3 3831.7 1200.5 3857.8C1192.7 3883.8 1184.3 3909.9 1176.2 3936.0C1168.1 3962.1 1156.0 4001.2 1152.0 4014.2L1152.0 4019.2 L980.1 4019.2L980.1 3227.0 L1189.3 3227.0Z" fill="#00DDB0"/>
<path d="M1152.0 3232.0C1155.4 3245.0 1164.7 3284.1 1172.5 3310.2C1180.3 3336.3 1192.1 3362.4 1198.6 3388.4C1205.1 3414.5 1208.9 3440.6 1211.7 3466.7C1214.5 3492.7 1215.4 3518.8 1215.4 3544.9C1215.4 3571.0 1213.5 3597.0 1211.7 3623.1C1209.8 3649.2 1207.9 3675.2 1204.2 3701.3C1200.5 3727.4 1195.8 3753.5 1189.3 3779.5C1182.7 3805.6 1174.0 3831.7 1165.0 3857.8C1156.0 3883.8 1144.8 3909.9 1135.2 3936.0C1125.5 3962.1 1111.8 4001.2 1107.2 4014.2L1107.2 4019.2 L980.1 4019.2L980.1 3227.0 L1152.0 3227.0Z" fill="#00C870"/>
<path d="M1110.9 3232.0C1114.9 3245.0 1126.1 3284.1 1135.2 3310.2C1144.2 3336.3 1157.9 3362.4 1165.0 3388.4C1172.2 3414.5 1175.5 3440.6 1178.1 3466.7C1180.7 3492.7 1180.7 3518.8 1180.7 3544.9C1180.7 3571.0 1179.8 3597.0 1178.1 3623.1C1176.4 3649.2 1174.3 3675.2 1170.6 3701.3C1166.9 3727.4 1162.8 3753.5 1155.7 3779.5C1148.5 3805.6 1137.6 3831.7 1127.7 3857.8C1117.7 3883.8 1106.5 3909.9 1096.0 3936.0C1085.4 3962.1 1069.5 4001.2 1064.2 4014.2L1064.2 4019.2 L980.1 4019.2L980.1 3227.0 L1110.9 3227.0Z" fill="#00B020"/>
<path d="M1092.2 3232.0C1095.6 3245.0 1105.6 3284.1 1112.8 3310.2C1119.9 3336.3 1129.2 3362.4 1135.2 3388.4C1141.1 3414.5 1145.4 3440.6 1148.2 3466.7C1151.0 3492.7 1152.3 3518.8 1152.0 3544.9C1151.6 3571.0 1147.9 3597.0 1146.4 3623.1C1144.8 3649.2 1146.4 3675.2 1142.6 3701.3C1138.9 3727.4 1132.4 3753.5 1124.0 3779.5C1115.6 3805.6 1103.4 3831.7 1092.2 3857.8C1081.0 3883.8 1068.6 3909.9 1056.8 3936.0C1044.9 3962.1 1027.2 4001.2 1021.3 4014.2L1021.3 4019.2 L980.1 4019.2L980.1 3227.0 L1092.2 3227.0Z" fill="#00A800"/>
<path d="M1075.4 3232.0C1077.6 3245.0 1083.5 3284.0 1088.5 3310.0C1093.5 3336.1 1100.3 3362.4 1105.3 3388.4C1110.3 3414.5 1115.2 3440.4 1118.4 3466.5C1121.5 3492.5 1125.2 3518.8 1124.0 3544.9C1122.7 3571.0 1113.1 3596.8 1110.9 3622.9C1108.7 3649.0 1114.9 3675.2 1110.9 3701.3C1106.8 3727.4 1097.8 3753.3 1086.6 3779.4C1075.4 3805.4 1057.7 3831.7 1043.7 3857.8C1029.7 3883.8 1012.4 3915.9 1002.6 3935.8C992.9 3955.6 988.0 3970.0 985.1 3976.9L980.1 3976.9L980.1 3227.0 L1075.4 3227.0Z" fill="#90E000"/>
<path d="M1058.6 3232.0C1059.9 3245.0 1062.7 3284.0 1066.1 3310.0C1069.5 3336.1 1074.8 3362.4 1079.2 3388.4C1083.5 3414.5 1089.1 3440.4 1092.2 3466.5C1095.3 3492.5 1098.1 3518.8 1097.8 3544.9C1097.5 3571.0 1092.8 3596.8 1090.4 3622.9C1087.9 3649.0 1089.1 3675.2 1082.9 3701.3C1076.7 3727.4 1063.6 3755.8 1053.0 3779.4C1042.5 3802.9 1029.4 3823.8 1019.4 3842.5C1009.5 3861.1 999.0 3881.0 993.3 3891.0C987.6 3900.9 986.5 3900.3 985.1 3902.2L980.1 3902.2L980.1 3227.0 L1058.6 3227.0Z" fill="#FFE500"/>
<path d="M1041.8 3232.0C1042.5 3245.0 1043.7 3284.0 1045.6 3310.0C1047.4 3336.1 1049.6 3362.4 1053.0 3388.4C1056.5 3414.5 1062.7 3440.4 1066.1 3466.5C1069.5 3492.5 1072.9 3518.8 1073.6 3544.9C1074.2 3571.0 1072.6 3596.8 1069.8 3622.9C1067.0 3649.0 1065.5 3675.2 1056.8 3701.3C1048.1 3727.4 1026.9 3761.4 1017.6 3779.4C1008.2 3797.3 1006.2 3799.6 1000.8 3808.8C995.4 3818.1 987.7 3830.6 985.1 3835.0L980.1 3835.0L980.1 3227.0 L1041.8 3227.0Z" fill="#FFA500"/>
<path d="M1025.0 3232.0C1024.7 3245.0 1023.2 3284.0 1023.2 3310.0C1023.2 3336.1 1022.2 3362.4 1025.0 3388.4C1027.8 3414.5 1035.6 3440.4 1040.0 3466.5C1044.3 3492.5 1049.3 3518.8 1051.2 3544.9C1053.0 3571.0 1055.5 3596.8 1051.2 3622.9C1046.8 3649.0 1032.8 3681.5 1025.0 3701.3C1017.3 3721.1 1011.2 3729.9 1004.5 3741.6C997.9 3753.3 988.3 3766.5 985.1 3771.5L980.1 3771.5L980.1 3227.0 L1025.0 3227.0Z" fill="#FF5F00"/>
<path d="M1006.4 3232.0C1004.5 3245.0 997.0 3284.0 995.2 3310.0C993.3 3336.1 992.7 3362.4 995.2 3388.4C997.7 3414.5 1005.1 3440.4 1010.1 3466.5C1015.1 3492.5 1021.3 3518.8 1025.0 3544.9C1028.8 3571.0 1032.5 3603.8 1032.5 3622.9C1032.5 3642.0 1029.1 3647.8 1025.0 3659.5C1021.0 3671.2 1014.9 3682.8 1008.2 3693.1C1001.6 3703.4 989.0 3716.4 985.1 3721.1L980.1 3721.1L980.1 3227.0 L1006.4 3227.0Z" fill="#FF1400"/>
<path d="M985.1 3521.4C986.5 3525.3 989.8 3534.3 993.3 3544.9C996.9 3555.5 1003.0 3571.8 1006.4 3584.8C1009.8 3597.8 1013.8 3611.1 1013.8 3622.9C1013.8 3634.7 1011.2 3646.6 1006.4 3655.8C1001.6 3665.0 988.6 3674.4 985.1 3678.2L980.1 3678.2L980.1 3521.4Z" fill="#FF3232"/>
<path d="M985.1 3599.8C986.5 3603.6 993.3 3616.1 993.3 3622.9C993.3 3629.8 986.5 3637.8 985.1 3640.8L980.1 3640.8L980.1 3599.8Z" fill="#FF8C8C"/>
<path d="M1459.1 3805.1C1457.7 3812.0 1454.2 3830.6 1450.6 3846.2C1447.0 3861.7 1441.5 3883.5 1437.5 3898.5C1433.5 3913.4 1430.7 3922.7 1426.3 3935.8C1421.9 3948.9 1415.1 3963.8 1411.4 3976.9C1407.6 3989.9 1405.1 4008.0 1403.9 4014.2L1403.9 4019.2 L1464.0 4019.2L1464.0 3805.1Z" fill="#000000"/>
<path d="M1377.8 3232.0C1380.3 3245.0 1387.7 3284.1 1392.7 3310.2C1397.7 3336.3 1403.6 3362.4 1407.6 3388.4C1411.7 3414.5 1415.4 3440.6 1417.0 3466.7C1418.5 3492.7 1418.2 3518.8 1417.0 3544.9C1415.7 3571.0 1411.4 3597.0 1409.5 3623.1C1407.6 3649.2 1407.6 3675.2 1405.8 3701.3C1403.9 3727.4 1401.7 3753.5 1398.3 3779.5C1394.9 3805.6 1391.2 3831.7 1385.2 3857.8C1379.3 3883.8 1370.0 3909.9 1362.8 3936.0C1355.7 3962.1 1345.7 4001.2 1342.3 4014.2" fill="none" stroke="#e8e8e8" stroke-opacity="0.80" stroke-width="0.9"/>
<path d="M1316.2 3232.0C1319.0 3245.0 1327.4 3284.1 1333.0 3310.2C1338.6 3336.3 1345.1 3362.4 1349.8 3388.4C1354.4 3414.5 1358.8 3440.6 1361.0 3466.7C1363.2 3492.7 1363.5 3518.8 1362.8 3544.9C1362.2 3571.0 1359.1 3597.0 1357.2 3623.1C1355.4 3649.2 1354.1 3675.2 1351.6 3701.3C1349.2 3727.4 1346.4 3753.5 1342.3 3779.5C1338.3 3805.6 1332.7 3831.7 1327.4 3857.8C1322.1 3883.8 1316.5 3909.9 1310.6 3936.0C1304.7 3962.1 1295.0 4001.2 1291.9 4014.2" fill="none" stroke="#e8e8e8" stroke-opacity="0.80" stroke-width="0.9"/>
<path d="M1271.4 3232.0C1273.6 3245.0 1278.9 3284.1 1284.5 3310.2C1290.1 3336.3 1299.4 3362.4 1305.0 3388.4C1310.6 3414.5 1315.6 3440.6 1318.1 3466.7C1320.5 3492.7 1320.2 3518.8 1319.9 3544.9C1319.6 3571.0 1317.7 3597.0 1316.2 3623.1C1314.6 3649.2 1313.4 3675.2 1310.6 3701.3C1307.8 3727.4 1304.1 3753.5 1299.4 3779.5C1294.7 3805.6 1288.8 3831.7 1282.6 3857.8C1276.4 3883.8 1269.2 3909.9 1262.1 3936.0C1254.9 3962.1 1243.4 4001.2 1239.7 4014.2" fill="none" stroke="#111" stroke-width="1.3" stroke-dasharray="72.9 53.0 282.9 53.0 99999.0"/>
<path d="M1226.6 3232.0C1229.4 3245.0 1236.9 3284.1 1243.4 3310.2C1249.9 3336.3 1259.9 3362.4 1265.8 3388.4C1271.7 3414.5 1275.9 3440.6 1278.9 3466.7C1281.8 3492.7 1283.4 3518.8 1283.7 3544.9C1284.0 3571.0 1282.5 3597.0 1280.7 3623.1C1279.0 3649.2 1276.7 3675.2 1273.3 3701.3C1269.8 3727.4 1265.8 3753.5 1260.2 3779.5C1254.6 3805.6 1246.5 3831.7 1239.7 3857.8C1232.8 3883.8 1226.6 3909.9 1219.1 3936.0C1211.7 3962.1 1198.9 4001.2 1194.9 4014.2" fill="none" stroke="#8c8c8c" stroke-opacity="0.55" stroke-width="0.9"/>
<path d="M1189.3 3232.0C1192.1 3245.0 1198.9 3284.1 1206.1 3310.2C1213.2 3336.3 1225.7 3362.4 1232.2 3388.4C1238.7 3414.5 1242.5 3440.6 1245.3 3466.7C1248.1 3492.7 1248.7 3518.8 1249.0 3544.9C1249.3 3571.0 1249.0 3597.0 1247.1 3623.1C1245.3 3649.2 1241.8 3675.2 1237.8 3701.3C1233.8 3727.4 1229.1 3753.5 1222.9 3779.5C1216.7 3805.6 1208.3 3831.7 1200.5 3857.8C1192.7 3883.8 1184.3 3909.9 1176.2 3936.0C1168.1 3962.1 1156.0 4001.2 1152.0 4014.2" fill="none" stroke="#c8c8c8" stroke-opacity="0.70" stroke-width="0.9"/>
<path d="M1152.0 3232.0C1155.4 3245.0 1164.7 3284.1 1172.5 3310.2C1180.3 3336.3 1192.1 3362.4 1198.6 3388.4C1205.1 3414.5 1208.9 3440.6 1211.7 3466.7C1214.5 3492.7 1215.4 3518.8 1215.4 3544.9C1215.4 3571.0 1213.5 3597.0 1211.7 3623.1C1209.8 3649.2 1207.9 3675.2 1204.2 3701.3C1200.5 3727.4 1195.8 3753.5 1189.3 3779.5C1182.7 3805.6 1174.0 3831.7 1165.0 3857.8C1156.0 3883.8 1144.8 3909.9 1135.2 3936.0C1125.5 3962.1 1111.8 4001.2 1107.2 4014.2" fill="none" stroke="#c8c8c8" stroke-opacity="0.70" stroke-width="0.9"/>
<path d="M1110.9 3232.0C1114.9 3245.0 1126.1 3284.1 1135.2 3310.2C1144.2 3336.3 1157.9 3362.4 1165.0 3388.4C1172.2 3414.5 1175.5 3440.6 1178.1 3466.7C1180.7 3492.7 1180.7 3518.8 1180.7 3544.9C1180.7 3571.0 1179.8 3597.0 1178.1 3623.1C1176.4 3649.2 1174.3 3675.2 1170.6 3701.3C1166.9 3727.4 1162.8 3753.5 1155.7 3779.5C1148.5 3805.6 1137.6 3831.7 1127.7 3857.8C1117.7 3883.8 1106.5 3909.9 1096.0 3936.0C1085.4 3962.1 1069.5 4001.2 1064.2 4014.2" fill="none" stroke="#111" stroke-width="1.3" stroke-dasharray="76.3 53.0 285.0 53.0 99999.0"/>
<path d="M1092.2 3232.0C1095.6 3245.0 1105.6 3284.1 1112.8 3310.2C1119.9 3336.3 1129.2 3362.4 1135.2 3388.4C1141.1 3414.5 1145.4 3440.6 1148.2 3466.7C1151.0 3492.7 1152.3 3518.8 1152.0 3544.9C1151.6 3571.0 1147.9 3597.0 1146.4 3623.1C1144.8 3649.2 1146.4 3675.2 1142.6 3701.3C1138.9 3727.4 1132.4 3753.5 1124.0 3779.5C1115.6 3805.6 1103.4 3831.7 1092.2 3857.8C1081.0 3883.8 1068.6 3909.9 1056.8 3936.0C1044.9 3962.1 1027.2 4001.2 1021.3 4014.2" fill="none" stroke="#e8e8e8" stroke-opacity="0.80" stroke-width="0.9"/>
<path d="M1075.4 3232.0C1077.6 3245.0 1083.5 3284.0 1088.5 3310.0C1093.5 3336.1 1100.3 3362.4 1105.3 3388.4C1110.3 3414.5 1115.2 3440.4 1118.4 3466.5C1121.5 3492.5 1125.2 3518.8 1124.0 3544.9C1122.7 3571.0 1113.1 3596.8 1110.9 3622.9C1108.7 3649.0 1114.9 3675.2 1110.9 3701.3C1106.8 3727.4 1097.8 3753.3 1086.6 3779.4C1075.4 3805.4 1057.7 3831.7 1043.7 3857.8C1029.7 3883.8 1012.4 3915.9 1002.6 3935.8C992.9 3955.6 988.0 3970.0 985.1 3976.9" fill="none" stroke="#8c8c8c" stroke-opacity="0.55" stroke-width="0.9"/>
<path d="M1058.6 3232.0C1059.9 3245.0 1062.7 3284.0 1066.1 3310.0C1069.5 3336.1 1074.8 3362.4 1079.2 3388.4C1083.5 3414.5 1089.1 3440.4 1092.2 3466.5C1095.3 3492.5 1098.1 3518.8 1097.8 3544.9C1097.5 3571.0 1092.8 3596.8 1090.4 3622.9C1087.9 3649.0 1089.1 3675.2 1082.9 3701.3C1076.7 3727.4 1063.6 3755.8 1053.0 3779.4C1042.5 3802.9 1029.4 3823.8 1019.4 3842.5C1009.5 3861.1 999.0 3881.0 993.3 3891.0C987.6 3900.9 986.5 3900.3 985.1 3902.2" fill="none" stroke="#8c8c8c" stroke-opacity="0.55" stroke-width="0.9"/>
<path d="M1041.8 3232.0C1042.5 3245.0 1043.7 3284.0 1045.6 3310.0C1047.4 3336.1 1049.6 3362.4 1053.0 3388.4C1056.5 3414.5 1062.7 3440.4 1066.1 3466.5C1069.5 3492.5 1072.9 3518.8 1073.6 3544.9C1074.2 3571.0 1072.6 3596.8 1069.8 3622.9C1067.0 3649.0 1065.5 3675.2 1056.8 3701.3C1048.1 3727.4 1026.9 3761.4 1017.6 3779.4C1008.2 3797.3 1006.2 3799.6 1000.8 3808.8C995.4 3818.1 987.7 3830.6 985.1 3835.0" fill="none" stroke="#111" stroke-width="1.3" stroke-dasharray="150.2 53.0 99999.0"/>
<path d="M1025.0 3232.0C1024.7 3245.0 1023.2 3284.0 1023.2 3310.0C1023.2 3336.1 1022.2 3362.4 1025.0 3388.4C1027.8 3414.5 1035.6 3440.4 1040.0 3466.5C1044.3 3492.5 1049.3 3518.8 1051.2 3544.9C1053.0 3571.0 1055.5 3596.8 1051.2 3622.9C1046.8 3649.0 1032.8 3681.5 1025.0 3701.3C1017.3 3721.1 1011.2 3729.9 1004.5 3741.6C997.9 3753.3 988.3 3766.5 985.1 3771.5" fill="none" stroke="#c8c8c8" stroke-opacity="0.70" stroke-width="0.9"/>
<path d="M1006.4 3232.0C1004.5 3245.0 997.0 3284.0 995.2 3310.0C993.3 3336.1 992.7 3362.4 995.2 3388.4C997.7 3414.5 1005.1 3440.4 1010.1 3466.5C1015.1 3492.5 1021.3 3518.8 1025.0 3544.9C1028.8 3571.0 1032.5 3603.8 1032.5 3622.9C1032.5 3642.0 1029.1 3647.8 1025.0 3659.5C1021.0 3671.2 1014.9 3682.8 1008.2 3693.1C1001.6 3703.4 989.0 3716.4 985.1 3721.1" fill="none" stroke="#e8e8e8" stroke-opacity="0.80" stroke-width="0.9"/>
<path d="M985.1 3521.4C986.5 3525.3 989.8 3534.3 993.3 3544.9C996.9 3555.5 1003.0 3571.8 1006.4 3584.8C1009.8 3597.8 1013.8 3611.1 1013.8 3622.9C1013.8 3634.7 1011.2 3646.6 1006.4 3655.8C1001.6 3665.0 988.6 3674.4 985.1 3678.2" fill="none" stroke="#c8c8c8" stroke-opacity="0.70" stroke-width="0.9"/>
<path d="M985.1 3599.8C986.5 3603.6 993.3 3616.1 993.3 3622.9C993.3 3629.8 986.5 3637.8 985.1 3640.8" fill="none" stroke="#111" stroke-width="1.3"/>
<path d="M1459.1 3805.1C1457.7 3812.0 1454.2 3830.6 1450.6 3846.2C1447.0 3861.7 1441.5 3883.5 1437.5 3898.5C1433.5 3913.4 1430.7 3922.7 1426.3 3935.8C1421.9 3948.9 1415.1 3963.8 1411.4 3976.9C1407.6 3989.9 1405.1 4008.0 1403.9 4014.2" fill="none" stroke="#e8e8e8" stroke-opacity="0.80" stroke-width="0.9"/>
<text transform="translate(1056.8 3407.5) rotate(78.0)" font-size="43" text-anchor="middle" y="14.2" fill="#111">29</text>
<text transform="translate(1146.4 3329.1) rotate(68.0)" font-size="43" text-anchor="middle" y="14.2" fill="#111">25</text>
<text transform="translate(1288.2 3332.8) rotate(70.0)" font-size="43" text-anchor="middle" y="14.2" fill="#111">21</text>
<text transform="translate(1174.3 3663.2) rotate(-80.0)" font-size="43" text-anchor="middle" y="14.2" fill="#111">25</text>
<text transform="translate(1314.3 3663.2) rotate(-85.0)" font-size="43" text-anchor="middle" y="14.2" fill="#111">21</text>
</g>
<rect x="985.1" y="3232.0" width="473.9" height="782.2" fill="none" stroke="#7a7a7a" stroke-width="2"/>
<path d="M1024.6 3232.0v-10.0M1024.6 4014.2v10.0M1103.6 3232.0v-10.0M1103.6 4014.2v10.0M1182.6 3232.0v-10.0M1182.6 4014.2v10.0M1261.5 3232.0v-10.0M1261.5 4014.2v10.0M1340.5 3232.0v-10.0M1340.5 4014.2v10.0M1419.5 3232.0v-10.0M1419.5 4014.2v10.0M985.1 3232.0h-10.0M1459.0 3232.0h10.0M985.1 3310.2h-10.0M1459.0 3310.2h10.0M985.1 3388.4h-10.0M1459.0 3388.4h10.0M985.1 3466.7h-10.0M1459.0 3466.7h10.0M985.1 3544.9h-10.0M1459.0 3544.9h10.0M985.1 3623.1h-10.0M1459.0 3623.1h10.0M985.1 3701.3h-10.0M1459.0 3701.3h10.0M985.1 3779.5h-10.0M1459.0 3779.5h10.0M985.1 3857.8h-10.0M1459.0 3857.8h10.0M985.1 3936.0h-10.0M1459.0 3936.0h10.0M985.1 4014.2h-10.0M1459.0 4014.2h10.0" stroke="#7a7a7a" stroke-width="2" fill="none"/>
<text fill="#1c1c1c" transform="translate(1024.6 4066.2) scale(1.060 1)" font-size="42" text-anchor="middle">4</text>
<text fill="#1c1c1c" transform="translate(1103.6 4066.2) scale(1.060 1)" font-size="42" text-anchor="middle">6</text>
<text fill="#1c1c1c" transform="translate(1182.6 4066.2) scale(1.060 1)" font-size="42" text-anchor="middle">8</text>
<text fill="#1c1c1c" transform="translate(1261.5 4066.2) scale(1.060 1)" font-size="42" text-anchor="middle">10</text>
<text fill="#1c1c1c" transform="translate(1340.5 4066.2) scale(1.060 1)" font-size="42" text-anchor="middle">12</text>
<text fill="#1c1c1c" transform="translate(1419.5 4066.2) scale(1.060 1)" font-size="42" text-anchor="middle">14</text>
<text fill="#1c1c1c" transform="translate(973.1 3246.0) scale(1.060 1)" font-size="42" text-anchor="end">0</text>
<text fill="#1c1c1c" transform="translate(973.1 3324.2) scale(1.060 1)" font-size="42" text-anchor="end">-2</text>
<text fill="#1c1c1c" transform="translate(973.1 3402.4) scale(1.060 1)" font-size="42" text-anchor="end">-4</text>
<text fill="#1c1c1c" transform="translate(973.1 3480.7) scale(1.060 1)" font-size="42" text-anchor="end">-6</text>
<text fill="#1c1c1c" transform="translate(973.1 3558.9) scale(1.060 1)" font-size="42" text-anchor="end">-8</text>
<text fill="#1c1c1c" transform="translate(973.1 3637.1) scale(1.060 1)" font-size="42" text-anchor="end">-10</text>
<text fill="#1c1c1c" transform="translate(973.1 3715.3) scale(1.060 1)" font-size="42" text-anchor="end">-12</text>
<text fill="#1c1c1c" transform="translate(973.1 3793.5) scale(1.060 1)" font-size="42" text-anchor="end">-14</text>
<text fill="#1c1c1c" transform="translate(973.1 3871.8) scale(1.060 1)" font-size="42" text-anchor="end">-16</text>
<text fill="#1c1c1c" transform="translate(973.1 3950.0) scale(1.060 1)" font-size="42" text-anchor="end">-18</text>
<text fill="#1c1c1c" transform="translate(973.1 4028.2) scale(1.060 1)" font-size="42" text-anchor="end">-20</text>
<text fill="#1c1c1c" transform="translate(1222.0 4125.2) scale(1.060 1)" font-size="43" text-anchor="middle">Horizontal distance/cm</text>
<text fill="#1c1c1c" transform="translate(893.1 3620.6) rotate(-90) scale(1.060 1)" font-size="43" text-anchor="middle">Vertical distance/cm</text>
<text transform="translate(1236.0 4195.7) scale(1.04 1)" font-size="59" text-anchor="middle" fill="#000">120 s</text>
<rect x="1533.0" y="3866.00" width="34.0" height="29.30" fill="#000000"/>
<rect x="1533.0" y="3837.00" width="34.0" height="29.30" fill="#00007A"/>
<rect x="1533.0" y="3808.00" width="34.0" height="29.30" fill="#0000FF"/>
<rect x="1533.0" y="3779.00" width="34.0" height="29.30" fill="#0055FF"/>
<rect x="1533.0" y="3750.00" width="34.0" height="29.30" fill="#00BFFF"/>
<rect x="1533.0" y="3721.00" width="34.0" height="29.30" fill="#00F5E6"/>
<rect x="1533.0" y="3692.00" width="34.0" height="29.30" fill="#00DDB0"/>
<rect x="1533.0" y="3663.00" width="34.0" height="29.30" fill="#00C870"/>
<rect x="1533.0" y="3634.00" width="34.0" height="29.30" fill="#00B020"/>
<rect x="1533.0" y="3605.00" width="34.0" height="29.30" fill="#00A800"/>
<rect x="1533.0" y="3576.00" width="34.0" height="29.30" fill="#90E000"/>
<rect x="1533.0" y="3547.00" width="34.0" height="29.30" fill="#FFE500"/>
<rect x="1533.0" y="3518.00" width="34.0" height="29.30" fill="#FFA500"/>
<rect x="1533.0" y="3489.00" width="34.0" height="29.30" fill="#FF5F00"/>
<rect x="1533.0" y="3460.00" width="34.0" height="29.30" fill="#FF1400"/>
<rect x="1533.0" y="3431.00" width="34.0" height="29.30" fill="#FF3232"/>
<rect x="1533.0" y="3402.00" width="34.0" height="29.30" fill="#FF8C8C"/>
<rect x="1533.0" y="3373.00" width="34.0" height="29.30" fill="#FFE5E5"/>
<path d="M1533.0 3866.0h34.0M1533.0 3837.0h34.0M1533.0 3808.0h34.0M1533.0 3779.0h34.0M1533.0 3750.0h34.0M1533.0 3721.0h34.0M1533.0 3692.0h34.0M1533.0 3663.0h34.0M1533.0 3634.0h34.0M1533.0 3605.0h34.0M1533.0 3576.0h34.0M1533.0 3547.0h34.0M1533.0 3518.0h34.0M1533.0 3489.0h34.0M1533.0 3460.0h34.0M1533.0 3431.0h34.0M1533.0 3402.0h34.0" stroke="#333" stroke-opacity="0.6" stroke-width="1.2" fill="none"/>
<rect x="1533.0" y="3373.0" width="34.0" height="522.0" fill="none" stroke="#666" stroke-width="1.6"/>
<text fill="#1c1c1c" transform="translate(1580.0 3908.5) scale(1.060 1)" font-size="42">17</text>
<text fill="#1c1c1c" transform="translate(1580.0 3850.5) scale(1.060 1)" font-size="42">19</text>
<text fill="#1c1c1c" transform="translate(1580.0 3792.5) scale(1.060 1)" font-size="42">21</text>
<text fill="#1c1c1c" transform="translate(1580.0 3734.5) scale(1.060 1)" font-size="42">23</text>
<text fill="#1c1c1c" transform="translate(1580.0 3676.5) scale(1.060 1)" font-size="42">25</text>
<text fill="#1c1c1c" transform="translate(1580.0 3618.5) scale(1.060 1)" font-size="42">27</text>
<text fill="#1c1c1c" transform="translate(1580.0 3560.5) scale(1.060 1)" font-size="42">29</text>
<text fill="#1c1c1c" transform="translate(1580.0 3502.5) scale(1.060 1)" font-size="42">31</text>
<text fill="#1c1c1c" transform="translate(1580.0 3444.5) scale(1.060 1)" font-size="42">33</text>
<clipPath id="c12"><rect x="1825.8" y="3232.0" width="473.9" height="782.2"/></clipPath>
<g clip-path="url(#c12)">
<rect x="1824.8" y="3231.0" width="475.9" height="784.2" fill="#0000FF"/>
<path d="M2263.3 3232.0C2264.2 3245.0 2265.8 3284.1 2268.9 3310.2C2272.0 3336.3 2278.2 3362.4 2281.9 3388.4C2285.7 3414.5 2289.1 3440.6 2291.3 3466.7C2293.4 3492.7 2295.9 3525.3 2295.0 3544.9C2294.1 3564.4 2288.2 3571.0 2285.7 3584.0C2283.2 3597.0 2280.1 3610.1 2280.1 3623.1C2280.1 3636.1 2284.1 3649.2 2285.7 3662.2C2287.2 3675.2 2289.4 3681.8 2289.4 3701.3C2289.4 3720.9 2288.2 3753.5 2285.7 3779.5C2283.2 3805.6 2280.4 3831.7 2274.5 3857.8C2268.6 3883.8 2255.5 3909.9 2250.2 3936.0C2244.9 3962.1 2244.0 4001.2 2242.7 4014.2L2242.7 4019.2 L1820.8 4019.2L1820.8 3227.0 L2263.3 3227.0Z" fill="#0055FF"/>
<path d="M2242.7 3232.0C2242.7 3245.0 2240.9 3284.1 2242.7 3310.2C2244.6 3336.3 2250.2 3362.4 2253.9 3388.4C2257.7 3414.5 2262.0 3440.6 2265.1 3466.7C2268.2 3492.7 2272.0 3525.3 2272.6 3544.9C2273.2 3564.4 2270.1 3571.0 2268.9 3584.0C2267.6 3597.0 2265.4 3610.1 2265.1 3623.1C2264.8 3636.1 2267.0 3649.2 2267.0 3662.2C2267.0 3675.2 2267.0 3681.8 2265.1 3701.3C2263.3 3720.9 2260.2 3753.5 2255.8 3779.5C2251.4 3805.6 2244.3 3831.7 2239.0 3857.8C2233.7 3883.8 2227.2 3909.9 2224.1 3936.0C2221.0 3962.1 2221.0 4001.2 2220.3 4014.2L2220.3 4019.2 L1820.8 4019.2L1820.8 3227.0 L2242.7 3227.0Z" fill="#00BFFF"/>
<path d="M2220.3 3232.0C2220.0 3245.0 2217.2 3284.1 2218.5 3310.2C2219.7 3336.3 2224.1 3362.4 2227.8 3388.4C2231.5 3414.5 2237.1 3440.6 2240.9 3466.7C2244.6 3492.7 2248.5 3525.3 2250.2 3544.9C2251.9 3564.4 2251.3 3571.0 2251.3 3584.0C2251.3 3597.0 2250.4 3610.1 2250.2 3623.1C2250.0 3636.1 2251.4 3649.2 2250.2 3662.2C2249.0 3675.2 2246.5 3681.8 2242.7 3701.3C2239.0 3720.9 2233.4 3753.5 2227.8 3779.5C2222.2 3805.6 2214.4 3831.7 2209.1 3857.8C2203.9 3883.8 2198.3 3909.9 2196.1 3936.0C2193.9 3962.1 2196.1 4001.2 2196.1 4014.2L2196.1 4019.2 L1820.8 4019.2L1820.8 3227.0 L2220.3 3227.0Z" fill="#00F5E6"/>
<path d="M2199.8 3232.0C2198.3 3245.0 2190.8 3284.0 2190.5 3310.0C2190.2 3336.1 2193.9 3362.4 2197.9 3388.4C2202.0 3414.5 2209.8 3440.4 2214.7 3466.5C2219.7 3492.5 2225.0 3525.3 2227.8 3544.9C2230.6 3564.5 2230.6 3571.1 2231.5 3584.1C2232.5 3597.1 2233.4 3609.9 2233.4 3622.9C2233.4 3635.9 2233.7 3649.0 2231.5 3662.1C2229.4 3675.2 2225.3 3681.8 2220.3 3701.3C2215.4 3720.9 2208.5 3753.3 2201.7 3779.4C2194.8 3805.4 2185.2 3837.3 2179.3 3857.8C2173.4 3878.2 2169.0 3889.2 2166.2 3902.2C2163.4 3915.2 2163.4 3923.3 2162.5 3935.8C2161.6 3948.2 2161.2 3963.8 2160.6 3976.9C2160.0 3989.9 2159.1 4008.0 2158.8 4014.2L2158.8 4019.2 L1820.8 4019.2L1820.8 3227.0 L2199.8 3227.0Z" fill="#00DDB0"/>
<path d="M2166.2 3232.0C2164.4 3245.0 2154.4 3284.0 2155.0 3310.0C2155.6 3336.1 2164.4 3362.4 2170.0 3388.4C2175.6 3414.5 2183.0 3440.4 2188.6 3466.5C2194.2 3492.5 2199.5 3525.3 2203.5 3544.9C2207.6 3564.5 2210.4 3571.1 2212.9 3584.1C2215.4 3597.1 2218.2 3609.9 2218.5 3622.9C2218.8 3635.9 2217.5 3649.0 2214.7 3662.1C2211.9 3675.2 2207.6 3681.8 2201.7 3701.3C2195.8 3720.9 2187.7 3753.3 2179.3 3779.4C2170.9 3805.4 2158.4 3837.3 2151.3 3857.8C2144.1 3878.2 2140.1 3889.2 2136.4 3902.2C2132.6 3915.2 2133.2 3923.3 2128.9 3935.8C2124.5 3948.2 2116.8 3963.8 2110.2 3976.9C2103.7 3989.9 2093.1 4008.0 2089.7 4014.2L2089.7 4019.2 L1820.8 4019.2L1820.8 3227.0 L2166.2 3227.0Z" fill="#00C870"/>
<path d="M2063.6 3232.0C2067.0 3238.5 2077.3 3258.2 2084.1 3271.2C2090.9 3284.2 2096.5 3290.5 2104.6 3310.0C2112.7 3329.6 2124.2 3362.4 2132.6 3388.4C2141.0 3414.5 2147.6 3440.4 2155.0 3466.5C2162.5 3492.5 2170.9 3525.3 2177.4 3544.9C2183.9 3564.5 2190.2 3571.1 2194.2 3584.1C2198.3 3597.1 2201.7 3609.9 2201.7 3622.9C2201.7 3635.9 2198.9 3649.0 2194.2 3662.1C2189.5 3675.2 2182.1 3681.8 2173.7 3701.3C2165.3 3720.9 2153.8 3753.3 2143.8 3779.4C2133.9 3805.4 2124.5 3831.7 2114.0 3857.8C2103.4 3883.8 2091.9 3909.7 2080.4 3935.8C2068.9 3961.9 2050.8 4001.1 2044.9 4014.2L2044.9 4019.2 L1820.8 4019.2L1820.8 3227.0 L2063.6 3227.0Z" fill="#00B020"/>
<path d="M2033.7 3232.0C2037.8 3245.0 2048.3 3284.0 2058.0 3310.0C2067.6 3336.1 2081.6 3362.4 2091.6 3388.4C2101.5 3414.5 2108.1 3440.4 2117.7 3466.5C2127.3 3492.5 2140.1 3525.3 2149.4 3544.9C2158.8 3564.5 2167.5 3572.8 2173.7 3584.1C2179.9 3595.4 2184.3 3606.4 2186.7 3612.8C2189.2 3619.3 2188.9 3618.9 2188.6 3622.9C2188.3 3627.0 2188.6 3630.6 2184.9 3637.1C2181.2 3643.6 2174.9 3651.4 2166.2 3662.1C2157.5 3672.8 2144.1 3681.8 2132.6 3701.3C2121.1 3720.9 2108.1 3753.3 2097.2 3779.4C2086.3 3805.4 2077.6 3831.7 2067.3 3857.8C2057.0 3883.8 2044.6 3909.7 2035.6 3935.8C2026.6 3961.9 2016.9 4001.1 2013.2 4014.2L2013.2 4019.2 L1820.8 4019.2L1820.8 3227.0 L2033.7 3227.0Z" fill="#00A800"/>
<path d="M2003.8 3232.0C2006.3 3245.0 2011.3 3284.0 2018.8 3310.0C2026.2 3336.1 2039.3 3362.4 2048.6 3388.4C2058.0 3414.5 2067.0 3440.4 2074.8 3466.5C2082.5 3492.5 2088.8 3525.3 2095.3 3544.9C2101.8 3564.5 2109.3 3573.1 2114.0 3584.1C2118.6 3595.1 2121.4 3604.5 2123.3 3611.0C2125.2 3617.4 2125.2 3618.9 2125.2 3622.9C2125.2 3627.0 2125.2 3628.7 2123.3 3635.2C2121.4 3641.8 2119.3 3651.1 2114.0 3662.1C2108.7 3673.1 2101.8 3681.8 2091.6 3701.3C2081.3 3720.9 2063.6 3753.3 2052.4 3779.4C2041.2 3805.4 2033.4 3831.7 2024.4 3857.8C2015.4 3883.8 2005.1 3909.7 1998.2 3935.8C1991.4 3961.9 1985.8 4001.1 1983.3 4014.2L1983.3 4019.2 L1820.8 4019.2L1820.8 3227.0 L2003.8 3227.0Z" fill="#90E000"/>
<path d="M1972.1 3232.0C1974.6 3245.0 1980.2 3284.0 1987.1 3310.0C1993.9 3336.1 2004.8 3362.4 2013.2 3388.4C2021.6 3414.5 2030.6 3440.4 2037.4 3466.5C2044.3 3492.5 2051.1 3525.3 2054.2 3544.9C2057.4 3564.5 2056.2 3571.1 2056.1 3584.1C2056.0 3597.1 2055.0 3609.9 2053.5 3622.9C2051.9 3635.9 2049.4 3649.0 2046.8 3662.1C2044.1 3675.2 2044.6 3681.8 2037.4 3701.3C2030.3 3720.9 2014.1 3753.3 2003.8 3779.4C1993.6 3805.4 1984.3 3831.7 1975.9 3857.8C1967.5 3883.8 1957.8 3915.9 1953.5 3935.8C1949.1 3955.6 1950.7 3963.8 1949.7 3976.9C1948.8 3989.9 1948.2 4008.0 1947.9 4014.2L1947.9 4019.2 L1820.8 4019.2L1820.8 3227.0 L1972.1 3227.0Z" fill="#FFE500"/>
<path d="M1940.4 3232.0C1942.6 3245.0 1947.2 3284.0 1953.5 3310.0C1959.7 3336.1 1970.3 3362.4 1977.7 3388.4C1985.2 3414.5 1993.0 3440.4 1998.2 3466.5C2003.5 3492.5 2007.4 3525.3 2009.4 3544.9C2011.5 3564.5 2010.8 3571.1 2010.6 3584.1C2010.4 3597.1 2009.4 3609.9 2008.3 3622.9C2007.2 3635.9 2005.8 3649.0 2003.8 3662.1C2001.9 3675.2 2003.5 3681.8 1996.4 3701.3C1989.2 3720.9 1971.8 3753.3 1960.9 3779.4C1950.0 3805.4 1939.1 3837.3 1931.1 3857.8C1923.0 3878.2 1918.6 3889.2 1912.4 3902.2C1906.2 3915.2 1900.6 3925.2 1893.7 3935.8C1886.9 3946.4 1879.4 3957.6 1871.3 3965.7C1863.3 3973.8 1852.8 3979.4 1845.2 3984.3C1837.6 3989.3 1829.0 3993.7 1825.8 3995.5L1820.8 3995.5L1820.8 3227.0 L1940.4 3227.0Z" fill="#FFA500"/>
<path d="M1910.5 3232.0C1912.4 3245.0 1916.8 3284.0 1921.7 3310.0C1926.7 3336.1 1934.2 3362.4 1940.4 3388.4C1946.6 3414.5 1954.1 3440.4 1959.1 3466.5C1964.0 3492.5 1968.4 3525.3 1970.3 3544.9C1972.1 3564.5 1970.6 3571.1 1970.3 3584.1C1969.9 3597.1 1969.3 3609.9 1968.4 3622.9C1967.5 3635.9 1967.1 3649.0 1964.7 3662.1C1962.2 3675.2 1961.5 3681.8 1953.5 3701.3C1945.4 3720.9 1931.7 3753.3 1916.1 3779.4C1900.6 3805.4 1872.6 3839.2 1860.1 3857.8C1847.7 3876.4 1847.2 3881.1 1841.5 3891.0C1835.8 3900.9 1828.4 3912.8 1825.8 3917.1L1820.8 3917.1L1820.8 3227.0 L1910.5 3227.0Z" fill="#FF5F00"/>
<path d="M1876.9 3232.0C1878.2 3245.0 1880.4 3284.0 1884.4 3310.0C1888.4 3336.1 1895.3 3362.4 1901.2 3388.4C1907.1 3414.5 1914.6 3440.4 1919.9 3466.5C1925.2 3492.5 1931.1 3525.3 1932.9 3544.9C1934.8 3564.5 1931.7 3571.1 1931.1 3584.1C1930.4 3597.1 1930.1 3609.9 1929.2 3622.9C1928.3 3635.9 1928.0 3649.0 1925.5 3662.1C1923.0 3675.2 1923.3 3681.8 1914.3 3701.3C1905.2 3720.9 1882.8 3760.2 1871.3 3779.4C1859.8 3798.5 1852.8 3806.4 1845.2 3816.3C1837.6 3826.2 1829.0 3835.0 1825.8 3838.7L1820.8 3838.7L1820.8 3227.0 L1876.9 3227.0Z" fill="#FF1400"/>
<path d="M1841.5 3232.0C1842.1 3245.0 1842.4 3284.0 1845.2 3310.0C1848.0 3336.1 1852.4 3362.4 1858.3 3388.4C1864.2 3414.5 1874.8 3440.4 1880.7 3466.5C1886.6 3492.5 1891.1 3525.3 1893.7 3544.9C1896.4 3564.5 1896.2 3571.1 1896.7 3584.1C1897.2 3597.1 1897.5 3609.9 1896.7 3622.9C1895.9 3635.9 1895.5 3649.0 1891.9 3662.1C1888.3 3675.2 1882.2 3688.1 1875.1 3701.3C1867.9 3714.6 1857.2 3731.2 1848.9 3741.6C1840.7 3752.1 1829.7 3760.3 1825.8 3764.0L1820.8 3764.0L1820.8 3227.0 L1841.5 3227.0Z" fill="#FF3232"/>
<path d="M1825.8 3480.3C1827.8 3485.3 1833.6 3499.4 1837.7 3510.2C1841.9 3520.9 1846.8 3532.6 1850.8 3544.9C1854.9 3557.2 1859.5 3571.1 1862.0 3584.1C1864.5 3597.1 1867.3 3609.9 1865.7 3622.9C1864.2 3635.9 1857.3 3651.7 1852.7 3662.1C1848.0 3672.6 1842.2 3679.9 1837.7 3685.6C1833.3 3691.4 1827.8 3695.0 1825.8 3696.8L1820.8 3696.8L1820.8 3480.3Z" fill="#FF8C8C"/>
<path d="M1825.8 3611.0C1826.5 3613.0 1830.3 3619.2 1830.3 3622.9C1830.3 3626.6 1826.5 3631.6 1825.8 3633.4L1820.8 3633.4L1820.8 3611.0Z" fill="#FFE5E5"/>
<path d="M2285.7 3232.0C2287.2 3236.0 2292.6 3248.5 2295.0 3256.3C2297.4 3264.0 2299.0 3274.9 2299.8 3278.7L2304.7 3278.7L2304.7 3227.0 L2285.7 3227.0Z" fill="#00007A"/>
<path d="M2299.8 3603.5C2299.0 3606.7 2295.0 3616.7 2295.0 3622.9C2295.0 3629.1 2299.0 3637.8 2299.8 3640.8L2304.7 3640.8L2304.7 3603.5Z" fill="#00007A"/>
<path d="M2299.8 3894.7C2298.1 3899.1 2292.4 3914.0 2289.4 3920.9C2286.4 3927.7 2285.0 3926.5 2281.9 3935.8C2278.8 3945.1 2273.5 3963.8 2270.7 3976.9C2267.9 3989.9 2266.1 4008.0 2265.1 4014.2L2265.1 4019.2 L2304.7 4019.2L2304.7 3894.7Z" fill="#00007A"/>
<path d="M2299.8 3976.9C2298.4 3980.6 2293.3 3993.0 2291.3 3999.3C2289.2 4005.5 2288.2 4011.7 2287.5 4014.2L2287.5 4019.2 L2304.7 4019.2L2304.7 3976.9Z" fill="#000000"/>
<path d="M2263.3 3232.0C2264.2 3245.0 2265.8 3284.1 2268.9 3310.2C2272.0 3336.3 2278.2 3362.4 2281.9 3388.4C2285.7 3414.5 2289.1 3440.6 2291.3 3466.7C2293.4 3492.7 2295.9 3525.3 2295.0 3544.9C2294.1 3564.4 2288.2 3571.0 2285.7 3584.0C2283.2 3597.0 2280.1 3610.1 2280.1 3623.1C2280.1 3636.1 2284.1 3649.2 2285.7 3662.2C2287.2 3675.2 2289.4 3681.8 2289.4 3701.3C2289.4 3720.9 2288.2 3753.5 2285.7 3779.5C2283.2 3805.6 2280.4 3831.7 2274.5 3857.8C2268.6 3883.8 2255.5 3909.9 2250.2 3936.0C2244.9 3962.1 2244.0 4001.2 2242.7 4014.2" fill="none" stroke="#111" stroke-width="1.3"/>
<path d="M2242.7 3232.0C2242.7 3245.0 2240.9 3284.1 2242.7 3310.2C2244.6 3336.3 2250.2 3362.4 2253.9 3388.4C2257.7 3414.5 2262.0 3440.6 2265.1 3466.7C2268.2 3492.7 2272.0 3525.3 2272.6 3544.9C2273.2 3564.4 2270.1 3571.0 2268.9 3584.0C2267.6 3597.0 2265.4 3610.1 2265.1 3623.1C2264.8 3636.1 2267.0 3649.2 2267.0 3662.2C2267.0 3675.2 2267.0 3681.8 2265.1 3701.3C2263.3 3720.9 2260.2 3753.5 2255.8 3779.5C2251.4 3805.6 2244.3 3831.7 2239.0 3857.8C2233.7 3883.8 2227.2 3909.9 2224.1 3936.0C2221.0 3962.1 2221.0 4001.2 2220.3 4014.2" fill="none" stroke="#c8c8c8" stroke-opacity="0.70" stroke-width="0.9"/>
<path d="M2220.3 3232.0C2220.0 3245.0 2217.2 3284.1 2218.5 3310.2C2219.7 3336.3 2224.1 3362.4 2227.8 3388.4C2231.5 3414.5 2237.1 3440.6 2240.9 3466.7C2244.6 3492.7 2248.5 3525.3 2250.2 3544.9C2251.9 3564.4 2251.3 3571.0 2251.3 3584.0C2251.3 3597.0 2250.4 3610.1 2250.2 3623.1C2250.0 3636.1 2251.4 3649.2 2250.2 3662.2C2249.0 3675.2 2246.5 3681.8 2242.7 3701.3C2239.0 3720.9 2233.4 3753.5 2227.8 3779.5C2222.2 3805.6 2214.4 3831.7 2209.1 3857.8C2203.9 3883.8 2198.3 3909.9 2196.1 3936.0C2193.9 3962.1 2196.1 4001.2 2196.1 4014.2" fill="none" stroke="#8c8c8c" stroke-opacity="0.55" stroke-width="0.9"/>
<path d="M2199.8 3232.0C2198.3 3245.0 2190.8 3284.0 2190.5 3310.0C2190.2 3336.1 2193.9 3362.4 2197.9 3388.4C2202.0 3414.5 2209.8 3440.4 2214.7 3466.5C2219.7 3492.5 2225.0 3525.3 2227.8 3544.9C2230.6 3564.5 2230.6 3571.1 2231.5 3584.1C2232.5 3597.1 2233.4 3609.9 2233.4 3622.9C2233.4 3635.9 2233.7 3649.0 2231.5 3662.1C2229.4 3675.2 2225.3 3681.8 2220.3 3701.3C2215.4 3720.9 2208.5 3753.3 2201.7 3779.4C2194.8 3805.4 2185.2 3837.3 2179.3 3857.8C2173.4 3878.2 2169.0 3889.2 2166.2 3902.2C2163.4 3915.2 2163.4 3923.3 2162.5 3935.8C2161.6 3948.2 2161.2 3963.8 2160.6 3976.9C2160.0 3989.9 2159.1 4008.0 2158.8 4014.2" fill="none" stroke="#111" stroke-width="1.3" stroke-dasharray="78.3 53.0 288.6 53.0 99999.0"/>
<path d="M2166.2 3232.0C2164.4 3245.0 2154.4 3284.0 2155.0 3310.0C2155.6 3336.1 2164.4 3362.4 2170.0 3388.4C2175.6 3414.5 2183.0 3440.4 2188.6 3466.5C2194.2 3492.5 2199.5 3525.3 2203.5 3544.9C2207.6 3564.5 2210.4 3571.1 2212.9 3584.1C2215.4 3597.1 2218.2 3609.9 2218.5 3622.9C2218.8 3635.9 2217.5 3649.0 2214.7 3662.1C2211.9 3675.2 2207.6 3681.8 2201.7 3701.3C2195.8 3720.9 2187.7 3753.3 2179.3 3779.4C2170.9 3805.4 2158.4 3837.3 2151.3 3857.8C2144.1 3878.2 2140.1 3889.2 2136.4 3902.2C2132.6 3915.2 2133.2 3923.3 2128.9 3935.8C2124.5 3948.2 2116.8 3963.8 2110.2 3976.9C2103.7 3989.9 2093.1 4008.0 2089.7 4014.2" fill="none" stroke="#c8c8c8" stroke-opacity="0.70" stroke-width="0.9"/>
<path d="M2063.6 3232.0C2067.0 3238.5 2077.3 3258.2 2084.1 3271.2C2090.9 3284.2 2096.5 3290.5 2104.6 3310.0C2112.7 3329.6 2124.2 3362.4 2132.6 3388.4C2141.0 3414.5 2147.6 3440.4 2155.0 3466.5C2162.5 3492.5 2170.9 3525.3 2177.4 3544.9C2183.9 3564.5 2190.2 3571.1 2194.2 3584.1C2198.3 3597.1 2201.7 3609.9 2201.7 3622.9C2201.7 3635.9 2198.9 3649.0 2194.2 3662.1C2189.5 3675.2 2182.1 3681.8 2173.7 3701.3C2165.3 3720.9 2153.8 3753.3 2143.8 3779.4C2133.9 3805.4 2124.5 3831.7 2114.0 3857.8C2103.4 3883.8 2091.9 3909.7 2080.4 3935.8C2068.9 3961.9 2050.8 4001.1 2044.9 4014.2" fill="none" stroke="#e8e8e8" stroke-opacity="0.80" stroke-width="0.9"/>
<path d="M2033.7 3232.0C2037.8 3245.0 2048.3 3284.0 2058.0 3310.0C2067.6 3336.1 2081.6 3362.4 2091.6 3388.4C2101.5 3414.5 2108.1 3440.4 2117.7 3466.5C2127.3 3492.5 2140.1 3525.3 2149.4 3544.9C2158.8 3564.5 2167.5 3572.8 2173.7 3584.1C2179.9 3595.4 2184.3 3606.4 2186.7 3612.8C2189.2 3619.3 2188.9 3618.9 2188.6 3622.9C2188.3 3627.0 2188.6 3630.6 2184.9 3637.1C2181.2 3643.6 2174.9 3651.4 2166.2 3662.1C2157.5 3672.8 2144.1 3681.8 2132.6 3701.3C2121.1 3720.9 2108.1 3753.3 2097.2 3779.4C2086.3 3805.4 2077.6 3831.7 2067.3 3857.8C2057.0 3883.8 2044.6 3909.7 2035.6 3935.8C2026.6 3961.9 2016.9 4001.1 2013.2 4014.2" fill="none" stroke="#111" stroke-width="1.3" stroke-dasharray="76.4 53.0 309.0 53.0 99999.0"/>
<path d="M2003.8 3232.0C2006.3 3245.0 2011.3 3284.0 2018.8 3310.0C2026.2 3336.1 2039.3 3362.4 2048.6 3388.4C2058.0 3414.5 2067.0 3440.4 2074.8 3466.5C2082.5 3492.5 2088.8 3525.3 2095.3 3544.9C2101.8 3564.5 2109.3 3573.1 2114.0 3584.1C2118.6 3595.1 2121.4 3604.5 2123.3 3611.0C2125.2 3617.4 2125.2 3618.9 2125.2 3622.9C2125.2 3627.0 2125.2 3628.7 2123.3 3635.2C2121.4 3641.8 2119.3 3651.1 2114.0 3662.1C2108.7 3673.1 2101.8 3681.8 2091.6 3701.3C2081.3 3720.9 2063.6 3753.3 2052.4 3779.4C2041.2 3805.4 2033.4 3831.7 2024.4 3857.8C2015.4 3883.8 2005.1 3909.7 1998.2 3935.8C1991.4 3961.9 1985.8 4001.1 1983.3 4014.2" fill="none" stroke="#8c8c8c" stroke-opacity="0.55" stroke-width="0.9"/>
<path d="M1972.1 3232.0C1974.6 3245.0 1980.2 3284.0 1987.1 3310.0C1993.9 3336.1 2004.8 3362.4 2013.2 3388.4C2021.6 3414.5 2030.6 3440.4 2037.4 3466.5C2044.3 3492.5 2051.1 3525.3 2054.2 3544.9C2057.4 3564.5 2056.2 3571.1 2056.1 3584.1C2056.0 3597.1 2055.0 3609.9 2053.5 3622.9C2051.9 3635.9 2049.4 3649.0 2046.8 3662.1C2044.1 3675.2 2044.6 3681.8 2037.4 3701.3C2030.3 3720.9 2014.1 3753.3 2003.8 3779.4C1993.6 3805.4 1984.3 3831.7 1975.9 3857.8C1967.5 3883.8 1957.8 3915.9 1953.5 3935.8C1949.1 3955.6 1950.7 3963.8 1949.7 3976.9C1948.8 3989.9 1948.2 4008.0 1947.9 4014.2" fill="none" stroke="#8c8c8c" stroke-opacity="0.55" stroke-width="0.9"/>
<path d="M1940.4 3232.0C1942.6 3245.0 1947.2 3284.0 1953.5 3310.0C1959.7 3336.1 1970.3 3362.4 1977.7 3388.4C1985.2 3414.5 1993.0 3440.4 1998.2 3466.5C2003.5 3492.5 2007.4 3525.3 2009.4 3544.9C2011.5 3564.5 2010.8 3571.1 2010.6 3584.1C2010.4 3597.1 2009.4 3609.9 2008.3 3622.9C2007.2 3635.9 2005.8 3649.0 2003.8 3662.1C2001.9 3675.2 2003.5 3681.8 1996.4 3701.3C1989.2 3720.9 1971.8 3753.3 1960.9 3779.4C1950.0 3805.4 1939.1 3837.3 1931.1 3857.8C1923.0 3878.2 1918.6 3889.2 1912.4 3902.2C1906.2 3915.2 1900.6 3925.2 1893.7 3935.8C1886.9 3946.4 1879.4 3957.6 1871.3 3965.7C1863.3 3973.8 1852.8 3979.4 1845.2 3984.3C1837.6 3989.3 1829.0 3993.7 1825.8 3995.5" fill="none" stroke="#111" stroke-width="1.3" stroke-dasharray="73.0 53.0 286.4 53.0 99999.0"/>
<path d="M1910.5 3232.0C1912.4 3245.0 1916.8 3284.0 1921.7 3310.0C1926.7 3336.1 1934.2 3362.4 1940.4 3388.4C1946.6 3414.5 1954.1 3440.4 1959.1 3466.5C1964.0 3492.5 1968.4 3525.3 1970.3 3544.9C1972.1 3564.5 1970.6 3571.1 1970.3 3584.1C1969.9 3597.1 1969.3 3609.9 1968.4 3622.9C1967.5 3635.9 1967.1 3649.0 1964.7 3662.1C1962.2 3675.2 1961.5 3681.8 1953.5 3701.3C1945.4 3720.9 1931.7 3753.3 1916.1 3779.4C1900.6 3805.4 1872.6 3839.2 1860.1 3857.8C1847.7 3876.4 1847.2 3881.1 1841.5 3891.0C1835.8 3900.9 1828.4 3912.8 1825.8 3917.1" fill="none" stroke="#c8c8c8" stroke-opacity="0.70" stroke-width="0.9"/>
<path d="M1876.9 3232.0C1878.2 3245.0 1880.4 3284.0 1884.4 3310.0C1888.4 3336.1 1895.3 3362.4 1901.2 3388.4C1907.1 3414.5 1914.6 3440.4 1919.9 3466.5C1925.2 3492.5 1931.1 3525.3 1932.9 3544.9C1934.8 3564.5 1931.7 3571.1 1931.1 3584.1C1930.4 3597.1 1930.1 3609.9 1929.2 3622.9C1928.3 3635.9 1928.0 3649.0 1925.5 3662.1C1923.0 3675.2 1923.3 3681.8 1914.3 3701.3C1905.2 3720.9 1882.8 3760.2 1871.3 3779.4C1859.8 3798.5 1852.8 3806.4 1845.2 3816.3C1837.6 3826.2 1829.0 3835.0 1825.8 3838.7" fill="none" stroke="#e8e8e8" stroke-opacity="0.80" stroke-width="0.9"/>
<path d="M1841.5 3232.0C1842.1 3245.0 1842.4 3284.0 1845.2 3310.0C1848.0 3336.1 1852.4 3362.4 1858.3 3388.4C1864.2 3414.5 1874.8 3440.4 1880.7 3466.5C1886.6 3492.5 1891.1 3525.3 1893.7 3544.9C1896.4 3564.5 1896.2 3571.1 1896.7 3584.1C1897.2 3597.1 1897.5 3609.9 1896.7 3622.9C1895.9 3635.9 1895.5 3649.0 1891.9 3662.1C1888.3 3675.2 1882.2 3688.1 1875.1 3701.3C1867.9 3714.6 1857.2 3731.2 1848.9 3741.6C1840.7 3752.1 1829.7 3760.3 1825.8 3764.0" fill="none" stroke="#111" stroke-width="1.3" stroke-dasharray="319.6 53.0 99999.0"/>
<path d="M1825.8 3480.3C1827.8 3485.3 1833.6 3499.4 1837.7 3510.2C1841.9 3520.9 1846.8 3532.6 1850.8 3544.9C1854.9 3557.2 1859.5 3571.1 1862.0 3584.1C1864.5 3597.1 1867.3 3609.9 1865.7 3622.9C1864.2 3635.9 1857.3 3651.7 1852.7 3662.1C1848.0 3672.6 1842.2 3679.9 1837.7 3685.6C1833.3 3691.4 1827.8 3695.0 1825.8 3696.8" fill="none" stroke="#8c8c8c" stroke-opacity="0.55" stroke-width="0.9"/>
<path d="M1825.8 3611.0C1826.5 3613.0 1830.3 3619.2 1830.3 3622.9C1830.3 3626.6 1826.5 3631.6 1825.8 3633.4" fill="none" stroke="#8c8c8c" stroke-opacity="0.55" stroke-width="0.9"/>
<path d="M2285.7 3232.0C2287.2 3236.0 2292.6 3248.5 2295.0 3256.3C2297.4 3264.0 2299.0 3274.9 2299.8 3278.7" fill="none" stroke="#e8e8e8" stroke-opacity="0.80" stroke-width="0.9"/>
<path d="M2299.8 3603.5C2299.0 3606.7 2295.0 3616.7 2295.0 3622.9C2295.0 3629.1 2299.0 3637.8 2299.8 3640.8" fill="none" stroke="#e8e8e8" stroke-opacity="0.80" stroke-width="0.9"/>
<path d="M2299.8 3894.7C2298.1 3899.1 2292.4 3914.0 2289.4 3920.9C2286.4 3927.7 2285.0 3926.5 2281.9 3935.8C2278.8 3945.1 2273.5 3963.8 2270.7 3976.9C2267.9 3989.9 2266.1 4008.0 2265.1 4014.2" fill="none" stroke="#e8e8e8" stroke-opacity="0.80" stroke-width="0.9"/>
<path d="M2299.8 3976.9C2298.4 3980.6 2293.3 3993.0 2291.3 3999.3C2289.2 4005.5 2288.2 4011.7 2287.5 4014.2" fill="none" stroke="#e8e8e8" stroke-opacity="0.80" stroke-width="0.9"/>
<text transform="translate(1962.8 3330.9) rotate(72.0)" font-size="43" text-anchor="middle" y="14.2" fill="#111">29</text>
<text transform="translate(2071.0 3329.1) rotate(70.0)" font-size="43" text-anchor="middle" y="14.2" fill="#111">26</text>
<text transform="translate(2192.3 3334.7) rotate(80.0)" font-size="43" text-anchor="middle" y="14.2" fill="#111">23</text>
<text transform="translate(1893.7 3571.8) rotate(80.0)" font-size="43" text-anchor="middle" y="14.2" fill="#111">32</text>
<text transform="translate(2003.8 3663.2) rotate(-85.0)" font-size="43" text-anchor="middle" y="14.2" fill="#111">29</text>
<text transform="translate(2168.1 3657.6) rotate(-55.0)" font-size="43" text-anchor="middle" y="14.2" fill="#111">26</text>
<text transform="translate(2227.8 3672.6) rotate(-80.0)" font-size="43" text-anchor="middle" y="14.2" fill="#111">23</text>
</g>
<rect x="1825.8" y="3232.0" width="473.9" height="782.2" fill="none" stroke="#7a7a7a" stroke-width="2"/>
<path d="M1865.3 3232.0v-10.0M1865.3 4014.2v10.0M1944.3 3232.0v-10.0M1944.3 4014.2v10.0M2023.3 3232.0v-10.0M2023.3 4014.2v10.0M2102.2 3232.0v-10.0M2102.2 4014.2v10.0M2181.2 3232.0v-10.0M2181.2 4014.2v10.0M2260.2 3232.0v-10.0M2260.2 4014.2v10.0M1825.8 3232.0h-10.0M2299.7 3232.0h10.0M1825.8 3310.2h-10.0M2299.7 3310.2h10.0M1825.8 3388.4h-10.0M2299.7 3388.4h10.0M1825.8 3466.7h-10.0M2299.7 3466.7h10.0M1825.8 3544.9h-10.0M2299.7 3544.9h10.0M1825.8 3623.1h-10.0M2299.7 3623.1h10.0M1825.8 3701.3h-10.0M2299.7 3701.3h10.0M1825.8 3779.5h-10.0M2299.7 3779.5h10.0M1825.8 3857.8h-10.0M2299.7 3857.8h10.0M1825.8 3936.0h-10.0M2299.7 3936.0h10.0M1825.8 4014.2h-10.0M2299.7 4014.2h10.0" stroke="#7a7a7a" stroke-width="2" fill="none"/>
<text fill="#1c1c1c" transform="translate(1865.3 4066.2) scale(1.060 1)" font-size="42" text-anchor="middle">4</text>
<text fill="#1c1c1c" transform="translate(1944.3 4066.2) scale(1.060 1)" font-size="42" text-anchor="middle">6</text>
<text fill="#1c1c1c" transform="translate(2023.3 4066.2) scale(1.060 1)" font-size="42" text-anchor="middle">8</text>
<text fill="#1c1c1c" transform="translate(2102.2 4066.2) scale(1.060 1)" font-size="42" text-anchor="middle">10</text>
<text fill="#1c1c1c" transform="translate(2181.2 4066.2) scale(1.060 1)" font-size="42" text-anchor="middle">12</text>
<text fill="#1c1c1c" transform="translate(2260.2 4066.2) scale(1.060 1)" font-size="42" text-anchor="middle">14</text>
<text fill="#1c1c1c" transform="translate(1813.8 3246.0) scale(1.060 1)" font-size="42" text-anchor="end">0</text>
<text fill="#1c1c1c" transform="translate(1813.8 3324.2) scale(1.060 1)" font-size="42" text-anchor="end">-2</text>
<text fill="#1c1c1c" transform="translate(1813.8 3402.4) scale(1.060 1)" font-size="42" text-anchor="end">-4</text>
<text fill="#1c1c1c" transform="translate(1813.8 3480.7) scale(1.060 1)" font-size="42" text-anchor="end">-6</text>
<text fill="#1c1c1c" transform="translate(1813.8 3558.9) scale(1.060 1)" font-size="42" text-anchor="end">-8</text>
<text fill="#1c1c1c" transform="translate(1813.8 3637.1) scale(1.060 1)" font-size="42" text-anchor="end">-10</text>
<text fill="#1c1c1c" transform="translate(1813.8 3715.3) scale(1.060 1)" font-size="42" text-anchor="end">-12</text>
<text fill="#1c1c1c" transform="translate(1813.8 3793.5) scale(1.060 1)" font-size="42" text-anchor="end">-14</text>
<text fill="#1c1c1c" transform="translate(1813.8 3871.8) scale(1.060 1)" font-size="42" text-anchor="end">-16</text>
<text fill="#1c1c1c" transform="translate(1813.8 3950.0) scale(1.060 1)" font-size="42" text-anchor="end">-18</text>
<text fill="#1c1c1c" transform="translate(1813.8 4028.2) scale(1.060 1)" font-size="42" text-anchor="end">-20</text>
<text fill="#1c1c1c" transform="translate(2062.8 4125.2) scale(1.060 1)" font-size="43" text-anchor="middle">Horizontal distance/cm</text>
<text fill="#1c1c1c" transform="translate(1733.8 3620.6) rotate(-90) scale(1.060 1)" font-size="43" text-anchor="middle">Vertical distance/cm</text>
<text transform="translate(2076.7 4195.7) scale(1.04 1)" font-size="59" text-anchor="middle" fill="#000">180 s</text>
<rect x="2373.6" y="3867.53" width="34.0" height="27.77" fill="#000000"/>
<rect x="2373.6" y="3840.05" width="34.0" height="27.77" fill="#00007A"/>
<rect x="2373.6" y="3812.58" width="34.0" height="27.77" fill="#0000FF"/>
<rect x="2373.6" y="3785.11" width="34.0" height="27.77" fill="#0055FF"/>
<rect x="2373.6" y="3757.63" width="34.0" height="27.77" fill="#00BFFF"/>
<rect x="2373.6" y="3730.16" width="34.0" height="27.77" fill="#00F5E6"/>
<rect x="2373.6" y="3702.68" width="34.0" height="27.77" fill="#00DDB0"/>
<rect x="2373.6" y="3675.21" width="34.0" height="27.77" fill="#00C870"/>
<rect x="2373.6" y="3647.74" width="34.0" height="27.77" fill="#00B020"/>
<rect x="2373.6" y="3620.26" width="34.0" height="27.77" fill="#00A800"/>
<rect x="2373.6" y="3592.79" width="34.0" height="27.77" fill="#90E000"/>
<rect x="2373.6" y="3565.32" width="34.0" height="27.77" fill="#FFE500"/>
<rect x="2373.6" y="3537.84" width="34.0" height="27.77" fill="#FFA500"/>
<rect x="2373.6" y="3510.37" width="34.0" height="27.77" fill="#FF5F00"/>
<rect x="2373.6" y="3482.89" width="34.0" height="27.77" fill="#FF1400"/>
<rect x="2373.6" y="3455.42" width="34.0" height="27.77" fill="#FF3232"/>
<rect x="2373.6" y="3427.95" width="34.0" height="27.77" fill="#FF8C8C"/>
<rect x="2373.6" y="3400.47" width="34.0" height="27.77" fill="#FFE5E5"/>
<rect x="2373.6" y="3373.00" width="34.0" height="27.77" fill="#FFFFFF"/>
<path d="M2373.6 3867.5h34.0M2373.6 3840.1h34.0M2373.6 3812.6h34.0M2373.6 3785.1h34.0M2373.6 3757.6h34.0M2373.6 3730.2h34.0M2373.6 3702.7h34.0M2373.6 3675.2h34.0M2373.6 3647.7h34.0M2373.6 3620.3h34.0M2373.6 3592.8h34.0M2373.6 3565.3h34.0M2373.6 3537.8h34.0M2373.6 3510.4h34.0M2373.6 3482.9h34.0M2373.6 3455.4h34.0M2373.6 3427.9h34.0M2373.6 3400.5h34.0" stroke="#333" stroke-opacity="0.6" stroke-width="1.2" fill="none"/>
<rect x="2373.6" y="3373.0" width="34.0" height="522.0" fill="none" stroke="#666" stroke-width="1.6"/>
<text fill="#1c1c1c" transform="translate(2420.6 3908.5) scale(1.060 1)" font-size="42">17</text>
<text fill="#1c1c1c" transform="translate(2420.6 3853.6) scale(1.060 1)" font-size="42">19</text>
<text fill="#1c1c1c" transform="translate(2420.6 3798.6) scale(1.060 1)" font-size="42">21</text>
<text fill="#1c1c1c" transform="translate(2420.6 3743.7) scale(1.060 1)" font-size="42">23</text>
<text fill="#1c1c1c" transform="translate(2420.6 3688.7) scale(1.060 1)" font-size="42">25</text>
<text fill="#1c1c1c" transform="translate(2420.6 3633.8) scale(1.060 1)" font-size="42">27</text>
<text fill="#1c1c1c" transform="translate(2420.6 3578.8) scale(1.060 1)" font-size="42">29</text>
<text fill="#1c1c1c" transform="translate(2420.6 3523.9) scale(1.060 1)" font-size="42">31</text>
<text fill="#1c1c1c" transform="translate(2420.6 3468.9) scale(1.060 1)" font-size="42">33</text>
<text fill="#1c1c1c" transform="translate(2420.6 3414.0) scale(1.060 1)" font-size="42">35</text>
</svg>
</body></html>
